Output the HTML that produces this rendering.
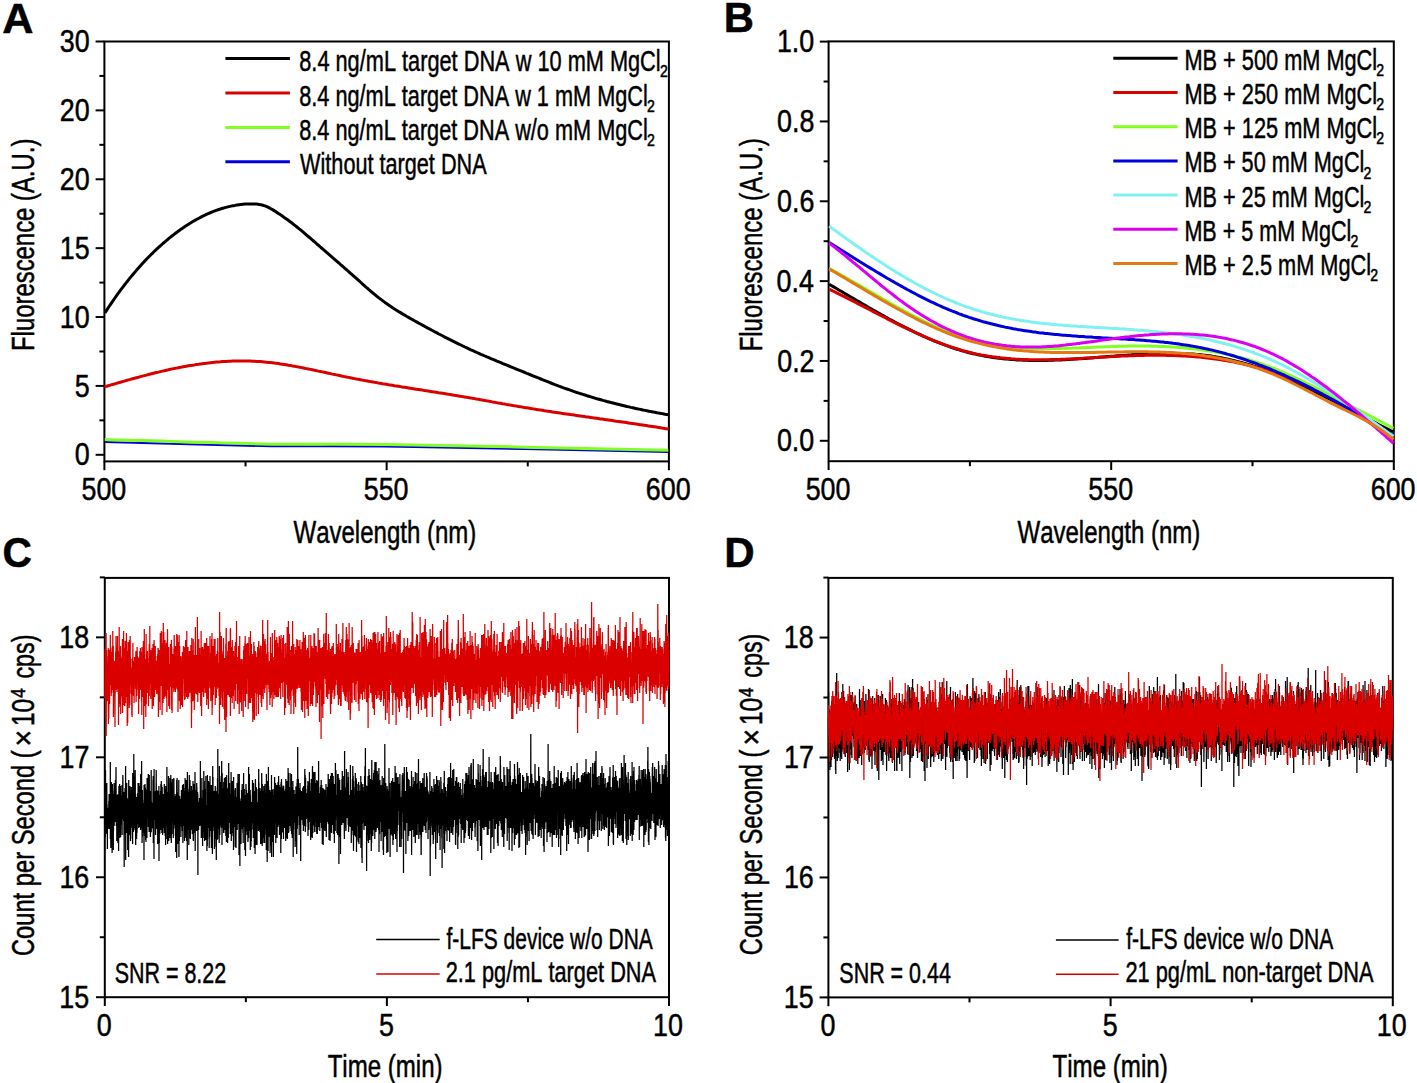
<!DOCTYPE html>
<html><head><meta charset="utf-8"><style>
html,body{margin:0;padding:0;background:#fff;}
svg{display:block;}
text{font-family:"Liberation Sans",sans-serif;font-kerning:none;fill:#000;stroke:#000;stroke-width:0.5px;}
</style></head><body>
<svg width="1417" height="1083" viewBox="0 0 1417 1083">
<rect width="1417" height="1083" fill="#fff"/>
<text transform="translate(2.22 32.90) scale(1.0052 1)" font-size="43" font-weight="bold">A</text>
<rect x="104.40" y="41.50" width="564.50" height="419.90" fill="none" stroke="#000" stroke-width="2"/>
<line x1="95.60" y1="41.50" x2="104.40" y2="41.50" stroke="#000" stroke-width="2" stroke-linecap="butt"/>
<text transform="translate(59.75 52.10) scale(0.8400 1)" font-size="32">30</text>
<line x1="95.60" y1="110.38" x2="104.40" y2="110.38" stroke="#000" stroke-width="2" stroke-linecap="butt"/>
<text transform="translate(59.75 120.98) scale(0.8400 1)" font-size="32">20</text>
<line x1="95.60" y1="179.27" x2="104.40" y2="179.27" stroke="#000" stroke-width="2" stroke-linecap="butt"/>
<text transform="translate(59.75 189.87) scale(0.8400 1)" font-size="32">20</text>
<line x1="95.60" y1="248.15" x2="104.40" y2="248.15" stroke="#000" stroke-width="2" stroke-linecap="butt"/>
<text transform="translate(59.83 258.75) scale(0.8400 1)" font-size="32">15</text>
<line x1="95.60" y1="317.03" x2="104.40" y2="317.03" stroke="#000" stroke-width="2" stroke-linecap="butt"/>
<text transform="translate(59.75 327.63) scale(0.8400 1)" font-size="32">10</text>
<line x1="95.60" y1="385.92" x2="104.40" y2="385.92" stroke="#000" stroke-width="2" stroke-linecap="butt"/>
<text transform="translate(74.78 396.52) scale(0.8400 1)" font-size="32">5</text>
<line x1="95.60" y1="454.80" x2="104.40" y2="454.80" stroke="#000" stroke-width="2" stroke-linecap="butt"/>
<text transform="translate(74.70 465.40) scale(0.8400 1)" font-size="32">0</text>
<line x1="99.40" y1="75.94" x2="104.40" y2="75.94" stroke="#000" stroke-width="2" stroke-linecap="butt"/>
<line x1="99.40" y1="144.83" x2="104.40" y2="144.83" stroke="#000" stroke-width="2" stroke-linecap="butt"/>
<line x1="99.40" y1="213.71" x2="104.40" y2="213.71" stroke="#000" stroke-width="2" stroke-linecap="butt"/>
<line x1="99.40" y1="282.59" x2="104.40" y2="282.59" stroke="#000" stroke-width="2" stroke-linecap="butt"/>
<line x1="99.40" y1="351.48" x2="104.40" y2="351.48" stroke="#000" stroke-width="2" stroke-linecap="butt"/>
<line x1="99.40" y1="420.36" x2="104.40" y2="420.36" stroke="#000" stroke-width="2" stroke-linecap="butt"/>
<line x1="104.40" y1="461.40" x2="104.40" y2="470.20" stroke="#000" stroke-width="2" stroke-linecap="butt"/>
<text transform="translate(81.46 499.90) scale(0.8400 1)" font-size="32">500</text>
<line x1="386.65" y1="461.40" x2="386.65" y2="470.20" stroke="#000" stroke-width="2" stroke-linecap="butt"/>
<text transform="translate(363.71 499.90) scale(0.8400 1)" font-size="32">550</text>
<line x1="668.90" y1="461.40" x2="668.90" y2="470.20" stroke="#000" stroke-width="2" stroke-linecap="butt"/>
<text transform="translate(645.82 499.90) scale(0.8400 1)" font-size="32">600</text>
<line x1="245.53" y1="461.40" x2="245.53" y2="466.40" stroke="#000" stroke-width="2" stroke-linecap="butt"/>
<line x1="527.77" y1="461.40" x2="527.77" y2="466.40" stroke="#000" stroke-width="2" stroke-linecap="butt"/>
<text transform="translate(293.49 543.40) scale(0.7749 1)" font-size="31">Wavelength (nm)</text>
<g transform="translate(34.3 349) rotate(-90)">
<text transform="translate(-1.96 0.00) scale(0.7707 1)" font-size="31">Fluorescence (A.U.)</text>
</g>
<path d="M104.8 442.0C130.8 442.6 211.5 445.1 260.7 445.9C309.9 446.7 332.1 445.7 400.0 446.7C467.9 447.7 623.6 451.1 668.3 452.0" fill="none" stroke="#0000dc" stroke-width="2.2" stroke-linejoin="round"/>
<path d="M104.8 439.4C130.8 440.1 211.5 443.0 260.7 443.9C309.9 444.8 332.1 443.6 400.0 444.7C467.9 445.8 623.6 449.3 668.3 450.2" fill="none" stroke="#80ff20" stroke-width="3" stroke-linejoin="round"/>
<path d="M104.4 386.9 106.4 386.3 108.4 385.7 110.4 385.1 112.4 384.5 114.4 384.0 116.4 383.4 118.4 382.8 120.4 382.2 122.4 381.6 124.4 381.1 126.4 380.5 128.4 379.9 130.4 379.4 132.4 378.8 134.4 378.3 136.4 377.7 138.4 377.2 140.4 376.6 142.4 376.1 144.4 375.6 146.4 375.1 148.4 374.5 150.4 374.0 152.4 373.5 154.4 373.0 156.4 372.5 158.4 372.1 160.4 371.6 162.4 371.1 164.4 370.7 166.4 370.2 168.4 369.8 170.4 369.3 172.4 368.9 174.4 368.5 176.4 368.1 178.4 367.7 180.4 367.3 182.4 366.9 184.4 366.6 186.4 366.2 188.4 365.8 190.4 365.5 192.4 365.2 194.4 364.9 196.4 364.5 198.4 364.3 200.4 364.0 202.4 363.7 204.4 363.4 206.4 363.2 208.4 362.9 210.4 362.7 212.4 362.5 214.4 362.3 216.4 362.1 218.4 361.9 220.4 361.8 222.4 361.6 224.4 361.5 226.4 361.4 228.4 361.3 230.4 361.2 232.4 361.1 234.4 361.0 236.4 361.0 238.4 361.0 240.4 360.9 242.4 360.9 244.4 361.0 246.4 361.0 248.4 361.0 250.4 361.1 252.4 361.2 254.4 361.3 256.4 361.4 258.4 361.5 260.4 361.6 262.4 361.8 264.4 362.0 266.4 362.2 268.4 362.4 270.4 362.6 272.4 362.8 274.4 363.1 276.4 363.3 278.4 363.6 280.4 363.9 282.4 364.2 284.4 364.5 286.4 364.8 288.4 365.2 290.4 365.5 292.4 365.9 294.4 366.2 296.4 366.6 298.4 367.0 300.4 367.4 302.4 367.8 304.4 368.2 306.4 368.6 308.4 369.0 310.4 369.4 312.4 369.8 314.4 370.2 316.4 370.6 318.4 371.1 320.4 371.5 322.4 371.9 324.4 372.3 326.4 372.8 328.4 373.2 330.4 373.6 332.4 374.1 334.4 374.5 336.4 374.9 338.4 375.3 340.4 375.7 342.4 376.2 344.4 376.6 346.4 377.0 348.4 377.4 350.4 377.8 352.4 378.2 354.4 378.6 356.4 379.0 358.4 379.3 360.4 379.7 362.4 380.1 364.4 380.5 366.4 380.8 368.4 381.2 370.4 381.6 372.4 381.9 374.4 382.3 376.4 382.6 378.4 383.0 380.4 383.3 382.4 383.7 384.4 384.0 386.4 384.3 388.4 384.7 390.4 385.0 392.4 385.3 394.4 385.7 396.4 386.0 398.4 386.3 400.4 386.6 402.4 387.0 404.4 387.3 406.4 387.6 408.4 387.9 410.4 388.2 412.4 388.6 414.4 388.9 416.4 389.2 418.4 389.5 420.4 389.8 422.4 390.1 424.4 390.5 426.4 390.8 428.4 391.1 430.4 391.4 432.4 391.7 434.4 392.0 436.4 392.3 438.4 392.7 440.4 393.0 442.4 393.3 444.4 393.6 446.4 393.9 448.4 394.3 450.4 394.6 452.4 394.9 454.4 395.2 456.4 395.6 458.4 395.9 460.4 396.2 462.4 396.6 464.4 396.9 466.4 397.2 468.4 397.6 470.4 397.9 472.4 398.3 474.4 398.6 476.4 399.0 478.4 399.3 480.4 399.7 482.4 400.1 484.4 400.4 486.4 400.8 488.4 401.1 490.4 401.5 492.4 401.9 494.4 402.2 496.4 402.6 498.4 403.0 500.4 403.3 502.4 403.7 504.4 404.0 506.4 404.4 508.4 404.7 510.4 405.1 512.4 405.4 514.4 405.8 516.4 406.1 518.4 406.5 520.4 406.8 522.4 407.1 524.4 407.5 526.4 407.8 528.4 408.1 530.4 408.4 532.4 408.8 534.4 409.1 536.4 409.4 538.4 409.7 540.4 410.0 542.4 410.3 544.4 410.7 546.4 411.0 548.4 411.3 550.4 411.6 552.4 411.9 554.4 412.2 556.4 412.5 558.4 412.8 560.4 413.1 562.4 413.4 564.4 413.7 566.4 414.0 568.4 414.3 570.4 414.6 572.4 414.8 574.4 415.1 576.4 415.4 578.4 415.7 580.4 416.0 582.4 416.3 584.4 416.6 586.4 416.9 588.4 417.1 590.4 417.4 592.4 417.7 594.4 418.0 596.4 418.3 598.4 418.6 600.4 418.9 602.4 419.1 604.4 419.4 606.4 419.7 608.4 420.0 610.4 420.3 612.4 420.6 614.4 420.9 616.4 421.2 618.4 421.4 620.4 421.7 622.4 422.0 624.4 422.3 626.4 422.6 628.4 422.9 630.4 423.2 632.4 423.5 634.4 423.8 636.4 424.1 638.4 424.4 640.4 424.7 642.4 425.0 644.4 425.3 646.4 425.6 648.4 425.9 650.4 426.2 652.4 426.5 654.4 426.8 656.4 427.1 658.4 427.4 660.4 427.7 662.4 428.1 664.4 428.4 666.4 428.7 668.4 429.0 668.7 429.1" fill="none" stroke="#da0000" stroke-width="3" stroke-linejoin="round"/>
<path d="M104.9 312.9 106.9 309.9 108.9 306.8 110.9 303.8 112.9 300.9 114.9 298.0 116.9 295.2 118.9 292.4 120.9 289.7 122.9 287.1 124.9 284.4 126.9 281.9 128.9 279.3 130.9 276.9 132.9 274.5 134.9 272.1 136.9 269.8 138.9 267.5 140.9 265.2 142.9 263.0 144.9 260.9 146.9 258.8 148.9 256.7 150.9 254.7 152.9 252.8 154.9 250.8 156.9 248.9 158.9 247.1 160.9 245.3 162.9 243.5 164.9 241.8 166.9 240.1 168.9 238.4 170.9 236.8 172.9 235.3 174.9 233.7 176.9 232.2 178.9 230.7 180.9 229.3 182.9 227.9 184.9 226.6 186.9 225.3 188.9 224.0 190.9 222.7 192.9 221.5 194.9 220.4 196.9 219.3 198.9 218.2 200.9 217.1 202.9 216.1 204.9 215.2 206.9 214.2 208.9 213.3 210.9 212.5 212.9 211.7 214.9 210.9 216.9 210.2 218.9 209.5 220.9 208.8 222.9 208.2 224.9 207.6 226.9 207.1 228.9 206.6 230.9 206.1 232.9 205.7 234.9 205.4 236.9 205.0 238.9 204.7 240.9 204.5 242.9 204.3 244.9 204.1 246.9 204.0 248.9 203.9 250.9 203.9 252.9 203.9 254.9 204.0 256.9 204.1 258.9 204.4 260.9 204.8 262.9 205.3 264.9 205.9 266.9 206.7 268.9 207.6 270.9 208.7 272.9 209.9 274.9 211.1 276.9 212.4 278.9 213.8 280.9 215.1 282.9 216.5 284.9 217.9 286.9 219.3 288.9 220.8 290.9 222.3 292.9 223.8 294.9 225.4 296.9 227.0 298.9 228.6 300.9 230.2 302.9 231.9 304.9 233.6 306.9 235.3 308.9 237.0 310.9 238.7 312.9 240.5 314.9 242.2 316.9 244.0 318.9 245.7 320.9 247.5 322.9 249.2 324.9 250.9 326.9 252.7 328.9 254.4 330.9 256.1 332.9 257.9 334.9 259.6 336.9 261.3 338.9 263.0 340.9 264.8 342.9 266.5 344.9 268.3 346.9 270.0 348.9 271.8 350.9 273.6 352.9 275.3 354.9 277.1 356.9 278.9 358.9 280.7 360.9 282.5 362.9 284.3 364.9 286.1 366.9 287.8 368.9 289.6 370.9 291.3 372.9 293.0 374.9 294.6 376.9 296.3 378.9 297.9 380.9 299.4 382.9 300.9 384.9 302.4 386.9 303.8 388.9 305.2 390.9 306.6 392.9 307.9 394.9 309.2 396.9 310.5 398.9 311.7 400.9 312.9 402.9 314.1 404.9 315.3 406.9 316.5 408.9 317.6 410.9 318.8 412.9 319.9 414.9 321.0 416.9 322.1 418.9 323.2 420.9 324.3 422.9 325.4 424.9 326.5 426.9 327.6 428.9 328.7 430.9 329.7 432.9 330.8 434.9 331.9 436.9 332.9 438.9 334.0 440.9 335.0 442.9 336.0 444.9 337.1 446.9 338.1 448.9 339.1 450.9 340.1 452.9 341.1 454.9 342.1 456.9 343.1 458.9 344.1 460.9 345.0 462.9 346.0 464.9 347.0 466.9 347.9 468.9 348.8 470.9 349.8 472.9 350.7 474.9 351.6 476.9 352.5 478.9 353.4 480.9 354.3 482.9 355.1 484.9 356.0 486.9 356.9 488.9 357.7 490.9 358.6 492.9 359.4 494.9 360.2 496.9 361.1 498.9 361.9 500.9 362.7 502.9 363.6 504.9 364.4 506.9 365.2 508.9 366.0 510.9 366.8 512.9 367.6 514.9 368.5 516.9 369.3 518.9 370.1 520.9 370.9 522.9 371.7 524.9 372.5 526.9 373.4 528.9 374.2 530.9 375.0 532.9 375.8 534.9 376.6 536.9 377.4 538.9 378.2 540.9 379.0 542.9 379.8 544.9 380.6 546.9 381.4 548.9 382.2 550.9 383.0 552.9 383.8 554.9 384.6 556.9 385.3 558.9 386.1 560.9 386.8 562.9 387.6 564.9 388.3 566.9 389.0 568.9 389.7 570.9 390.4 572.9 391.1 574.9 391.8 576.9 392.5 578.9 393.1 580.9 393.8 582.9 394.4 584.9 395.0 586.9 395.7 588.9 396.3 590.9 396.9 592.9 397.5 594.9 398.1 596.9 398.7 598.9 399.2 600.9 399.8 602.9 400.4 604.9 400.9 606.9 401.5 608.9 402.0 610.9 402.5 612.9 403.0 614.9 403.5 616.9 404.0 618.9 404.5 620.9 405.0 622.9 405.5 624.9 406.0 626.9 406.5 628.9 406.9 630.9 407.4 632.9 407.8 634.9 408.3 636.9 408.7 638.9 409.1 640.9 409.5 642.9 410.0 644.9 410.4 646.9 410.8 648.9 411.2 650.9 411.6 652.9 411.9 654.9 412.3 656.9 412.7 658.9 413.1 660.9 413.4 662.9 413.8 664.9 414.2 666.9 414.5 668.7 414.8" fill="none" stroke="#000" stroke-width="3" stroke-linejoin="round"/>
<line x1="225.40" y1="58.60" x2="289.90" y2="58.60" stroke="#000" stroke-width="3" stroke-linecap="butt"/>
<text transform="translate(299.25 71.20) scale(0.7256 1)" font-size="30">8.4 ng/mL target DNA w 10 mM MgCl</text>
<text transform="translate(659.99 77.40) scale(0.8800 1)" font-size="16">2</text>
<line x1="225.40" y1="93.00" x2="289.90" y2="93.00" stroke="#da0000" stroke-width="3" stroke-linecap="butt"/>
<text transform="translate(299.26 105.60) scale(0.7237 1)" font-size="30">8.4 ng/mL target DNA w 1 mM MgCl</text>
<text transform="translate(646.99 111.80) scale(0.8800 1)" font-size="16">2</text>
<line x1="225.40" y1="127.40" x2="289.90" y2="127.40" stroke="#80ff20" stroke-width="3" stroke-linecap="butt"/>
<text transform="translate(299.26 140.00) scale(0.7237 1)" font-size="30">8.4 ng/mL target DNA w/o mM MgCl</text>
<text transform="translate(646.99 146.20) scale(0.8800 1)" font-size="16">2</text>
<line x1="225.40" y1="161.80" x2="289.90" y2="161.80" stroke="#0000dc" stroke-width="3" stroke-linecap="butt"/>
<text transform="translate(300.10 174.40) scale(0.7218 1)" font-size="30">Without target DNA</text>
<text transform="translate(723.70 32.30) scale(0.9955 1)" font-size="42" font-weight="bold">B</text>
<rect x="828.60" y="41.40" width="565.20" height="419.80" fill="none" stroke="#000" stroke-width="2"/>
<line x1="819.80" y1="41.60" x2="828.60" y2="41.60" stroke="#000" stroke-width="2" stroke-linecap="butt"/>
<text transform="translate(776.88 52.20) scale(0.8400 1)" font-size="32">1.0</text>
<line x1="819.80" y1="121.44" x2="828.60" y2="121.44" stroke="#000" stroke-width="2" stroke-linecap="butt"/>
<text transform="translate(777.00 132.04) scale(0.8400 1)" font-size="32">0.8</text>
<line x1="819.80" y1="201.28" x2="828.60" y2="201.28" stroke="#000" stroke-width="2" stroke-linecap="butt"/>
<text transform="translate(777.01 211.88) scale(0.8400 1)" font-size="32">0.6</text>
<line x1="819.80" y1="281.12" x2="828.60" y2="281.12" stroke="#000" stroke-width="2" stroke-linecap="butt"/>
<text transform="translate(776.62 291.72) scale(0.8400 1)" font-size="32">0.4</text>
<line x1="819.80" y1="360.96" x2="828.60" y2="360.96" stroke="#000" stroke-width="2" stroke-linecap="butt"/>
<text transform="translate(777.19 371.56) scale(0.8400 1)" font-size="32">0.2</text>
<line x1="819.80" y1="440.80" x2="828.60" y2="440.80" stroke="#000" stroke-width="2" stroke-linecap="butt"/>
<text transform="translate(776.88 451.40) scale(0.8400 1)" font-size="32">0.0</text>
<line x1="823.60" y1="81.52" x2="828.60" y2="81.52" stroke="#000" stroke-width="2" stroke-linecap="butt"/>
<line x1="823.60" y1="161.36" x2="828.60" y2="161.36" stroke="#000" stroke-width="2" stroke-linecap="butt"/>
<line x1="823.60" y1="241.20" x2="828.60" y2="241.20" stroke="#000" stroke-width="2" stroke-linecap="butt"/>
<line x1="823.60" y1="321.04" x2="828.60" y2="321.04" stroke="#000" stroke-width="2" stroke-linecap="butt"/>
<line x1="823.60" y1="400.88" x2="828.60" y2="400.88" stroke="#000" stroke-width="2" stroke-linecap="butt"/>
<line x1="828.60" y1="461.20" x2="828.60" y2="470.00" stroke="#000" stroke-width="2" stroke-linecap="butt"/>
<text transform="translate(805.66 499.70) scale(0.8400 1)" font-size="32">500</text>
<line x1="1111.20" y1="461.20" x2="1111.20" y2="470.00" stroke="#000" stroke-width="2" stroke-linecap="butt"/>
<text transform="translate(1088.26 499.70) scale(0.8400 1)" font-size="32">550</text>
<line x1="1393.80" y1="461.20" x2="1393.80" y2="470.00" stroke="#000" stroke-width="2" stroke-linecap="butt"/>
<text transform="translate(1370.72 499.70) scale(0.8400 1)" font-size="32">600</text>
<line x1="969.90" y1="461.20" x2="969.90" y2="466.20" stroke="#000" stroke-width="2" stroke-linecap="butt"/>
<line x1="1252.50" y1="461.20" x2="1252.50" y2="466.20" stroke="#000" stroke-width="2" stroke-linecap="butt"/>
<text transform="translate(1017.49 543.40) scale(0.7749 1)" font-size="31">Wavelength (nm)</text>
<g transform="translate(761.5 349.4) rotate(-90)">
<text transform="translate(-1.97 0.00) scale(0.7737 1)" font-size="31">Fluorescence (A.U.)</text>
</g>
<path d="M829.2 284.3 831.2 285.5 833.2 286.6 835.2 287.8 837.2 289.0 839.2 290.2 841.2 291.3 843.2 292.5 845.2 293.7 847.2 294.9 849.2 296.0 851.2 297.2 853.2 298.4 855.2 299.6 857.2 300.7 859.2 301.9 861.2 303.1 863.2 304.2 865.2 305.4 867.2 306.6 869.2 307.7 871.2 308.9 873.2 310.0 875.2 311.1 877.2 312.3 879.2 313.4 881.2 314.5 883.2 315.6 885.2 316.8 887.2 317.9 889.2 319.0 891.2 320.0 893.2 321.1 895.2 322.2 897.2 323.3 899.2 324.3 901.2 325.3 903.2 326.4 905.2 327.4 907.2 328.4 909.2 329.4 911.2 330.4 913.2 331.4 915.2 332.4 917.2 333.3 919.2 334.2 921.2 335.2 923.2 336.1 925.2 337.0 927.2 337.9 929.2 338.8 931.2 339.6 933.2 340.5 935.2 341.3 937.2 342.1 939.2 342.9 941.2 343.7 943.2 344.4 945.2 345.2 947.2 345.9 949.2 346.6 951.2 347.3 953.2 348.0 955.2 348.7 957.2 349.3 959.2 349.9 961.2 350.5 963.2 351.1 965.2 351.6 967.2 352.2 969.2 352.7 971.2 353.2 973.2 353.7 975.2 354.1 977.2 354.6 979.2 355.0 981.2 355.4 983.2 355.8 985.2 356.2 987.2 356.5 989.2 356.8 991.2 357.2 993.2 357.5 995.2 357.7 997.2 358.0 999.2 358.3 1001.2 358.5 1003.2 358.7 1005.2 358.9 1007.2 359.1 1009.2 359.3 1011.2 359.5 1013.2 359.6 1015.2 359.7 1017.2 359.9 1019.2 360.0 1021.2 360.1 1023.2 360.2 1025.2 360.2 1027.2 360.3 1029.2 360.4 1031.2 360.4 1033.2 360.4 1035.2 360.4 1037.2 360.5 1039.2 360.5 1041.2 360.4 1043.2 360.4 1045.2 360.4 1047.2 360.4 1049.2 360.3 1051.2 360.3 1053.2 360.2 1055.2 360.1 1057.2 360.1 1059.2 360.0 1061.2 359.9 1063.2 359.8 1065.2 359.7 1067.2 359.6 1069.2 359.5 1071.2 359.3 1073.2 359.2 1075.2 359.1 1077.2 359.0 1079.2 358.8 1081.2 358.7 1083.2 358.5 1085.2 358.4 1087.2 358.2 1089.2 358.1 1091.2 357.9 1093.2 357.8 1095.2 357.6 1097.2 357.5 1099.2 357.3 1101.2 357.1 1103.2 357.0 1105.2 356.8 1107.2 356.6 1109.2 356.5 1111.2 356.3 1113.2 356.2 1115.2 356.0 1117.2 355.8 1119.2 355.7 1121.2 355.5 1123.2 355.4 1125.2 355.2 1127.2 355.1 1129.2 354.9 1131.2 354.8 1133.2 354.6 1135.2 354.5 1137.2 354.4 1139.2 354.3 1141.2 354.1 1143.2 354.0 1145.2 353.9 1147.2 353.8 1149.2 353.7 1151.2 353.7 1153.2 353.6 1155.2 353.5 1157.2 353.5 1159.2 353.4 1161.2 353.4 1163.2 353.3 1165.2 353.3 1167.2 353.3 1169.2 353.3 1171.2 353.3 1173.2 353.3 1175.2 353.3 1177.2 353.4 1179.2 353.4 1181.2 353.5 1183.2 353.5 1185.2 353.6 1187.2 353.7 1189.2 353.9 1191.2 354.0 1193.2 354.1 1195.2 354.3 1197.2 354.5 1199.2 354.6 1201.2 354.8 1203.2 355.1 1205.2 355.3 1207.2 355.5 1209.2 355.8 1211.2 356.1 1213.2 356.4 1215.2 356.7 1217.2 357.1 1219.2 357.4 1221.2 357.8 1223.2 358.2 1225.2 358.6 1227.2 359.0 1229.2 359.4 1231.2 359.9 1233.2 360.4 1235.2 360.9 1237.2 361.4 1239.2 361.9 1241.2 362.4 1243.2 363.0 1245.2 363.5 1247.2 364.1 1249.2 364.7 1251.2 365.3 1253.2 366.0 1255.2 366.6 1257.2 367.3 1259.2 367.9 1261.2 368.6 1263.2 369.3 1265.2 370.0 1267.2 370.7 1269.2 371.5 1271.2 372.2 1273.2 373.0 1275.2 373.8 1277.2 374.6 1279.2 375.4 1281.2 376.2 1283.2 377.1 1285.2 377.9 1287.2 378.8 1289.2 379.6 1291.2 380.5 1293.2 381.4 1295.2 382.3 1297.2 383.2 1299.2 384.1 1301.2 385.1 1303.2 386.0 1305.2 386.9 1307.2 387.9 1309.2 388.9 1311.2 389.8 1313.2 390.8 1315.2 391.8 1317.2 392.8 1319.2 393.8 1321.2 394.8 1323.2 395.8 1325.2 396.8 1327.2 397.8 1329.2 398.8 1331.2 399.9 1333.2 400.9 1335.2 401.9 1337.2 403.0 1339.2 404.0 1341.2 405.0 1343.2 406.1 1345.2 407.1 1347.2 408.2 1349.2 409.2 1351.2 410.2 1353.2 411.3 1355.2 412.3 1357.2 413.4 1359.2 414.4 1361.2 415.5 1363.2 416.5 1365.2 417.6 1367.2 418.6 1369.2 419.6 1371.2 420.7 1373.2 421.7 1375.2 422.7 1377.2 423.7 1379.2 424.8 1381.2 425.8 1383.2 426.8 1385.2 427.8 1387.2 428.8 1389.2 429.8 1391.2 430.8 1393.2 431.7 1393.5 431.9" fill="none" stroke="#000" stroke-width="3" stroke-linejoin="round"/>
<path d="M829.2 289.2 831.2 290.2 833.2 291.2 835.2 292.1 837.2 293.1 839.2 294.1 841.2 295.1 843.2 296.1 845.2 297.1 847.2 298.1 849.2 299.2 851.2 300.2 853.2 301.2 855.2 302.2 857.2 303.3 859.2 304.3 861.2 305.3 863.2 306.4 865.2 307.4 867.2 308.4 869.2 309.5 871.2 310.5 873.2 311.6 875.2 312.6 877.2 313.6 879.2 314.7 881.2 315.7 883.2 316.7 885.2 317.7 887.2 318.8 889.2 319.8 891.2 320.8 893.2 321.8 895.2 322.8 897.2 323.8 899.2 324.8 901.2 325.8 903.2 326.8 905.2 327.7 907.2 328.7 909.2 329.6 911.2 330.6 913.2 331.5 915.2 332.5 917.2 333.4 919.2 334.3 921.2 335.2 923.2 336.1 925.2 336.9 927.2 337.8 929.2 338.6 931.2 339.5 933.2 340.3 935.2 341.1 937.2 341.9 939.2 342.7 941.2 343.4 943.2 344.2 945.2 344.9 947.2 345.6 949.2 346.3 951.2 347.0 953.2 347.6 955.2 348.3 957.2 348.9 959.2 349.5 961.2 350.1 963.2 350.7 965.2 351.2 967.2 351.7 969.2 352.2 971.2 352.7 973.2 353.2 975.2 353.6 977.2 354.1 979.2 354.5 981.2 354.9 983.2 355.2 985.2 355.6 987.2 355.9 989.2 356.3 991.2 356.6 993.2 356.9 995.2 357.1 997.2 357.4 999.2 357.6 1001.2 357.9 1003.2 358.1 1005.2 358.3 1007.2 358.5 1009.2 358.6 1011.2 358.8 1013.2 358.9 1015.2 359.1 1017.2 359.2 1019.2 359.3 1021.2 359.4 1023.2 359.5 1025.2 359.6 1027.2 359.6 1029.2 359.7 1031.2 359.7 1033.2 359.7 1035.2 359.8 1037.2 359.8 1039.2 359.8 1041.2 359.8 1043.2 359.8 1045.2 359.8 1047.2 359.7 1049.2 359.7 1051.2 359.6 1053.2 359.6 1055.2 359.5 1057.2 359.5 1059.2 359.4 1061.2 359.3 1063.2 359.3 1065.2 359.2 1067.2 359.1 1069.2 359.0 1071.2 358.9 1073.2 358.8 1075.2 358.7 1077.2 358.6 1079.2 358.5 1081.2 358.4 1083.2 358.3 1085.2 358.1 1087.2 358.0 1089.2 357.9 1091.2 357.8 1093.2 357.7 1095.2 357.6 1097.2 357.4 1099.2 357.3 1101.2 357.2 1103.2 357.1 1105.2 357.0 1107.2 356.9 1109.2 356.7 1111.2 356.6 1113.2 356.5 1115.2 356.4 1117.2 356.3 1119.2 356.2 1121.2 356.1 1123.2 356.0 1125.2 356.0 1127.2 355.9 1129.2 355.8 1131.2 355.7 1133.2 355.7 1135.2 355.6 1137.2 355.5 1139.2 355.5 1141.2 355.4 1143.2 355.4 1145.2 355.3 1147.2 355.3 1149.2 355.3 1151.2 355.3 1153.2 355.3 1155.2 355.3 1157.2 355.3 1159.2 355.3 1161.2 355.3 1163.2 355.3 1165.2 355.3 1167.2 355.4 1169.2 355.4 1171.2 355.5 1173.2 355.5 1175.2 355.6 1177.2 355.7 1179.2 355.8 1181.2 355.9 1183.2 356.0 1185.2 356.1 1187.2 356.2 1189.2 356.3 1191.2 356.5 1193.2 356.6 1195.2 356.8 1197.2 356.9 1199.2 357.1 1201.2 357.3 1203.2 357.5 1205.2 357.7 1207.2 358.0 1209.2 358.2 1211.2 358.4 1213.2 358.7 1215.2 359.0 1217.2 359.2 1219.2 359.5 1221.2 359.8 1223.2 360.2 1225.2 360.5 1227.2 360.8 1229.2 361.2 1231.2 361.5 1233.2 361.9 1235.2 362.3 1237.2 362.7 1239.2 363.1 1241.2 363.6 1243.2 364.0 1245.2 364.5 1247.2 365.0 1249.2 365.5 1251.2 366.0 1253.2 366.5 1255.2 367.0 1257.2 367.6 1259.2 368.1 1261.2 368.7 1263.2 369.3 1265.2 369.9 1267.2 370.5 1269.2 371.2 1271.2 371.8 1273.2 372.5 1275.2 373.2 1277.2 373.9 1279.2 374.6 1281.2 375.4 1283.2 376.1 1285.2 376.9 1287.2 377.7 1289.2 378.5 1291.2 379.3 1293.2 380.2 1295.2 381.0 1297.2 381.9 1299.2 382.8 1301.2 383.7 1303.2 384.6 1305.2 385.5 1307.2 386.5 1309.2 387.4 1311.2 388.4 1313.2 389.4 1315.2 390.4 1317.2 391.4 1319.2 392.4 1321.2 393.5 1323.2 394.5 1325.2 395.6 1327.2 396.7 1329.2 397.8 1331.2 398.9 1333.2 400.0 1335.2 401.2 1337.2 402.3 1339.2 403.5 1341.2 404.7 1343.2 405.9 1345.2 407.1 1347.2 408.3 1349.2 409.5 1351.2 410.7 1353.2 412.0 1355.2 413.3 1357.2 414.6 1359.2 415.8 1361.2 417.1 1363.2 418.5 1365.2 419.8 1367.2 421.1 1369.2 422.5 1371.2 423.8 1373.2 425.2 1375.2 426.6 1377.2 428.0 1379.2 429.4 1381.2 430.8 1383.2 432.2 1385.2 433.7 1387.2 435.1 1389.2 436.6 1391.2 438.1 1393.2 439.5 1393.5 439.8" fill="none" stroke="#da0000" stroke-width="3" stroke-linejoin="round"/>
<path d="M829.2 268.4 831.2 269.5 833.2 270.6 835.2 271.7 837.2 272.8 839.2 273.9 841.2 275.0 843.2 276.1 845.2 277.3 847.2 278.4 849.2 279.5 851.2 280.7 853.2 281.8 855.2 283.0 857.2 284.1 859.2 285.3 861.2 286.4 863.2 287.6 865.2 288.8 867.2 289.9 869.2 291.1 871.2 292.3 873.2 293.4 875.2 294.6 877.2 295.7 879.2 296.9 881.2 298.1 883.2 299.2 885.2 300.4 887.2 301.5 889.2 302.6 891.2 303.8 893.2 304.9 895.2 306.0 897.2 307.2 899.2 308.3 901.2 309.4 903.2 310.5 905.2 311.6 907.2 312.6 909.2 313.7 911.2 314.8 913.2 315.8 915.2 316.9 917.2 317.9 919.2 318.9 921.2 319.9 923.2 320.9 925.2 321.9 927.2 322.8 929.2 323.8 931.2 324.7 933.2 325.7 935.2 326.6 937.2 327.5 939.2 328.3 941.2 329.2 943.2 330.0 945.2 330.9 947.2 331.7 949.2 332.5 951.2 333.2 953.2 334.0 955.2 334.7 957.2 335.4 959.2 336.1 961.2 336.8 963.2 337.4 965.2 338.1 967.2 338.7 969.2 339.2 971.2 339.8 973.2 340.3 975.2 340.9 977.2 341.4 979.2 341.8 981.2 342.3 983.2 342.7 985.2 343.1 987.2 343.5 989.2 343.9 991.2 344.3 993.2 344.6 995.2 345.0 997.2 345.3 999.2 345.6 1001.2 345.9 1003.2 346.1 1005.2 346.4 1007.2 346.6 1009.2 346.8 1011.2 347.0 1013.2 347.2 1015.2 347.4 1017.2 347.6 1019.2 347.7 1021.2 347.9 1023.2 348.0 1025.2 348.1 1027.2 348.2 1029.2 348.3 1031.2 348.4 1033.2 348.4 1035.2 348.5 1037.2 348.5 1039.2 348.6 1041.2 348.6 1043.2 348.6 1045.2 348.6 1047.2 348.7 1049.2 348.6 1051.2 348.6 1053.2 348.6 1055.2 348.6 1057.2 348.6 1059.2 348.5 1061.2 348.5 1063.2 348.4 1065.2 348.4 1067.2 348.3 1069.2 348.3 1071.2 348.2 1073.2 348.1 1075.2 348.1 1077.2 348.0 1079.2 347.9 1081.2 347.8 1083.2 347.7 1085.2 347.7 1087.2 347.6 1089.2 347.5 1091.2 347.4 1093.2 347.3 1095.2 347.2 1097.2 347.1 1099.2 347.1 1101.2 347.0 1103.2 346.9 1105.2 346.8 1107.2 346.7 1109.2 346.7 1111.2 346.6 1113.2 346.5 1115.2 346.5 1117.2 346.4 1119.2 346.3 1121.2 346.3 1123.2 346.2 1125.2 346.2 1127.2 346.2 1129.2 346.1 1131.2 346.1 1133.2 346.1 1135.2 346.1 1137.2 346.0 1139.2 346.0 1141.2 346.0 1143.2 346.1 1145.2 346.1 1147.2 346.1 1149.2 346.1 1151.2 346.2 1153.2 346.2 1155.2 346.2 1157.2 346.3 1159.2 346.4 1161.2 346.4 1163.2 346.5 1165.2 346.6 1167.2 346.7 1169.2 346.8 1171.2 346.9 1173.2 347.0 1175.2 347.2 1177.2 347.3 1179.2 347.5 1181.2 347.6 1183.2 347.8 1185.2 348.0 1187.2 348.2 1189.2 348.4 1191.2 348.6 1193.2 348.8 1195.2 349.0 1197.2 349.3 1199.2 349.5 1201.2 349.8 1203.2 350.1 1205.2 350.4 1207.2 350.7 1209.2 351.0 1211.2 351.3 1213.2 351.6 1215.2 352.0 1217.2 352.3 1219.2 352.7 1221.2 353.1 1223.2 353.5 1225.2 353.9 1227.2 354.3 1229.2 354.8 1231.2 355.2 1233.2 355.7 1235.2 356.2 1237.2 356.6 1239.2 357.2 1241.2 357.7 1243.2 358.2 1245.2 358.8 1247.2 359.3 1249.2 359.9 1251.2 360.5 1253.2 361.1 1255.2 361.8 1257.2 362.4 1259.2 363.1 1261.2 363.7 1263.2 364.4 1265.2 365.1 1267.2 365.9 1269.2 366.6 1271.2 367.4 1273.2 368.1 1275.2 368.9 1277.2 369.7 1279.2 370.6 1281.2 371.4 1283.2 372.3 1285.2 373.1 1287.2 374.0 1289.2 374.9 1291.2 375.8 1293.2 376.8 1295.2 377.7 1297.2 378.6 1299.2 379.6 1301.2 380.6 1303.2 381.5 1305.2 382.5 1307.2 383.5 1309.2 384.5 1311.2 385.5 1313.2 386.5 1315.2 387.5 1317.2 388.6 1319.2 389.6 1321.2 390.6 1323.2 391.6 1325.2 392.7 1327.2 393.7 1329.2 394.8 1331.2 395.8 1333.2 396.8 1335.2 397.9 1337.2 398.9 1339.2 399.9 1341.2 401.0 1343.2 402.0 1345.2 403.1 1347.2 404.1 1349.2 405.1 1351.2 406.2 1353.2 407.2 1355.2 408.2 1357.2 409.3 1359.2 410.3 1361.2 411.3 1363.2 412.4 1365.2 413.4 1367.2 414.5 1369.2 415.5 1371.2 416.5 1373.2 417.6 1375.2 418.6 1377.2 419.7 1379.2 420.7 1381.2 421.8 1383.2 422.8 1385.2 423.9 1387.2 425.0 1389.2 426.0 1391.2 427.1 1393.2 428.2 1393.5 428.3" fill="none" stroke="#80ff20" stroke-width="3" stroke-linejoin="round"/>
<path d="M829.2 242.6 831.2 243.8 833.2 245.1 835.2 246.3 837.2 247.6 839.2 248.8 841.2 250.1 843.2 251.3 845.2 252.6 847.2 253.8 849.2 255.1 851.2 256.3 853.2 257.6 855.2 258.8 857.2 260.0 859.2 261.3 861.2 262.5 863.2 263.7 865.2 265.0 867.2 266.2 869.2 267.4 871.2 268.6 873.2 269.8 875.2 271.0 877.2 272.2 879.2 273.4 881.2 274.6 883.2 275.8 885.2 277.0 887.2 278.2 889.2 279.3 891.2 280.5 893.2 281.6 895.2 282.8 897.2 283.9 899.2 285.0 901.2 286.1 903.2 287.3 905.2 288.4 907.2 289.5 909.2 290.5 911.2 291.6 913.2 292.7 915.2 293.7 917.2 294.8 919.2 295.8 921.2 296.8 923.2 297.8 925.2 298.8 927.2 299.8 929.2 300.8 931.2 301.8 933.2 302.7 935.2 303.6 937.2 304.6 939.2 305.5 941.2 306.4 943.2 307.3 945.2 308.1 947.2 309.0 949.2 309.8 951.2 310.6 953.2 311.5 955.2 312.2 957.2 313.0 959.2 313.8 961.2 314.5 963.2 315.3 965.2 316.0 967.2 316.7 969.2 317.4 971.2 318.0 973.2 318.7 975.2 319.3 977.2 319.9 979.2 320.5 981.2 321.1 983.2 321.7 985.2 322.2 987.2 322.8 989.2 323.3 991.2 323.8 993.2 324.3 995.2 324.8 997.2 325.3 999.2 325.8 1001.2 326.2 1003.2 326.6 1005.2 327.1 1007.2 327.5 1009.2 327.9 1011.2 328.3 1013.2 328.7 1015.2 329.0 1017.2 329.4 1019.2 329.7 1021.2 330.1 1023.2 330.4 1025.2 330.7 1027.2 331.0 1029.2 331.3 1031.2 331.6 1033.2 331.9 1035.2 332.1 1037.2 332.4 1039.2 332.7 1041.2 332.9 1043.2 333.1 1045.2 333.4 1047.2 333.6 1049.2 333.8 1051.2 334.0 1053.2 334.2 1055.2 334.4 1057.2 334.6 1059.2 334.8 1061.2 335.0 1063.2 335.2 1065.2 335.3 1067.2 335.5 1069.2 335.6 1071.2 335.8 1073.2 336.0 1075.2 336.1 1077.2 336.2 1079.2 336.4 1081.2 336.5 1083.2 336.6 1085.2 336.8 1087.2 336.9 1089.2 337.0 1091.2 337.1 1093.2 337.3 1095.2 337.4 1097.2 337.5 1099.2 337.6 1101.2 337.7 1103.2 337.9 1105.2 338.0 1107.2 338.1 1109.2 338.2 1111.2 338.3 1113.2 338.4 1115.2 338.5 1117.2 338.6 1119.2 338.8 1121.2 338.9 1123.2 339.0 1125.2 339.1 1127.2 339.2 1129.2 339.4 1131.2 339.5 1133.2 339.6 1135.2 339.8 1137.2 339.9 1139.2 340.0 1141.2 340.2 1143.2 340.3 1145.2 340.5 1147.2 340.7 1149.2 340.8 1151.2 341.0 1153.2 341.2 1155.2 341.3 1157.2 341.5 1159.2 341.7 1161.2 341.9 1163.2 342.1 1165.2 342.4 1167.2 342.6 1169.2 342.8 1171.2 343.0 1173.2 343.3 1175.2 343.5 1177.2 343.8 1179.2 344.1 1181.2 344.4 1183.2 344.7 1185.2 345.0 1187.2 345.3 1189.2 345.6 1191.2 345.9 1193.2 346.3 1195.2 346.6 1197.2 347.0 1199.2 347.4 1201.2 347.8 1203.2 348.2 1205.2 348.6 1207.2 349.0 1209.2 349.5 1211.2 349.9 1213.2 350.4 1215.2 350.9 1217.2 351.4 1219.2 351.9 1221.2 352.4 1223.2 352.9 1225.2 353.5 1227.2 354.1 1229.2 354.6 1231.2 355.2 1233.2 355.8 1235.2 356.4 1237.2 357.1 1239.2 357.7 1241.2 358.3 1243.2 359.0 1245.2 359.7 1247.2 360.4 1249.2 361.1 1251.2 361.8 1253.2 362.5 1255.2 363.2 1257.2 364.0 1259.2 364.8 1261.2 365.5 1263.2 366.3 1265.2 367.1 1267.2 367.9 1269.2 368.7 1271.2 369.5 1273.2 370.4 1275.2 371.2 1277.2 372.1 1279.2 373.0 1281.2 373.8 1283.2 374.7 1285.2 375.6 1287.2 376.5 1289.2 377.5 1291.2 378.4 1293.2 379.3 1295.2 380.3 1297.2 381.2 1299.2 382.2 1301.2 383.2 1303.2 384.2 1305.2 385.2 1307.2 386.2 1309.2 387.2 1311.2 388.2 1313.2 389.2 1315.2 390.3 1317.2 391.3 1319.2 392.4 1321.2 393.4 1323.2 394.5 1325.2 395.6 1327.2 396.6 1329.2 397.7 1331.2 398.8 1333.2 399.9 1335.2 401.0 1337.2 402.1 1339.2 403.3 1341.2 404.4 1343.2 405.5 1345.2 406.7 1347.2 407.8 1349.2 408.9 1351.2 410.1 1353.2 411.3 1355.2 412.4 1357.2 413.6 1359.2 414.8 1361.2 415.9 1363.2 417.1 1365.2 418.3 1367.2 419.5 1369.2 420.7 1371.2 421.9 1373.2 423.1 1375.2 424.3 1377.2 425.5 1379.2 426.7 1381.2 428.0 1383.2 429.2 1385.2 430.4 1387.2 431.6 1389.2 432.9 1391.2 434.1 1393.2 435.3 1393.5 435.5" fill="none" stroke="#0000dc" stroke-width="3" stroke-linejoin="round"/>
<path d="M829.2 226.1 831.2 227.6 833.2 229.1 835.2 230.6 837.2 232.0 839.2 233.5 841.2 234.9 843.2 236.4 845.2 237.8 847.2 239.2 849.2 240.7 851.2 242.1 853.2 243.5 855.2 244.9 857.2 246.3 859.2 247.7 861.2 249.1 863.2 250.5 865.2 251.9 867.2 253.2 869.2 254.6 871.2 255.9 873.2 257.3 875.2 258.6 877.2 259.9 879.2 261.3 881.2 262.6 883.2 263.9 885.2 265.1 887.2 266.4 889.2 267.7 891.2 269.0 893.2 270.2 895.2 271.4 897.2 272.7 899.2 273.9 901.2 275.1 903.2 276.3 905.2 277.5 907.2 278.6 909.2 279.8 911.2 280.9 913.2 282.0 915.2 283.2 917.2 284.3 919.2 285.4 921.2 286.4 923.2 287.5 925.2 288.6 927.2 289.6 929.2 290.6 931.2 291.6 933.2 292.6 935.2 293.6 937.2 294.6 939.2 295.5 941.2 296.4 943.2 297.4 945.2 298.3 947.2 299.1 949.2 300.0 951.2 300.9 953.2 301.7 955.2 302.5 957.2 303.3 959.2 304.1 961.2 304.9 963.2 305.6 965.2 306.3 967.2 307.0 969.2 307.7 971.2 308.4 973.2 309.1 975.2 309.7 977.2 310.3 979.2 310.9 981.2 311.5 983.2 312.1 985.2 312.7 987.2 313.2 989.2 313.8 991.2 314.3 993.2 314.8 995.2 315.3 997.2 315.7 999.2 316.2 1001.2 316.6 1003.2 317.1 1005.2 317.5 1007.2 317.9 1009.2 318.3 1011.2 318.7 1013.2 319.0 1015.2 319.4 1017.2 319.8 1019.2 320.1 1021.2 320.4 1023.2 320.7 1025.2 321.0 1027.2 321.3 1029.2 321.6 1031.2 321.9 1033.2 322.2 1035.2 322.4 1037.2 322.7 1039.2 322.9 1041.2 323.2 1043.2 323.4 1045.2 323.6 1047.2 323.8 1049.2 324.0 1051.2 324.2 1053.2 324.4 1055.2 324.6 1057.2 324.8 1059.2 324.9 1061.2 325.1 1063.2 325.3 1065.2 325.4 1067.2 325.6 1069.2 325.7 1071.2 325.9 1073.2 326.0 1075.2 326.1 1077.2 326.3 1079.2 326.4 1081.2 326.5 1083.2 326.7 1085.2 326.8 1087.2 326.9 1089.2 327.0 1091.2 327.1 1093.2 327.2 1095.2 327.4 1097.2 327.5 1099.2 327.6 1101.2 327.7 1103.2 327.8 1105.2 327.9 1107.2 328.0 1109.2 328.2 1111.2 328.3 1113.2 328.4 1115.2 328.5 1117.2 328.6 1119.2 328.8 1121.2 328.9 1123.2 329.0 1125.2 329.1 1127.2 329.3 1129.2 329.4 1131.2 329.6 1133.2 329.7 1135.2 329.9 1137.2 330.0 1139.2 330.2 1141.2 330.3 1143.2 330.5 1145.2 330.7 1147.2 330.8 1149.2 331.0 1151.2 331.2 1153.2 331.4 1155.2 331.6 1157.2 331.8 1159.2 332.0 1161.2 332.2 1163.2 332.4 1165.2 332.7 1167.2 332.9 1169.2 333.1 1171.2 333.4 1173.2 333.7 1175.2 333.9 1177.2 334.2 1179.2 334.5 1181.2 334.8 1183.2 335.1 1185.2 335.4 1187.2 335.7 1189.2 336.0 1191.2 336.4 1193.2 336.7 1195.2 337.1 1197.2 337.4 1199.2 337.8 1201.2 338.2 1203.2 338.6 1205.2 339.0 1207.2 339.4 1209.2 339.8 1211.2 340.3 1213.2 340.7 1215.2 341.2 1217.2 341.7 1219.2 342.2 1221.2 342.7 1223.2 343.2 1225.2 343.7 1227.2 344.2 1229.2 344.8 1231.2 345.4 1233.2 345.9 1235.2 346.5 1237.2 347.1 1239.2 347.8 1241.2 348.4 1243.2 349.0 1245.2 349.7 1247.2 350.4 1249.2 351.1 1251.2 351.8 1253.2 352.5 1255.2 353.3 1257.2 354.0 1259.2 354.8 1261.2 355.6 1263.2 356.4 1265.2 357.2 1267.2 358.1 1269.2 358.9 1271.2 359.8 1273.2 360.7 1275.2 361.6 1277.2 362.5 1279.2 363.5 1281.2 364.4 1283.2 365.4 1285.2 366.4 1287.2 367.4 1289.2 368.4 1291.2 369.5 1293.2 370.5 1295.2 371.6 1297.2 372.7 1299.2 373.8 1301.2 374.9 1303.2 376.0 1305.2 377.2 1307.2 378.3 1309.2 379.5 1311.2 380.7 1313.2 381.9 1315.2 383.1 1317.2 384.3 1319.2 385.5 1321.2 386.8 1323.2 388.0 1325.2 389.3 1327.2 390.6 1329.2 391.8 1331.2 393.1 1333.2 394.4 1335.2 395.7 1337.2 397.0 1339.2 398.4 1341.2 399.7 1343.2 401.0 1345.2 402.4 1347.2 403.8 1349.2 405.1 1351.2 406.5 1353.2 407.9 1355.2 409.2 1357.2 410.6 1359.2 412.0 1361.2 413.4 1363.2 414.8 1365.2 416.2 1367.2 417.6 1369.2 419.1 1371.2 420.5 1373.2 421.9 1375.2 423.3 1377.2 424.8 1379.2 426.2 1381.2 427.6 1383.2 429.1 1385.2 430.5 1387.2 432.0 1389.2 433.4 1391.2 434.8 1393.2 436.3 1393.5 436.5" fill="none" stroke="#80f0f0" stroke-width="3" stroke-linejoin="round"/>
<path d="M829.2 243.0 831.2 244.6 833.2 246.1 835.2 247.7 837.2 249.3 839.2 250.8 841.2 252.4 843.2 254.1 845.2 255.7 847.2 257.3 849.2 259.0 851.2 260.6 853.2 262.3 855.2 263.9 857.2 265.6 859.2 267.2 861.2 268.9 863.2 270.6 865.2 272.2 867.2 273.9 869.2 275.6 871.2 277.2 873.2 278.9 875.2 280.5 877.2 282.2 879.2 283.8 881.2 285.5 883.2 287.1 885.2 288.7 887.2 290.3 889.2 291.9 891.2 293.4 893.2 295.0 895.2 296.5 897.2 298.1 899.2 299.6 901.2 301.1 903.2 302.5 905.2 304.0 907.2 305.4 909.2 306.8 911.2 308.2 913.2 309.5 915.2 310.9 917.2 312.2 919.2 313.5 921.2 314.7 923.2 316.0 925.2 317.2 927.2 318.4 929.2 319.6 931.2 320.7 933.2 321.8 935.2 322.9 937.2 324.0 939.2 325.1 941.2 326.1 943.2 327.1 945.2 328.0 947.2 329.0 949.2 329.9 951.2 330.8 953.2 331.7 955.2 332.5 957.2 333.4 959.2 334.1 961.2 334.9 963.2 335.7 965.2 336.4 967.2 337.1 969.2 337.7 971.2 338.4 973.2 339.0 975.2 339.6 977.2 340.1 979.2 340.7 981.2 341.2 983.2 341.7 985.2 342.2 987.2 342.6 989.2 343.0 991.2 343.4 993.2 343.8 995.2 344.2 997.2 344.5 999.2 344.8 1001.2 345.1 1003.2 345.4 1005.2 345.6 1007.2 345.9 1009.2 346.1 1011.2 346.3 1013.2 346.4 1015.2 346.6 1017.2 346.7 1019.2 346.8 1021.2 346.9 1023.2 347.0 1025.2 347.1 1027.2 347.1 1029.2 347.1 1031.2 347.1 1033.2 347.1 1035.2 347.1 1037.2 347.1 1039.2 347.0 1041.2 346.9 1043.2 346.8 1045.2 346.7 1047.2 346.6 1049.2 346.5 1051.2 346.4 1053.2 346.2 1055.2 346.0 1057.2 345.9 1059.2 345.7 1061.2 345.5 1063.2 345.3 1065.2 345.1 1067.2 344.8 1069.2 344.6 1071.2 344.4 1073.2 344.1 1075.2 343.9 1077.2 343.6 1079.2 343.4 1081.2 343.1 1083.2 342.8 1085.2 342.6 1087.2 342.3 1089.2 342.0 1091.2 341.7 1093.2 341.4 1095.2 341.2 1097.2 340.9 1099.2 340.6 1101.2 340.3 1103.2 340.0 1105.2 339.7 1107.2 339.5 1109.2 339.2 1111.2 338.9 1113.2 338.6 1115.2 338.4 1117.2 338.1 1119.2 337.9 1121.2 337.6 1123.2 337.4 1125.2 337.1 1127.2 336.9 1129.2 336.7 1131.2 336.4 1133.2 336.2 1135.2 336.0 1137.2 335.8 1139.2 335.6 1141.2 335.4 1143.2 335.3 1145.2 335.1 1147.2 334.9 1149.2 334.8 1151.2 334.6 1153.2 334.5 1155.2 334.4 1157.2 334.3 1159.2 334.2 1161.2 334.1 1163.2 334.0 1165.2 333.9 1167.2 333.9 1169.2 333.8 1171.2 333.8 1173.2 333.8 1175.2 333.8 1177.2 333.8 1179.2 333.8 1181.2 333.8 1183.2 333.9 1185.2 333.9 1187.2 334.0 1189.2 334.1 1191.2 334.2 1193.2 334.3 1195.2 334.4 1197.2 334.6 1199.2 334.7 1201.2 334.9 1203.2 335.1 1205.2 335.3 1207.2 335.5 1209.2 335.8 1211.2 336.0 1213.2 336.3 1215.2 336.6 1217.2 336.9 1219.2 337.3 1221.2 337.6 1223.2 338.0 1225.2 338.4 1227.2 338.8 1229.2 339.2 1231.2 339.7 1233.2 340.1 1235.2 340.6 1237.2 341.1 1239.2 341.7 1241.2 342.2 1243.2 342.8 1245.2 343.4 1247.2 344.0 1249.2 344.7 1251.2 345.3 1253.2 346.0 1255.2 346.7 1257.2 347.5 1259.2 348.2 1261.2 349.0 1263.2 349.8 1265.2 350.6 1267.2 351.5 1269.2 352.4 1271.2 353.3 1273.2 354.2 1275.2 355.2 1277.2 356.1 1279.2 357.2 1281.2 358.2 1283.2 359.2 1285.2 360.3 1287.2 361.4 1289.2 362.6 1291.2 363.7 1293.2 364.9 1295.2 366.1 1297.2 367.3 1299.2 368.5 1301.2 369.8 1303.2 371.1 1305.2 372.4 1307.2 373.7 1309.2 375.0 1311.2 376.4 1313.2 377.7 1315.2 379.1 1317.2 380.5 1319.2 382.0 1321.2 383.4 1323.2 384.9 1325.2 386.3 1327.2 387.8 1329.2 389.3 1331.2 390.9 1333.2 392.4 1335.2 393.9 1337.2 395.5 1339.2 397.1 1341.2 398.7 1343.2 400.3 1345.2 401.9 1347.2 403.5 1349.2 405.1 1351.2 406.8 1353.2 408.4 1355.2 410.1 1357.2 411.8 1359.2 413.5 1361.2 415.2 1363.2 416.9 1365.2 418.6 1367.2 420.3 1369.2 422.0 1371.2 423.7 1373.2 425.5 1375.2 427.2 1377.2 429.0 1379.2 430.7 1381.2 432.5 1383.2 434.2 1385.2 436.0 1387.2 437.8 1389.2 439.5 1391.2 441.3 1393.2 443.1 1393.5 443.4" fill="none" stroke="#dc00f0" stroke-width="3" stroke-linejoin="round"/>
<path d="M829.2 269.0 831.2 270.1 833.2 271.3 835.2 272.4 837.2 273.6 839.2 274.8 841.2 276.0 843.2 277.1 845.2 278.3 847.2 279.5 849.2 280.7 851.2 281.9 853.2 283.1 855.2 284.3 857.2 285.4 859.2 286.6 861.2 287.8 863.2 289.0 865.2 290.2 867.2 291.4 869.2 292.6 871.2 293.7 873.2 294.9 875.2 296.1 877.2 297.2 879.2 298.4 881.2 299.6 883.2 300.7 885.2 301.9 887.2 303.0 889.2 304.2 891.2 305.3 893.2 306.4 895.2 307.5 897.2 308.6 899.2 309.7 901.2 310.8 903.2 311.9 905.2 313.0 907.2 314.1 909.2 315.1 911.2 316.2 913.2 317.2 915.2 318.3 917.2 319.3 919.2 320.3 921.2 321.3 923.2 322.3 925.2 323.2 927.2 324.2 929.2 325.1 931.2 326.1 933.2 327.0 935.2 327.9 937.2 328.8 939.2 329.6 941.2 330.5 943.2 331.3 945.2 332.2 947.2 333.0 949.2 333.8 951.2 334.5 953.2 335.3 955.2 336.0 957.2 336.8 959.2 337.5 961.2 338.1 963.2 338.8 965.2 339.4 967.2 340.1 969.2 340.7 971.2 341.3 973.2 341.8 975.2 342.4 977.2 342.9 979.2 343.4 981.2 343.9 983.2 344.4 985.2 344.9 987.2 345.3 989.2 345.7 991.2 346.1 993.2 346.5 995.2 346.9 997.2 347.3 999.2 347.6 1001.2 348.0 1003.2 348.3 1005.2 348.6 1007.2 348.9 1009.2 349.2 1011.2 349.4 1013.2 349.7 1015.2 349.9 1017.2 350.2 1019.2 350.4 1021.2 350.6 1023.2 350.8 1025.2 350.9 1027.2 351.1 1029.2 351.3 1031.2 351.4 1033.2 351.6 1035.2 351.7 1037.2 351.8 1039.2 351.9 1041.2 352.0 1043.2 352.1 1045.2 352.2 1047.2 352.3 1049.2 352.3 1051.2 352.4 1053.2 352.5 1055.2 352.5 1057.2 352.5 1059.2 352.6 1061.2 352.6 1063.2 352.6 1065.2 352.6 1067.2 352.6 1069.2 352.6 1071.2 352.6 1073.2 352.6 1075.2 352.6 1077.2 352.6 1079.2 352.6 1081.2 352.6 1083.2 352.5 1085.2 352.5 1087.2 352.5 1089.2 352.5 1091.2 352.4 1093.2 352.4 1095.2 352.4 1097.2 352.3 1099.2 352.3 1101.2 352.2 1103.2 352.2 1105.2 352.2 1107.2 352.1 1109.2 352.1 1111.2 352.1 1113.2 352.0 1115.2 352.0 1117.2 351.9 1119.2 351.9 1121.2 351.9 1123.2 351.9 1125.2 351.8 1127.2 351.8 1129.2 351.8 1131.2 351.8 1133.2 351.8 1135.2 351.8 1137.2 351.8 1139.2 351.8 1141.2 351.8 1143.2 351.8 1145.2 351.8 1147.2 351.8 1149.2 351.9 1151.2 351.9 1153.2 351.9 1155.2 352.0 1157.2 352.0 1159.2 352.1 1161.2 352.2 1163.2 352.2 1165.2 352.3 1167.2 352.4 1169.2 352.5 1171.2 352.6 1173.2 352.7 1175.2 352.9 1177.2 353.0 1179.2 353.1 1181.2 353.3 1183.2 353.4 1185.2 353.6 1187.2 353.8 1189.2 354.0 1191.2 354.2 1193.2 354.4 1195.2 354.6 1197.2 354.8 1199.2 355.1 1201.2 355.3 1203.2 355.6 1205.2 355.9 1207.2 356.2 1209.2 356.5 1211.2 356.8 1213.2 357.1 1215.2 357.5 1217.2 357.8 1219.2 358.2 1221.2 358.6 1223.2 359.0 1225.2 359.4 1227.2 359.8 1229.2 360.2 1231.2 360.7 1233.2 361.2 1235.2 361.7 1237.2 362.2 1239.2 362.7 1241.2 363.2 1243.2 363.8 1245.2 364.3 1247.2 364.9 1249.2 365.5 1251.2 366.2 1253.2 366.8 1255.2 367.5 1257.2 368.1 1259.2 368.8 1261.2 369.5 1263.2 370.3 1265.2 371.0 1267.2 371.8 1269.2 372.6 1271.2 373.4 1273.2 374.2 1275.2 375.1 1277.2 375.9 1279.2 376.8 1281.2 377.7 1283.2 378.6 1285.2 379.6 1287.2 380.5 1289.2 381.5 1291.2 382.5 1293.2 383.5 1295.2 384.5 1297.2 385.5 1299.2 386.5 1301.2 387.5 1303.2 388.5 1305.2 389.6 1307.2 390.6 1309.2 391.6 1311.2 392.7 1313.2 393.7 1315.2 394.8 1317.2 395.8 1319.2 396.9 1321.2 397.9 1323.2 399.0 1325.2 400.0 1327.2 401.0 1329.2 402.1 1331.2 403.1 1333.2 404.1 1335.2 405.1 1337.2 406.1 1339.2 407.1 1341.2 408.1 1343.2 409.1 1345.2 410.0 1347.2 411.0 1349.2 412.0 1351.2 413.0 1353.2 414.0 1355.2 415.0 1357.2 416.0 1359.2 417.0 1361.2 418.1 1363.2 419.2 1365.2 420.3 1367.2 421.4 1369.2 422.5 1371.2 423.7 1373.2 424.9 1375.2 426.1 1377.2 427.4 1379.2 428.7 1381.2 430.1 1383.2 431.5 1385.2 432.9 1387.2 434.4 1389.2 436.0 1391.2 437.5 1393.2 439.2 1393.5 439.4" fill="none" stroke="#e67814" stroke-width="3" stroke-linejoin="round"/>
<line x1="1113.30" y1="58.30" x2="1177.60" y2="58.30" stroke="#000" stroke-width="3" stroke-linecap="butt"/>
<text transform="translate(1184.42 69.70) scale(0.7252 1)" font-size="30">MB + 500 mM MgCl</text>
<text transform="translate(1376.29 75.90) scale(0.8800 1)" font-size="16">2</text>
<line x1="1113.30" y1="92.50" x2="1177.60" y2="92.50" stroke="#da0000" stroke-width="3" stroke-linecap="butt"/>
<text transform="translate(1184.42 103.90) scale(0.7252 1)" font-size="30">MB + 250 mM MgCl</text>
<text transform="translate(1376.29 110.10) scale(0.8800 1)" font-size="16">2</text>
<line x1="1113.30" y1="126.70" x2="1177.60" y2="126.70" stroke="#80ff20" stroke-width="3" stroke-linecap="butt"/>
<text transform="translate(1184.42 138.10) scale(0.7252 1)" font-size="30">MB + 125 mM MgCl</text>
<text transform="translate(1376.29 144.30) scale(0.8800 1)" font-size="16">2</text>
<line x1="1113.30" y1="160.90" x2="1177.60" y2="160.90" stroke="#0000dc" stroke-width="3" stroke-linecap="butt"/>
<text transform="translate(1184.42 172.30) scale(0.7224 1)" font-size="30">MB + 50 mM MgCl</text>
<text transform="translate(1363.49 178.50) scale(0.8800 1)" font-size="16">2</text>
<line x1="1113.30" y1="195.10" x2="1177.60" y2="195.10" stroke="#80f0f0" stroke-width="3" stroke-linecap="butt"/>
<text transform="translate(1184.42 206.50) scale(0.7224 1)" font-size="30">MB + 25 mM MgCl</text>
<text transform="translate(1363.49 212.70) scale(0.8800 1)" font-size="16">2</text>
<line x1="1113.30" y1="229.30" x2="1177.60" y2="229.30" stroke="#dc00f0" stroke-width="3" stroke-linecap="butt"/>
<text transform="translate(1184.43 240.70) scale(0.7182 1)" font-size="30">MB + 5 mM MgCl</text>
<text transform="translate(1350.49 246.90) scale(0.8800 1)" font-size="16">2</text>
<line x1="1113.30" y1="263.50" x2="1177.60" y2="263.50" stroke="#e67814" stroke-width="3" stroke-linecap="butt"/>
<text transform="translate(1184.42 274.90) scale(0.7251 1)" font-size="30">MB + 2.5 mM MgCl</text>
<text transform="translate(1370.19 281.10) scale(0.8800 1)" font-size="16">2</text>
<text transform="translate(2.53 567.00) scale(0.9687 1)" font-size="42" font-weight="bold">C</text>
<rect x="104.80" y="577.90" width="564.20" height="419.30" fill="none" stroke="#000" stroke-width="2"/>
<line x1="96.00" y1="997.20" x2="104.80" y2="997.20" stroke="#000" stroke-width="2" stroke-linecap="butt"/>
<text transform="translate(59.33 1007.80) scale(0.8400 1)" font-size="32">15</text>
<line x1="96.00" y1="877.25" x2="104.80" y2="877.25" stroke="#000" stroke-width="2" stroke-linecap="butt"/>
<text transform="translate(59.38 887.85) scale(0.8400 1)" font-size="32">16</text>
<line x1="96.00" y1="757.30" x2="104.80" y2="757.30" stroke="#000" stroke-width="2" stroke-linecap="butt"/>
<text transform="translate(59.55 767.90) scale(0.8400 1)" font-size="32">17</text>
<line x1="96.00" y1="637.35" x2="104.80" y2="637.35" stroke="#000" stroke-width="2" stroke-linecap="butt"/>
<text transform="translate(59.37 647.95) scale(0.8400 1)" font-size="32">18</text>
<line x1="99.80" y1="937.23" x2="104.80" y2="937.23" stroke="#000" stroke-width="2" stroke-linecap="butt"/>
<line x1="99.80" y1="817.28" x2="104.80" y2="817.28" stroke="#000" stroke-width="2" stroke-linecap="butt"/>
<line x1="99.80" y1="697.33" x2="104.80" y2="697.33" stroke="#000" stroke-width="2" stroke-linecap="butt"/>
<line x1="99.80" y1="577.38" x2="104.80" y2="577.38" stroke="#000" stroke-width="2" stroke-linecap="butt"/>
<line x1="104.80" y1="997.20" x2="104.80" y2="1006.00" stroke="#000" stroke-width="2" stroke-linecap="butt"/>
<text transform="translate(96.83 1035.70) scale(0.8400 1)" font-size="32">0</text>
<line x1="386.90" y1="997.20" x2="386.90" y2="1006.00" stroke="#000" stroke-width="2" stroke-linecap="butt"/>
<text transform="translate(378.95 1035.70) scale(0.8400 1)" font-size="32">5</text>
<line x1="669.00" y1="997.20" x2="669.00" y2="1006.00" stroke="#000" stroke-width="2" stroke-linecap="butt"/>
<text transform="translate(653.05 1035.70) scale(0.8400 1)" font-size="32">10</text>
<line x1="245.85" y1="997.20" x2="245.85" y2="1002.20" stroke="#000" stroke-width="2" stroke-linecap="butt"/>
<line x1="527.95" y1="997.20" x2="527.95" y2="1002.20" stroke="#000" stroke-width="2" stroke-linecap="butt"/>
<text transform="translate(327.66 1077.30) scale(0.7761 1)" font-size="31">Time (min)</text>
<path d="M104.8 828 104.9 783 105.0 817 105.1 827 105.2 804 105.3 837 105.4 775 105.5 770 105.6 791 105.6 829 105.7 804 105.8 807 105.9 822 106.0 817 106.1 804 106.2 821 106.3 813 106.4 811 106.5 834 106.6 818 106.7 819 106.8 783 106.9 809 107.0 804 107.1 807 107.2 811 107.2 810 107.3 813 107.4 849 107.5 811 107.6 822 107.7 817 107.8 829 107.9 828 108.0 812 108.1 820 108.2 811 108.3 808 108.4 812 108.5 810 108.6 822 108.7 816 108.8 801 108.8 815 108.9 801 109.0 811 109.1 794 109.2 829 109.3 807 109.4 797 109.5 825 109.6 809 109.7 806 109.8 814 109.9 796 110.0 806 110.1 816 110.2 797 110.3 805 110.3 762 110.4 839 110.5 809 110.6 812 110.7 812 110.8 848 110.9 810 111.0 822 111.1 800 111.2 832 111.3 782 111.4 813 111.5 821 111.6 807 111.7 838 111.8 831 111.9 802 111.9 818 112.0 811 112.1 853 112.2 837 112.3 843 112.4 784 112.5 816 112.6 791 112.7 818 112.8 795 112.9 823 113.0 822 113.1 817 113.2 813 113.3 850 113.4 814 113.5 831 113.5 827 113.6 819 113.7 821 113.8 815 113.9 795 114.0 795 114.1 783 114.2 826 114.3 816 114.4 819 114.5 822 114.6 803 114.7 801 114.8 816 114.9 811 115.0 791 115.1 816 115.1 794 115.2 813 115.3 805 115.4 780 115.5 822 115.6 806 115.7 790 115.8 810 115.9 789 116.0 767 116.1 787 116.2 813 116.3 826 116.4 808 116.5 822 116.6 826 116.7 799 116.7 800 116.8 841 116.9 821 117.0 830 117.1 800 117.2 805 117.3 795 117.4 812 117.5 802 117.6 799 117.7 812 117.8 796 117.9 843 118.0 794 118.1 835 118.2 818 118.2 807 118.3 809 118.4 836 118.5 811 118.6 851 118.7 817 118.8 821 118.9 786 119.0 818 119.1 826 119.2 825 119.3 827 119.4 813 119.5 809 119.6 784 119.7 835 119.8 802 119.8 838 119.9 818 120.0 793 120.1 791 120.2 798 120.3 823 120.4 796 120.5 786 120.6 837 120.7 822 120.8 811 120.9 808 121.0 806 121.1 816 121.2 824 121.3 803 121.4 825 121.4 815 121.5 804 121.6 804 121.7 796 121.8 795 121.9 799 122.0 785 122.1 835 122.2 808 122.3 808 122.4 815 122.5 812 122.6 805 122.7 817 122.8 775 122.9 776 123.0 819 123.0 793 123.1 796 123.2 807 123.3 815 123.4 802 123.5 809 123.6 821 123.7 796 123.8 808 123.9 792 124.0 835 124.1 825 124.2 867 124.3 819 124.4 832 124.5 802 124.6 794 124.6 811 124.7 796 124.8 825 124.9 835 125.0 788 125.1 795 125.2 800 125.3 819 125.4 794 125.5 802 125.6 766 125.7 860 125.8 834 125.9 797 126.0 799 126.1 807 126.1 816 126.2 824 126.3 783 126.4 792 126.5 807 126.6 806 126.7 783 126.8 831 126.9 833 127.0 815 127.1 831 127.2 798 127.3 800 127.4 800 127.5 817 127.6 824 127.7 806 127.7 850 127.8 840 127.9 831 128.0 838 128.1 813 128.2 834 128.3 801 128.4 815 128.5 843 128.6 857 128.7 780 128.8 808 128.9 806 129.0 822 129.1 831 129.2 790 129.3 835 129.3 821 129.4 814 129.5 829 129.6 823 129.7 823 129.8 822 129.9 786 130.0 813 130.1 795 130.2 829 130.3 823 130.4 824 130.5 841 130.6 813 130.7 839 130.8 834 130.9 813 130.9 808 131.0 827 131.1 810 131.2 792 131.3 787 131.4 797 131.5 818 131.6 790 131.7 818 131.8 818 131.9 796 132.0 806 132.1 804 132.2 828 132.3 818 132.4 807 132.5 803 132.5 803 132.6 844 132.7 773 132.8 798 132.9 828 133.0 791 133.1 815 133.2 819 133.3 783 133.4 832 133.5 830 133.6 828 133.7 823 133.8 754 133.9 820 134.0 830 134.0 809 134.1 799 134.2 790 134.3 828 134.4 777 134.5 809 134.6 828 134.7 826 134.8 803 134.9 812 135.0 819 135.1 809 135.2 770 135.3 786 135.4 821 135.5 825 135.6 794 135.6 831 135.7 845 135.8 830 135.9 836 136.0 839 136.1 817 136.2 827 136.3 819 136.4 806 136.5 822 136.6 839 136.7 829 136.8 797 136.9 832 137.0 833 137.1 805 137.2 829 137.2 829 137.3 808 137.4 815 137.5 822 137.6 820 137.7 793 137.8 806 137.9 824 138.0 819 138.1 783 138.2 816 138.3 805 138.4 806 138.5 820 138.6 808 138.7 828 138.8 816 138.8 790 138.9 814 139.0 783 139.1 807 139.2 802 139.3 809 139.4 827 139.5 792 139.6 786 139.7 806 139.8 811 139.9 816 140.0 802 140.1 792 140.2 795 140.3 806 140.4 810 140.4 808 140.5 814 140.6 830 140.7 774 140.8 826 140.9 828 141.0 786 141.1 802 141.2 802 141.3 821 141.4 811 141.5 797 141.6 761 141.7 802 141.8 809 141.9 799 141.9 810 142.0 825 142.1 843 142.2 802 142.3 837 142.4 790 142.5 821 142.6 820 142.7 833 142.8 831 142.9 824 143.0 806 143.1 821 143.2 815 143.3 822 143.4 803 143.5 805 143.5 804 143.6 831 143.7 827 143.8 836 143.9 800 144.0 860 144.1 785 144.2 818 144.3 824 144.4 809 144.5 817 144.6 819 144.7 806 144.8 802 144.9 822 145.0 784 145.1 836 145.1 797 145.2 807 145.3 830 145.4 796 145.5 788 145.6 840 145.7 801 145.8 813 145.9 807 146.0 842 146.1 801 146.2 790 146.3 806 146.4 824 146.5 817 146.6 806 146.7 815 146.7 836 146.8 833 146.9 838 147.0 811 147.1 778 147.2 787 147.3 815 147.4 815 147.5 794 147.6 799 147.7 788 147.8 803 147.9 818 148.0 800 148.1 779 148.2 806 148.3 774 148.3 827 148.4 816 148.5 807 148.6 813 148.7 794 148.8 805 148.9 799 149.0 784 149.1 832 149.2 815 149.3 775 149.4 817 149.5 830 149.6 826 149.7 832 149.8 814 149.8 806 149.9 805 150.0 798 150.1 814 150.2 797 150.3 791 150.4 837 150.5 829 150.6 803 150.7 833 150.8 792 150.9 823 151.0 823 151.1 809 151.2 770 151.3 832 151.4 813 151.4 825 151.5 802 151.6 814 151.7 813 151.8 804 151.9 817 152.0 812 152.1 803 152.2 813 152.3 817 152.4 828 152.5 805 152.6 810 152.7 815 152.8 823 152.9 821 153.0 829 153.0 780 153.1 801 153.2 776 153.3 843 153.4 841 153.5 807 153.6 816 153.7 821 153.8 823 153.9 817 154.0 859 154.1 769 154.2 818 154.3 816 154.4 795 154.5 815 154.6 806 154.6 799 154.7 798 154.8 802 154.9 792 155.0 791 155.1 808 155.2 801 155.3 820 155.4 796 155.5 833 155.6 835 155.7 824 155.8 801 155.9 820 156.0 815 156.1 787 156.2 780 156.2 770 156.3 790 156.4 797 156.5 800 156.6 829 156.7 806 156.8 811 156.9 790 157.0 800 157.1 826 157.2 815 157.3 800 157.4 807 157.5 821 157.6 795 157.7 844 157.7 800 157.8 826 157.9 837 158.0 817 158.1 791 158.2 839 158.3 815 158.4 812 158.5 820 158.6 819 158.7 814 158.8 808 158.9 786 159.0 861 159.1 807 159.2 796 159.3 843 159.3 801 159.4 795 159.5 819 159.6 807 159.7 823 159.8 834 159.9 822 160.0 824 160.1 795 160.2 824 160.3 800 160.4 796 160.5 791 160.6 811 160.7 803 160.8 826 160.9 830 160.9 784 161.0 793 161.1 830 161.2 827 161.3 781 161.4 806 161.5 791 161.6 785 161.7 815 161.8 795 161.9 833 162.0 812 162.1 797 162.2 787 162.3 811 162.4 802 162.5 826 162.5 795 162.6 835 162.7 818 162.8 814 162.9 828 163.0 822 163.1 817 163.2 794 163.3 800 163.4 805 163.5 805 163.6 804 163.7 828 163.8 817 163.9 815 164.0 798 164.1 806 164.1 802 164.2 833 164.3 784 164.4 823 164.5 830 164.6 812 164.7 807 164.8 816 164.9 786 165.0 822 165.1 821 165.2 836 165.3 789 165.4 819 165.5 819 165.6 845 165.6 828 165.7 822 165.8 806 165.9 796 166.0 793 166.1 826 166.2 809 166.3 786 166.4 801 166.5 798 166.6 789 166.7 803 166.8 811 166.9 767 167.0 839 167.1 808 167.2 800 167.2 810 167.3 812 167.4 819 167.5 792 167.6 844 167.7 832 167.8 837 167.9 825 168.0 822 168.1 807 168.2 796 168.3 828 168.4 812 168.5 776 168.6 799 168.7 841 168.8 800 168.8 811 168.9 812 169.0 806 169.1 797 169.2 807 169.3 794 169.4 806 169.5 796 169.6 802 169.7 827 169.8 838 169.9 778 170.0 827 170.1 831 170.2 793 170.3 791 170.4 815 170.4 789 170.5 821 170.6 818 170.7 836 170.8 775 170.9 809 171.0 798 171.1 840 171.2 802 171.3 843 171.4 823 171.5 799 171.6 785 171.7 782 171.8 812 171.9 834 172.0 804 172.0 819 172.1 798 172.2 802 172.3 779 172.4 799 172.5 813 172.6 802 172.7 816 172.8 819 172.9 821 173.0 815 173.1 822 173.2 810 173.3 838 173.4 819 173.5 800 173.5 825 173.6 829 173.7 778 173.8 820 173.9 779 174.0 812 174.1 801 174.2 794 174.3 821 174.4 825 174.5 809 174.6 811 174.7 797 174.8 819 174.9 823 175.0 807 175.1 824 175.1 828 175.2 806 175.3 819 175.4 836 175.5 796 175.6 816 175.7 852 175.8 826 175.9 794 176.0 812 176.1 824 176.2 808 176.3 824 176.4 819 176.5 806 176.6 830 176.7 780 176.7 858 176.8 840 176.9 796 177.0 806 177.1 778 177.2 800 177.3 792 177.4 800 177.5 815 177.6 844 177.7 817 177.8 804 177.9 808 178.0 829 178.1 795 178.2 819 178.3 830 178.3 811 178.4 813 178.5 833 178.6 829 178.7 809 178.8 780 178.9 857 179.0 855 179.1 825 179.2 820 179.3 798 179.4 841 179.5 807 179.6 806 179.7 796 179.8 823 179.9 826 179.9 816 180.0 821 180.1 821 180.2 821 180.3 799 180.4 816 180.5 815 180.6 800 180.7 816 180.8 807 180.9 837 181.0 809 181.1 810 181.2 822 181.3 820 181.4 825 181.4 790 181.5 813 181.6 822 181.7 822 181.8 827 181.9 807 182.0 808 182.1 825 182.2 824 182.3 806 182.4 831 182.5 785 182.6 808 182.7 820 182.8 806 182.9 843 183.0 800 183.0 821 183.1 793 183.2 794 183.3 824 183.4 784 183.5 815 183.6 814 183.7 791 183.8 792 183.9 820 184.0 806 184.1 820 184.2 826 184.3 821 184.4 803 184.5 841 184.6 805 184.6 824 184.7 814 184.8 788 184.9 802 185.0 816 185.1 778 185.2 838 185.3 809 185.4 793 185.5 833 185.6 801 185.7 814 185.8 780 185.9 794 186.0 799 186.1 836 186.2 814 186.2 780 186.3 795 186.4 822 186.5 813 186.6 841 186.7 807 186.8 827 186.9 835 187.0 827 187.1 796 187.2 837 187.3 860 187.4 772 187.5 818 187.6 818 187.7 830 187.8 789 187.8 798 187.9 797 188.0 802 188.1 794 188.2 803 188.3 813 188.4 792 188.5 806 188.6 820 188.7 805 188.8 845 188.9 808 189.0 823 189.1 838 189.2 800 189.3 775 189.4 788 189.4 800 189.5 825 189.6 836 189.7 817 189.8 823 189.9 807 190.0 780 190.1 796 190.2 805 190.3 804 190.4 839 190.5 798 190.6 808 190.7 824 190.8 812 190.9 815 190.9 800 191.0 820 191.1 791 191.2 810 191.3 820 191.4 786 191.5 814 191.6 811 191.7 830 191.8 790 191.9 812 192.0 802 192.1 816 192.2 806 192.3 834 192.4 819 192.5 834 192.5 817 192.6 798 192.7 820 192.8 813 192.9 808 193.0 781 193.1 797 193.2 840 193.3 787 193.4 841 193.5 838 193.6 808 193.7 784 193.8 826 193.9 833 194.0 817 194.1 808 194.1 787 194.2 810 194.3 818 194.4 819 194.5 809 194.6 803 194.7 829 194.8 815 194.9 798 195.0 772 195.1 803 195.2 851 195.3 822 195.4 804 195.5 817 195.6 790 195.7 816 195.7 802 195.8 803 195.9 820 196.0 820 196.1 818 196.2 831 196.3 810 196.4 823 196.5 811 196.6 831 196.7 783 196.8 802 196.9 787 197.0 823 197.1 818 197.2 803 197.3 805 197.3 806 197.4 797 197.5 803 197.6 792 197.7 822 197.8 794 197.9 875 198.0 806 198.1 816 198.2 821 198.3 812 198.4 814 198.5 805 198.6 830 198.7 822 198.8 805 198.8 821 198.9 819 199.0 802 199.1 808 199.2 821 199.3 825 199.4 802 199.5 798 199.6 800 199.7 802 199.8 817 199.9 826 200.0 813 200.1 815 200.2 823 200.3 808 200.4 761 200.4 821 200.5 818 200.6 799 200.7 825 200.8 820 200.9 821 201.0 814 201.1 798 201.2 803 201.3 838 201.4 818 201.5 830 201.6 807 201.7 821 201.8 794 201.9 778 202.0 818 202.0 810 202.1 799 202.2 824 202.3 838 202.4 804 202.5 807 202.6 846 202.7 814 202.8 821 202.9 824 203.0 812 203.1 838 203.2 837 203.3 790 203.4 801 203.5 813 203.6 810 203.6 807 203.7 812 203.8 771 203.9 822 204.0 801 204.1 832 204.2 801 204.3 781 204.4 813 204.5 826 204.6 841 204.7 792 204.8 824 204.9 808 205.0 800 205.1 829 205.2 811 205.2 789 205.3 827 205.4 817 205.5 812 205.6 840 205.7 819 205.8 796 205.9 776 206.0 828 206.1 810 206.2 805 206.3 816 206.4 822 206.5 815 206.6 818 206.7 825 206.7 815 206.8 813 206.9 851 207.0 808 207.1 814 207.2 809 207.3 846 207.4 775 207.5 810 207.6 839 207.7 791 207.8 799 207.9 820 208.0 789 208.1 801 208.2 828 208.3 822 208.3 803 208.4 781 208.5 818 208.6 785 208.7 807 208.8 823 208.9 786 209.0 826 209.1 814 209.2 848 209.3 816 209.4 796 209.5 832 209.6 837 209.7 782 209.8 799 209.9 823 209.9 811 210.0 776 210.1 831 210.2 792 210.3 800 210.4 803 210.5 812 210.6 796 210.7 826 210.8 808 210.9 785 211.0 813 211.1 807 211.2 794 211.3 839 211.4 848 211.5 785 211.5 805 211.6 801 211.7 818 211.8 809 211.9 796 212.0 811 212.1 820 212.2 826 212.3 837 212.4 854 212.5 818 212.6 818 212.7 766 212.8 822 212.9 831 213.0 777 213.1 823 213.1 817 213.2 793 213.3 793 213.4 792 213.5 799 213.6 827 213.7 822 213.8 819 213.9 799 214.0 815 214.1 791 214.2 805 214.3 804 214.4 849 214.5 807 214.6 828 214.6 794 214.7 813 214.8 797 214.9 798 215.0 820 215.1 822 215.2 791 215.3 786 215.4 824 215.5 839 215.6 794 215.7 836 215.8 811 215.9 847 216.0 791 216.1 803 216.2 817 216.2 832 216.3 860 216.4 812 216.5 798 216.6 806 216.7 833 216.8 796 216.9 803 217.0 838 217.1 840 217.2 827 217.3 787 217.4 821 217.5 778 217.6 787 217.7 839 217.8 813 217.8 749 217.9 809 218.0 796 218.1 802 218.2 814 218.3 822 218.4 804 218.5 801 218.6 798 218.7 794 218.8 829 218.9 826 219.0 795 219.1 806 219.2 843 219.3 827 219.4 766 219.4 816 219.5 814 219.6 803 219.7 801 219.8 835 219.9 822 220.0 782 220.1 827 220.2 808 220.3 783 220.4 811 220.5 810 220.6 825 220.7 822 220.8 788 220.9 798 221.0 804 221.0 817 221.1 779 221.2 776 221.3 806 221.4 823 221.5 828 221.6 767 221.7 761 221.8 820 221.9 804 222.0 845 222.1 823 222.2 773 222.3 794 222.4 793 222.5 814 222.5 827 222.6 814 222.7 788 222.8 802 222.9 797 223.0 797 223.1 822 223.2 806 223.3 825 223.4 828 223.5 800 223.6 833 223.7 782 223.8 805 223.9 833 224.0 819 224.1 828 224.1 791 224.2 798 224.3 807 224.4 778 224.5 807 224.6 813 224.7 825 224.8 830 224.9 801 225.0 793 225.1 810 225.2 803 225.3 807 225.4 777 225.5 804 225.6 786 225.7 811 225.7 823 225.8 836 225.9 828 226.0 801 226.1 827 226.2 789 226.3 816 226.4 842 226.5 806 226.6 818 226.7 775 226.8 796 226.9 827 227.0 807 227.1 835 227.2 837 227.3 810 227.3 800 227.4 818 227.5 789 227.6 843 227.7 800 227.8 805 227.9 837 228.0 802 228.1 815 228.2 788 228.3 838 228.4 797 228.5 815 228.6 781 228.7 763 228.8 816 228.9 814 228.9 811 229.0 811 229.1 791 229.2 820 229.3 823 229.4 811 229.5 810 229.6 783 229.7 820 229.8 821 229.9 799 230.0 800 230.1 828 230.2 816 230.3 834 230.4 796 230.4 825 230.5 822 230.6 817 230.7 827 230.8 809 230.9 794 231.0 805 231.1 772 231.2 808 231.3 841 231.4 811 231.5 821 231.6 793 231.7 815 231.8 804 231.9 836 232.0 824 232.0 808 232.1 817 232.2 810 232.3 781 232.4 833 232.5 832 232.6 787 232.7 807 232.8 823 232.9 804 233.0 794 233.1 824 233.2 794 233.3 813 233.4 785 233.5 850 233.6 777 233.6 812 233.7 789 233.8 821 233.9 801 234.0 790 234.1 809 234.2 818 234.3 823 234.4 823 234.5 796 234.6 827 234.7 797 234.8 809 234.9 814 235.0 823 235.1 819 235.2 847 235.2 799 235.3 819 235.4 788 235.5 824 235.6 825 235.7 812 235.8 818 235.9 832 236.0 848 236.1 826 236.2 822 236.3 798 236.4 797 236.5 829 236.6 797 236.7 829 236.8 823 236.8 819 236.9 827 237.0 798 237.1 783 237.2 830 237.3 804 237.4 811 237.5 802 237.6 822 237.7 789 237.8 799 237.9 801 238.0 774 238.1 824 238.2 812 238.3 798 238.3 792 238.4 810 238.5 799 238.6 784 238.7 814 238.8 815 238.9 809 239.0 855 239.1 800 239.2 800 239.3 774 239.4 835 239.5 805 239.6 803 239.7 798 239.8 832 239.9 866 239.9 810 240.0 806 240.1 806 240.2 823 240.3 826 240.4 812 240.5 827 240.6 828 240.7 806 240.8 801 240.9 831 241.0 844 241.1 829 241.2 799 241.3 817 241.4 799 241.5 800 241.5 790 241.6 817 241.7 809 241.8 796 241.9 819 242.0 829 242.1 792 242.2 784 242.3 827 242.4 802 242.5 803 242.6 808 242.7 818 242.8 827 242.9 833 243.0 794 243.1 811 243.1 801 243.2 843 243.3 793 243.4 793 243.5 805 243.6 773 243.7 807 243.8 807 243.9 827 244.0 822 244.1 801 244.2 804 244.3 789 244.4 820 244.5 801 244.6 826 244.7 813 244.7 821 244.8 850 244.9 795 245.0 826 245.1 826 245.2 807 245.3 831 245.4 827 245.5 856 245.6 810 245.7 798 245.8 818 245.9 790 246.0 784 246.1 798 246.2 816 246.2 797 246.3 797 246.4 808 246.5 790 246.6 802 246.7 831 246.8 814 246.9 808 247.0 832 247.1 835 247.2 808 247.3 801 247.4 828 247.5 800 247.6 827 247.7 832 247.8 793 247.8 807 247.9 842 248.0 839 248.1 808 248.2 825 248.3 825 248.4 834 248.5 814 248.6 767 248.7 838 248.8 779 248.9 825 249.0 831 249.1 794 249.2 814 249.3 814 249.4 789 249.4 774 249.5 803 249.6 829 249.7 830 249.8 812 249.9 792 250.0 803 250.1 805 250.2 790 250.3 850 250.4 795 250.5 810 250.6 811 250.7 804 250.8 816 250.9 831 251.0 847 251.0 805 251.1 833 251.2 812 251.3 841 251.4 811 251.5 802 251.6 817 251.7 803 251.8 823 251.9 819 252.0 807 252.1 810 252.2 802 252.3 808 252.4 792 252.5 780 252.6 798 252.6 793 252.7 803 252.8 829 252.9 794 253.0 794 253.1 830 253.2 813 253.3 838 253.4 804 253.5 783 253.6 807 253.7 823 253.8 791 253.9 801 254.0 807 254.1 796 254.1 815 254.2 791 254.3 848 254.4 801 254.5 826 254.6 804 254.7 825 254.8 840 254.9 802 255.0 835 255.1 854 255.2 815 255.3 787 255.4 779 255.5 782 255.6 844 255.7 811 255.7 828 255.8 807 255.9 845 256.0 799 256.1 807 256.2 787 256.3 788 256.4 809 256.5 840 256.6 800 256.7 823 256.8 810 256.9 789 257.0 845 257.1 816 257.2 828 257.3 806 257.3 802 257.4 804 257.5 803 257.6 825 257.7 821 257.8 812 257.9 807 258.0 813 258.1 827 258.2 816 258.3 808 258.4 831 258.5 827 258.6 802 258.7 769 258.8 807 258.9 830 258.9 782 259.0 801 259.1 829 259.2 805 259.3 803 259.4 791 259.5 826 259.6 791 259.7 817 259.8 805 259.9 832 260.0 788 260.1 806 260.2 826 260.3 802 260.4 797 260.5 792 260.5 794 260.6 844 260.7 829 260.8 811 260.9 807 261.0 832 261.1 791 261.2 802 261.3 843 261.4 833 261.5 789 261.6 844 261.7 773 261.8 781 261.9 833 262.0 803 262.0 792 262.1 836 262.2 846 262.3 784 262.4 816 262.5 842 262.6 791 262.7 792 262.8 804 262.9 813 263.0 830 263.1 843 263.2 798 263.3 803 263.4 838 263.5 829 263.6 827 263.6 821 263.7 814 263.8 786 263.9 811 264.0 792 264.1 810 264.2 794 264.3 815 264.4 795 264.5 825 264.6 843 264.7 792 264.8 835 264.9 833 265.0 784 265.1 818 265.2 810 265.2 807 265.3 802 265.4 793 265.5 816 265.6 829 265.7 794 265.8 814 265.9 821 266.0 800 266.1 799 266.2 808 266.3 850 266.4 774 266.5 813 266.6 838 266.7 802 266.8 788 266.8 791 266.9 805 267.0 803 267.1 845 267.2 862 267.3 789 267.4 807 267.5 808 267.6 840 267.7 781 267.8 823 267.9 796 268.0 837 268.1 851 268.2 808 268.3 802 268.4 833 268.4 767 268.5 822 268.6 786 268.7 791 268.8 837 268.9 802 269.0 827 269.1 807 269.2 813 269.3 792 269.4 824 269.5 800 269.6 796 269.7 790 269.8 825 269.9 797 270.0 796 270.0 790 270.1 853 270.2 845 270.3 846 270.4 820 270.5 833 270.6 818 270.7 815 270.8 792 270.9 794 271.0 820 271.1 814 271.2 843 271.3 822 271.4 814 271.5 820 271.5 775 271.6 857 271.7 822 271.8 811 271.9 795 272.0 804 272.1 842 272.2 828 272.3 802 272.4 808 272.5 790 272.6 799 272.7 814 272.8 816 272.9 797 273.0 823 273.1 815 273.1 789 273.2 818 273.3 801 273.4 857 273.5 824 273.6 810 273.7 800 273.8 812 273.9 808 274.0 825 274.1 811 274.2 795 274.3 827 274.4 835 274.5 792 274.6 777 274.7 784 274.7 822 274.8 815 274.9 817 275.0 800 275.1 795 275.2 823 275.3 799 275.4 803 275.5 783 275.6 813 275.7 804 275.8 843 275.9 818 276.0 799 276.1 834 276.2 826 276.3 811 276.3 816 276.4 827 276.5 820 276.6 800 276.7 785 276.8 793 276.9 804 277.0 785 277.1 838 277.2 789 277.3 808 277.4 811 277.5 821 277.6 810 277.7 801 277.8 821 277.9 827 277.9 802 278.0 782 278.1 789 278.2 790 278.3 822 278.4 819 278.5 817 278.6 776 278.7 818 278.8 788 278.9 794 279.0 825 279.1 801 279.2 785 279.3 797 279.4 804 279.4 789 279.5 835 279.6 818 279.7 809 279.8 796 279.9 787 280.0 821 280.1 808 280.2 787 280.3 788 280.4 820 280.5 826 280.6 816 280.7 803 280.8 853 280.9 784 281.0 813 281.0 790 281.1 782 281.2 816 281.3 835 281.4 839 281.5 779 281.6 821 281.7 809 281.8 833 281.9 818 282.0 804 282.1 800 282.2 809 282.3 828 282.4 813 282.5 814 282.6 788 282.6 820 282.7 832 282.8 802 282.9 826 283.0 786 283.1 786 283.2 816 283.3 817 283.4 798 283.5 839 283.6 791 283.7 786 283.8 805 283.9 807 284.0 821 284.1 825 284.2 802 284.2 803 284.3 820 284.4 791 284.5 816 284.6 792 284.7 828 284.8 804 284.9 798 285.0 792 285.1 815 285.2 808 285.3 807 285.4 789 285.5 825 285.6 813 285.7 841 285.8 779 285.8 805 285.9 815 286.0 811 286.1 795 286.2 814 286.3 804 286.4 835 286.5 831 286.6 788 286.7 808 286.8 838 286.9 807 287.0 795 287.1 781 287.2 823 287.3 806 287.3 824 287.4 839 287.5 827 287.6 810 287.7 818 287.8 813 287.9 818 288.0 805 288.1 768 288.2 798 288.3 790 288.4 773 288.5 833 288.6 831 288.7 823 288.8 832 288.9 789 288.9 830 289.0 821 289.1 791 289.2 824 289.3 803 289.4 793 289.5 820 289.6 787 289.7 797 289.8 801 289.9 811 290.0 826 290.1 773 290.2 818 290.3 813 290.4 810 290.5 811 290.5 798 290.6 822 290.7 809 290.8 791 290.9 828 291.0 809 291.1 831 291.2 811 291.3 804 291.4 824 291.5 774 291.6 834 291.7 787 291.8 811 291.9 803 292.0 826 292.1 797 292.1 801 292.2 838 292.3 811 292.4 812 292.5 793 292.6 830 292.7 795 292.8 802 292.9 781 293.0 832 293.1 791 293.2 857 293.3 832 293.4 814 293.5 829 293.6 795 293.7 817 293.7 807 293.8 809 293.9 796 294.0 821 294.1 790 294.2 812 294.3 801 294.4 798 294.5 799 294.6 823 294.7 818 294.8 819 294.9 804 295.0 805 295.1 847 295.2 845 295.2 794 295.3 829 295.4 800 295.5 822 295.6 801 295.7 803 295.8 827 295.9 787 296.0 787 296.1 798 296.2 841 296.3 822 296.4 799 296.5 791 296.6 823 296.7 854 296.8 827 296.8 796 296.9 823 297.0 783 297.1 814 297.2 779 297.3 829 297.4 810 297.5 795 297.6 825 297.7 747 297.8 787 297.9 816 298.0 800 298.1 815 298.2 813 298.3 785 298.4 805 298.4 779 298.5 810 298.6 793 298.7 798 298.8 788 298.9 815 299.0 801 299.1 802 299.2 835 299.3 794 299.4 803 299.5 823 299.6 796 299.7 792 299.8 816 299.9 799 300.0 783 300.0 802 300.1 807 300.2 812 300.3 825 300.4 790 300.5 811 300.6 825 300.7 861 300.8 809 300.9 821 301.0 813 301.1 809 301.2 813 301.3 801 301.4 791 301.5 817 301.6 803 301.6 818 301.7 794 301.8 813 301.9 813 302.0 803 302.1 809 302.2 820 302.3 804 302.4 796 302.5 810 302.6 819 302.7 788 302.8 807 302.9 824 303.0 825 303.1 813 303.1 789 303.2 787 303.3 797 303.4 831 303.5 816 303.6 786 303.7 794 303.8 805 303.9 794 304.0 814 304.1 802 304.2 800 304.3 823 304.4 791 304.5 816 304.6 797 304.7 826 304.7 783 304.8 769 304.9 818 305.0 796 305.1 825 305.2 775 305.3 832 305.4 815 305.5 818 305.6 778 305.7 827 305.8 802 305.9 789 306.0 804 306.1 817 306.2 804 306.3 819 306.3 798 306.4 799 306.5 805 306.6 793 306.7 817 306.8 815 306.9 805 307.0 800 307.1 818 307.2 800 307.3 799 307.4 809 307.5 812 307.6 818 307.7 786 307.8 823 307.9 781 307.9 815 308.0 836 308.1 798 308.2 807 308.3 818 308.4 812 308.5 814 308.6 797 308.7 830 308.8 827 308.9 787 309.0 799 309.1 812 309.2 782 309.3 818 309.4 772 309.5 822 309.5 804 309.6 805 309.7 783 309.8 798 309.9 800 310.0 798 310.1 792 310.2 791 310.3 820 310.4 819 310.5 805 310.6 837 310.7 840 310.8 804 310.9 802 311.0 816 311.0 824 311.1 826 311.2 806 311.3 779 311.4 816 311.5 802 311.6 811 311.7 814 311.8 795 311.9 837 312.0 820 312.1 804 312.2 808 312.3 838 312.4 779 312.5 766 312.6 820 312.6 792 312.7 801 312.8 808 312.9 833 313.0 797 313.1 803 313.2 826 313.3 792 313.4 821 313.5 790 313.6 807 313.7 817 313.8 772 313.9 784 314.0 797 314.1 825 314.2 816 314.2 799 314.3 819 314.4 821 314.5 801 314.6 804 314.7 832 314.8 795 314.9 809 315.0 772 315.1 810 315.2 812 315.3 822 315.4 797 315.5 815 315.6 806 315.7 789 315.8 783 315.8 803 315.9 813 316.0 810 316.1 827 316.2 784 316.3 797 316.4 832 316.5 830 316.6 820 316.7 780 316.8 834 316.9 810 317.0 806 317.1 828 317.2 814 317.3 781 317.4 788 317.4 834 317.5 801 317.6 808 317.7 788 317.8 830 317.9 806 318.0 795 318.1 827 318.2 809 318.3 809 318.4 800 318.5 818 318.6 761 318.7 796 318.8 827 318.9 822 318.9 827 319.0 806 319.1 807 319.2 795 319.3 802 319.4 820 319.5 816 319.6 797 319.7 794 319.8 831 319.9 817 320.0 793 320.1 819 320.2 806 320.3 823 320.4 787 320.5 813 320.5 816 320.6 799 320.7 810 320.8 802 320.9 785 321.0 807 321.1 806 321.2 780 321.3 810 321.4 810 321.5 791 321.6 828 321.7 785 321.8 809 321.9 818 322.0 815 322.1 820 322.1 794 322.2 817 322.3 844 322.4 819 322.5 795 322.6 812 322.7 819 322.8 827 322.9 788 323.0 819 323.1 798 323.2 845 323.3 814 323.4 825 323.5 814 323.6 806 323.7 817 323.7 802 323.8 789 323.9 808 324.0 830 324.1 792 324.2 822 324.3 810 324.4 790 324.5 807 324.6 812 324.7 813 324.8 831 324.9 817 325.0 831 325.1 801 325.2 817 325.3 809 325.3 790 325.4 794 325.5 803 325.6 794 325.7 796 325.8 809 325.9 798 326.0 784 326.1 814 326.2 805 326.3 837 326.4 824 326.5 807 326.6 817 326.7 805 326.8 814 326.8 812 326.9 810 327.0 820 327.1 797 327.2 822 327.3 808 327.4 787 327.5 807 327.6 820 327.7 819 327.8 799 327.9 797 328.0 822 328.1 820 328.2 774 328.3 824 328.4 782 328.4 806 328.5 821 328.6 813 328.7 815 328.8 816 328.9 803 329.0 840 329.1 791 329.2 801 329.3 824 329.4 837 329.5 779 329.6 838 329.7 804 329.8 799 329.9 831 330.0 788 330.0 837 330.1 841 330.2 832 330.3 825 330.4 785 330.5 832 330.6 776 330.7 806 330.8 791 330.9 800 331.0 823 331.1 815 331.2 801 331.3 802 331.4 773 331.5 825 331.6 833 331.6 831 331.7 833 331.8 812 331.9 803 332.0 774 332.1 807 332.2 820 332.3 807 332.4 773 332.5 819 332.6 825 332.7 801 332.8 797 332.9 796 333.0 798 333.1 791 333.2 776 333.2 776 333.3 791 333.4 802 333.5 824 333.6 821 333.7 834 333.8 820 333.9 806 334.0 794 334.1 831 334.2 784 334.3 812 334.4 843 334.5 803 334.6 826 334.7 825 334.7 810 334.8 829 334.9 808 335.0 806 335.1 789 335.2 826 335.3 831 335.4 763 335.5 820 335.6 785 335.7 811 335.8 815 335.9 770 336.0 793 336.1 816 336.2 813 336.3 795 336.3 811 336.4 799 336.5 814 336.6 811 336.7 804 336.8 812 336.9 833 337.0 807 337.1 826 337.2 815 337.3 817 337.4 827 337.5 774 337.6 835 337.7 787 337.8 830 337.9 817 337.9 792 338.0 808 338.1 804 338.2 774 338.3 796 338.4 785 338.5 804 338.6 806 338.7 807 338.8 778 338.9 864 339.0 800 339.1 798 339.2 837 339.3 802 339.4 811 339.5 824 339.5 803 339.6 827 339.7 780 339.8 830 339.9 828 340.0 815 340.1 807 340.2 795 340.3 801 340.4 805 340.5 854 340.6 815 340.7 808 340.8 790 340.9 825 341.0 800 341.1 814 341.1 821 341.2 807 341.3 811 341.4 804 341.5 807 341.6 790 341.7 792 341.8 825 341.9 779 342.0 781 342.1 790 342.2 803 342.3 771 342.4 812 342.5 801 342.6 823 342.6 802 342.7 784 342.8 813 342.9 791 343.0 823 343.1 796 343.2 776 343.3 810 343.4 807 343.5 785 343.6 787 343.7 806 343.8 801 343.9 804 344.0 788 344.1 793 344.2 800 344.2 818 344.3 832 344.4 839 344.5 798 344.6 751 344.7 794 344.8 789 344.9 807 345.0 798 345.1 825 345.2 804 345.3 827 345.4 795 345.5 828 345.6 788 345.7 806 345.8 794 345.8 798 345.9 831 346.0 829 346.1 787 346.2 799 346.3 792 346.4 769 346.5 794 346.6 777 346.7 809 346.8 818 346.9 802 347.0 804 347.1 800 347.2 792 347.3 791 347.4 783 347.4 813 347.5 818 347.6 798 347.7 792 347.8 801 347.9 801 348.0 772 348.1 797 348.2 825 348.3 815 348.4 777 348.5 791 348.6 832 348.7 823 348.8 800 348.9 813 349.0 798 349.0 826 349.1 808 349.2 801 349.3 795 349.4 805 349.5 808 349.6 808 349.7 797 349.8 795 349.9 819 350.0 821 350.1 805 350.2 827 350.3 812 350.4 765 350.5 798 350.6 816 350.6 817 350.7 820 350.8 826 350.9 812 351.0 794 351.1 790 351.2 793 351.3 843 351.4 803 351.5 822 351.6 805 351.7 809 351.8 814 351.9 830 352.0 809 352.1 808 352.1 799 352.2 807 352.3 824 352.4 781 352.5 779 352.6 813 352.7 831 352.8 766 352.9 778 353.0 794 353.1 835 353.2 776 353.3 788 353.4 819 353.5 851 353.6 781 353.7 818 353.7 805 353.8 795 353.9 787 354.0 811 354.1 795 354.2 802 354.3 810 354.4 797 354.5 811 354.6 811 354.7 810 354.8 835 354.9 819 355.0 828 355.1 795 355.2 836 355.3 773 355.3 805 355.4 809 355.5 831 355.6 817 355.7 779 355.8 807 355.9 837 356.0 793 356.1 778 356.2 816 356.3 809 356.4 780 356.5 852 356.6 786 356.7 820 356.8 801 356.9 786 356.9 793 357.0 798 357.1 784 357.2 819 357.3 804 357.4 821 357.5 801 357.6 816 357.7 825 357.8 825 357.9 791 358.0 840 358.1 832 358.2 842 358.3 831 358.4 842 358.5 833 358.5 831 358.6 782 358.7 809 358.8 825 358.9 844 359.0 824 359.1 785 359.2 817 359.3 794 359.4 804 359.5 809 359.6 815 359.7 813 359.8 816 359.9 822 360.0 809 360.0 791 360.1 799 360.2 838 360.3 799 360.4 803 360.5 820 360.6 794 360.7 799 360.8 776 360.9 848 361.0 796 361.1 829 361.2 807 361.3 800 361.4 782 361.5 805 361.6 824 361.6 795 361.7 800 361.8 788 361.9 858 362.0 808 362.1 863 362.2 805 362.3 810 362.4 824 362.5 802 362.6 806 362.7 790 362.8 784 362.9 807 363.0 813 363.1 823 363.2 787 363.2 811 363.3 813 363.4 797 363.5 820 363.6 813 363.7 809 363.8 791 363.9 828 364.0 830 364.1 820 364.2 822 364.3 823 364.4 795 364.5 818 364.6 776 364.7 792 364.8 809 364.8 811 364.9 797 365.0 766 365.1 801 365.2 826 365.3 809 365.4 748 365.5 826 365.6 814 365.7 808 365.8 819 365.9 785 366.0 821 366.1 811 366.2 799 366.3 798 366.4 813 366.4 806 366.5 810 366.6 871 366.7 796 366.8 805 366.9 812 367.0 793 367.1 841 367.2 786 367.3 820 367.4 826 367.5 827 367.6 802 367.7 820 367.8 796 367.9 835 367.9 787 368.0 813 368.1 776 368.2 801 368.3 816 368.4 813 368.5 843 368.6 813 368.7 831 368.8 820 368.9 769 369.0 827 369.1 798 369.2 799 369.3 814 369.4 810 369.5 820 369.5 775 369.6 798 369.7 789 369.8 840 369.9 811 370.0 828 370.1 788 370.2 813 370.3 822 370.4 806 370.5 805 370.6 810 370.7 779 370.8 790 370.9 804 371.0 797 371.1 814 371.1 834 371.2 809 371.3 851 371.4 791 371.5 816 371.6 843 371.7 806 371.8 760 371.9 821 372.0 811 372.1 800 372.2 830 372.3 780 372.4 815 372.5 802 372.6 792 372.7 810 372.7 795 372.8 836 372.9 833 373.0 804 373.1 820 373.2 819 373.3 808 373.4 796 373.5 783 373.6 773 373.7 782 373.8 790 373.9 823 374.0 823 374.1 830 374.2 815 374.3 802 374.3 770 374.4 820 374.5 795 374.6 817 374.7 808 374.8 839 374.9 762 375.0 802 375.1 807 375.2 805 375.3 832 375.4 791 375.5 799 375.6 789 375.7 776 375.8 791 375.8 814 375.9 811 376.0 832 376.1 762 376.2 830 376.3 782 376.4 821 376.5 800 376.6 805 376.7 822 376.8 787 376.9 790 377.0 801 377.1 788 377.2 771 377.3 825 377.4 813 377.4 828 377.5 818 377.6 809 377.7 809 377.8 803 377.9 774 378.0 788 378.1 811 378.2 795 378.3 815 378.4 786 378.5 812 378.6 807 378.7 830 378.8 814 378.9 768 379.0 852 379.0 807 379.1 817 379.2 815 379.3 782 379.4 819 379.5 834 379.6 810 379.7 808 379.8 794 379.9 780 380.0 793 380.1 791 380.2 818 380.3 822 380.4 801 380.5 796 380.6 791 380.6 797 380.7 817 380.8 819 380.9 785 381.0 790 381.1 841 381.2 798 381.3 799 381.4 822 381.5 830 381.6 792 381.7 799 381.8 832 381.9 808 382.0 785 382.1 815 382.2 776 382.2 832 382.3 783 382.4 811 382.5 825 382.6 813 382.7 791 382.8 831 382.9 786 383.0 794 383.1 850 383.2 801 383.3 785 383.4 820 383.5 855 383.6 792 383.7 787 383.7 778 383.8 824 383.9 826 384.0 817 384.1 783 384.2 824 384.3 805 384.4 837 384.5 779 384.6 807 384.7 804 384.8 744 384.9 787 385.0 796 385.1 806 385.2 810 385.3 834 385.3 790 385.4 811 385.5 810 385.6 836 385.7 783 385.8 804 385.9 803 386.0 815 386.1 796 386.2 790 386.3 795 386.4 826 386.5 839 386.6 809 386.7 797 386.8 853 386.9 824 386.9 817 387.0 806 387.1 786 387.2 815 387.3 790 387.4 813 387.5 789 387.6 819 387.7 807 387.8 791 387.9 807 388.0 852 388.1 813 388.2 799 388.3 807 388.4 828 388.5 817 388.5 794 388.6 791 388.7 799 388.8 821 388.9 826 389.0 768 389.1 829 389.2 786 389.3 805 389.4 797 389.5 801 389.6 813 389.7 796 389.8 826 389.9 815 390.0 805 390.1 857 390.1 783 390.2 812 390.3 814 390.4 828 390.5 813 390.6 835 390.7 829 390.8 822 390.9 809 391.0 811 391.1 822 391.2 819 391.3 798 391.4 823 391.5 781 391.6 797 391.6 821 391.7 834 391.8 807 391.9 789 392.0 806 392.1 807 392.2 836 392.3 794 392.4 829 392.5 780 392.6 808 392.7 778 392.8 796 392.9 845 393.0 810 393.1 798 393.2 782 393.2 811 393.3 799 393.4 840 393.5 805 393.6 812 393.7 797 393.8 810 393.9 813 394.0 811 394.1 797 394.2 782 394.3 792 394.4 788 394.5 827 394.6 834 394.7 828 394.8 828 394.8 798 394.9 811 395.0 813 395.1 766 395.2 813 395.3 791 395.4 806 395.5 828 395.6 839 395.7 819 395.8 800 395.9 798 396.0 784 396.1 797 396.2 773 396.3 820 396.4 820 396.4 792 396.5 810 396.6 787 396.7 777 396.8 799 396.9 813 397.0 852 397.1 811 397.2 801 397.3 831 397.4 799 397.5 802 397.6 803 397.7 789 397.8 778 397.9 825 398.0 809 398.0 800 398.1 777 398.2 804 398.3 794 398.4 803 398.5 801 398.6 801 398.7 784 398.8 795 398.9 788 399.0 803 399.1 811 399.2 807 399.3 787 399.4 803 399.5 834 399.5 797 399.6 827 399.7 847 399.8 808 399.9 774 400.0 790 400.1 794 400.2 821 400.3 826 400.4 825 400.5 813 400.6 820 400.7 805 400.8 802 400.9 823 401.0 797 401.1 847 401.1 818 401.2 817 401.3 821 401.4 811 401.5 812 401.6 803 401.7 800 401.8 839 401.9 791 402.0 799 402.1 784 402.2 780 402.3 775 402.4 783 402.5 807 402.6 779 402.7 806 402.7 813 402.8 805 402.9 773 403.0 787 403.1 803 403.2 806 403.3 822 403.4 790 403.5 873 403.6 805 403.7 813 403.8 818 403.9 791 404.0 812 404.1 779 404.2 830 404.3 767 404.3 817 404.4 793 404.5 817 404.6 817 404.7 806 404.8 792 404.9 815 405.0 819 405.1 816 405.2 831 405.3 830 405.4 803 405.5 791 405.6 792 405.7 808 405.8 804 405.9 854 405.9 823 406.0 816 406.1 800 406.2 799 406.3 809 406.4 806 406.5 767 406.6 823 406.7 806 406.8 815 406.9 819 407.0 813 407.1 804 407.2 820 407.3 772 407.4 810 407.4 810 407.5 778 407.6 779 407.7 783 407.8 786 407.9 841 408.0 817 408.1 812 408.2 821 408.3 779 408.4 789 408.5 823 408.6 832 408.7 836 408.8 830 408.9 805 409.0 796 409.0 818 409.1 780 409.2 811 409.3 800 409.4 828 409.5 813 409.6 831 409.7 807 409.8 793 409.9 811 410.0 811 410.1 786 410.2 816 410.3 788 410.4 802 410.5 820 410.6 824 410.6 804 410.7 791 410.8 812 410.9 831 411.0 817 411.1 790 411.2 802 411.3 812 411.4 809 411.5 771 411.6 855 411.7 830 411.8 787 411.9 795 412.0 799 412.1 822 412.2 790 412.2 821 412.3 818 412.4 824 412.5 797 412.6 830 412.7 797 412.8 817 412.9 795 413.0 815 413.1 777 413.2 813 413.3 809 413.4 817 413.5 818 413.6 808 413.7 804 413.8 837 413.8 821 413.9 806 414.0 822 414.1 808 414.2 792 414.3 791 414.4 784 414.5 796 414.6 781 414.7 836 414.8 818 414.9 824 415.0 818 415.1 794 415.2 809 415.3 843 415.3 772 415.4 790 415.5 805 415.6 815 415.7 824 415.8 827 415.9 828 416.0 794 416.1 835 416.2 795 416.3 784 416.4 808 416.5 784 416.6 794 416.7 807 416.8 807 416.9 775 416.9 773 417.0 829 417.1 804 417.2 835 417.3 813 417.4 783 417.5 802 417.6 819 417.7 792 417.8 793 417.9 794 418.0 787 418.1 800 418.2 800 418.3 795 418.4 792 418.5 759 418.5 824 418.6 822 418.7 822 418.8 839 418.9 824 419.0 827 419.1 792 419.2 789 419.3 832 419.4 808 419.5 831 419.6 820 419.7 803 419.8 812 419.9 811 420.0 781 420.1 799 420.1 821 420.2 823 420.3 835 420.4 810 420.5 783 420.6 788 420.7 812 420.8 828 420.9 818 421.0 835 421.1 854 421.2 855 421.3 806 421.4 823 421.5 837 421.6 794 421.7 795 421.7 783 421.8 807 421.9 821 422.0 795 422.1 829 422.2 815 422.3 787 422.4 829 422.5 807 422.6 816 422.7 832 422.8 778 422.9 832 423.0 822 423.1 811 423.2 790 423.2 802 423.3 823 423.4 825 423.5 796 423.6 811 423.7 813 423.8 809 423.9 804 424.0 815 424.1 787 424.2 773 424.3 826 424.4 816 424.5 795 424.6 802 424.7 818 424.8 825 424.8 821 424.9 796 425.0 793 425.1 826 425.2 804 425.3 830 425.4 787 425.5 815 425.6 819 425.7 827 425.8 798 425.9 791 426.0 833 426.1 788 426.2 823 426.3 816 426.4 822 426.4 790 426.5 773 426.6 821 426.7 789 426.8 812 426.9 776 427.0 803 427.1 817 427.2 778 427.3 804 427.4 800 427.5 790 427.6 814 427.7 800 427.8 799 427.9 800 428.0 839 428.0 808 428.1 792 428.2 792 428.3 815 428.4 805 428.5 817 428.6 818 428.7 830 428.8 805 428.9 794 429.0 804 429.1 794 429.2 804 429.3 801 429.4 805 429.5 803 429.6 827 429.6 811 429.7 826 429.8 828 429.9 772 430.0 822 430.1 827 430.2 876 430.3 810 430.4 808 430.5 846 430.6 812 430.7 798 430.8 828 430.9 791 431.0 810 431.1 799 431.2 822 431.2 806 431.3 798 431.4 793 431.5 818 431.6 817 431.7 786 431.8 818 431.9 817 432.0 808 432.1 826 432.2 788 432.3 835 432.4 821 432.5 798 432.6 808 432.7 827 432.7 796 432.8 800 432.9 805 433.0 824 433.1 802 433.2 844 433.3 792 433.4 796 433.5 840 433.6 835 433.7 825 433.8 810 433.9 779 434.0 813 434.1 785 434.2 799 434.3 809 434.3 826 434.4 790 434.5 798 434.6 832 434.7 819 434.8 785 434.9 821 435.0 790 435.1 801 435.2 800 435.3 813 435.4 806 435.5 784 435.6 795 435.7 859 435.8 823 435.9 787 435.9 831 436.0 816 436.1 822 436.2 785 436.3 826 436.4 796 436.5 797 436.6 776 436.7 797 436.8 804 436.9 801 437.0 808 437.1 809 437.2 791 437.3 843 437.4 828 437.5 800 437.5 780 437.6 806 437.7 814 437.8 813 437.9 833 438.0 802 438.1 788 438.2 794 438.3 798 438.4 786 438.5 810 438.6 797 438.7 805 438.8 825 438.9 812 439.0 808 439.1 780 439.1 803 439.2 805 439.3 782 439.4 835 439.5 836 439.6 808 439.7 799 439.8 802 439.9 798 440.0 801 440.1 850 440.2 810 440.3 826 440.4 793 440.5 794 440.6 827 440.6 816 440.7 827 440.8 777 440.9 800 441.0 781 441.1 789 441.2 809 441.3 803 441.4 829 441.5 808 441.6 812 441.7 823 441.8 838 441.9 799 442.0 825 442.1 868 442.2 815 442.2 789 442.3 790 442.4 802 442.5 819 442.6 809 442.7 801 442.8 825 442.9 825 443.0 822 443.1 812 443.2 812 443.3 823 443.4 802 443.5 806 443.6 793 443.7 833 443.8 783 443.8 849 443.9 807 444.0 799 444.1 791 444.2 797 444.3 771 444.4 813 444.5 836 444.6 853 444.7 815 444.8 813 444.9 834 445.0 793 445.1 789 445.2 805 445.3 805 445.4 831 445.4 799 445.5 787 445.6 814 445.7 813 445.8 826 445.9 797 446.0 823 446.1 801 446.2 827 446.3 814 446.4 800 446.5 812 446.6 806 446.7 815 446.8 832 446.9 791 447.0 841 447.0 814 447.1 795 447.2 813 447.3 801 447.4 827 447.5 798 447.6 784 447.7 803 447.8 830 447.9 820 448.0 778 448.1 794 448.2 813 448.3 816 448.4 803 448.5 806 448.5 792 448.6 800 448.7 797 448.8 777 448.9 813 449.0 831 449.1 816 449.2 786 449.3 806 449.4 812 449.5 811 449.6 842 449.7 807 449.8 827 449.9 777 450.0 824 450.1 824 450.1 817 450.2 794 450.3 827 450.4 805 450.5 824 450.6 763 450.7 790 450.8 808 450.9 812 451.0 800 451.1 833 451.2 803 451.3 778 451.4 833 451.5 830 451.6 830 451.7 802 451.7 817 451.8 804 451.9 783 452.0 800 452.1 813 452.2 786 452.3 831 452.4 817 452.5 792 452.6 807 452.7 770 452.8 835 452.9 826 453.0 806 453.1 805 453.2 789 453.3 799 453.3 794 453.4 795 453.5 827 453.6 812 453.7 815 453.8 769 453.9 804 454.0 787 454.1 810 454.2 802 454.3 796 454.4 820 454.5 818 454.6 799 454.7 798 454.8 786 454.9 816 454.9 791 455.0 788 455.1 813 455.2 820 455.3 819 455.4 800 455.5 844 455.6 781 455.7 845 455.8 822 455.9 815 456.0 808 456.1 820 456.2 833 456.3 815 456.4 777 456.4 810 456.5 789 456.6 825 456.7 798 456.8 777 456.9 803 457.0 825 457.1 786 457.2 783 457.3 787 457.4 812 457.5 809 457.6 813 457.7 816 457.8 849 457.9 795 458.0 808 458.0 836 458.1 795 458.2 837 458.3 799 458.4 794 458.5 782 458.6 835 458.7 810 458.8 799 458.9 823 459.0 793 459.1 817 459.2 787 459.3 805 459.4 789 459.5 797 459.6 819 459.6 803 459.7 798 459.8 800 459.9 789 460.0 798 460.1 789 460.2 819 460.3 783 460.4 798 460.5 814 460.6 805 460.7 824 460.8 819 460.9 791 461.0 789 461.1 811 461.2 843 461.2 825 461.3 795 461.4 800 461.5 800 461.6 828 461.7 814 461.8 802 461.9 799 462.0 815 462.1 811 462.2 801 462.3 820 462.4 825 462.5 795 462.6 805 462.7 830 462.8 786 462.8 779 462.9 797 463.0 811 463.1 804 463.2 798 463.3 815 463.4 799 463.5 821 463.6 808 463.7 830 463.8 816 463.9 813 464.0 843 464.1 805 464.2 800 464.3 793 464.3 796 464.4 805 464.5 827 464.6 784 464.7 810 464.8 838 464.9 823 465.0 809 465.1 800 465.2 804 465.3 781 465.4 833 465.5 810 465.6 831 465.7 826 465.8 788 465.9 806 465.9 773 466.0 784 466.1 790 466.2 793 466.3 820 466.4 816 466.5 811 466.6 817 466.7 808 466.8 773 466.9 799 467.0 811 467.1 814 467.2 802 467.3 781 467.4 802 467.5 811 467.5 779 467.6 811 467.7 821 467.8 816 467.9 814 468.0 820 468.1 802 468.2 775 468.3 808 468.4 836 468.5 798 468.6 794 468.7 819 468.8 821 468.9 792 469.0 767 469.1 814 469.1 770 469.2 777 469.3 798 469.4 812 469.5 839 469.6 801 469.7 823 469.8 784 469.9 812 470.0 787 470.1 817 470.2 794 470.3 813 470.4 790 470.5 828 470.6 817 470.7 820 470.7 807 470.8 765 470.9 800 471.0 812 471.1 821 471.2 763 471.3 767 471.4 805 471.5 826 471.6 840 471.7 787 471.8 780 471.9 822 472.0 806 472.1 799 472.2 794 472.2 825 472.3 816 472.4 818 472.5 831 472.6 799 472.7 817 472.8 779 472.9 798 473.0 814 473.1 809 473.2 814 473.3 759 473.4 810 473.5 823 473.6 813 473.7 816 473.8 822 473.8 795 473.9 801 474.0 802 474.1 789 474.2 787 474.3 813 474.4 785 474.5 799 474.6 808 474.7 799 474.8 805 474.9 828 475.0 810 475.1 837 475.2 797 475.3 827 475.4 804 475.4 804 475.5 824 475.6 788 475.7 817 475.8 803 475.9 821 476.0 791 476.1 779 476.2 798 476.3 796 476.4 819 476.5 801 476.6 813 476.7 780 476.8 818 476.9 796 477.0 802 477.0 780 477.1 794 477.2 841 477.3 782 477.4 823 477.5 791 477.6 836 477.7 805 477.8 795 477.9 851 478.0 833 478.1 764 478.2 811 478.3 773 478.4 802 478.5 816 478.6 813 478.6 811 478.7 808 478.8 795 478.9 805 479.0 782 479.1 805 479.2 820 479.3 796 479.4 811 479.5 786 479.6 801 479.7 815 479.8 797 479.9 818 480.0 806 480.1 826 480.1 765 480.2 810 480.3 824 480.4 846 480.5 779 480.6 776 480.7 799 480.8 819 480.9 801 481.0 815 481.1 820 481.2 795 481.3 792 481.4 819 481.5 786 481.6 813 481.7 860 481.7 828 481.8 792 481.9 801 482.0 788 482.1 795 482.2 780 482.3 823 482.4 789 482.5 769 482.6 812 482.7 828 482.8 806 482.9 796 483.0 792 483.1 795 483.2 749 483.3 820 483.3 818 483.4 792 483.5 815 483.6 813 483.7 803 483.8 775 483.9 816 484.0 830 484.1 798 484.2 796 484.3 777 484.4 805 484.5 807 484.6 810 484.7 806 484.8 821 484.9 805 484.9 827 485.0 794 485.1 806 485.2 799 485.3 817 485.4 805 485.5 815 485.6 772 485.7 795 485.8 809 485.9 795 486.0 793 486.1 802 486.2 827 486.3 772 486.4 806 486.5 812 486.5 813 486.6 791 486.7 811 486.8 795 486.9 801 487.0 796 487.1 787 487.2 815 487.3 835 487.4 813 487.5 801 487.6 796 487.7 797 487.8 823 487.9 812 488.0 810 488.0 833 488.1 835 488.2 781 488.3 827 488.4 807 488.5 817 488.6 806 488.7 808 488.8 818 488.9 829 489.0 809 489.1 757 489.2 793 489.3 816 489.4 791 489.5 782 489.6 821 489.6 806 489.7 795 489.8 809 489.9 813 490.0 793 490.1 807 490.2 810 490.3 811 490.4 798 490.5 789 490.6 814 490.7 782 490.8 853 490.9 804 491.0 793 491.1 772 491.2 779 491.2 838 491.3 808 491.4 804 491.5 830 491.6 830 491.7 821 491.8 817 491.9 799 492.0 803 492.1 835 492.2 821 492.3 837 492.4 782 492.5 815 492.6 812 492.7 805 492.8 815 492.8 783 492.9 798 493.0 792 493.1 811 493.2 796 493.3 819 493.4 794 493.5 803 493.6 789 493.7 817 493.8 803 493.9 849 494.0 832 494.1 805 494.2 823 494.3 808 494.4 772 494.4 821 494.5 789 494.6 820 494.7 807 494.8 798 494.9 812 495.0 816 495.1 789 495.2 782 495.3 829 495.4 816 495.5 798 495.6 779 495.7 767 495.8 809 495.9 785 495.9 782 496.0 816 496.1 805 496.2 814 496.3 792 496.4 809 496.5 795 496.6 818 496.7 824 496.8 801 496.9 807 497.0 775 497.1 793 497.2 779 497.3 789 497.4 788 497.5 843 497.5 818 497.6 819 497.7 806 497.8 800 497.9 790 498.0 801 498.1 846 498.2 774 498.3 805 498.4 799 498.5 810 498.6 787 498.7 792 498.8 826 498.9 810 499.0 792 499.1 791 499.1 781 499.2 808 499.3 798 499.4 805 499.5 800 499.6 811 499.7 785 499.8 821 499.9 800 500.0 821 500.1 792 500.2 800 500.3 756 500.4 812 500.5 765 500.6 809 500.7 789 500.7 791 500.8 823 500.9 800 501.0 784 501.1 824 501.2 779 501.3 830 501.4 795 501.5 818 501.6 818 501.7 790 501.8 787 501.9 792 502.0 810 502.1 795 502.2 807 502.3 787 502.3 837 502.4 800 502.5 782 502.6 811 502.7 813 502.8 822 502.9 803 503.0 810 503.1 790 503.2 825 503.3 799 503.4 816 503.5 831 503.6 824 503.7 837 503.8 847 503.8 818 503.9 767 504.0 819 504.1 800 504.2 813 504.3 827 504.4 799 504.5 834 504.6 786 504.7 823 504.8 775 504.9 789 505.0 801 505.1 807 505.2 810 505.3 809 505.4 800 505.4 795 505.5 802 505.6 812 505.7 800 505.8 818 505.9 786 506.0 818 506.1 791 506.2 816 506.3 796 506.4 804 506.5 800 506.6 787 506.7 811 506.8 819 506.9 807 507.0 785 507.0 767 507.1 814 507.2 841 507.3 821 507.4 787 507.5 794 507.6 778 507.7 789 507.8 772 507.9 785 508.0 794 508.1 769 508.2 797 508.3 801 508.4 785 508.5 828 508.6 815 508.6 815 508.7 798 508.8 801 508.9 833 509.0 782 509.1 794 509.2 850 509.3 796 509.4 823 509.5 828 509.6 823 509.7 769 509.8 818 509.9 791 510.0 800 510.1 761 510.2 799 510.2 815 510.3 787 510.4 776 510.5 802 510.6 786 510.7 821 510.8 828 510.9 785 511.0 805 511.1 794 511.2 814 511.3 821 511.4 812 511.5 813 511.6 810 511.7 812 511.8 818 511.8 796 511.9 822 512.0 851 512.1 804 512.2 782 512.3 788 512.4 792 512.5 814 512.6 824 512.7 833 512.8 806 512.9 808 513.0 788 513.1 779 513.2 828 513.3 812 513.3 819 513.4 799 513.5 797 513.6 808 513.7 793 513.8 818 513.9 779 514.0 788 514.1 783 514.2 784 514.3 805 514.4 845 514.5 764 514.6 828 514.7 814 514.8 776 514.9 801 514.9 802 515.0 783 515.1 839 515.2 791 515.3 835 515.4 812 515.5 779 515.6 797 515.7 799 515.8 827 515.9 801 516.0 818 516.1 817 516.2 784 516.3 807 516.4 797 516.5 813 516.5 788 516.6 835 516.7 827 516.8 809 516.9 834 517.0 801 517.1 797 517.2 808 517.3 799 517.4 804 517.5 762 517.6 794 517.7 833 517.8 791 517.9 832 518.0 781 518.1 775 518.1 832 518.2 806 518.3 816 518.4 813 518.5 818 518.6 794 518.7 800 518.8 818 518.9 848 519.0 807 519.1 818 519.2 768 519.3 807 519.4 796 519.5 818 519.6 847 519.7 808 519.7 837 519.8 784 519.9 797 520.0 773 520.1 813 520.2 808 520.3 773 520.4 796 520.5 802 520.6 801 520.7 814 520.8 822 520.9 806 521.0 816 521.1 826 521.2 817 521.2 816 521.3 831 521.4 807 521.5 792 521.6 823 521.7 801 521.8 814 521.9 820 522.0 804 522.1 834 522.2 799 522.3 815 522.4 815 522.5 805 522.6 775 522.7 809 522.8 796 522.8 816 522.9 825 523.0 810 523.1 792 523.2 798 523.3 809 523.4 780 523.5 805 523.6 777 523.7 819 523.8 806 523.9 811 524.0 805 524.1 798 524.2 799 524.3 819 524.4 830 524.4 816 524.5 814 524.6 807 524.7 801 524.8 810 524.9 789 525.0 812 525.1 833 525.2 781 525.3 788 525.4 810 525.5 788 525.6 855 525.7 812 525.8 837 525.9 803 526.0 809 526.0 806 526.1 806 526.2 814 526.3 809 526.4 822 526.5 803 526.6 804 526.7 826 526.8 773 526.9 828 527.0 815 527.1 828 527.2 845 527.3 810 527.4 783 527.5 784 527.6 811 527.6 782 527.7 798 527.8 809 527.9 831 528.0 782 528.1 776 528.2 794 528.3 814 528.4 794 528.5 800 528.6 811 528.7 808 528.8 814 528.9 790 529.0 820 529.1 841 529.1 796 529.2 802 529.3 789 529.4 812 529.5 800 529.6 783 529.7 813 529.8 823 529.9 816 530.0 783 530.1 819 530.2 804 530.3 805 530.4 793 530.5 803 530.6 792 530.7 820 530.7 773 530.8 734 530.9 800 531.0 808 531.1 831 531.2 785 531.3 822 531.4 787 531.5 776 531.6 784 531.7 774 531.8 826 531.9 834 532.0 778 532.1 801 532.2 797 532.3 819 532.3 820 532.4 822 532.5 835 532.6 791 532.7 786 532.8 796 532.9 789 533.0 811 533.1 839 533.2 820 533.3 783 533.4 786 533.5 813 533.6 803 533.7 786 533.8 803 533.9 819 533.9 815 534.0 798 534.1 815 534.2 793 534.3 809 534.4 797 534.5 814 534.6 801 534.7 796 534.8 793 534.9 790 535.0 764 535.1 795 535.2 807 535.3 799 535.4 835 535.5 811 535.5 817 535.6 786 535.7 801 535.8 780 535.9 798 536.0 816 536.1 801 536.2 818 536.3 797 536.4 794 536.5 808 536.6 814 536.7 822 536.8 794 536.9 823 537.0 783 537.0 783 537.1 802 537.2 793 537.3 781 537.4 794 537.5 805 537.6 812 537.7 803 537.8 800 537.9 803 538.0 794 538.1 837 538.2 824 538.3 824 538.4 801 538.5 816 538.6 813 538.6 779 538.7 767 538.8 802 538.9 817 539.0 820 539.1 802 539.2 836 539.3 798 539.4 823 539.5 776 539.6 816 539.7 808 539.8 823 539.9 788 540.0 830 540.1 804 540.2 811 540.2 805 540.3 806 540.4 806 540.5 797 540.6 803 540.7 803 540.8 816 540.9 823 541.0 821 541.1 819 541.2 838 541.3 809 541.4 813 541.5 810 541.6 798 541.7 791 541.8 816 541.8 815 541.9 816 542.0 784 542.1 810 542.2 827 542.3 817 542.4 785 542.5 797 542.6 804 542.7 801 542.8 829 542.9 818 543.0 777 543.1 820 543.2 807 543.3 792 543.4 822 543.4 798 543.5 846 543.6 814 543.7 824 543.8 826 543.9 822 544.0 816 544.1 852 544.2 793 544.3 823 544.4 778 544.5 801 544.6 802 544.7 784 544.8 812 544.9 790 544.9 829 545.0 792 545.1 823 545.2 798 545.3 790 545.4 797 545.5 817 545.6 791 545.7 822 545.8 799 545.9 806 546.0 790 546.1 786 546.2 806 546.3 821 546.4 821 546.5 814 546.5 813 546.6 811 546.7 809 546.8 819 546.9 823 547.0 842 547.1 815 547.2 781 547.3 829 547.4 809 547.5 819 547.6 833 547.7 805 547.8 809 547.9 797 548.0 775 548.1 828 548.1 744 548.2 793 548.3 797 548.4 790 548.5 800 548.6 782 548.7 821 548.8 832 548.9 825 549.0 805 549.1 802 549.2 813 549.3 780 549.4 790 549.5 793 549.6 792 549.7 798 549.7 771 549.8 824 549.9 779 550.0 785 550.1 837 550.2 810 550.3 803 550.4 781 550.5 803 550.6 803 550.7 812 550.8 807 550.9 781 551.0 810 551.1 820 551.2 809 551.3 808 551.3 833 551.4 817 551.5 803 551.6 798 551.7 806 551.8 788 551.9 821 552.0 800 552.1 802 552.2 847 552.3 789 552.4 799 552.5 801 552.6 793 552.7 828 552.8 834 552.8 832 552.9 820 553.0 784 553.1 792 553.2 805 553.3 815 553.4 792 553.5 835 553.6 785 553.7 815 553.8 797 553.9 807 554.0 826 554.1 794 554.2 766 554.3 802 554.4 807 554.4 819 554.5 807 554.6 787 554.7 835 554.8 798 554.9 827 555.0 794 555.1 783 555.2 810 555.3 830 555.4 812 555.5 789 555.6 814 555.7 813 555.8 814 555.9 787 556.0 802 556.0 802 556.1 829 556.2 777 556.3 786 556.4 827 556.5 838 556.6 805 556.7 811 556.8 793 556.9 807 557.0 778 557.1 783 557.2 805 557.3 807 557.4 781 557.5 802 557.6 804 557.6 796 557.7 795 557.8 779 557.9 835 558.0 817 558.1 820 558.2 770 558.3 794 558.4 804 558.5 786 558.6 847 558.7 810 558.8 812 558.9 839 559.0 808 559.1 823 559.2 819 559.2 791 559.3 786 559.4 802 559.5 797 559.6 819 559.7 791 559.8 796 559.9 818 560.0 829 560.1 791 560.2 814 560.3 808 560.4 789 560.5 807 560.6 773 560.7 808 560.7 855 560.8 788 560.9 810 561.0 835 561.1 805 561.2 810 561.3 812 561.4 771 561.5 833 561.6 815 561.7 825 561.8 829 561.9 802 562.0 793 562.1 791 562.2 803 562.3 836 562.3 803 562.4 802 562.5 829 562.6 805 562.7 778 562.8 785 562.9 808 563.0 810 563.1 806 563.2 812 563.3 790 563.4 830 563.5 808 563.6 802 563.7 822 563.8 785 563.9 798 563.9 785 564.0 796 564.1 819 564.2 818 564.3 784 564.4 814 564.5 782 564.6 793 564.7 809 564.8 802 564.9 789 565.0 803 565.1 813 565.2 783 565.3 798 565.4 789 565.5 808 565.5 799 565.6 815 565.7 819 565.8 815 565.9 826 566.0 797 566.1 802 566.2 781 566.3 791 566.4 825 566.5 801 566.6 795 566.7 851 566.8 811 566.9 807 567.0 810 567.1 777 567.1 811 567.2 786 567.3 821 567.4 801 567.5 807 567.6 782 567.7 814 567.8 829 567.9 772 568.0 835 568.1 800 568.2 816 568.3 806 568.4 796 568.5 844 568.6 791 568.6 808 568.7 788 568.8 809 568.9 779 569.0 799 569.1 818 569.2 797 569.3 797 569.4 808 569.5 824 569.6 824 569.7 820 569.8 818 569.9 817 570.0 824 570.1 816 570.2 821 570.2 781 570.3 823 570.4 808 570.5 828 570.6 783 570.7 809 570.8 788 570.9 827 571.0 811 571.1 828 571.2 780 571.3 766 571.4 809 571.5 794 571.6 807 571.7 778 571.8 812 571.8 800 571.9 822 572.0 811 572.1 808 572.2 789 572.3 799 572.4 815 572.5 796 572.6 799 572.7 820 572.8 813 572.9 794 573.0 813 573.1 817 573.2 782 573.3 806 573.4 807 573.4 775 573.5 816 573.6 801 573.7 828 573.8 792 573.9 826 574.0 832 574.1 803 574.2 803 574.3 772 574.4 800 574.5 812 574.6 811 574.7 814 574.8 795 574.9 815 575.0 816 575.0 811 575.1 789 575.2 812 575.3 800 575.4 839 575.5 801 575.6 792 575.7 824 575.8 833 575.9 780 576.0 793 576.1 832 576.2 809 576.3 802 576.4 785 576.5 785 576.5 789 576.6 779 576.7 809 576.8 803 576.9 813 577.0 791 577.1 763 577.2 799 577.3 813 577.4 833 577.5 783 577.6 785 577.7 778 577.8 833 577.9 795 578.0 833 578.1 844 578.1 813 578.2 814 578.3 815 578.4 808 578.5 804 578.6 778 578.7 820 578.8 826 578.9 827 579.0 808 579.1 838 579.2 792 579.3 824 579.4 819 579.5 824 579.6 805 579.7 823 579.7 810 579.8 794 579.9 785 580.0 782 580.1 815 580.2 799 580.3 827 580.4 798 580.5 805 580.6 811 580.7 788 580.8 783 580.9 831 581.0 799 581.1 812 581.2 797 581.3 813 581.3 802 581.4 776 581.5 790 581.6 829 581.7 775 581.8 838 581.9 823 582.0 816 582.1 804 582.2 795 582.3 800 582.4 803 582.5 805 582.6 811 582.7 796 582.8 818 582.9 773 582.9 827 583.0 814 583.1 773 583.2 798 583.3 821 583.4 790 583.5 789 583.6 802 583.7 803 583.8 776 583.9 821 584.0 797 584.1 802 584.2 837 584.3 804 584.4 820 584.4 795 584.5 790 584.6 772 584.7 817 584.8 779 584.9 836 585.0 825 585.1 774 585.2 811 585.3 797 585.4 814 585.5 835 585.6 786 585.7 814 585.8 785 585.9 805 586.0 788 586.0 759 586.1 798 586.2 796 586.3 828 586.4 791 586.5 829 586.6 819 586.7 815 586.8 803 586.9 827 587.0 792 587.1 829 587.2 774 587.3 800 587.4 806 587.5 803 587.6 808 587.6 801 587.7 827 587.8 799 587.9 783 588.0 852 588.1 838 588.2 772 588.3 795 588.4 823 588.5 821 588.6 819 588.7 823 588.8 791 588.9 814 589.0 825 589.1 832 589.2 807 589.2 799 589.3 773 589.4 840 589.5 802 589.6 833 589.7 782 589.8 839 589.9 801 590.0 791 590.1 812 590.2 819 590.3 799 590.4 783 590.5 791 590.6 796 590.7 767 590.8 800 590.8 799 590.9 819 591.0 807 591.1 791 591.2 818 591.3 809 591.4 797 591.5 812 591.6 839 591.7 801 591.8 788 591.9 808 592.0 796 592.1 831 592.2 787 592.3 812 592.4 803 592.4 819 592.5 774 592.6 798 592.7 763 592.8 812 592.9 795 593.0 795 593.1 834 593.2 812 593.3 811 593.4 774 593.5 797 593.6 818 593.7 796 593.8 836 593.9 799 593.9 801 594.0 778 594.1 804 594.2 834 594.3 792 594.4 763 594.5 815 594.6 801 594.7 817 594.8 801 594.9 831 595.0 781 595.1 761 595.2 821 595.3 797 595.4 813 595.5 801 595.5 783 595.6 789 595.7 774 595.8 795 595.9 797 596.0 751 596.1 781 596.2 795 596.3 811 596.4 793 596.5 781 596.6 790 596.7 803 596.8 802 596.9 801 597.0 818 597.1 820 597.1 830 597.2 812 597.3 777 597.4 800 597.5 823 597.6 818 597.7 837 597.8 800 597.9 785 598.0 821 598.1 819 598.2 807 598.3 796 598.4 797 598.5 804 598.6 792 598.7 808 598.7 799 598.8 776 598.9 811 599.0 809 599.1 785 599.2 809 599.3 802 599.4 830 599.5 813 599.6 802 599.7 796 599.8 789 599.9 787 600.0 794 600.1 799 600.2 791 600.3 791 600.3 776 600.4 803 600.5 799 600.6 773 600.7 785 600.8 821 600.9 805 601.0 802 601.1 799 601.2 821 601.3 831 601.4 786 601.5 802 601.6 798 601.7 813 601.8 783 601.8 814 601.9 766 602.0 804 602.1 768 602.2 796 602.3 797 602.4 778 602.5 803 602.6 796 602.7 786 602.8 829 602.9 798 603.0 807 603.1 787 603.2 811 603.3 788 603.4 812 603.4 818 603.5 809 603.6 773 603.7 824 603.8 817 603.9 792 604.0 826 604.1 788 604.2 812 604.3 812 604.4 830 604.5 810 604.6 784 604.7 809 604.8 798 604.9 794 605.0 788 605.0 815 605.1 791 605.2 778 605.3 801 605.4 818 605.5 803 605.6 826 605.7 794 605.8 827 605.9 810 606.0 789 606.1 824 606.2 808 606.3 788 606.4 826 606.5 811 606.6 806 606.6 828 606.7 796 606.8 787 606.9 789 607.0 817 607.1 783 607.2 790 607.3 806 607.4 793 607.5 809 607.6 800 607.7 784 607.8 797 607.9 782 608.0 810 608.1 805 608.2 818 608.2 800 608.3 796 608.4 846 608.5 827 608.6 799 608.7 807 608.8 833 608.9 810 609.0 776 609.1 797 609.2 828 609.3 806 609.4 836 609.5 807 609.6 810 609.7 789 609.7 812 609.8 819 609.9 803 610.0 767 610.1 816 610.2 792 610.3 818 610.4 819 610.5 798 610.6 810 610.7 790 610.8 792 610.9 791 611.0 803 611.1 787 611.2 803 611.3 793 611.3 832 611.4 803 611.5 800 611.6 794 611.7 803 611.8 790 611.9 812 612.0 819 612.1 800 612.2 807 612.3 802 612.4 833 612.5 827 612.6 778 612.7 791 612.8 797 612.9 777 612.9 803 613.0 783 613.1 811 613.2 765 613.3 844 613.4 804 613.5 845 613.6 799 613.7 789 613.8 796 613.9 800 614.0 803 614.1 810 614.2 813 614.3 800 614.4 800 614.5 777 614.5 797 614.6 793 614.7 798 614.8 814 614.9 819 615.0 783 615.1 824 615.2 797 615.3 789 615.4 816 615.5 771 615.6 794 615.7 804 615.8 809 615.9 776 616.0 828 616.1 795 616.1 809 616.2 776 616.3 800 616.4 811 616.5 783 616.6 810 616.7 780 616.8 790 616.9 797 617.0 786 617.1 810 617.2 792 617.3 812 617.4 798 617.5 826 617.6 781 617.6 838 617.7 824 617.8 796 617.9 801 618.0 788 618.1 831 618.2 813 618.3 798 618.4 808 618.5 803 618.6 795 618.7 803 618.8 821 618.9 834 619.0 814 619.1 823 619.2 835 619.2 794 619.3 786 619.4 806 619.5 779 619.6 779 619.7 794 619.8 836 619.9 807 620.0 778 620.1 812 620.2 788 620.3 792 620.4 814 620.5 813 620.6 798 620.7 827 620.8 800 620.8 802 620.9 815 621.0 813 621.1 827 621.2 835 621.3 823 621.4 763 621.5 804 621.6 803 621.7 811 621.8 797 621.9 778 622.0 813 622.1 810 622.2 793 622.3 798 622.4 792 622.4 841 622.5 816 622.6 767 622.7 815 622.8 792 622.9 780 623.0 789 623.1 790 623.2 814 623.3 843 623.4 806 623.5 791 623.6 800 623.7 796 623.8 812 623.9 814 624.0 807 624.0 793 624.1 755 624.2 800 624.3 808 624.4 799 624.5 790 624.6 795 624.7 802 624.8 814 624.9 807 625.0 786 625.1 785 625.2 821 625.3 787 625.4 821 625.5 763 625.5 793 625.6 785 625.7 802 625.8 799 625.9 775 626.0 839 626.1 808 626.2 778 626.3 810 626.4 800 626.5 818 626.6 777 626.7 835 626.8 845 626.9 799 627.0 795 627.1 813 627.1 836 627.2 798 627.3 803 627.4 803 627.5 816 627.6 815 627.7 783 627.8 786 627.9 802 628.0 800 628.1 790 628.2 772 628.3 840 628.4 783 628.5 806 628.6 820 628.7 808 628.7 797 628.8 809 628.9 803 629.0 804 629.1 819 629.2 801 629.3 804 629.4 802 629.5 793 629.6 794 629.7 804 629.8 797 629.9 790 630.0 797 630.1 779 630.2 814 630.3 818 630.3 836 630.4 790 630.5 808 630.6 809 630.7 776 630.8 786 630.9 808 631.0 807 631.1 799 631.2 782 631.3 804 631.4 800 631.5 834 631.6 794 631.7 806 631.8 822 631.9 830 631.9 791 632.0 829 632.1 762 632.2 841 632.3 812 632.4 830 632.5 811 632.6 776 632.7 819 632.8 833 632.9 795 633.0 790 633.1 799 633.2 835 633.3 794 633.4 822 633.4 804 633.5 771 633.6 823 633.7 781 633.8 794 633.9 830 634.0 767 634.1 821 634.2 804 634.3 810 634.4 786 634.5 814 634.6 822 634.7 780 634.8 809 634.9 796 635.0 794 635.0 784 635.1 806 635.2 808 635.3 803 635.4 805 635.5 791 635.6 805 635.7 820 635.8 816 635.9 800 636.0 799 636.1 811 636.2 807 636.3 799 636.4 797 636.5 811 636.6 813 636.6 780 636.7 820 636.8 802 636.9 795 637.0 812 637.1 788 637.2 820 637.3 781 637.4 788 637.5 803 637.6 793 637.7 808 637.8 788 637.9 783 638.0 813 638.1 794 638.2 804 638.2 779 638.3 815 638.4 785 638.5 799 638.6 798 638.7 811 638.8 788 638.9 775 639.0 814 639.1 783 639.2 766 639.3 840 639.4 779 639.5 798 639.6 811 639.7 825 639.8 809 639.8 803 639.9 787 640.0 827 640.1 786 640.2 816 640.3 779 640.4 803 640.5 820 640.6 803 640.7 813 640.8 783 640.9 807 641.0 813 641.1 799 641.2 770 641.3 808 641.3 810 641.4 826 641.5 786 641.6 822 641.7 814 641.8 811 641.9 798 642.0 788 642.1 825 642.2 817 642.3 794 642.4 793 642.5 795 642.6 779 642.7 770 642.8 808 642.9 826 642.9 823 643.0 812 643.1 794 643.2 825 643.3 808 643.4 800 643.5 794 643.6 774 643.7 769 643.8 847 643.9 817 644.0 784 644.1 777 644.2 802 644.3 797 644.4 797 644.5 809 644.5 785 644.6 824 644.7 820 644.8 779 644.9 799 645.0 822 645.1 835 645.2 769 645.3 792 645.4 823 645.5 817 645.6 807 645.7 786 645.8 791 645.9 832 646.0 774 646.1 786 646.1 807 646.2 830 646.3 806 646.4 789 646.5 819 646.6 787 646.7 792 646.8 810 646.9 793 647.0 779 647.1 796 647.2 816 647.3 806 647.4 813 647.5 804 647.6 776 647.7 818 647.7 761 647.8 823 647.9 747 648.0 777 648.1 801 648.2 814 648.3 793 648.4 842 648.5 820 648.6 769 648.7 804 648.8 799 648.9 845 649.0 810 649.1 831 649.2 815 649.2 815 649.3 819 649.4 772 649.5 816 649.6 798 649.7 784 649.8 776 649.9 792 650.0 828 650.1 779 650.2 798 650.3 782 650.4 790 650.5 792 650.6 800 650.7 803 650.8 829 650.8 824 650.9 798 651.0 798 651.1 796 651.2 793 651.3 803 651.4 814 651.5 820 651.6 799 651.7 812 651.8 818 651.9 808 652.0 798 652.1 821 652.2 790 652.3 767 652.4 805 652.4 782 652.5 790 652.6 814 652.7 763 652.8 802 652.9 801 653.0 801 653.1 797 653.2 793 653.3 792 653.4 801 653.5 807 653.6 776 653.7 799 653.8 823 653.9 803 654.0 792 654.0 794 654.1 809 654.2 805 654.3 822 654.4 797 654.5 790 654.6 767 654.7 815 654.8 797 654.9 800 655.0 840 655.1 778 655.2 782 655.3 793 655.4 795 655.5 806 655.6 796 655.6 798 655.7 797 655.8 819 655.9 837 656.0 833 656.1 785 656.2 769 656.3 782 656.4 803 656.5 825 656.6 800 656.7 816 656.8 797 656.9 801 657.0 825 657.1 789 657.1 792 657.2 786 657.3 801 657.4 811 657.5 782 657.6 802 657.7 789 657.8 804 657.9 822 658.0 810 658.1 826 658.2 819 658.3 810 658.4 813 658.5 761 658.6 819 658.7 809 658.7 794 658.8 765 658.9 801 659.0 792 659.1 806 659.2 819 659.3 813 659.4 786 659.5 804 659.6 801 659.7 802 659.8 780 659.9 774 660.0 801 660.1 811 660.2 809 660.3 828 660.3 808 660.4 792 660.5 792 660.6 813 660.7 803 660.8 810 660.9 801 661.0 784 661.1 797 661.2 815 661.3 809 661.4 814 661.5 800 661.6 808 661.7 825 661.8 812 661.9 789 661.9 821 662.0 819 662.1 796 662.2 765 662.3 796 662.4 816 662.5 807 662.6 793 662.7 775 662.8 774 662.9 820 663.0 810 663.1 805 663.2 801 663.3 790 663.4 795 663.5 803 663.5 775 663.6 800 663.7 827 663.8 801 663.9 810 664.0 805 664.1 769 664.2 793 664.3 825 664.4 799 664.5 794 664.6 810 664.7 787 664.8 811 664.9 789 665.0 812 665.0 816 665.1 787 665.2 828 665.3 765 665.4 804 665.5 838 665.6 823 665.7 818 665.8 841 665.9 774 666.0 754 666.1 813 666.2 792 666.3 765 666.4 809 666.5 789 666.6 784 666.6 830 666.7 796 666.8 781 666.9 799 667.0 798 667.1 779 667.2 777 667.3 803 667.4 836 667.5 807 667.6 803 667.7 801 667.8 798 667.9 814 668.0 801 668.1 828 668.2 761 668.2 808 668.3 810 668.4 777 668.5 804 668.6 798 668.7 762 668.8 818 668.9 801 669.0 795" fill="none" stroke="#000" stroke-width="1.25"/>
<path d="M104.8 698 104.9 667 105.0 653 105.1 649 105.2 653 105.3 686 105.4 680 105.5 669 105.6 674 105.6 683 105.7 717 105.8 685 105.9 667 106.0 676 106.1 633 106.2 736 106.3 705 106.4 700 106.5 659 106.6 650 106.7 694 106.8 674 106.9 664 107.0 669 107.1 671 107.2 689 107.2 693 107.3 701 107.4 698 107.5 663 107.6 680 107.7 682 107.8 695 107.9 673 108.0 656 108.1 696 108.2 648 108.3 666 108.4 724 108.5 672 108.6 670 108.7 650 108.8 678 108.8 719 108.9 707 109.0 703 109.1 666 109.2 695 109.3 699 109.4 669 109.5 660 109.6 704 109.7 675 109.8 655 109.9 663 110.0 649 110.1 650 110.2 660 110.3 685 110.3 635 110.4 660 110.5 673 110.6 680 110.7 663 110.8 683 110.9 675 111.0 652 111.1 665 111.2 696 111.3 670 111.4 681 111.5 690 111.6 693 111.7 691 111.8 671 111.9 652 111.9 678 112.0 648 112.1 690 112.2 678 112.3 646 112.4 671 112.5 668 112.6 668 112.7 684 112.8 631 112.9 674 113.0 658 113.1 665 113.2 656 113.3 646 113.4 717 113.5 701 113.5 714 113.6 690 113.7 678 113.8 669 113.9 684 114.0 664 114.1 661 114.2 673 114.3 696 114.4 686 114.5 678 114.6 661 114.7 677 114.8 668 114.9 705 115.0 727 115.1 672 115.1 673 115.2 693 115.3 683 115.4 665 115.5 664 115.6 652 115.7 661 115.8 680 115.9 665 116.0 636 116.1 643 116.2 690 116.3 668 116.4 647 116.5 672 116.6 663 116.7 651 116.7 669 116.8 666 116.9 681 117.0 692 117.1 683 117.2 662 117.3 678 117.4 672 117.5 636 117.6 689 117.7 657 117.8 684 117.9 664 118.0 659 118.1 651 118.2 689 118.2 681 118.3 672 118.4 676 118.5 725 118.6 667 118.7 697 118.8 675 118.9 699 119.0 670 119.1 676 119.2 627 119.3 662 119.4 682 119.5 660 119.6 704 119.7 657 119.8 654 119.8 683 119.9 679 120.0 707 120.1 668 120.2 659 120.3 698 120.4 662 120.5 694 120.6 646 120.7 714 120.8 679 120.9 656 121.0 696 121.1 687 121.2 673 121.3 676 121.4 688 121.4 688 121.5 682 121.6 681 121.7 684 121.8 658 121.9 671 122.0 666 122.1 664 122.2 698 122.3 695 122.4 639 122.5 713 122.6 688 122.7 663 122.8 678 122.9 680 123.0 644 123.0 694 123.1 654 123.2 702 123.3 705 123.4 681 123.5 670 123.6 631 123.7 667 123.8 670 123.9 660 124.0 674 124.1 686 124.2 683 124.3 663 124.4 682 124.5 702 124.6 687 124.6 706 124.7 648 124.8 706 124.9 663 125.0 679 125.1 651 125.2 641 125.3 681 125.4 662 125.5 670 125.6 703 125.7 646 125.8 660 125.9 663 126.0 660 126.1 669 126.1 688 126.2 668 126.3 696 126.4 633 126.5 697 126.6 655 126.7 686 126.8 672 126.9 665 127.0 693 127.1 673 127.2 726 127.3 672 127.4 651 127.5 680 127.6 690 127.7 690 127.7 723 127.8 702 127.9 669 128.0 642 128.1 662 128.2 676 128.3 676 128.4 667 128.5 643 128.6 679 128.7 675 128.8 668 128.9 665 129.0 671 129.1 701 129.2 708 129.3 677 129.3 661 129.4 640 129.5 669 129.6 698 129.7 684 129.8 705 129.9 680 130.0 656 130.1 674 130.2 636 130.3 680 130.4 674 130.5 670 130.6 668 130.7 673 130.8 670 130.9 659 130.9 685 131.0 675 131.1 668 131.2 682 131.3 694 131.4 668 131.5 668 131.6 689 131.7 693 131.8 715 131.9 699 132.0 671 132.1 717 132.2 681 132.3 674 132.4 685 132.5 689 132.5 658 132.6 667 132.7 695 132.8 657 132.9 643 133.0 691 133.1 694 133.2 686 133.3 668 133.4 676 133.5 681 133.6 696 133.7 661 133.8 676 133.9 673 134.0 676 134.0 669 134.1 703 134.2 685 134.3 674 134.4 669 134.5 666 134.6 657 134.7 675 134.8 659 134.9 661 135.0 667 135.1 677 135.2 680 135.3 674 135.4 660 135.5 688 135.6 688 135.6 665 135.7 669 135.8 655 135.9 651 136.0 665 136.1 702 136.2 655 136.3 665 136.4 659 136.5 664 136.6 673 136.7 665 136.8 696 136.9 694 137.0 674 137.1 647 137.2 669 137.2 651 137.3 674 137.4 671 137.5 656 137.6 657 137.7 672 137.8 678 137.9 657 138.0 668 138.1 681 138.2 677 138.3 690 138.4 670 138.5 658 138.6 714 138.7 680 138.8 696 138.8 681 138.9 682 139.0 694 139.1 671 139.2 697 139.3 690 139.4 699 139.5 687 139.6 665 139.7 681 139.8 651 139.9 678 140.0 685 140.1 653 140.2 667 140.3 659 140.4 665 140.4 648 140.5 658 140.6 652 140.7 690 140.8 663 140.9 658 141.0 674 141.1 652 141.2 672 141.3 678 141.4 665 141.5 696 141.6 701 141.7 678 141.8 715 141.9 656 141.9 685 142.0 647 142.1 672 142.2 687 142.3 684 142.4 663 142.5 657 142.6 677 142.7 697 142.8 670 142.9 664 143.0 661 143.1 696 143.2 684 143.3 662 143.4 641 143.5 673 143.5 694 143.6 663 143.7 729 143.8 671 143.9 683 144.0 643 144.1 682 144.2 696 144.3 629 144.4 668 144.5 674 144.6 686 144.7 691 144.8 706 144.9 664 145.0 690 145.1 661 145.1 667 145.2 659 145.3 681 145.4 673 145.5 686 145.6 680 145.7 691 145.8 717 145.9 671 146.0 698 146.1 634 146.2 675 146.3 704 146.4 679 146.5 664 146.6 667 146.7 688 146.7 670 146.8 671 146.9 682 147.0 678 147.1 670 147.2 674 147.3 665 147.4 657 147.5 651 147.6 693 147.7 681 147.8 668 147.9 668 148.0 685 148.1 676 148.2 675 148.3 671 148.3 663 148.4 683 148.5 706 148.6 681 148.7 679 148.8 678 148.9 658 149.0 693 149.1 665 149.2 644 149.3 696 149.4 678 149.5 675 149.6 663 149.7 664 149.8 684 149.8 626 149.9 678 150.0 670 150.1 665 150.2 669 150.3 673 150.4 684 150.5 680 150.6 678 150.7 650 150.8 699 150.9 682 151.0 681 151.1 688 151.2 659 151.3 679 151.4 685 151.4 684 151.5 658 151.6 665 151.7 684 151.8 668 151.9 672 152.0 648 152.1 694 152.2 709 152.3 683 152.4 687 152.5 690 152.6 676 152.7 669 152.8 670 152.9 671 153.0 688 153.0 644 153.1 682 153.2 693 153.3 675 153.4 667 153.5 706 153.6 662 153.7 669 153.8 673 153.9 676 154.0 644 154.1 640 154.2 696 154.3 682 154.4 686 154.5 677 154.6 692 154.6 697 154.7 682 154.8 682 154.9 659 155.0 660 155.1 664 155.2 666 155.3 646 155.4 689 155.5 680 155.6 663 155.7 690 155.8 662 155.9 688 156.0 680 156.1 686 156.2 661 156.2 687 156.3 672 156.4 661 156.5 664 156.6 674 156.7 694 156.8 664 156.9 690 157.0 660 157.1 679 157.2 656 157.3 676 157.4 674 157.5 693 157.6 672 157.7 654 157.7 672 157.8 668 157.9 690 158.0 648 158.1 695 158.2 648 158.3 682 158.4 717 158.5 671 158.6 677 158.7 691 158.8 699 158.9 669 159.0 675 159.1 678 159.2 650 159.3 674 159.3 682 159.4 702 159.5 681 159.6 665 159.7 665 159.8 665 159.9 679 160.0 666 160.1 710 160.2 681 160.3 633 160.4 662 160.5 671 160.6 662 160.7 642 160.8 674 160.9 665 160.9 657 161.0 673 161.1 659 161.2 686 161.3 631 161.4 678 161.5 669 161.6 642 161.7 632 161.8 656 161.9 665 162.0 655 162.1 715 162.2 673 162.3 649 162.4 676 162.5 643 162.5 648 162.6 674 162.7 664 162.8 659 162.9 648 163.0 676 163.1 703 163.2 670 163.3 623 163.4 688 163.5 667 163.6 678 163.7 665 163.8 632 163.9 647 164.0 699 164.1 674 164.1 671 164.2 673 164.3 678 164.4 691 164.5 697 164.6 677 164.7 665 164.8 678 164.9 676 165.0 640 165.1 677 165.2 661 165.3 660 165.4 684 165.5 645 165.6 696 165.6 684 165.7 670 165.8 651 165.9 647 166.0 688 166.1 676 166.2 698 166.3 694 166.4 643 166.5 664 166.6 662 166.7 690 166.8 670 166.9 712 167.0 669 167.1 666 167.2 641 167.2 671 167.3 667 167.4 658 167.5 629 167.6 649 167.7 653 167.8 681 167.9 670 168.0 676 168.1 690 168.2 659 168.3 680 168.4 664 168.5 688 168.6 667 168.7 706 168.8 674 168.8 647 168.9 680 169.0 686 169.1 668 169.2 682 169.3 677 169.4 664 169.5 679 169.6 683 169.7 709 169.8 700 169.9 688 170.0 666 170.1 664 170.2 667 170.3 680 170.4 670 170.4 671 170.5 644 170.6 674 170.7 687 170.8 679 170.9 663 171.0 660 171.1 686 171.2 660 171.3 683 171.4 640 171.5 674 171.6 680 171.7 710 171.8 647 171.9 688 172.0 670 172.0 680 172.1 713 172.2 673 172.3 681 172.4 678 172.5 685 172.6 681 172.7 654 172.8 669 172.9 658 173.0 682 173.1 679 173.2 688 173.3 668 173.4 679 173.5 681 173.5 679 173.6 687 173.7 657 173.8 692 173.9 649 174.0 670 174.1 650 174.2 635 174.3 664 174.4 662 174.5 669 174.6 660 174.7 652 174.8 671 174.9 668 175.0 678 175.1 690 175.1 650 175.2 656 175.3 646 175.4 692 175.5 665 175.6 661 175.7 647 175.8 665 175.9 678 176.0 668 176.1 647 176.2 676 176.3 668 176.4 670 176.5 665 176.6 661 176.7 687 176.7 634 176.8 688 176.9 688 177.0 671 177.1 652 177.2 649 177.3 635 177.4 667 177.5 682 177.6 690 177.7 679 177.8 665 177.9 673 178.0 712 178.1 674 178.2 665 178.3 688 178.3 687 178.4 692 178.5 654 178.6 642 178.7 655 178.8 684 178.9 682 179.0 640 179.1 635 179.2 651 179.3 674 179.4 701 179.5 661 179.6 646 179.7 673 179.8 688 179.9 669 179.9 669 180.0 680 180.1 678 180.2 709 180.3 676 180.4 706 180.5 687 180.6 688 180.7 676 180.8 656 180.9 689 181.0 670 181.1 697 181.2 675 181.3 678 181.4 682 181.4 686 181.5 689 181.6 705 181.7 699 181.8 705 181.9 665 182.0 690 182.1 657 182.2 661 182.3 677 182.4 652 182.5 679 182.6 707 182.7 684 182.8 673 182.9 675 183.0 696 183.0 660 183.1 684 183.2 653 183.3 669 183.4 646 183.5 655 183.6 679 183.7 648 183.8 676 183.9 667 184.0 650 184.1 668 184.2 653 184.3 655 184.4 661 184.5 680 184.6 700 184.6 686 184.7 686 184.8 647 184.9 670 185.0 666 185.1 676 185.2 699 185.3 682 185.4 663 185.5 650 185.6 640 185.7 653 185.8 647 185.9 679 186.0 654 186.1 658 186.2 693 186.2 670 186.3 672 186.4 645 186.5 670 186.6 697 186.7 671 186.8 631 186.9 696 187.0 674 187.1 665 187.2 672 187.3 664 187.4 690 187.5 680 187.6 678 187.7 667 187.8 687 187.8 699 187.9 655 188.0 647 188.1 658 188.2 667 188.3 655 188.4 675 188.5 663 188.6 691 188.7 697 188.8 679 188.9 670 189.0 665 189.1 661 189.2 693 189.3 662 189.4 651 189.4 677 189.5 683 189.6 686 189.7 665 189.8 693 189.9 651 190.0 665 190.1 680 190.2 663 190.3 655 190.4 677 190.5 692 190.6 680 190.7 687 190.8 662 190.9 663 190.9 645 191.0 671 191.1 662 191.2 703 191.3 698 191.4 697 191.5 728 191.6 669 191.7 713 191.8 638 191.9 702 192.0 676 192.1 676 192.2 650 192.3 685 192.4 668 192.5 679 192.5 667 192.6 676 192.7 700 192.8 684 192.9 684 193.0 662 193.1 701 193.2 639 193.3 691 193.4 669 193.5 668 193.6 669 193.7 696 193.8 664 193.9 701 194.0 678 194.1 680 194.1 693 194.2 655 194.3 710 194.4 655 194.5 682 194.6 699 194.7 668 194.8 668 194.9 693 195.0 675 195.1 642 195.2 675 195.3 677 195.4 627 195.5 671 195.6 670 195.7 670 195.7 682 195.8 693 195.9 662 196.0 661 196.1 678 196.2 694 196.3 680 196.4 666 196.5 655 196.6 693 196.7 680 196.8 668 196.9 665 197.0 671 197.1 678 197.2 656 197.3 663 197.3 695 197.4 617 197.5 653 197.6 690 197.7 679 197.8 702 197.9 690 198.0 692 198.1 681 198.2 655 198.3 671 198.4 678 198.5 672 198.6 682 198.7 669 198.8 659 198.8 639 198.9 673 199.0 692 199.1 660 199.2 692 199.3 692 199.4 672 199.5 651 199.6 693 199.7 648 199.8 679 199.9 658 200.0 679 200.1 683 200.2 664 200.3 688 200.4 681 200.4 654 200.5 671 200.6 667 200.7 706 200.8 680 200.9 682 201.0 680 201.1 631 201.2 689 201.3 691 201.4 680 201.5 682 201.6 716 201.7 687 201.8 659 201.9 664 202.0 665 202.0 674 202.1 676 202.2 691 202.3 670 202.4 647 202.5 681 202.6 661 202.7 647 202.8 692 202.9 668 203.0 679 203.1 679 203.2 687 203.3 671 203.4 689 203.5 696 203.6 649 203.6 674 203.7 697 203.8 672 203.9 651 204.0 655 204.1 664 204.2 684 204.3 643 204.4 662 204.5 670 204.6 665 204.7 676 204.8 657 204.9 688 205.0 671 205.1 675 205.2 693 205.2 663 205.3 683 205.4 677 205.5 643 205.6 667 205.7 658 205.8 683 205.9 657 206.0 692 206.1 685 206.2 678 206.3 654 206.4 683 206.5 672 206.6 663 206.7 705 206.7 638 206.8 656 206.9 689 207.0 684 207.1 652 207.2 655 207.3 666 207.4 691 207.5 652 207.6 648 207.7 699 207.8 673 207.9 646 208.0 693 208.1 675 208.2 656 208.3 694 208.3 670 208.4 709 208.5 657 208.6 646 208.7 670 208.8 672 208.9 671 209.0 666 209.1 682 209.2 668 209.3 660 209.4 669 209.5 663 209.6 673 209.7 660 209.8 688 209.9 678 209.9 672 210.0 636 210.1 642 210.2 685 210.3 672 210.4 678 210.5 689 210.6 684 210.7 658 210.8 701 210.9 653 211.0 684 211.1 670 211.2 673 211.3 682 211.4 664 211.5 682 211.5 672 211.6 639 211.7 682 211.8 650 211.9 695 212.0 633 212.1 715 212.2 676 212.3 708 212.4 676 212.5 677 212.6 700 212.7 672 212.8 655 212.9 668 213.0 682 213.1 654 213.1 646 213.2 689 213.3 666 213.4 695 213.5 686 213.6 663 213.7 662 213.8 657 213.9 681 214.0 656 214.1 639 214.2 664 214.3 657 214.4 673 214.5 658 214.6 640 214.6 669 214.7 687 214.8 676 214.9 665 215.0 681 215.1 639 215.2 705 215.3 671 215.4 669 215.5 657 215.6 656 215.7 677 215.8 668 215.9 687 216.0 688 216.1 671 216.2 675 216.2 666 216.3 682 216.4 698 216.5 658 216.6 654 216.7 672 216.8 657 216.9 687 217.0 654 217.1 689 217.2 662 217.3 670 217.4 651 217.5 660 217.6 657 217.7 670 217.8 645 217.8 638 217.9 683 218.0 668 218.1 663 218.2 666 218.3 687 218.4 678 218.5 684 218.6 688 218.7 679 218.8 666 218.9 683 219.0 696 219.1 681 219.2 681 219.3 671 219.4 651 219.4 653 219.5 724 219.6 612 219.7 643 219.8 693 219.9 667 220.0 690 220.1 632 220.2 691 220.3 654 220.4 673 220.5 660 220.6 670 220.7 697 220.8 705 220.9 673 221.0 675 221.0 682 221.1 650 221.2 673 221.3 683 221.4 636 221.5 669 221.6 678 221.7 684 221.8 684 221.9 690 222.0 690 222.1 690 222.2 696 222.3 698 222.4 668 222.5 707 222.5 673 222.6 654 222.7 684 222.8 674 222.9 651 223.0 662 223.1 692 223.2 675 223.3 678 223.4 652 223.5 638 223.6 685 223.7 660 223.8 658 223.9 661 224.0 709 224.1 694 224.1 690 224.2 690 224.3 698 224.4 661 224.5 668 224.6 677 224.7 720 224.8 658 224.9 706 225.0 662 225.1 681 225.2 660 225.3 682 225.4 669 225.5 687 225.6 660 225.7 661 225.7 672 225.8 644 225.9 685 226.0 732 226.1 629 226.2 628 226.3 661 226.4 687 226.5 677 226.6 717 226.7 698 226.8 686 226.9 675 227.0 684 227.1 660 227.2 665 227.3 670 227.3 690 227.4 674 227.5 656 227.6 675 227.7 651 227.8 679 227.9 661 228.0 694 228.1 695 228.2 680 228.3 642 228.4 693 228.5 676 228.6 665 228.7 657 228.8 663 228.9 672 228.9 674 229.0 657 229.1 641 229.2 647 229.3 687 229.4 697 229.5 677 229.6 653 229.7 648 229.8 676 229.9 692 230.0 690 230.1 664 230.2 678 230.3 629 230.4 684 230.4 716 230.5 628 230.6 649 230.7 696 230.8 694 230.9 698 231.0 657 231.1 677 231.2 663 231.3 698 231.4 681 231.5 647 231.6 696 231.7 691 231.8 649 231.9 677 232.0 676 232.0 693 232.1 681 232.2 703 232.3 640 232.4 671 232.5 667 232.6 686 232.7 691 232.8 679 232.9 696 233.0 681 233.1 691 233.2 665 233.3 687 233.4 660 233.5 651 233.6 683 233.6 681 233.7 672 233.8 696 233.9 665 234.0 656 234.1 709 234.2 662 234.3 677 234.4 685 234.5 681 234.6 686 234.7 663 234.8 684 234.9 646 235.0 671 235.1 654 235.2 690 235.2 679 235.3 650 235.4 679 235.5 687 235.6 642 235.7 701 235.8 658 235.9 680 236.0 644 236.1 667 236.2 680 236.3 639 236.4 684 236.5 621 236.6 662 236.7 672 236.8 673 236.8 666 236.9 677 237.0 663 237.1 672 237.2 683 237.3 657 237.4 674 237.5 703 237.6 673 237.7 704 237.8 683 237.9 690 238.0 677 238.1 667 238.2 658 238.3 681 238.3 671 238.4 681 238.5 667 238.6 655 238.7 646 238.8 690 238.9 658 239.0 678 239.1 673 239.2 714 239.3 654 239.4 692 239.5 685 239.6 677 239.7 636 239.8 696 239.9 692 239.9 702 240.0 680 240.1 683 240.2 661 240.3 669 240.4 684 240.5 667 240.6 672 240.7 665 240.8 668 240.9 663 241.0 667 241.1 659 241.2 703 241.3 668 241.4 668 241.5 678 241.5 662 241.6 685 241.7 711 241.8 692 241.9 667 242.0 659 242.1 671 242.2 690 242.3 669 242.4 664 242.5 670 242.6 676 242.7 671 242.8 686 242.9 668 243.0 678 243.1 664 243.1 678 243.2 717 243.3 678 243.4 660 243.5 673 243.6 650 243.7 689 243.8 650 243.9 667 244.0 646 244.1 654 244.2 701 244.3 688 244.4 661 244.5 654 244.6 655 244.7 689 244.7 664 244.8 681 244.9 643 245.0 652 245.1 683 245.2 636 245.3 675 245.4 672 245.5 666 245.6 707 245.7 651 245.8 660 245.9 675 246.0 644 246.1 691 246.2 645 246.2 677 246.3 646 246.4 693 246.5 692 246.6 652 246.7 694 246.8 671 246.9 679 247.0 664 247.1 646 247.2 677 247.3 643 247.4 656 247.5 662 247.6 648 247.7 675 247.8 648 247.8 675 247.9 672 248.0 643 248.1 675 248.2 709 248.3 662 248.4 686 248.5 676 248.6 647 248.7 703 248.8 655 248.9 654 249.0 637 249.1 690 249.2 702 249.3 666 249.4 656 249.4 684 249.5 660 249.6 703 249.7 664 249.8 700 249.9 693 250.0 674 250.1 671 250.2 659 250.3 659 250.4 672 250.5 631 250.6 677 250.7 703 250.8 646 250.9 655 251.0 667 251.0 667 251.1 685 251.2 654 251.3 653 251.4 644 251.5 695 251.6 676 251.7 698 251.8 667 251.9 665 252.0 659 252.1 663 252.2 661 252.3 666 252.4 681 252.5 681 252.6 654 252.6 711 252.7 688 252.8 722 252.9 665 253.0 663 253.1 654 253.2 672 253.3 675 253.4 654 253.5 659 253.6 675 253.7 684 253.8 642 253.9 678 254.0 669 254.1 719 254.1 668 254.2 646 254.3 667 254.4 720 254.5 689 254.6 662 254.7 676 254.8 679 254.9 677 255.0 693 255.1 689 255.2 651 255.3 687 255.4 673 255.5 652 255.6 661 255.7 652 255.7 680 255.8 654 255.9 653 256.0 687 256.1 662 256.2 716 256.3 680 256.4 667 256.5 662 256.6 694 256.7 669 256.8 663 256.9 657 257.0 666 257.1 660 257.2 662 257.3 666 257.3 659 257.4 669 257.5 690 257.6 669 257.7 647 257.8 679 257.9 691 258.0 697 258.1 661 258.2 685 258.3 670 258.4 714 258.5 692 258.6 643 258.7 645 258.8 641 258.9 687 258.9 680 259.0 669 259.1 650 259.2 682 259.3 672 259.4 669 259.5 680 259.6 678 259.7 669 259.8 695 259.9 655 260.0 672 260.1 688 260.2 648 260.3 679 260.4 646 260.5 646 260.5 661 260.6 674 260.7 657 260.8 675 260.9 658 261.0 673 261.1 703 261.2 680 261.3 659 261.4 676 261.5 663 261.6 690 261.7 707 261.8 653 261.9 646 262.0 658 262.0 690 262.1 688 262.2 672 262.3 696 262.4 681 262.5 663 262.6 651 262.7 620 262.8 673 262.9 691 263.0 676 263.1 650 263.2 699 263.3 665 263.4 678 263.5 634 263.6 649 263.6 662 263.7 678 263.8 665 263.9 672 264.0 641 264.1 659 264.2 650 264.3 689 264.4 657 264.5 667 264.6 642 264.7 693 264.8 672 264.9 670 265.0 688 265.1 639 265.2 688 265.2 677 265.3 681 265.4 684 265.5 658 265.6 672 265.7 644 265.8 662 265.9 652 266.0 672 266.1 661 266.2 685 266.3 683 266.4 670 266.5 668 266.6 654 266.7 666 266.8 675 266.8 659 266.9 699 267.0 710 267.1 674 267.2 656 267.3 680 267.4 661 267.5 657 267.6 666 267.7 620 267.8 671 267.9 664 268.0 677 268.1 652 268.2 673 268.3 683 268.4 675 268.4 685 268.5 667 268.6 666 268.7 667 268.8 674 268.9 689 269.0 663 269.1 673 269.2 692 269.3 675 269.4 668 269.5 661 269.6 676 269.7 668 269.8 689 269.9 705 270.0 681 270.0 676 270.1 691 270.2 685 270.3 671 270.4 661 270.5 637 270.6 698 270.7 672 270.8 685 270.9 674 271.0 695 271.1 662 271.2 670 271.3 657 271.4 659 271.5 673 271.5 666 271.6 653 271.7 678 271.8 695 271.9 690 272.0 681 272.1 680 272.2 707 272.3 633 272.4 662 272.5 659 272.6 665 272.7 667 272.8 674 272.9 692 273.0 680 273.1 691 273.1 666 273.2 657 273.3 687 273.4 679 273.5 670 273.6 683 273.7 664 273.8 694 273.9 699 274.0 682 274.1 662 274.2 672 274.3 660 274.4 677 274.5 672 274.6 656 274.7 630 274.7 663 274.8 659 274.9 657 275.0 661 275.1 672 275.2 695 275.3 665 275.4 647 275.5 687 275.6 640 275.7 661 275.8 681 275.9 697 276.0 664 276.1 683 276.2 674 276.3 654 276.3 647 276.4 664 276.5 693 276.6 679 276.7 673 276.8 637 276.9 662 277.0 676 277.1 697 277.2 687 277.3 653 277.4 683 277.5 662 277.6 672 277.7 643 277.8 676 277.9 685 277.9 673 278.0 654 278.1 671 278.2 684 278.3 676 278.4 697 278.5 671 278.6 672 278.7 683 278.8 692 278.9 647 279.0 681 279.1 676 279.2 636 279.3 674 279.4 680 279.4 667 279.5 637 279.6 671 279.7 668 279.8 675 279.9 676 280.0 679 280.1 688 280.2 681 280.3 673 280.4 680 280.5 639 280.6 647 280.7 699 280.8 662 280.9 664 281.0 682 281.0 667 281.1 635 281.2 674 281.3 649 281.4 668 281.5 668 281.6 683 281.7 655 281.8 665 281.9 682 282.0 672 282.1 668 282.2 665 282.3 664 282.4 681 282.5 669 282.6 652 282.6 680 282.7 638 282.8 693 282.9 697 283.0 656 283.1 678 283.2 681 283.3 682 283.4 643 283.5 635 283.6 654 283.7 646 283.8 671 283.9 674 284.0 662 284.1 662 284.2 644 284.2 672 284.3 679 284.4 663 284.5 658 284.6 715 284.7 661 284.8 707 284.9 664 285.0 679 285.1 670 285.2 708 285.3 670 285.4 669 285.5 708 285.6 679 285.7 643 285.8 652 285.8 676 285.9 685 286.0 671 286.1 674 286.2 681 286.3 670 286.4 657 286.5 679 286.6 684 286.7 667 286.8 658 286.9 658 287.0 654 287.1 665 287.2 627 287.3 679 287.3 664 287.4 687 287.5 665 287.6 698 287.7 698 287.8 669 287.9 664 288.0 658 288.1 703 288.2 660 288.3 680 288.4 621 288.5 686 288.6 689 288.7 673 288.8 648 288.9 676 288.9 687 289.0 686 289.1 677 289.2 705 289.3 634 289.4 663 289.5 678 289.6 677 289.7 673 289.8 680 289.9 669 290.0 684 290.1 679 290.2 696 290.3 650 290.4 678 290.5 680 290.5 664 290.6 700 290.7 668 290.8 663 290.9 674 291.0 714 291.1 655 291.2 658 291.3 689 291.4 646 291.5 691 291.6 686 291.7 647 291.8 655 291.9 675 292.0 661 292.1 682 292.1 689 292.2 681 292.3 647 292.4 650 292.5 665 292.6 621 292.7 655 292.8 677 292.9 655 293.0 657 293.1 696 293.2 690 293.3 644 293.4 691 293.5 670 293.6 649 293.7 644 293.7 675 293.8 714 293.9 669 294.0 657 294.1 676 294.2 703 294.3 680 294.4 654 294.5 656 294.6 681 294.7 664 294.8 677 294.9 662 295.0 685 295.1 668 295.2 684 295.2 647 295.3 678 295.4 667 295.5 685 295.6 707 295.7 674 295.8 693 295.9 654 296.0 650 296.1 677 296.2 688 296.3 656 296.4 677 296.5 656 296.6 654 296.7 675 296.8 639 296.8 664 296.9 657 297.0 669 297.1 689 297.2 667 297.3 675 297.4 651 297.5 684 297.6 667 297.7 659 297.8 640 297.9 680 298.0 668 298.1 685 298.2 688 298.3 680 298.4 650 298.4 652 298.5 671 298.6 685 298.7 651 298.8 666 298.9 663 299.0 661 299.1 646 299.2 661 299.3 672 299.4 677 299.5 674 299.6 674 299.7 688 299.8 687 299.9 640 300.0 651 300.0 681 300.1 671 300.2 676 300.3 662 300.4 677 300.5 671 300.6 666 300.7 649 300.8 675 300.9 672 301.0 692 301.1 689 301.2 674 301.3 689 301.4 710 301.5 691 301.6 676 301.6 681 301.7 675 301.8 686 301.9 664 302.0 655 302.1 642 302.2 659 302.3 673 302.4 654 302.5 695 302.6 712 302.7 642 302.8 671 302.9 694 303.0 646 303.1 644 303.1 661 303.2 679 303.3 632 303.4 680 303.5 676 303.6 678 303.7 670 303.8 701 303.9 682 304.0 663 304.1 638 304.2 677 304.3 676 304.4 667 304.5 656 304.6 649 304.7 680 304.7 702 304.8 718 304.9 645 305.0 666 305.1 657 305.2 657 305.3 661 305.4 635 305.5 664 305.6 645 305.7 682 305.8 662 305.9 681 306.0 681 306.1 701 306.2 670 306.3 672 306.3 650 306.4 680 306.5 686 306.6 683 306.7 688 306.8 655 306.9 658 307.0 709 307.1 656 307.2 686 307.3 663 307.4 693 307.5 648 307.6 701 307.7 687 307.8 666 307.9 691 307.9 663 308.0 692 308.1 662 308.2 651 308.3 716 308.4 659 308.5 663 308.6 692 308.7 672 308.8 674 308.9 635 309.0 677 309.1 661 309.2 680 309.3 670 309.4 665 309.5 679 309.5 658 309.6 681 309.7 679 309.8 681 309.9 680 310.0 664 310.1 661 310.2 706 310.3 694 310.4 674 310.5 671 310.6 704 310.7 658 310.8 635 310.9 676 311.0 682 311.0 692 311.1 680 311.2 687 311.3 674 311.4 670 311.5 704 311.6 661 311.7 666 311.8 693 311.9 654 312.0 646 312.1 688 312.2 664 312.3 684 312.4 682 312.5 677 312.6 706 312.6 674 312.7 686 312.8 682 312.9 680 313.0 689 313.1 652 313.2 674 313.3 648 313.4 695 313.5 682 313.6 690 313.7 687 313.8 668 313.9 660 314.0 633 314.1 681 314.2 662 314.2 671 314.3 680 314.4 677 314.5 680 314.6 634 314.7 666 314.8 658 314.9 682 315.0 662 315.1 673 315.2 680 315.3 673 315.4 686 315.5 646 315.6 679 315.7 683 315.8 689 315.8 688 315.9 685 316.0 707 316.1 686 316.2 664 316.3 646 316.4 660 316.5 662 316.6 653 316.7 692 316.8 652 316.9 660 317.0 669 317.1 677 317.2 663 317.3 659 317.4 703 317.4 668 317.5 663 317.6 662 317.7 692 317.8 684 317.9 687 318.0 661 318.1 628 318.2 662 318.3 657 318.4 695 318.5 683 318.6 661 318.7 675 318.8 681 318.9 680 318.9 675 319.0 660 319.1 663 319.2 653 319.3 671 319.4 640 319.5 722 319.6 676 319.7 640 319.8 677 319.9 690 320.0 686 320.1 669 320.2 658 320.3 687 320.4 663 320.5 690 320.5 669 320.6 676 320.7 657 320.8 663 320.9 648 321.0 684 321.1 739 321.2 657 321.3 663 321.4 673 321.5 683 321.6 693 321.7 673 321.8 662 321.9 655 322.0 681 322.1 695 322.1 658 322.2 648 322.3 665 322.4 706 322.5 647 322.6 701 322.7 658 322.8 718 322.9 693 323.0 667 323.1 680 323.2 668 323.3 662 323.4 651 323.5 655 323.6 701 323.7 681 323.7 634 323.8 677 323.9 704 324.0 654 324.1 673 324.2 673 324.3 646 324.4 650 324.5 669 324.6 643 324.7 670 324.8 668 324.9 653 325.0 676 325.1 668 325.2 660 325.3 667 325.3 679 325.4 633 325.5 669 325.6 651 325.7 679 325.8 663 325.9 684 326.0 641 326.1 670 326.2 669 326.3 613 326.4 697 326.5 669 326.6 671 326.7 668 326.8 664 326.8 690 326.9 685 327.0 658 327.1 680 327.2 665 327.3 669 327.4 650 327.5 651 327.6 650 327.7 699 327.8 661 327.9 669 328.0 650 328.1 665 328.2 645 328.3 694 328.4 634 328.4 668 328.5 665 328.6 675 328.7 683 328.8 654 328.9 674 329.0 646 329.1 643 329.2 647 329.3 658 329.4 672 329.5 681 329.6 690 329.7 674 329.8 652 329.9 694 330.0 668 330.0 676 330.1 689 330.2 677 330.3 678 330.4 703 330.5 710 330.6 714 330.7 649 330.8 659 330.9 687 331.0 656 331.1 668 331.2 680 331.3 653 331.4 695 331.5 704 331.6 689 331.6 685 331.7 648 331.8 648 331.9 697 332.0 674 332.1 647 332.2 646 332.3 693 332.4 648 332.5 663 332.6 668 332.7 655 332.8 690 332.9 666 333.0 680 333.1 666 333.2 678 333.2 662 333.3 643 333.4 671 333.5 677 333.6 680 333.7 676 333.8 677 333.9 656 334.0 679 334.1 699 334.2 669 334.3 666 334.4 662 334.5 665 334.6 683 334.7 672 334.7 656 334.8 654 334.9 696 335.0 654 335.1 687 335.2 674 335.3 655 335.4 658 335.5 665 335.6 666 335.7 660 335.8 685 335.9 671 336.0 668 336.1 665 336.2 680 336.3 624 336.3 660 336.4 646 336.5 669 336.6 659 336.7 667 336.8 669 336.9 664 337.0 677 337.1 657 337.2 644 337.3 684 337.4 684 337.5 695 337.6 657 337.7 647 337.8 658 337.9 686 337.9 670 338.0 660 338.1 654 338.2 657 338.3 696 338.4 705 338.5 680 338.6 702 338.7 634 338.8 687 338.9 642 339.0 657 339.1 676 339.2 676 339.3 658 339.4 650 339.5 688 339.5 680 339.6 699 339.7 663 339.8 689 339.9 675 340.0 685 340.1 692 340.2 672 340.3 676 340.4 643 340.5 670 340.6 706 340.7 652 340.8 676 340.9 665 341.0 653 341.1 706 341.1 698 341.2 702 341.3 664 341.4 682 341.5 658 341.6 658 341.7 685 341.8 676 341.9 653 342.0 639 342.1 640 342.2 669 342.3 657 342.4 653 342.5 653 342.6 675 342.6 654 342.7 676 342.8 688 342.9 623 343.0 692 343.1 684 343.2 672 343.3 679 343.4 659 343.5 676 343.6 691 343.7 665 343.8 686 343.9 674 344.0 684 344.1 694 344.2 652 344.2 660 344.3 677 344.4 671 344.5 696 344.6 692 344.7 672 344.8 654 344.9 684 345.0 679 345.1 700 345.2 668 345.3 690 345.4 690 345.5 701 345.6 674 345.7 640 345.8 654 345.8 697 345.9 640 346.0 681 346.1 663 346.2 665 346.3 627 346.4 694 346.5 662 346.6 673 346.7 682 346.8 664 346.9 695 347.0 634 347.1 656 347.2 702 347.3 669 347.4 692 347.4 665 347.5 675 347.6 639 347.7 641 347.8 691 347.9 671 348.0 692 348.1 655 348.2 665 348.3 648 348.4 640 348.5 675 348.6 661 348.7 710 348.8 661 348.9 670 349.0 663 349.0 677 349.1 623 349.2 687 349.3 678 349.4 678 349.5 648 349.6 658 349.7 660 349.8 691 349.9 649 350.0 663 350.1 685 350.2 720 350.3 655 350.4 671 350.5 714 350.6 648 350.6 647 350.7 703 350.8 656 350.9 657 351.0 685 351.1 679 351.2 676 351.3 645 351.4 679 351.5 669 351.6 675 351.7 685 351.8 663 351.9 698 352.0 702 352.1 702 352.1 657 352.2 627 352.3 660 352.4 669 352.5 667 352.6 658 352.7 671 352.8 683 352.9 644 353.0 667 353.1 672 353.2 657 353.3 643 353.4 667 353.5 657 353.6 677 353.7 676 353.7 657 353.8 654 353.9 662 354.0 652 354.1 680 354.2 695 354.3 695 354.4 663 354.5 700 354.6 657 354.7 664 354.8 653 354.9 681 355.0 685 355.1 658 355.2 683 355.3 673 355.3 667 355.4 672 355.5 666 355.6 663 355.7 674 355.8 669 355.9 661 356.0 702 356.1 649 356.2 664 356.3 684 356.4 674 356.5 653 356.6 673 356.7 665 356.8 654 356.9 649 356.9 670 357.0 669 357.1 678 357.2 671 357.3 656 357.4 663 357.5 681 357.6 654 357.7 679 357.8 681 357.9 679 358.0 693 358.1 643 358.2 704 358.3 670 358.4 663 358.5 690 358.5 653 358.6 651 358.7 655 358.8 674 358.9 649 359.0 711 359.1 640 359.2 665 359.3 665 359.4 675 359.5 656 359.6 684 359.7 671 359.8 666 359.9 655 360.0 699 360.0 667 360.1 667 360.2 652 360.3 680 360.4 688 360.5 670 360.6 669 360.7 680 360.8 676 360.9 653 361.0 665 361.1 656 361.2 693 361.3 674 361.4 694 361.5 654 361.6 649 361.6 620 361.7 661 361.8 675 361.9 636 362.0 641 362.1 690 362.2 677 362.3 696 362.4 691 362.5 700 362.6 688 362.7 652 362.8 655 362.9 647 363.0 690 363.1 664 363.2 666 363.2 684 363.3 649 363.4 647 363.5 668 363.6 653 363.7 670 363.8 646 363.9 647 364.0 692 364.1 681 364.2 651 364.3 664 364.4 635 364.5 673 364.6 683 364.7 656 364.8 675 364.8 699 364.9 684 365.0 657 365.1 669 365.2 670 365.3 665 365.4 662 365.5 658 365.6 676 365.7 651 365.8 666 365.9 682 366.0 655 366.1 644 366.2 689 366.3 659 366.4 638 366.4 661 366.5 702 366.6 668 366.7 649 366.8 650 366.9 670 367.0 669 367.1 677 367.2 686 367.3 684 367.4 661 367.5 674 367.6 692 367.7 703 367.8 682 367.9 646 367.9 702 368.0 666 368.1 728 368.2 645 368.3 639 368.4 655 368.5 653 368.6 658 368.7 668 368.8 654 368.9 698 369.0 673 369.1 685 369.2 654 369.3 647 369.4 642 369.5 650 369.5 665 369.6 647 369.7 646 369.8 661 369.9 661 370.0 670 370.1 685 370.2 649 370.3 661 370.4 654 370.5 660 370.6 639 370.7 693 370.8 665 370.9 647 371.0 644 371.1 668 371.1 650 371.2 665 371.3 677 371.4 673 371.5 665 371.6 640 371.7 682 371.8 680 371.9 679 372.0 695 372.1 670 372.2 702 372.3 643 372.4 657 372.5 697 372.6 667 372.7 683 372.7 664 372.8 660 372.9 669 373.0 708 373.1 633 373.2 652 373.3 669 373.4 698 373.5 675 373.6 709 373.7 655 373.8 666 373.9 673 374.0 661 374.1 632 374.2 676 374.3 665 374.3 676 374.4 715 374.5 641 374.6 657 374.7 654 374.8 669 374.9 632 375.0 661 375.1 673 375.2 650 375.3 668 375.4 687 375.5 666 375.6 634 375.7 695 375.8 674 375.8 672 375.9 674 376.0 659 376.1 656 376.2 693 376.3 654 376.4 643 376.5 687 376.6 699 376.7 673 376.8 678 376.9 676 377.0 679 377.1 691 377.2 652 377.3 649 377.4 689 377.4 664 377.5 658 377.6 660 377.7 687 377.8 690 377.9 632 378.0 698 378.1 682 378.2 672 378.3 662 378.4 691 378.5 679 378.6 643 378.7 643 378.8 669 378.9 683 379.0 684 379.0 658 379.1 690 379.2 654 379.3 683 379.4 695 379.5 693 379.6 641 379.7 685 379.8 673 379.9 673 380.0 700 380.1 669 380.2 665 380.3 653 380.4 683 380.5 684 380.6 670 380.6 662 380.7 653 380.8 702 380.9 686 381.0 659 381.1 667 381.2 634 381.3 651 381.4 700 381.5 638 381.6 672 381.7 670 381.8 667 381.9 689 382.0 637 382.1 685 382.2 688 382.2 662 382.3 660 382.4 644 382.5 691 382.6 664 382.7 668 382.8 689 382.9 685 383.0 636 383.1 690 383.2 665 383.3 696 383.4 670 383.5 652 383.6 706 383.7 672 383.7 633 383.8 667 383.9 660 384.0 694 384.1 671 384.2 684 384.3 652 384.4 677 384.5 680 384.6 670 384.7 699 384.8 674 384.9 682 385.0 671 385.1 668 385.2 668 385.3 659 385.3 663 385.4 692 385.5 720 385.6 652 385.7 656 385.8 655 385.9 672 386.0 646 386.1 687 386.2 691 386.3 616 386.4 680 386.5 660 386.6 661 386.7 654 386.8 669 386.9 656 386.9 647 387.0 686 387.1 713 387.2 657 387.3 708 387.4 659 387.5 666 387.6 645 387.7 662 387.8 642 387.9 671 388.0 700 388.1 650 388.2 654 388.3 665 388.4 654 388.5 666 388.5 692 388.6 685 388.7 663 388.8 628 388.9 656 389.0 724 389.1 676 389.2 702 389.3 686 389.4 702 389.5 665 389.6 667 389.7 670 389.8 663 389.9 673 390.0 664 390.1 637 390.1 668 390.2 683 390.3 647 390.4 685 390.5 632 390.6 662 390.7 649 390.8 674 390.9 637 391.0 672 391.1 682 391.2 671 391.3 671 391.4 666 391.5 656 391.6 651 391.6 659 391.7 662 391.8 672 391.9 693 392.0 672 392.1 649 392.2 662 392.3 651 392.4 659 392.5 644 392.6 692 392.7 692 392.8 715 392.9 694 393.0 671 393.1 695 393.2 631 393.2 672 393.3 681 393.4 653 393.5 656 393.6 644 393.7 671 393.8 671 393.9 657 394.0 643 394.1 654 394.2 662 394.3 684 394.4 693 394.5 651 394.6 676 394.7 664 394.8 692 394.8 642 394.9 646 395.0 664 395.1 650 395.2 688 395.3 689 395.4 700 395.5 644 395.6 665 395.7 663 395.8 658 395.9 669 396.0 686 396.1 725 396.2 671 396.3 659 396.4 672 396.4 695 396.5 681 396.6 652 396.7 666 396.8 694 396.9 668 397.0 634 397.1 685 397.2 697 397.3 669 397.4 675 397.5 646 397.6 684 397.7 695 397.8 666 397.9 690 398.0 660 398.0 699 398.1 682 398.2 685 398.3 667 398.4 635 398.5 643 398.6 697 398.7 635 398.8 708 398.9 644 399.0 686 399.1 672 399.2 665 399.3 668 399.4 712 399.5 633 399.5 653 399.6 659 399.7 701 399.8 673 399.9 691 400.0 658 400.1 676 400.2 630 400.3 676 400.4 664 400.5 660 400.6 682 400.7 665 400.8 685 400.9 677 401.0 699 401.1 674 401.1 682 401.2 653 401.3 681 401.4 686 401.5 666 401.6 702 401.7 671 401.8 706 401.9 680 402.0 663 402.1 681 402.2 679 402.3 655 402.4 679 402.5 652 402.6 653 402.7 660 402.7 691 402.8 652 402.9 690 403.0 690 403.1 678 403.2 691 403.3 650 403.4 692 403.5 669 403.6 656 403.7 651 403.8 649 403.9 667 404.0 646 404.1 638 404.2 657 404.3 646 404.3 659 404.4 668 404.5 660 404.6 685 404.7 661 404.8 698 404.9 652 405.0 666 405.1 647 405.2 685 405.3 677 405.4 681 405.5 690 405.6 678 405.7 669 405.8 699 405.9 668 405.9 692 406.0 678 406.1 677 406.2 659 406.3 679 406.4 646 406.5 708 406.6 659 406.7 657 406.8 659 406.9 649 407.0 718 407.1 659 407.2 663 407.3 669 407.4 673 407.4 711 407.5 661 407.6 638 407.7 668 407.8 681 407.9 699 408.0 646 408.1 677 408.2 681 408.3 690 408.4 688 408.5 670 408.6 682 408.7 662 408.8 687 408.9 707 409.0 672 409.0 648 409.1 660 409.2 678 409.3 678 409.4 669 409.5 704 409.6 705 409.7 656 409.8 694 409.9 666 410.0 666 410.1 645 410.2 654 410.3 680 410.4 720 410.5 682 410.6 673 410.6 678 410.7 649 410.8 694 410.9 670 411.0 642 411.1 683 411.2 670 411.3 673 411.4 662 411.5 643 411.6 688 411.7 660 411.8 655 411.9 670 412.0 666 412.1 648 412.2 612 412.2 656 412.3 666 412.4 672 412.5 621 412.6 648 412.7 688 412.8 623 412.9 679 413.0 651 413.1 687 413.2 667 413.3 693 413.4 648 413.5 665 413.6 673 413.7 646 413.8 677 413.8 658 413.9 655 414.0 674 414.1 648 414.2 676 414.3 675 414.4 684 414.5 672 414.6 655 414.7 669 414.8 663 414.9 663 415.0 657 415.1 675 415.2 652 415.3 648 415.3 688 415.4 646 415.5 674 415.6 696 415.7 668 415.8 662 415.9 657 416.0 657 416.1 665 416.2 640 416.3 690 416.4 664 416.5 706 416.6 642 416.7 634 416.8 692 416.9 695 416.9 655 417.0 691 417.1 668 417.2 635 417.3 658 417.4 635 417.5 675 417.6 670 417.7 645 417.8 703 417.9 653 418.0 672 418.1 650 418.2 687 418.3 665 418.4 714 418.5 651 418.5 651 418.6 678 418.7 658 418.8 675 418.9 668 419.0 652 419.1 688 419.2 679 419.3 642 419.4 674 419.5 681 419.6 671 419.7 698 419.8 679 419.9 700 420.0 675 420.1 652 420.1 617 420.2 644 420.3 696 420.4 664 420.5 677 420.6 657 420.7 666 420.8 678 420.9 664 421.0 675 421.1 661 421.2 665 421.3 666 421.4 710 421.5 657 421.6 682 421.7 691 421.7 633 421.8 645 421.9 680 422.0 667 422.1 666 422.2 692 422.3 681 422.4 674 422.5 647 422.6 683 422.7 676 422.8 646 422.9 697 423.0 632 423.1 635 423.2 695 423.2 647 423.3 692 423.4 673 423.5 653 423.6 686 423.7 670 423.8 671 423.9 694 424.0 686 424.1 677 424.2 681 424.3 651 424.4 625 424.5 668 424.6 674 424.7 700 424.8 667 424.8 677 424.9 698 425.0 709 425.1 652 425.2 681 425.3 619 425.4 655 425.5 657 425.6 708 425.7 698 425.8 663 425.9 672 426.0 632 426.1 703 426.2 674 426.3 669 426.4 673 426.4 649 426.5 639 426.6 645 426.7 686 426.8 717 426.9 655 427.0 689 427.1 655 427.2 675 427.3 668 427.4 647 427.5 647 427.6 684 427.7 698 427.8 647 427.9 687 428.0 665 428.0 696 428.1 672 428.2 680 428.3 659 428.4 644 428.5 663 428.6 671 428.7 667 428.8 692 428.9 682 429.0 642 429.1 680 429.2 692 429.3 675 429.4 679 429.5 677 429.6 660 429.6 680 429.7 671 429.8 685 429.9 650 430.0 664 430.1 629 430.2 662 430.3 691 430.4 697 430.5 680 430.6 666 430.7 670 430.8 676 430.9 663 431.0 661 431.1 653 431.2 636 431.2 694 431.3 683 431.4 661 431.5 678 431.6 696 431.7 648 431.8 685 431.9 697 432.0 661 432.1 639 432.2 671 432.3 717 432.4 663 432.5 644 432.6 624 432.7 628 432.7 641 432.8 676 432.9 668 433.0 662 433.1 671 433.2 665 433.3 659 433.4 672 433.5 679 433.6 667 433.7 666 433.8 684 433.9 685 434.0 668 434.1 690 434.2 645 434.3 660 434.3 637 434.4 682 434.5 672 434.6 697 434.7 682 434.8 661 434.9 658 435.0 697 435.1 688 435.2 671 435.3 676 435.4 660 435.5 683 435.6 672 435.7 697 435.8 643 435.9 663 435.9 660 436.0 657 436.1 664 436.2 654 436.3 646 436.4 658 436.5 647 436.6 638 436.7 674 436.8 640 436.9 695 437.0 665 437.1 661 437.2 649 437.3 666 437.4 667 437.5 674 437.5 660 437.6 652 437.7 675 437.8 637 437.9 671 438.0 651 438.1 665 438.2 681 438.3 690 438.4 675 438.5 692 438.6 671 438.7 666 438.8 663 438.9 677 439.0 693 439.1 670 439.1 662 439.2 657 439.3 663 439.4 692 439.5 680 439.6 664 439.7 668 439.8 678 439.9 677 440.0 676 440.1 651 440.2 689 440.3 631 440.4 666 440.5 647 440.6 661 440.6 635 440.7 665 440.8 726 440.9 681 441.0 637 441.1 686 441.2 689 441.3 710 441.4 658 441.5 629 441.6 680 441.7 693 441.8 650 441.9 665 442.0 685 442.1 689 442.2 657 442.2 674 442.3 687 442.4 690 442.5 680 442.6 710 442.7 649 442.8 670 442.9 657 443.0 665 443.1 675 443.2 651 443.3 695 443.4 702 443.5 677 443.6 683 443.7 620 443.8 675 443.8 669 443.9 670 444.0 648 444.1 670 444.2 653 444.3 666 444.4 656 444.5 665 444.6 674 444.7 663 444.8 648 444.9 660 445.0 682 445.1 654 445.2 683 445.3 678 445.4 666 445.4 661 445.5 656 445.6 657 445.7 685 445.8 654 445.9 671 446.0 690 446.1 654 446.2 663 446.3 659 446.4 676 446.5 646 446.6 653 446.7 622 446.8 631 446.9 669 447.0 668 447.0 653 447.1 675 447.2 679 447.3 673 447.4 682 447.5 668 447.6 615 447.7 636 447.8 671 447.9 643 448.0 658 448.1 658 448.2 673 448.3 654 448.4 658 448.5 677 448.5 649 448.6 679 448.7 695 448.8 686 448.9 654 449.0 685 449.1 681 449.2 674 449.3 718 449.4 660 449.5 668 449.6 659 449.7 660 449.8 686 449.9 670 450.0 672 450.1 668 450.1 700 450.2 653 450.3 679 450.4 654 450.5 721 450.6 693 450.7 675 450.8 664 450.9 658 451.0 650 451.1 684 451.2 664 451.3 675 451.4 691 451.5 700 451.6 689 451.7 669 451.7 672 451.8 643 451.9 675 452.0 665 452.1 693 452.2 679 452.3 639 452.4 661 452.5 664 452.6 662 452.7 706 452.8 650 452.9 655 453.0 670 453.1 663 453.2 664 453.3 673 453.3 651 453.4 683 453.5 672 453.6 665 453.7 663 453.8 668 453.9 686 454.0 677 454.1 658 454.2 672 454.3 660 454.4 683 454.5 670 454.6 666 454.7 670 454.8 650 454.9 676 454.9 665 455.0 672 455.1 668 455.2 683 455.3 662 455.4 692 455.5 673 455.6 659 455.7 671 455.8 660 455.9 672 456.0 678 456.1 664 456.2 669 456.3 681 456.4 692 456.4 687 456.5 675 456.6 658 456.7 700 456.8 669 456.9 644 457.0 691 457.1 681 457.2 678 457.3 679 457.4 669 457.5 683 457.6 660 457.7 703 457.8 652 457.9 663 458.0 639 458.0 687 458.1 672 458.2 644 458.3 620 458.4 632 458.5 678 458.6 665 458.7 681 458.8 698 458.9 686 459.0 663 459.1 692 459.2 675 459.3 670 459.4 678 459.5 657 459.6 716 459.6 669 459.7 660 459.8 655 459.9 672 460.0 674 460.1 670 460.2 683 460.3 670 460.4 664 460.5 680 460.6 642 460.7 669 460.8 652 460.9 703 461.0 673 461.1 638 461.2 673 461.2 670 461.3 643 461.4 673 461.5 676 461.6 665 461.7 683 461.8 675 461.9 678 462.0 687 462.1 649 462.2 673 462.3 661 462.4 660 462.5 649 462.6 649 462.7 673 462.8 675 462.8 661 462.9 685 463.0 653 463.1 655 463.2 694 463.3 614 463.4 665 463.5 645 463.6 696 463.7 660 463.8 656 463.9 637 464.0 677 464.1 639 464.2 681 464.3 671 464.3 641 464.4 676 464.5 696 464.6 678 464.7 671 464.8 654 464.9 646 465.0 663 465.1 632 465.2 694 465.3 679 465.4 659 465.5 671 465.6 692 465.7 662 465.8 659 465.9 673 465.9 673 466.0 674 466.1 695 466.2 658 466.3 678 466.4 658 466.5 650 466.6 678 466.7 668 466.8 643 466.9 663 467.0 675 467.1 694 467.2 700 467.3 655 467.4 691 467.5 668 467.5 647 467.6 651 467.7 684 467.8 641 467.9 714 468.0 670 468.1 665 468.2 665 468.3 661 468.4 664 468.5 671 468.6 674 468.7 681 468.8 680 468.9 646 469.0 649 469.1 686 469.1 673 469.2 710 469.3 680 469.4 675 469.5 680 469.6 657 469.7 664 469.8 677 469.9 687 470.0 674 470.1 631 470.2 699 470.3 676 470.4 651 470.5 674 470.6 683 470.7 682 470.7 657 470.8 645 470.9 719 471.0 662 471.1 675 471.2 645 471.3 655 471.4 651 471.5 660 471.6 670 471.7 687 471.8 674 471.9 664 472.0 636 472.1 665 472.2 689 472.2 663 472.3 652 472.4 642 472.5 647 472.6 674 472.7 673 472.8 710 472.9 678 473.0 703 473.1 672 473.2 646 473.3 662 473.4 698 473.5 655 473.6 660 473.7 697 473.8 684 473.8 655 473.9 666 474.0 661 474.1 700 474.2 668 474.3 654 474.4 682 474.5 672 474.6 676 474.7 671 474.8 665 474.9 693 475.0 665 475.1 675 475.2 633 475.3 671 475.4 667 475.4 681 475.5 672 475.6 688 475.7 676 475.8 681 475.9 703 476.0 693 476.1 677 476.2 660 476.3 685 476.4 682 476.5 683 476.6 694 476.7 674 476.8 646 476.9 677 477.0 685 477.0 665 477.1 649 477.2 649 477.3 666 477.4 649 477.5 693 477.6 685 477.7 677 477.8 653 477.9 708 478.0 669 478.1 678 478.2 644 478.3 683 478.4 656 478.5 665 478.6 659 478.6 650 478.7 658 478.8 666 478.9 671 479.0 684 479.1 685 479.2 659 479.3 693 479.4 676 479.5 709 479.6 666 479.7 658 479.8 672 479.9 685 480.0 672 480.1 662 480.1 698 480.2 658 480.3 686 480.4 648 480.5 666 480.6 669 480.7 672 480.8 687 480.9 665 481.0 686 481.1 660 481.2 675 481.3 684 481.4 683 481.5 659 481.6 635 481.7 699 481.7 650 481.8 660 481.9 706 482.0 674 482.1 693 482.2 685 482.3 674 482.4 651 482.5 689 482.6 635 482.7 666 482.8 657 482.9 661 483.0 693 483.1 682 483.2 668 483.3 655 483.3 700 483.4 677 483.5 648 483.6 674 483.7 634 483.8 711 483.9 698 484.0 698 484.1 635 484.2 675 484.3 642 484.4 653 484.5 683 484.6 693 484.7 666 484.8 624 484.9 676 484.9 638 485.0 695 485.1 645 485.2 685 485.3 682 485.4 667 485.5 657 485.6 679 485.7 654 485.8 664 485.9 694 486.0 669 486.1 664 486.2 665 486.3 686 486.4 638 486.5 661 486.5 655 486.6 660 486.7 673 486.8 691 486.9 646 487.0 677 487.1 657 487.2 653 487.3 667 487.4 673 487.5 671 487.6 687 487.7 648 487.8 671 487.9 655 488.0 630 488.0 679 488.1 644 488.2 668 488.3 653 488.4 693 488.5 649 488.6 702 488.7 681 488.8 667 488.9 636 489.0 650 489.1 696 489.2 640 489.3 638 489.4 695 489.5 711 489.6 671 489.6 674 489.7 668 489.8 672 489.9 675 490.0 689 490.1 676 490.2 670 490.3 700 490.4 650 490.5 635 490.6 645 490.7 678 490.8 666 490.9 676 491.0 676 491.1 650 491.2 702 491.2 668 491.3 621 491.4 665 491.5 638 491.6 644 491.7 671 491.8 673 491.9 639 492.0 645 492.1 651 492.2 685 492.3 668 492.4 668 492.5 671 492.6 663 492.7 673 492.8 652 492.8 707 492.9 695 493.0 657 493.1 670 493.2 685 493.3 676 493.4 692 493.5 650 493.6 663 493.7 657 493.8 634 493.9 679 494.0 653 494.1 671 494.2 660 494.3 654 494.4 669 494.4 631 494.5 663 494.6 696 494.7 669 494.8 690 494.9 684 495.0 700 495.1 658 495.2 709 495.3 679 495.4 652 495.5 675 495.6 692 495.7 666 495.8 682 495.9 688 495.9 657 496.0 656 496.1 645 496.2 652 496.3 669 496.4 653 496.5 672 496.6 669 496.7 646 496.8 678 496.9 695 497.0 674 497.1 634 497.2 664 497.3 666 497.4 656 497.5 695 497.5 685 497.6 659 497.7 678 497.8 693 497.9 693 498.0 662 498.1 685 498.2 671 498.3 690 498.4 677 498.5 699 498.6 676 498.7 651 498.8 672 498.9 667 499.0 688 499.1 660 499.1 682 499.2 674 499.3 679 499.4 652 499.5 642 499.6 678 499.7 649 499.8 665 499.9 642 500.0 679 500.1 684 500.2 657 500.3 702 500.4 649 500.5 649 500.6 666 500.7 676 500.7 692 500.8 674 500.9 654 501.0 654 501.1 649 501.2 677 501.3 642 501.4 673 501.5 652 501.6 669 501.7 663 501.8 660 501.9 662 502.0 665 502.1 669 502.2 667 502.3 673 502.3 674 502.4 632 502.5 693 502.6 660 502.7 682 502.8 671 502.9 650 503.0 680 503.1 664 503.2 667 503.3 639 503.4 652 503.5 649 503.6 675 503.7 650 503.8 623 503.8 681 503.9 668 504.0 659 504.1 653 504.2 656 504.3 666 504.4 687 504.5 676 504.6 668 504.7 685 504.8 649 504.9 677 505.0 646 505.1 695 505.2 665 505.3 689 505.4 690 505.4 663 505.5 646 505.6 680 505.7 653 505.8 672 505.9 669 506.0 671 506.1 662 506.2 655 506.3 672 506.4 665 506.5 664 506.6 653 506.7 659 506.8 677 506.9 654 507.0 663 507.0 665 507.1 687 507.2 676 507.3 670 507.4 671 507.5 688 507.6 644 507.7 684 507.8 654 507.9 671 508.0 697 508.1 640 508.2 651 508.3 676 508.4 646 508.5 661 508.6 679 508.6 663 508.7 650 508.8 669 508.9 654 509.0 671 509.1 678 509.2 692 509.3 662 509.4 639 509.5 674 509.6 690 509.7 674 509.8 665 509.9 645 510.0 670 510.1 661 510.2 668 510.2 683 510.3 674 510.4 676 510.5 683 510.6 674 510.7 669 510.8 696 510.9 632 511.0 642 511.1 665 511.2 683 511.3 685 511.4 679 511.5 684 511.6 659 511.7 719 511.8 685 511.8 695 511.9 671 512.0 686 512.1 660 512.2 698 512.3 649 512.4 665 512.5 630 512.6 661 512.7 655 512.8 661 512.9 719 513.0 659 513.1 688 513.2 694 513.3 636 513.3 652 513.4 670 513.5 646 513.6 687 513.7 649 513.8 664 513.9 677 514.0 644 514.1 663 514.2 693 514.3 702 514.4 703 514.5 690 514.6 643 514.7 679 514.8 664 514.9 678 514.9 668 515.0 664 515.1 642 515.2 629 515.3 685 515.4 684 515.5 668 515.6 640 515.7 684 515.8 655 515.9 670 516.0 670 516.1 679 516.2 643 516.3 682 516.4 685 516.5 710 516.5 661 516.6 706 516.7 714 516.8 670 516.9 658 517.0 627 517.1 683 517.2 694 517.3 656 517.4 684 517.5 690 517.6 688 517.7 708 517.8 640 517.9 661 518.0 688 518.1 655 518.1 665 518.2 664 518.3 662 518.4 675 518.5 681 518.6 652 518.7 621 518.8 658 518.9 667 519.0 644 519.1 654 519.2 665 519.3 626 519.4 671 519.5 677 519.6 688 519.7 652 519.7 674 519.8 660 519.9 643 520.0 711 520.1 697 520.2 673 520.3 692 520.4 691 520.5 672 520.6 683 520.7 642 520.8 640 520.9 665 521.0 672 521.1 682 521.2 666 521.2 687 521.3 672 521.4 655 521.5 678 521.6 666 521.7 677 521.8 673 521.9 654 522.0 658 522.1 662 522.2 682 522.3 656 522.4 711 522.5 663 522.6 671 522.7 666 522.8 653 522.8 661 522.9 671 523.0 682 523.1 670 523.2 663 523.3 643 523.4 673 523.5 699 523.6 694 523.7 650 523.8 687 523.9 675 524.0 658 524.1 688 524.2 646 524.3 651 524.4 643 524.4 658 524.5 645 524.6 662 524.7 681 524.8 666 524.9 641 525.0 656 525.1 691 525.2 663 525.3 658 525.4 691 525.5 705 525.6 661 525.7 646 525.8 667 525.9 699 526.0 680 526.0 687 526.1 658 526.2 682 526.3 651 526.4 677 526.5 649 526.6 654 526.7 678 526.8 619 526.9 669 527.0 690 527.1 656 527.2 708 527.3 652 527.4 660 527.5 650 527.6 659 527.6 690 527.7 691 527.8 655 527.9 666 528.0 662 528.1 663 528.2 692 528.3 689 528.4 636 528.5 656 528.6 693 528.7 660 528.8 680 528.9 710 529.0 678 529.1 653 529.1 657 529.2 696 529.3 678 529.4 667 529.5 669 529.6 682 529.7 686 529.8 685 529.9 666 530.0 653 530.1 670 530.2 677 530.3 674 530.4 639 530.5 669 530.6 664 530.7 686 530.7 665 530.8 700 530.9 707 531.0 668 531.1 664 531.2 669 531.3 644 531.4 649 531.5 671 531.6 686 531.7 685 531.8 663 531.9 681 532.0 704 532.1 651 532.2 631 532.3 670 532.3 644 532.4 622 532.5 668 532.6 665 532.7 635 532.8 668 532.9 650 533.0 695 533.1 668 533.2 679 533.3 666 533.4 676 533.5 696 533.6 671 533.7 712 533.8 644 533.9 646 533.9 667 534.0 697 534.1 686 534.2 630 534.3 652 534.4 671 534.5 668 534.6 653 534.7 666 534.8 647 534.9 682 535.0 659 535.1 665 535.2 694 535.3 664 535.4 677 535.5 676 535.5 686 535.6 652 535.7 659 535.8 661 535.9 668 536.0 640 536.1 668 536.2 676 536.3 660 536.4 650 536.5 654 536.6 657 536.7 661 536.8 653 536.9 668 537.0 690 537.0 702 537.1 686 537.2 662 537.3 657 537.4 659 537.5 672 537.6 666 537.7 643 537.8 668 537.9 666 538.0 694 538.1 679 538.2 677 538.3 709 538.4 655 538.5 650 538.6 643 538.6 665 538.7 650 538.8 701 538.9 670 539.0 676 539.1 704 539.2 670 539.3 651 539.4 684 539.5 665 539.6 686 539.7 657 539.8 655 539.9 696 540.0 688 540.1 659 540.2 662 540.2 669 540.3 692 540.4 653 540.5 677 540.6 691 540.7 647 540.8 661 540.9 677 541.0 677 541.1 666 541.2 669 541.3 668 541.4 679 541.5 680 541.6 653 541.7 670 541.8 663 541.8 668 541.9 644 542.0 668 542.1 644 542.2 639 542.3 688 542.4 680 542.5 682 542.6 665 542.7 665 542.8 671 542.9 638 543.0 674 543.1 694 543.2 675 543.3 645 543.4 672 543.4 657 543.5 673 543.6 695 543.7 668 543.8 674 543.9 612 544.0 673 544.1 695 544.2 651 544.3 657 544.4 680 544.5 664 544.6 657 544.7 668 544.8 670 544.9 698 544.9 662 545.0 689 545.1 652 545.2 674 545.3 630 545.4 657 545.5 651 545.6 686 545.7 672 545.8 691 545.9 695 546.0 690 546.1 682 546.2 690 546.3 658 546.4 658 546.5 650 546.5 658 546.6 664 546.7 675 546.8 669 546.9 672 547.0 665 547.1 658 547.2 669 547.3 654 547.4 662 547.5 659 547.6 668 547.7 641 547.8 676 547.9 642 548.0 660 548.1 650 548.1 673 548.2 688 548.3 662 548.4 680 548.5 692 548.6 664 548.7 663 548.8 664 548.9 683 549.0 648 549.1 661 549.2 692 549.3 662 549.4 689 549.5 661 549.6 648 549.7 623 549.7 671 549.8 676 549.9 639 550.0 660 550.1 665 550.2 684 550.3 682 550.4 672 550.5 647 550.6 642 550.7 650 550.8 664 550.9 628 551.0 658 551.1 675 551.2 668 551.3 662 551.3 650 551.4 689 551.5 658 551.6 690 551.7 680 551.8 689 551.9 667 552.0 660 552.1 660 552.2 652 552.3 648 552.4 635 552.5 683 552.6 662 552.7 692 552.8 629 552.8 683 552.9 659 553.0 688 553.1 678 553.2 644 553.3 674 553.4 655 553.5 671 553.6 675 553.7 662 553.8 647 553.9 635 554.0 690 554.1 645 554.2 638 554.3 667 554.4 655 554.4 677 554.5 681 554.6 650 554.7 667 554.8 652 554.9 652 555.0 659 555.1 677 555.2 613 555.3 686 555.4 649 555.5 654 555.6 676 555.7 650 555.8 667 555.9 671 556.0 707 556.0 676 556.1 671 556.2 640 556.3 680 556.4 655 556.5 701 556.6 661 556.7 693 556.8 649 556.9 655 557.0 636 557.1 663 557.2 671 557.3 659 557.4 679 557.5 633 557.6 659 557.6 678 557.7 692 557.8 634 557.9 636 558.0 662 558.1 656 558.2 693 558.3 642 558.4 660 558.5 648 558.6 640 558.7 643 558.8 670 558.9 655 559.0 648 559.1 709 559.2 664 559.2 639 559.3 641 559.4 677 559.5 672 559.6 641 559.7 676 559.8 668 559.9 664 560.0 643 560.1 658 560.2 664 560.3 659 560.4 678 560.5 683 560.6 636 560.7 664 560.7 682 560.8 673 560.9 665 561.0 628 561.1 668 561.2 651 561.3 635 561.4 657 561.5 659 561.6 667 561.7 695 561.8 676 561.9 679 562.0 661 562.1 675 562.2 670 562.3 649 562.3 637 562.4 680 562.5 654 562.6 662 562.7 677 562.8 662 562.9 684 563.0 664 563.1 666 563.2 698 563.3 656 563.4 669 563.5 653 563.6 663 563.7 656 563.8 673 563.9 668 563.9 658 564.0 664 564.1 658 564.2 668 564.3 647 564.4 659 564.5 672 564.6 656 564.7 676 564.8 691 564.9 659 565.0 669 565.1 674 565.2 642 565.3 652 565.4 662 565.5 660 565.5 672 565.6 665 565.7 672 565.8 669 565.9 671 566.0 623 566.1 662 566.2 666 566.3 655 566.4 678 566.5 667 566.6 691 566.7 679 566.8 652 566.9 670 567.0 673 567.1 654 567.1 647 567.2 645 567.3 672 567.4 663 567.5 644 567.6 637 567.7 668 567.8 656 567.9 668 568.0 646 568.1 696 568.2 672 568.3 644 568.4 691 568.5 686 568.6 679 568.6 664 568.7 675 568.8 676 568.9 646 569.0 685 569.1 652 569.2 662 569.3 679 569.4 664 569.5 681 569.6 654 569.7 680 569.8 641 569.9 638 570.0 684 570.1 658 570.2 655 570.2 668 570.3 651 570.4 681 570.5 699 570.6 687 570.7 628 570.8 676 570.9 686 571.0 653 571.1 680 571.2 690 571.3 632 571.4 689 571.5 631 571.6 647 571.7 659 571.8 669 571.8 694 571.9 668 572.0 673 572.1 685 572.2 640 572.3 676 572.4 656 572.5 671 572.6 655 572.7 675 572.8 665 572.9 675 573.0 661 573.1 657 573.2 685 573.3 649 573.4 652 573.4 689 573.5 645 573.6 682 573.7 689 573.8 673 573.9 669 574.0 659 574.1 676 574.2 652 574.3 658 574.4 671 574.5 656 574.6 679 574.7 650 574.8 622 574.9 657 575.0 672 575.0 629 575.1 639 575.2 684 575.3 668 575.4 669 575.5 668 575.6 658 575.7 672 575.8 661 575.9 686 576.0 679 576.1 682 576.2 657 576.3 683 576.4 674 576.5 662 576.5 647 576.6 658 576.7 653 576.8 648 576.9 692 577.0 670 577.1 637 577.2 662 577.3 624 577.4 648 577.5 690 577.6 733 577.7 673 577.8 619 577.9 660 578.0 654 578.1 679 578.1 678 578.2 640 578.3 630 578.4 663 578.5 642 578.6 665 578.7 703 578.8 707 578.9 670 579.0 643 579.1 678 579.2 694 579.3 663 579.4 671 579.5 673 579.6 667 579.7 670 579.7 659 579.8 665 579.9 662 580.0 660 580.1 649 580.2 660 580.3 665 580.4 647 580.5 682 580.6 667 580.7 665 580.8 670 580.9 657 581.0 666 581.1 643 581.2 659 581.3 685 581.3 680 581.4 627 581.5 652 581.6 683 581.7 648 581.8 681 581.9 692 582.0 687 582.1 660 582.2 647 582.3 646 582.4 670 582.5 677 582.6 668 582.7 668 582.8 680 582.9 661 582.9 683 583.0 638 583.1 648 583.2 680 583.3 688 583.4 668 583.5 680 583.6 655 583.7 653 583.8 695 583.9 672 584.0 646 584.1 689 584.2 677 584.3 675 584.4 689 584.4 695 584.5 645 584.6 657 584.7 673 584.8 639 584.9 668 585.0 646 585.1 669 585.2 668 585.3 679 585.4 685 585.5 653 585.6 624 585.7 680 585.8 687 585.9 669 586.0 645 586.0 663 586.1 713 586.2 675 586.3 683 586.4 671 586.5 667 586.6 679 586.7 662 586.8 660 586.9 650 587.0 688 587.1 665 587.2 665 587.3 657 587.4 682 587.5 644 587.6 683 587.6 650 587.7 651 587.8 638 587.9 692 588.0 686 588.1 683 588.2 654 588.3 645 588.4 671 588.5 652 588.6 668 588.7 677 588.8 678 588.9 680 589.0 683 589.1 664 589.2 668 589.2 666 589.3 678 589.4 690 589.5 673 589.6 675 589.7 663 589.8 667 589.9 628 590.0 677 590.1 628 590.2 672 590.3 665 590.4 639 590.5 670 590.6 691 590.7 676 590.8 656 590.8 659 590.9 647 591.0 638 591.1 681 591.2 657 591.3 673 591.4 677 591.5 660 591.6 602 591.7 654 591.8 675 591.9 644 592.0 680 592.1 660 592.2 693 592.3 669 592.4 662 592.4 689 592.5 676 592.6 667 592.7 675 592.8 648 592.9 661 593.0 671 593.1 667 593.2 659 593.3 660 593.4 681 593.5 648 593.6 638 593.7 618 593.8 675 593.9 617 593.9 671 594.0 679 594.1 673 594.2 666 594.3 667 594.4 662 594.5 669 594.6 653 594.7 664 594.8 680 594.9 669 595.0 687 595.1 645 595.2 658 595.3 690 595.4 688 595.5 667 595.5 674 595.6 701 595.7 671 595.8 682 595.9 690 596.0 694 596.1 647 596.2 657 596.3 644 596.4 647 596.5 654 596.6 656 596.7 638 596.8 631 596.9 676 597.0 667 597.1 655 597.1 649 597.2 639 597.3 647 597.4 660 597.5 669 597.6 656 597.7 636 597.8 695 597.9 688 598.0 651 598.1 719 598.2 662 598.3 688 598.4 654 598.5 649 598.6 667 598.7 662 598.7 683 598.8 641 598.9 624 599.0 639 599.1 679 599.2 704 599.3 638 599.4 685 599.5 647 599.6 708 599.7 694 599.8 663 599.9 678 600.0 654 600.1 677 600.2 672 600.3 628 600.3 677 600.4 666 600.5 662 600.6 658 600.7 678 600.8 644 600.9 657 601.0 660 601.1 647 601.2 676 601.3 650 601.4 675 601.5 699 601.6 651 601.7 659 601.8 692 601.8 675 601.9 672 602.0 657 602.1 661 602.2 647 602.3 644 602.4 632 602.5 667 602.6 654 602.7 663 602.8 674 602.9 665 603.0 662 603.1 650 603.2 672 603.3 656 603.4 675 603.4 668 603.5 679 603.6 700 603.7 669 603.8 655 603.9 651 604.0 692 604.1 649 604.2 693 604.3 661 604.4 688 604.5 701 604.6 687 604.7 656 604.8 703 604.9 697 605.0 670 605.0 715 605.1 667 605.2 658 605.3 663 605.4 662 605.5 678 605.6 652 605.7 691 605.8 683 605.9 659 606.0 668 606.1 644 606.2 678 606.3 660 606.4 668 606.5 667 606.6 701 606.6 663 606.7 708 606.8 689 606.9 665 607.0 678 607.1 668 607.2 664 607.3 687 607.4 668 607.5 655 607.6 679 607.7 693 607.8 652 607.9 670 608.0 673 608.1 666 608.2 637 608.2 628 608.3 676 608.4 625 608.5 692 608.6 660 608.7 670 608.8 668 608.9 684 609.0 653 609.1 683 609.2 668 609.3 657 609.4 661 609.5 650 609.6 650 609.7 663 609.7 657 609.8 657 609.9 646 610.0 673 610.1 673 610.2 666 610.3 681 610.4 663 610.5 682 610.6 688 610.7 658 610.8 664 610.9 688 611.0 680 611.1 683 611.2 638 611.3 667 611.3 667 611.4 675 611.5 668 611.6 648 611.7 659 611.8 664 611.9 661 612.0 647 612.1 650 612.2 640 612.3 690 612.4 658 612.5 669 612.6 651 612.7 674 612.8 654 612.9 646 612.9 681 613.0 663 613.1 680 613.2 660 613.3 696 613.4 685 613.5 640 613.6 653 613.7 664 613.8 679 613.9 681 614.0 680 614.1 676 614.2 675 614.3 667 614.4 667 614.5 663 614.5 679 614.6 641 614.7 677 614.8 675 614.9 665 615.0 642 615.1 671 615.2 668 615.3 680 615.4 625 615.5 665 615.6 689 615.7 654 615.8 661 615.9 661 616.0 666 616.1 668 616.1 672 616.2 676 616.3 696 616.4 659 616.5 675 616.6 649 616.7 651 616.8 670 616.9 682 617.0 715 617.1 661 617.2 666 617.3 667 617.4 681 617.5 686 617.6 643 617.6 687 617.7 651 617.8 664 617.9 685 618.0 630 618.1 685 618.2 672 618.3 676 618.4 665 618.5 683 618.6 656 618.7 670 618.8 687 618.9 655 619.0 679 619.1 632 619.2 686 619.2 658 619.3 656 619.4 644 619.5 637 619.6 689 619.7 688 619.8 684 619.9 670 620.0 617 620.1 677 620.2 648 620.3 668 620.4 680 620.5 658 620.6 696 620.7 685 620.8 668 620.8 667 620.9 646 621.0 672 621.1 666 621.2 653 621.3 648 621.4 660 621.5 679 621.6 649 621.7 650 621.8 681 621.9 668 622.0 651 622.1 657 622.2 661 622.3 692 622.4 651 622.4 662 622.5 673 622.6 680 622.7 681 622.8 660 622.9 671 623.0 654 623.1 701 623.2 648 623.3 667 623.4 672 623.5 648 623.6 641 623.7 684 623.8 690 623.9 680 624.0 672 624.0 664 624.1 669 624.2 667 624.3 678 624.4 665 624.5 662 624.6 668 624.7 672 624.8 681 624.9 627 625.0 640 625.1 679 625.2 641 625.3 688 625.4 655 625.5 678 625.5 670 625.6 645 625.7 671 625.8 658 625.9 695 626.0 656 626.1 652 626.2 622 626.3 656 626.4 682 626.5 669 626.6 678 626.7 690 626.8 653 626.9 695 627.0 686 627.1 657 627.1 680 627.2 669 627.3 671 627.4 664 627.5 658 627.6 662 627.7 698 627.8 672 627.9 678 628.0 680 628.1 666 628.2 668 628.3 663 628.4 673 628.5 680 628.6 646 628.7 662 628.7 659 628.8 699 628.9 696 629.0 668 629.1 677 629.2 650 629.3 646 629.4 660 629.5 667 629.6 677 629.7 661 629.8 673 629.9 671 630.0 651 630.1 648 630.2 651 630.3 663 630.3 660 630.4 674 630.5 642 630.6 697 630.7 674 630.8 668 630.9 664 631.0 703 631.1 662 631.2 697 631.3 678 631.4 674 631.5 668 631.6 680 631.7 687 631.8 670 631.9 652 631.9 661 632.0 666 632.1 657 632.2 661 632.3 685 632.4 655 632.5 645 632.6 630 632.7 703 632.8 612 632.9 646 633.0 671 633.1 664 633.2 664 633.3 680 633.4 635 633.4 665 633.5 686 633.6 671 633.7 644 633.8 667 633.9 632 634.0 670 634.1 668 634.2 692 634.3 694 634.4 684 634.5 675 634.6 676 634.7 675 634.8 647 634.9 694 635.0 672 635.0 665 635.1 662 635.2 667 635.3 652 635.4 683 635.5 638 635.6 652 635.7 664 635.8 665 635.9 665 636.0 674 636.1 642 636.2 648 636.3 647 636.4 679 636.5 660 636.6 628 636.6 690 636.7 651 636.8 660 636.9 652 637.0 654 637.1 657 637.2 628 637.3 665 637.4 663 637.5 649 637.6 701 637.7 665 637.8 653 637.9 670 638.0 673 638.1 636 638.2 674 638.2 662 638.3 659 638.4 655 638.5 636 638.6 642 638.7 670 638.8 671 638.9 647 639.0 674 639.1 671 639.2 669 639.3 668 639.4 688 639.5 676 639.6 668 639.7 693 639.8 670 639.8 669 639.9 656 640.0 648 640.1 642 640.2 618 640.3 669 640.4 675 640.5 656 640.6 668 640.7 673 640.8 663 640.9 668 641.0 680 641.1 686 641.2 683 641.3 676 641.3 649 641.4 652 641.5 651 641.6 677 641.7 681 641.8 624 641.9 653 642.0 668 642.1 677 642.2 648 642.3 666 642.4 665 642.5 677 642.6 667 642.7 668 642.8 650 642.9 631 642.9 638 643.0 724 643.1 651 643.2 646 643.3 680 643.4 664 643.5 673 643.6 688 643.7 683 643.8 683 643.9 686 644.0 631 644.1 674 644.2 670 644.3 663 644.4 658 644.5 651 644.5 676 644.6 681 644.7 654 644.8 631 644.9 645 645.0 629 645.1 662 645.2 664 645.3 641 645.4 670 645.5 661 645.6 682 645.7 656 645.8 641 645.9 692 646.0 678 646.1 630 646.1 657 646.2 674 646.3 649 646.4 694 646.5 674 646.6 666 646.7 672 646.8 653 646.9 671 647.0 681 647.1 652 647.2 654 647.3 653 647.4 655 647.5 645 647.6 656 647.7 648 647.7 676 647.8 670 647.9 650 648.0 672 648.1 673 648.2 656 648.3 663 648.4 677 648.5 633 648.6 675 648.7 646 648.8 652 648.9 674 649.0 673 649.1 642 649.2 646 649.2 662 649.3 691 649.4 667 649.5 675 649.6 692 649.7 701 649.8 641 649.9 682 650.0 669 650.1 678 650.2 632 650.3 637 650.4 636 650.5 676 650.6 640 650.7 684 650.8 666 650.8 654 650.9 691 651.0 665 651.1 651 651.2 669 651.3 666 651.4 660 651.5 657 651.6 678 651.7 667 651.8 685 651.9 685 652.0 659 652.1 637 652.2 651 652.3 673 652.4 693 652.4 666 652.5 643 652.6 684 652.7 673 652.8 660 652.9 680 653.0 670 653.1 648 653.2 663 653.3 659 653.4 666 653.5 655 653.6 654 653.7 675 653.8 687 653.9 657 654.0 649 654.0 664 654.1 683 654.2 682 654.3 675 654.4 681 654.5 637 654.6 652 654.7 680 654.8 660 654.9 639 655.0 694 655.1 681 655.2 671 655.3 672 655.4 659 655.5 685 655.6 648 655.6 659 655.7 669 655.8 669 655.9 674 656.0 668 656.1 655 656.2 681 656.3 654 656.4 664 656.5 667 656.6 671 656.7 668 656.8 687 656.9 666 657.0 698 657.1 699 657.1 650 657.2 662 657.3 680 657.4 666 657.5 682 657.6 687 657.7 644 657.8 604 657.9 646 658.0 674 658.1 630 658.2 688 658.3 642 658.4 650 658.5 655 658.6 687 658.7 647 658.7 659 658.8 650 658.9 686 659.0 655 659.1 647 659.2 663 659.3 670 659.4 661 659.5 654 659.6 652 659.7 669 659.8 638 659.9 665 660.0 654 660.1 673 660.2 654 660.3 670 660.3 700 660.4 662 660.5 646 660.6 689 660.7 694 660.8 661 660.9 685 661.0 678 661.1 680 661.2 681 661.3 687 661.4 673 661.5 677 661.6 670 661.7 684 661.8 647 661.9 670 661.9 683 662.0 672 662.1 660 662.2 647 662.3 678 662.4 664 662.5 664 662.6 649 662.7 681 662.8 687 662.9 671 663.0 662 663.1 675 663.2 679 663.3 654 663.4 704 663.5 698 663.5 696 663.6 662 663.7 670 663.8 662 663.9 702 664.0 701 664.1 641 664.2 651 664.3 696 664.4 662 664.5 649 664.6 643 664.7 674 664.8 687 664.9 707 665.0 680 665.0 673 665.1 652 665.2 693 665.3 668 665.4 658 665.5 660 665.6 667 665.7 624 665.8 670 665.9 684 666.0 631 666.1 625 666.2 679 666.3 688 666.4 639 666.5 667 666.6 683 666.6 690 666.7 615 666.8 662 666.9 691 667.0 651 667.1 659 667.2 643 667.3 659 667.4 647 667.5 686 667.6 636 667.7 669 667.8 664 667.9 672 668.0 658 668.1 654 668.2 638 668.2 675 668.3 648 668.4 633 668.5 675 668.6 652 668.7 676 668.8 689 668.9 649 669.0 673" fill="none" stroke="#da0000" stroke-width="1.25"/>
<text transform="translate(114.63 982.50) scale(0.7155 1)" font-size="30">SNR = 8.22</text>
<line x1="376.20" y1="939.50" x2="439.70" y2="939.50" stroke="#000" stroke-width="1.5" stroke-linecap="butt"/>
<line x1="376.20" y1="974.00" x2="439.70" y2="974.00" stroke="#da0000" stroke-width="1.5" stroke-linecap="butt"/>
<text transform="translate(446.50 948.60) scale(0.6996 1)" font-size="30">f-LFS device w/o DNA</text>
<text transform="translate(445.71 981.90) scale(0.7256 1)" font-size="30">2.1 pg/mL target DNA</text>
<text transform="translate(724.19 567.00) scale(1.0016 1)" font-size="42" font-weight="bold">D</text>
<rect x="828.40" y="577.90" width="564.40" height="419.50" fill="none" stroke="#000" stroke-width="2"/>
<line x1="819.60" y1="997.40" x2="828.40" y2="997.40" stroke="#000" stroke-width="2" stroke-linecap="butt"/>
<text transform="translate(783.83 1008.00) scale(0.8400 1)" font-size="32">15</text>
<line x1="819.60" y1="877.45" x2="828.40" y2="877.45" stroke="#000" stroke-width="2" stroke-linecap="butt"/>
<text transform="translate(783.88 888.05) scale(0.8400 1)" font-size="32">16</text>
<line x1="819.60" y1="757.50" x2="828.40" y2="757.50" stroke="#000" stroke-width="2" stroke-linecap="butt"/>
<text transform="translate(784.05 768.10) scale(0.8400 1)" font-size="32">17</text>
<line x1="819.60" y1="637.55" x2="828.40" y2="637.55" stroke="#000" stroke-width="2" stroke-linecap="butt"/>
<text transform="translate(783.87 648.15) scale(0.8400 1)" font-size="32">18</text>
<line x1="823.40" y1="937.42" x2="828.40" y2="937.42" stroke="#000" stroke-width="2" stroke-linecap="butt"/>
<line x1="823.40" y1="817.47" x2="828.40" y2="817.47" stroke="#000" stroke-width="2" stroke-linecap="butt"/>
<line x1="823.40" y1="697.52" x2="828.40" y2="697.52" stroke="#000" stroke-width="2" stroke-linecap="butt"/>
<line x1="823.40" y1="577.58" x2="828.40" y2="577.58" stroke="#000" stroke-width="2" stroke-linecap="butt"/>
<line x1="828.40" y1="997.40" x2="828.40" y2="1006.20" stroke="#000" stroke-width="2" stroke-linecap="butt"/>
<text transform="translate(820.43 1035.90) scale(0.8400 1)" font-size="32">0</text>
<line x1="1110.60" y1="997.40" x2="1110.60" y2="1006.20" stroke="#000" stroke-width="2" stroke-linecap="butt"/>
<text transform="translate(1102.65 1035.90) scale(0.8400 1)" font-size="32">5</text>
<line x1="1392.80" y1="997.40" x2="1392.80" y2="1006.20" stroke="#000" stroke-width="2" stroke-linecap="butt"/>
<text transform="translate(1376.85 1035.90) scale(0.8400 1)" font-size="32">10</text>
<line x1="969.50" y1="997.40" x2="969.50" y2="1002.40" stroke="#000" stroke-width="2" stroke-linecap="butt"/>
<line x1="1251.70" y1="997.40" x2="1251.70" y2="1002.40" stroke="#000" stroke-width="2" stroke-linecap="butt"/>
<text transform="translate(1052.46 1077.30) scale(0.7788 1)" font-size="31">Time (min)</text>
<path d="M828.4 717 828.5 763 828.6 692 828.7 744 828.8 757 828.9 721 829.0 713 829.1 709 829.2 722 829.2 743 829.3 734 829.4 729 829.5 716 829.6 715 829.7 719 829.8 717 829.9 770 830.0 741 830.1 711 830.2 739 830.3 732 830.4 743 830.5 733 830.6 743 830.7 766 830.8 725 830.8 724 830.9 746 831.0 767 831.1 737 831.2 753 831.3 715 831.4 737 831.5 760 831.6 744 831.7 701 831.8 736 831.9 747 832.0 737 832.1 753 832.2 719 832.3 757 832.4 723 832.4 715 832.5 717 832.6 735 832.7 740 832.8 732 832.9 728 833.0 723 833.1 733 833.2 728 833.3 740 833.4 746 833.5 713 833.6 725 833.7 720 833.8 704 833.9 744 834.0 742 834.0 739 834.1 717 834.2 757 834.3 744 834.4 719 834.5 759 834.6 721 834.7 705 834.8 725 834.9 746 835.0 739 835.1 749 835.2 733 835.3 716 835.4 714 835.5 770 835.6 745 835.6 726 835.7 738 835.8 774 835.9 728 836.0 722 836.1 731 836.2 733 836.3 716 836.4 756 836.5 737 836.6 725 836.7 673 836.8 744 836.9 718 837.0 702 837.1 718 837.1 716 837.2 710 837.3 761 837.4 722 837.5 738 837.6 704 837.7 723 837.8 726 837.9 727 838.0 752 838.1 715 838.2 758 838.3 734 838.4 736 838.5 713 838.6 730 838.7 745 838.7 718 838.8 700 838.9 748 839.0 706 839.1 742 839.2 734 839.3 734 839.4 748 839.5 702 839.6 717 839.7 720 839.8 753 839.9 719 840.0 745 840.1 706 840.2 761 840.3 717 840.3 757 840.4 756 840.5 727 840.6 716 840.7 711 840.8 737 840.9 740 841.0 714 841.1 750 841.2 750 841.3 721 841.4 722 841.5 729 841.6 709 841.7 759 841.8 722 841.9 692 841.9 737 842.0 752 842.1 708 842.2 720 842.3 709 842.4 718 842.5 737 842.6 733 842.7 749 842.8 684 842.9 745 843.0 735 843.1 741 843.2 721 843.3 704 843.4 738 843.5 721 843.5 717 843.6 691 843.7 733 843.8 725 843.9 701 844.0 754 844.1 730 844.2 728 844.3 749 844.4 733 844.5 725 844.6 710 844.7 713 844.8 739 844.9 746 845.0 713 845.1 756 845.1 739 845.2 749 845.3 757 845.4 725 845.5 754 845.6 740 845.7 708 845.8 703 845.9 753 846.0 746 846.1 745 846.2 753 846.3 707 846.4 715 846.5 721 846.6 747 846.7 717 846.7 727 846.8 731 846.9 720 847.0 707 847.1 731 847.2 737 847.3 748 847.4 707 847.5 722 847.6 772 847.7 729 847.8 717 847.9 758 848.0 757 848.1 713 848.2 736 848.3 757 848.3 731 848.4 726 848.5 748 848.6 745 848.7 731 848.8 733 848.9 701 849.0 709 849.1 723 849.2 743 849.3 742 849.4 770 849.5 733 849.6 738 849.7 743 849.8 719 849.9 710 849.9 763 850.0 725 850.1 724 850.2 742 850.3 744 850.4 702 850.5 719 850.6 695 850.7 744 850.8 749 850.9 736 851.0 716 851.1 709 851.2 698 851.3 742 851.4 755 851.5 714 851.5 715 851.6 721 851.7 706 851.8 744 851.9 758 852.0 695 852.1 725 852.2 735 852.3 716 852.4 692 852.5 727 852.6 700 852.7 728 852.8 697 852.9 726 853.0 709 853.0 730 853.1 719 853.2 726 853.3 736 853.4 727 853.5 717 853.6 731 853.7 739 853.8 722 853.9 704 854.0 731 854.1 747 854.2 745 854.3 729 854.4 702 854.5 748 854.6 710 854.6 733 854.7 742 854.8 739 854.9 710 855.0 738 855.1 707 855.2 696 855.3 745 855.4 753 855.5 760 855.6 721 855.7 746 855.8 741 855.9 744 856.0 707 856.1 719 856.2 721 856.2 761 856.3 746 856.4 732 856.5 734 856.6 726 856.7 704 856.8 720 856.9 718 857.0 734 857.1 739 857.2 740 857.3 733 857.4 760 857.5 742 857.6 732 857.7 740 857.8 733 857.8 764 857.9 742 858.0 732 858.1 712 858.2 730 858.3 736 858.4 742 858.5 732 858.6 741 858.7 720 858.8 741 858.9 721 859.0 743 859.1 758 859.2 757 859.3 717 859.4 742 859.4 740 859.5 689 859.6 752 859.7 733 859.8 755 859.9 743 860.0 723 860.1 737 860.2 700 860.3 748 860.4 744 860.5 756 860.6 732 860.7 746 860.8 735 860.9 746 861.0 724 861.0 743 861.1 731 861.2 734 861.3 745 861.4 732 861.5 732 861.6 723 861.7 765 861.8 706 861.9 729 862.0 724 862.1 722 862.2 754 862.3 719 862.4 726 862.5 739 862.6 717 862.6 735 862.7 748 862.8 716 862.9 718 863.0 725 863.1 733 863.2 704 863.3 741 863.4 727 863.5 733 863.6 734 863.7 722 863.8 747 863.9 722 864.0 726 864.1 736 864.2 742 864.2 753 864.3 728 864.4 701 864.5 740 864.6 746 864.7 741 864.8 725 864.9 721 865.0 724 865.1 731 865.2 750 865.3 713 865.4 735 865.5 723 865.6 728 865.7 729 865.8 716 865.8 727 865.9 694 866.0 704 866.1 713 866.2 733 866.3 715 866.4 723 866.5 717 866.6 728 866.7 746 866.8 745 866.9 730 867.0 714 867.1 730 867.2 739 867.3 732 867.4 718 867.4 737 867.5 738 867.6 728 867.7 719 867.8 750 867.9 736 868.0 730 868.1 737 868.2 721 868.3 716 868.4 742 868.5 689 868.6 723 868.7 703 868.8 717 868.9 760 868.9 750 869.0 725 869.1 721 869.2 719 869.3 762 869.4 740 869.5 722 869.6 708 869.7 721 869.8 753 869.9 739 870.0 736 870.1 737 870.2 713 870.3 711 870.4 709 870.5 749 870.5 752 870.6 756 870.7 735 870.8 729 870.9 754 871.0 726 871.1 727 871.2 734 871.3 723 871.4 748 871.5 749 871.6 707 871.7 738 871.8 715 871.9 742 872.0 769 872.1 722 872.1 751 872.2 745 872.3 716 872.4 756 872.5 735 872.6 711 872.7 696 872.8 747 872.9 727 873.0 741 873.1 709 873.2 738 873.3 707 873.4 750 873.5 716 873.6 704 873.7 718 873.7 729 873.8 738 873.9 751 874.0 713 874.1 714 874.2 724 874.3 751 874.4 745 874.5 732 874.6 701 874.7 698 874.8 714 874.9 754 875.0 765 875.1 730 875.2 723 875.3 703 875.3 746 875.4 712 875.5 737 875.6 721 875.7 740 875.8 739 875.9 741 876.0 735 876.1 748 876.2 745 876.3 726 876.4 752 876.5 737 876.6 741 876.7 735 876.8 710 876.9 743 876.9 703 877.0 762 877.1 746 877.2 718 877.3 771 877.4 734 877.5 723 877.6 754 877.7 705 877.8 699 877.9 729 878.0 730 878.1 716 878.2 713 878.3 738 878.4 737 878.5 695 878.5 726 878.6 733 878.7 745 878.8 780 878.9 733 879.0 730 879.1 732 879.2 734 879.3 717 879.4 726 879.5 727 879.6 734 879.7 737 879.8 729 879.9 743 880.0 711 880.1 726 880.1 730 880.2 696 880.3 717 880.4 750 880.5 745 880.6 732 880.7 739 880.8 708 880.9 717 881.0 715 881.1 712 881.2 715 881.3 761 881.4 754 881.5 747 881.6 721 881.7 726 881.7 699 881.8 708 881.9 707 882.0 741 882.1 731 882.2 713 882.3 749 882.4 742 882.5 699 882.6 694 882.7 760 882.8 731 882.9 751 883.0 765 883.1 745 883.2 721 883.3 720 883.3 726 883.4 708 883.5 745 883.6 735 883.7 705 883.8 717 883.9 744 884.0 752 884.1 730 884.2 727 884.3 725 884.4 733 884.5 729 884.6 741 884.7 732 884.8 742 884.8 752 884.9 729 885.0 744 885.1 744 885.2 721 885.3 725 885.4 698 885.5 701 885.6 737 885.7 735 885.8 742 885.9 754 886.0 704 886.1 719 886.2 740 886.3 700 886.4 719 886.4 717 886.5 738 886.6 771 886.7 719 886.8 743 886.9 756 887.0 721 887.1 721 887.2 747 887.3 732 887.4 723 887.5 730 887.6 741 887.7 705 887.8 736 887.9 711 888.0 732 888.0 736 888.1 709 888.2 742 888.3 725 888.4 722 888.5 711 888.6 732 888.7 757 888.8 760 888.9 761 889.0 750 889.1 733 889.2 736 889.3 739 889.4 733 889.5 744 889.6 732 889.6 729 889.7 694 889.8 735 889.9 735 890.0 736 890.1 745 890.2 717 890.3 753 890.4 696 890.5 758 890.6 732 890.7 713 890.8 721 890.9 718 891.0 757 891.1 715 891.2 721 891.2 704 891.3 731 891.4 729 891.5 758 891.6 721 891.7 749 891.8 723 891.9 699 892.0 746 892.1 726 892.2 739 892.3 740 892.4 763 892.5 738 892.6 725 892.7 708 892.8 703 892.8 733 892.9 714 893.0 732 893.1 746 893.2 738 893.3 716 893.4 719 893.5 760 893.6 721 893.7 736 893.8 719 893.9 727 894.0 752 894.1 754 894.2 732 894.3 730 894.4 729 894.4 751 894.5 707 894.6 771 894.7 708 894.8 734 894.9 740 895.0 702 895.1 733 895.2 730 895.3 740 895.4 722 895.5 722 895.6 706 895.7 711 895.8 731 895.9 742 896.0 738 896.0 744 896.1 739 896.2 741 896.3 726 896.4 730 896.5 744 896.6 727 896.7 770 896.8 734 896.9 771 897.0 739 897.1 721 897.2 729 897.3 751 897.4 736 897.5 735 897.6 743 897.6 730 897.7 744 897.8 747 897.9 749 898.0 725 898.1 749 898.2 758 898.3 719 898.4 745 898.5 757 898.6 722 898.7 743 898.8 743 898.9 748 899.0 722 899.1 722 899.1 716 899.2 745 899.3 693 899.4 744 899.5 752 899.6 739 899.7 764 899.8 746 899.9 740 900.0 730 900.1 710 900.2 725 900.3 737 900.4 731 900.5 752 900.6 707 900.7 729 900.7 725 900.8 742 900.9 747 901.0 749 901.1 747 901.2 742 901.3 718 901.4 744 901.5 722 901.6 718 901.7 726 901.8 717 901.9 771 902.0 727 902.1 739 902.2 709 902.3 725 902.3 737 902.4 731 902.5 728 902.6 702 902.7 738 902.8 726 902.9 740 903.0 726 903.1 725 903.2 727 903.3 733 903.4 705 903.5 712 903.6 722 903.7 740 903.8 723 903.9 728 903.9 715 904.0 721 904.1 741 904.2 720 904.3 699 904.4 720 904.5 748 904.6 737 904.7 714 904.8 709 904.9 755 905.0 712 905.1 701 905.2 704 905.3 751 905.4 728 905.5 706 905.5 716 905.6 735 905.7 745 905.8 730 905.9 720 906.0 746 906.1 732 906.2 707 906.3 706 906.4 725 906.5 705 906.6 731 906.7 739 906.8 740 906.9 747 907.0 737 907.1 735 907.1 693 907.2 712 907.3 691 907.4 746 907.5 717 907.6 737 907.7 754 907.8 719 907.9 741 908.0 717 908.1 685 908.2 728 908.3 731 908.4 741 908.5 755 908.6 734 908.7 744 908.7 727 908.8 736 908.9 725 909.0 722 909.1 710 909.2 750 909.3 744 909.4 706 909.5 715 909.6 742 909.7 687 909.8 778 909.9 737 910.0 736 910.1 722 910.2 753 910.3 730 910.3 726 910.4 710 910.5 762 910.6 741 910.7 741 910.8 714 910.9 698 911.0 702 911.1 743 911.2 727 911.3 734 911.4 731 911.5 743 911.6 728 911.7 732 911.8 721 911.9 733 911.9 687 912.0 758 912.1 740 912.2 740 912.3 727 912.4 715 912.5 731 912.6 679 912.7 724 912.8 706 912.9 731 913.0 742 913.1 688 913.2 744 913.3 756 913.4 742 913.5 727 913.5 706 913.6 735 913.7 735 913.8 725 913.9 716 914.0 744 914.1 725 914.2 739 914.3 722 914.4 721 914.5 712 914.6 699 914.7 738 914.8 744 914.9 726 915.0 728 915.0 728 915.1 714 915.2 725 915.3 713 915.4 727 915.5 730 915.6 742 915.7 717 915.8 727 915.9 708 916.0 718 916.1 737 916.2 725 916.3 730 916.4 731 916.5 751 916.6 725 916.6 727 916.7 748 916.8 723 916.9 722 917.0 747 917.1 747 917.2 724 917.3 716 917.4 723 917.5 758 917.6 747 917.7 720 917.8 746 917.9 711 918.0 710 918.1 743 918.2 724 918.2 717 918.3 720 918.4 736 918.5 732 918.6 730 918.7 702 918.8 718 918.9 709 919.0 724 919.1 719 919.2 714 919.3 731 919.4 740 919.5 722 919.6 735 919.7 738 919.8 742 919.8 752 919.9 727 920.0 745 920.1 742 920.2 734 920.3 749 920.4 721 920.5 715 920.6 748 920.7 736 920.8 733 920.9 734 921.0 728 921.1 724 921.2 740 921.3 717 921.4 761 921.4 747 921.5 714 921.6 737 921.7 724 921.8 710 921.9 701 922.0 748 922.1 742 922.2 742 922.3 742 922.4 725 922.5 762 922.6 723 922.7 731 922.8 706 922.9 756 923.0 720 923.0 737 923.1 742 923.2 716 923.3 716 923.4 753 923.5 717 923.6 735 923.7 737 923.8 738 923.9 732 924.0 740 924.1 729 924.2 771 924.3 716 924.4 726 924.5 740 924.6 724 924.6 734 924.7 721 924.8 714 924.9 723 925.0 781 925.1 710 925.2 730 925.3 720 925.4 744 925.5 733 925.6 734 925.7 721 925.8 719 925.9 725 926.0 726 926.1 716 926.2 712 926.2 720 926.3 736 926.4 717 926.5 740 926.6 726 926.7 707 926.8 755 926.9 750 927.0 768 927.1 700 927.2 729 927.3 724 927.4 727 927.5 734 927.6 746 927.7 728 927.8 747 927.8 721 927.9 706 928.0 694 928.1 746 928.2 738 928.3 746 928.4 759 928.5 751 928.6 734 928.7 716 928.8 712 928.9 746 929.0 721 929.1 735 929.2 728 929.3 715 929.4 716 929.4 716 929.5 727 929.6 727 929.7 727 929.8 722 929.9 733 930.0 724 930.1 729 930.2 709 930.3 747 930.4 737 930.5 729 930.6 732 930.7 767 930.8 713 930.9 706 930.9 758 931.0 753 931.1 709 931.2 755 931.3 729 931.4 732 931.5 737 931.6 725 931.7 748 931.8 757 931.9 740 932.0 734 932.1 728 932.2 718 932.3 707 932.4 723 932.5 732 932.5 723 932.6 751 932.7 743 932.8 743 932.9 756 933.0 718 933.1 748 933.2 754 933.3 747 933.4 707 933.5 711 933.6 727 933.7 721 933.8 762 933.9 746 934.0 727 934.1 749 934.1 755 934.2 744 934.3 719 934.4 708 934.5 749 934.6 710 934.7 753 934.8 730 934.9 733 935.0 738 935.1 704 935.2 719 935.3 731 935.4 714 935.5 742 935.6 725 935.7 708 935.7 724 935.8 699 935.9 748 936.0 751 936.1 736 936.2 735 936.3 740 936.4 708 936.5 725 936.6 747 936.7 742 936.8 724 936.9 751 937.0 725 937.1 748 937.2 732 937.3 727 937.3 755 937.4 739 937.5 738 937.6 730 937.7 719 937.8 733 937.9 754 938.0 738 938.1 746 938.2 735 938.3 716 938.4 717 938.5 712 938.6 745 938.7 759 938.8 746 938.9 731 938.9 741 939.0 751 939.1 732 939.2 711 939.3 736 939.4 724 939.5 697 939.6 740 939.7 717 939.8 754 939.9 744 940.0 733 940.1 712 940.2 728 940.3 738 940.4 719 940.5 705 940.5 705 940.6 744 940.7 719 940.8 739 940.9 718 941.0 712 941.1 748 941.2 694 941.3 761 941.4 727 941.5 759 941.6 738 941.7 704 941.8 708 941.9 698 942.0 735 942.1 746 942.1 746 942.2 682 942.3 713 942.4 746 942.5 730 942.6 731 942.7 714 942.8 740 942.9 759 943.0 742 943.1 720 943.2 728 943.3 739 943.4 751 943.5 709 943.6 719 943.7 744 943.7 738 943.8 699 943.9 734 944.0 707 944.1 732 944.2 732 944.3 737 944.4 720 944.5 722 944.6 744 944.7 701 944.8 737 944.9 739 945.0 711 945.1 743 945.2 734 945.3 726 945.3 715 945.4 757 945.5 746 945.6 770 945.7 721 945.8 726 945.9 721 946.0 726 946.1 741 946.2 721 946.3 748 946.4 746 946.5 736 946.6 714 946.7 752 946.8 681 946.8 743 946.9 757 947.0 728 947.1 745 947.2 720 947.3 716 947.4 748 947.5 722 947.6 740 947.7 726 947.8 739 947.9 733 948.0 725 948.1 707 948.2 738 948.3 718 948.4 705 948.4 744 948.5 712 948.6 736 948.7 725 948.8 723 948.9 735 949.0 706 949.1 709 949.2 728 949.3 731 949.4 729 949.5 721 949.6 721 949.7 753 949.8 719 949.9 722 950.0 736 950.0 743 950.1 758 950.2 724 950.3 741 950.4 737 950.5 687 950.6 754 950.7 762 950.8 717 950.9 759 951.0 739 951.1 730 951.2 746 951.3 711 951.4 730 951.5 728 951.6 742 951.6 748 951.7 735 951.8 700 951.9 732 952.0 722 952.1 724 952.2 746 952.3 719 952.4 740 952.5 760 952.6 762 952.7 720 952.8 699 952.9 720 953.0 712 953.1 750 953.2 779 953.2 701 953.3 715 953.4 758 953.5 727 953.6 731 953.7 733 953.8 749 953.9 725 954.0 719 954.1 754 954.2 725 954.3 756 954.4 720 954.5 735 954.6 716 954.7 723 954.8 758 954.8 749 954.9 730 955.0 722 955.1 711 955.2 751 955.3 734 955.4 692 955.5 730 955.6 747 955.7 761 955.8 724 955.9 716 956.0 745 956.1 718 956.2 713 956.3 707 956.4 720 956.4 735 956.5 743 956.6 715 956.7 753 956.8 705 956.9 720 957.0 735 957.1 761 957.2 745 957.3 756 957.4 749 957.5 723 957.6 694 957.7 749 957.8 745 957.9 697 958.0 730 958.0 726 958.1 744 958.2 705 958.3 730 958.4 719 958.5 718 958.6 706 958.7 725 958.8 741 958.9 722 959.0 732 959.1 761 959.2 741 959.3 757 959.4 734 959.5 739 959.6 737 959.6 759 959.7 722 959.8 728 959.9 714 960.0 751 960.1 740 960.2 743 960.3 724 960.4 743 960.5 722 960.6 750 960.7 724 960.8 729 960.9 732 961.0 734 961.1 733 961.2 716 961.2 715 961.3 717 961.4 729 961.5 741 961.6 742 961.7 736 961.8 733 961.9 742 962.0 752 962.1 750 962.2 720 962.3 744 962.4 733 962.5 740 962.6 728 962.7 737 962.7 714 962.8 729 962.9 751 963.0 732 963.1 751 963.2 739 963.3 717 963.4 755 963.5 723 963.6 734 963.7 715 963.8 732 963.9 716 964.0 730 964.1 712 964.2 728 964.3 745 964.3 729 964.4 732 964.5 703 964.6 745 964.7 758 964.8 712 964.9 743 965.0 760 965.1 748 965.2 745 965.3 739 965.4 696 965.5 736 965.6 722 965.7 724 965.8 742 965.9 761 965.9 701 966.0 740 966.1 746 966.2 723 966.3 747 966.4 741 966.5 716 966.6 740 966.7 729 966.8 738 966.9 707 967.0 758 967.1 778 967.2 730 967.3 737 967.4 684 967.5 730 967.5 730 967.6 719 967.7 727 967.8 721 967.9 747 968.0 737 968.1 707 968.2 751 968.3 738 968.4 725 968.5 719 968.6 730 968.7 720 968.8 718 968.9 729 969.0 743 969.1 723 969.1 740 969.2 740 969.3 710 969.4 723 969.5 749 969.6 760 969.7 744 969.8 726 969.9 720 970.0 730 970.1 696 970.2 732 970.3 747 970.4 732 970.5 714 970.6 722 970.7 724 970.7 708 970.8 712 970.9 704 971.0 737 971.1 723 971.2 725 971.3 727 971.4 698 971.5 721 971.6 720 971.7 748 971.8 733 971.9 720 972.0 726 972.1 744 972.2 718 972.3 729 972.3 710 972.4 717 972.5 711 972.6 742 972.7 738 972.8 712 972.9 678 973.0 715 973.1 716 973.2 732 973.3 691 973.4 720 973.5 725 973.6 718 973.7 733 973.8 714 973.9 722 973.9 728 974.0 748 974.1 744 974.2 731 974.3 763 974.4 740 974.5 727 974.6 727 974.7 691 974.8 761 974.9 731 975.0 734 975.1 723 975.2 733 975.3 741 975.4 725 975.5 733 975.5 693 975.6 734 975.7 721 975.8 713 975.9 721 976.0 731 976.1 730 976.2 732 976.3 743 976.4 727 976.5 701 976.6 704 976.7 743 976.8 714 976.9 729 977.0 731 977.1 733 977.1 714 977.2 744 977.3 744 977.4 709 977.5 758 977.6 738 977.7 722 977.8 730 977.9 734 978.0 698 978.1 707 978.2 723 978.3 712 978.4 730 978.5 734 978.6 708 978.6 706 978.7 748 978.8 703 978.9 694 979.0 712 979.1 747 979.2 716 979.3 738 979.4 707 979.5 727 979.6 728 979.7 742 979.8 728 979.9 724 980.0 750 980.1 737 980.2 744 980.2 710 980.3 725 980.4 736 980.5 710 980.6 725 980.7 731 980.8 734 980.9 708 981.0 725 981.1 756 981.2 737 981.3 732 981.4 766 981.5 712 981.6 707 981.7 743 981.8 710 981.8 719 981.9 724 982.0 742 982.1 697 982.2 722 982.3 739 982.4 714 982.5 725 982.6 741 982.7 715 982.8 720 982.9 759 983.0 727 983.1 720 983.2 712 983.3 708 983.4 724 983.4 722 983.5 745 983.6 729 983.7 738 983.8 713 983.9 707 984.0 736 984.1 763 984.2 722 984.3 710 984.4 732 984.5 751 984.6 716 984.7 741 984.8 726 984.9 731 985.0 716 985.0 750 985.1 707 985.2 723 985.3 692 985.4 745 985.5 764 985.6 730 985.7 751 985.8 727 985.9 761 986.0 714 986.1 726 986.2 716 986.3 730 986.4 751 986.5 710 986.6 707 986.6 702 986.7 737 986.8 726 986.9 719 987.0 737 987.1 728 987.2 726 987.3 713 987.4 759 987.5 703 987.6 727 987.7 726 987.8 737 987.9 710 988.0 717 988.1 726 988.2 712 988.2 738 988.3 715 988.4 742 988.5 734 988.6 698 988.7 739 988.8 740 988.9 731 989.0 724 989.1 719 989.2 726 989.3 727 989.4 726 989.5 684 989.6 754 989.7 722 989.8 712 989.8 742 989.9 716 990.0 717 990.1 771 990.2 694 990.3 709 990.4 718 990.5 740 990.6 729 990.7 738 990.8 739 990.9 709 991.0 763 991.1 765 991.2 738 991.3 715 991.4 745 991.4 715 991.5 739 991.6 730 991.7 729 991.8 722 991.9 718 992.0 731 992.1 744 992.2 751 992.3 707 992.4 721 992.5 709 992.6 739 992.7 717 992.8 712 992.9 706 993.0 728 993.0 705 993.1 748 993.2 731 993.3 744 993.4 749 993.5 725 993.6 711 993.7 740 993.8 735 993.9 737 994.0 736 994.1 713 994.2 710 994.3 752 994.4 719 994.5 720 994.5 736 994.6 756 994.7 731 994.8 749 994.9 721 995.0 722 995.1 704 995.2 737 995.3 725 995.4 734 995.5 721 995.6 738 995.7 737 995.8 747 995.9 728 996.0 727 996.1 700 996.1 722 996.2 733 996.3 711 996.4 712 996.5 736 996.6 725 996.7 734 996.8 732 996.9 727 997.0 732 997.1 739 997.2 722 997.3 737 997.4 760 997.5 740 997.6 711 997.7 724 997.7 720 997.8 726 997.9 743 998.0 755 998.1 752 998.2 730 998.3 735 998.4 727 998.5 740 998.6 692 998.7 743 998.8 707 998.9 736 999.0 707 999.1 697 999.2 699 999.3 703 999.3 719 999.4 754 999.5 757 999.6 725 999.7 713 999.8 752 999.9 709 1000.0 728 1000.1 747 1000.2 725 1000.3 689 1000.4 739 1000.5 723 1000.6 723 1000.7 735 1000.8 709 1000.9 703 1000.9 717 1001.0 702 1001.1 725 1001.2 715 1001.3 746 1001.4 709 1001.5 730 1001.6 758 1001.7 730 1001.8 754 1001.9 748 1002.0 716 1002.1 717 1002.2 747 1002.3 769 1002.4 720 1002.5 752 1002.5 718 1002.6 719 1002.7 724 1002.8 696 1002.9 719 1003.0 734 1003.1 739 1003.2 731 1003.3 726 1003.4 754 1003.5 737 1003.6 731 1003.7 758 1003.8 754 1003.9 726 1004.0 756 1004.1 710 1004.1 722 1004.2 726 1004.3 743 1004.4 749 1004.5 728 1004.6 725 1004.7 714 1004.8 778 1004.9 723 1005.0 718 1005.1 742 1005.2 725 1005.3 741 1005.4 740 1005.5 756 1005.6 718 1005.7 729 1005.7 737 1005.8 738 1005.9 726 1006.0 706 1006.1 706 1006.2 729 1006.3 745 1006.4 721 1006.5 760 1006.6 705 1006.7 718 1006.8 740 1006.9 735 1007.0 744 1007.1 725 1007.2 747 1007.3 730 1007.3 743 1007.4 762 1007.5 732 1007.6 739 1007.7 747 1007.8 754 1007.9 741 1008.0 740 1008.1 746 1008.2 743 1008.3 737 1008.4 748 1008.5 718 1008.6 727 1008.7 721 1008.8 747 1008.8 740 1008.9 729 1009.0 732 1009.1 743 1009.2 742 1009.3 721 1009.4 716 1009.5 704 1009.6 736 1009.7 719 1009.8 717 1009.9 726 1010.0 728 1010.1 730 1010.2 716 1010.3 716 1010.4 744 1010.4 736 1010.5 745 1010.6 727 1010.7 738 1010.8 724 1010.9 707 1011.0 739 1011.1 712 1011.2 726 1011.3 733 1011.4 732 1011.5 732 1011.6 718 1011.7 698 1011.8 728 1011.9 735 1012.0 710 1012.0 718 1012.1 742 1012.2 715 1012.3 735 1012.4 725 1012.5 717 1012.6 739 1012.7 732 1012.8 722 1012.9 754 1013.0 735 1013.1 760 1013.2 726 1013.3 732 1013.4 747 1013.5 742 1013.6 759 1013.6 732 1013.7 745 1013.8 729 1013.9 715 1014.0 738 1014.1 748 1014.2 709 1014.3 740 1014.4 711 1014.5 722 1014.6 710 1014.7 738 1014.8 758 1014.9 739 1015.0 728 1015.1 700 1015.2 744 1015.2 722 1015.3 752 1015.4 736 1015.5 712 1015.6 714 1015.7 722 1015.8 728 1015.9 722 1016.0 714 1016.1 732 1016.2 732 1016.3 727 1016.4 725 1016.5 759 1016.6 734 1016.7 736 1016.8 731 1016.8 741 1016.9 713 1017.0 717 1017.1 728 1017.2 680 1017.3 716 1017.4 708 1017.5 723 1017.6 719 1017.7 711 1017.8 740 1017.9 753 1018.0 695 1018.1 756 1018.2 751 1018.3 732 1018.4 739 1018.4 726 1018.5 702 1018.6 715 1018.7 763 1018.8 738 1018.9 724 1019.0 731 1019.1 762 1019.2 739 1019.3 710 1019.4 728 1019.5 737 1019.6 750 1019.7 712 1019.8 687 1019.9 741 1020.0 711 1020.0 727 1020.1 746 1020.2 752 1020.3 722 1020.4 730 1020.5 740 1020.6 724 1020.7 720 1020.8 685 1020.9 730 1021.0 740 1021.1 745 1021.2 719 1021.3 714 1021.4 730 1021.5 711 1021.6 726 1021.6 731 1021.7 736 1021.8 727 1021.9 724 1022.0 734 1022.1 745 1022.2 746 1022.3 708 1022.4 737 1022.5 697 1022.6 750 1022.7 729 1022.8 733 1022.9 750 1023.0 758 1023.1 743 1023.2 709 1023.2 744 1023.3 724 1023.4 723 1023.5 719 1023.6 769 1023.7 741 1023.8 765 1023.9 723 1024.0 718 1024.1 712 1024.2 718 1024.3 710 1024.4 713 1024.5 724 1024.6 715 1024.7 745 1024.7 727 1024.8 748 1024.9 741 1025.0 728 1025.1 707 1025.2 733 1025.3 719 1025.4 729 1025.5 707 1025.6 718 1025.7 738 1025.8 713 1025.9 724 1026.0 731 1026.1 701 1026.2 729 1026.3 740 1026.3 766 1026.4 755 1026.5 714 1026.6 785 1026.7 713 1026.8 749 1026.9 749 1027.0 713 1027.1 759 1027.2 739 1027.3 745 1027.4 733 1027.5 710 1027.6 697 1027.7 757 1027.8 746 1027.9 686 1027.9 716 1028.0 694 1028.1 696 1028.2 727 1028.3 742 1028.4 713 1028.5 720 1028.6 701 1028.7 720 1028.8 686 1028.9 755 1029.0 756 1029.1 736 1029.2 747 1029.3 725 1029.4 739 1029.5 705 1029.5 724 1029.6 720 1029.7 736 1029.8 727 1029.9 733 1030.0 743 1030.1 722 1030.2 760 1030.3 735 1030.4 738 1030.5 707 1030.6 732 1030.7 757 1030.8 730 1030.9 722 1031.0 720 1031.1 713 1031.1 715 1031.2 719 1031.3 705 1031.4 734 1031.5 719 1031.6 725 1031.7 721 1031.8 719 1031.9 733 1032.0 732 1032.1 727 1032.2 766 1032.3 722 1032.4 712 1032.5 731 1032.6 735 1032.7 732 1032.7 709 1032.8 737 1032.9 711 1033.0 753 1033.1 739 1033.2 703 1033.3 738 1033.4 753 1033.5 724 1033.6 736 1033.7 730 1033.8 719 1033.9 737 1034.0 721 1034.1 733 1034.2 728 1034.3 734 1034.3 752 1034.4 744 1034.5 741 1034.6 716 1034.7 743 1034.8 746 1034.9 727 1035.0 717 1035.1 728 1035.2 735 1035.3 755 1035.4 722 1035.5 711 1035.6 733 1035.7 725 1035.8 743 1035.9 741 1035.9 727 1036.0 732 1036.1 721 1036.2 726 1036.3 737 1036.4 739 1036.5 720 1036.6 749 1036.7 720 1036.8 735 1036.9 752 1037.0 744 1037.1 735 1037.2 687 1037.3 731 1037.4 750 1037.5 712 1037.5 746 1037.6 751 1037.7 722 1037.8 712 1037.9 695 1038.0 722 1038.1 742 1038.2 728 1038.3 706 1038.4 701 1038.5 743 1038.6 700 1038.7 732 1038.8 749 1038.9 717 1039.0 726 1039.1 753 1039.1 745 1039.2 729 1039.3 721 1039.4 748 1039.5 710 1039.6 743 1039.7 745 1039.8 717 1039.9 708 1040.0 734 1040.1 732 1040.2 722 1040.3 710 1040.4 736 1040.5 732 1040.6 739 1040.6 757 1040.7 718 1040.8 736 1040.9 712 1041.0 737 1041.1 707 1041.2 725 1041.3 712 1041.4 751 1041.5 741 1041.6 739 1041.7 698 1041.8 722 1041.9 738 1042.0 767 1042.1 746 1042.2 707 1042.2 738 1042.3 720 1042.4 758 1042.5 724 1042.6 713 1042.7 723 1042.8 747 1042.9 749 1043.0 721 1043.1 748 1043.2 755 1043.3 728 1043.4 750 1043.5 751 1043.6 734 1043.7 733 1043.8 754 1043.8 731 1043.9 710 1044.0 719 1044.1 713 1044.2 714 1044.3 729 1044.4 726 1044.5 747 1044.6 746 1044.7 743 1044.8 750 1044.9 697 1045.0 708 1045.1 757 1045.2 720 1045.3 729 1045.4 723 1045.4 724 1045.5 715 1045.6 751 1045.7 747 1045.8 738 1045.9 715 1046.0 730 1046.1 732 1046.2 735 1046.3 718 1046.4 724 1046.5 707 1046.6 698 1046.7 719 1046.8 744 1046.9 751 1047.0 732 1047.0 727 1047.1 729 1047.2 725 1047.3 729 1047.4 707 1047.5 730 1047.6 709 1047.7 726 1047.8 735 1047.9 728 1048.0 738 1048.1 727 1048.2 766 1048.3 728 1048.4 713 1048.5 710 1048.6 741 1048.6 747 1048.7 709 1048.8 752 1048.9 731 1049.0 735 1049.1 725 1049.2 714 1049.3 707 1049.4 762 1049.5 736 1049.6 764 1049.7 742 1049.8 756 1049.9 735 1050.0 739 1050.1 725 1050.2 721 1050.2 728 1050.3 718 1050.4 712 1050.5 733 1050.6 731 1050.7 743 1050.8 746 1050.9 718 1051.0 704 1051.1 727 1051.2 755 1051.3 743 1051.4 726 1051.5 728 1051.6 745 1051.7 727 1051.8 728 1051.8 754 1051.9 746 1052.0 720 1052.1 745 1052.2 734 1052.3 710 1052.4 716 1052.5 719 1052.6 751 1052.7 742 1052.8 730 1052.9 731 1053.0 717 1053.1 718 1053.2 712 1053.3 705 1053.4 732 1053.4 746 1053.5 715 1053.6 727 1053.7 727 1053.8 738 1053.9 732 1054.0 690 1054.1 761 1054.2 718 1054.3 725 1054.4 719 1054.5 738 1054.6 729 1054.7 737 1054.8 734 1054.9 737 1055.0 703 1055.0 712 1055.1 720 1055.2 723 1055.3 739 1055.4 754 1055.5 724 1055.6 745 1055.7 740 1055.8 746 1055.9 738 1056.0 739 1056.1 708 1056.2 705 1056.3 730 1056.4 720 1056.5 731 1056.5 725 1056.6 737 1056.7 723 1056.8 756 1056.9 772 1057.0 699 1057.1 728 1057.2 730 1057.3 721 1057.4 727 1057.5 717 1057.6 749 1057.7 741 1057.8 709 1057.9 725 1058.0 742 1058.1 753 1058.1 700 1058.2 713 1058.3 721 1058.4 755 1058.5 741 1058.6 750 1058.7 762 1058.8 740 1058.9 737 1059.0 695 1059.1 753 1059.2 713 1059.3 724 1059.4 718 1059.5 728 1059.6 714 1059.7 732 1059.7 710 1059.8 718 1059.9 746 1060.0 733 1060.1 699 1060.2 700 1060.3 744 1060.4 723 1060.5 701 1060.6 720 1060.7 739 1060.8 717 1060.9 726 1061.0 757 1061.1 720 1061.2 725 1061.3 718 1061.3 698 1061.4 698 1061.5 702 1061.6 701 1061.7 745 1061.8 747 1061.9 723 1062.0 729 1062.1 721 1062.2 737 1062.3 719 1062.4 702 1062.5 731 1062.6 731 1062.7 738 1062.8 764 1062.9 733 1062.9 733 1063.0 725 1063.1 741 1063.2 706 1063.3 712 1063.4 697 1063.5 775 1063.6 739 1063.7 718 1063.8 721 1063.9 722 1064.0 729 1064.1 711 1064.2 734 1064.3 731 1064.4 686 1064.5 733 1064.5 712 1064.6 725 1064.7 715 1064.8 727 1064.9 711 1065.0 708 1065.1 730 1065.2 736 1065.3 738 1065.4 742 1065.5 702 1065.6 697 1065.7 758 1065.8 741 1065.9 725 1066.0 712 1066.1 747 1066.1 737 1066.2 725 1066.3 713 1066.4 743 1066.5 710 1066.6 742 1066.7 712 1066.8 738 1066.9 734 1067.0 714 1067.1 721 1067.2 715 1067.3 730 1067.4 732 1067.5 707 1067.6 696 1067.7 720 1067.7 720 1067.8 740 1067.9 696 1068.0 734 1068.1 721 1068.2 705 1068.3 775 1068.4 734 1068.5 751 1068.6 736 1068.7 728 1068.8 753 1068.9 709 1069.0 688 1069.1 733 1069.2 728 1069.3 699 1069.3 721 1069.4 747 1069.5 718 1069.6 739 1069.7 706 1069.8 740 1069.9 704 1070.0 750 1070.1 732 1070.2 764 1070.3 685 1070.4 728 1070.5 734 1070.6 721 1070.7 726 1070.8 720 1070.9 689 1070.9 701 1071.0 736 1071.1 722 1071.2 729 1071.3 720 1071.4 746 1071.5 735 1071.6 755 1071.7 719 1071.8 740 1071.9 708 1072.0 726 1072.1 753 1072.2 699 1072.3 764 1072.4 679 1072.4 699 1072.5 700 1072.6 698 1072.7 707 1072.8 730 1072.9 740 1073.0 726 1073.1 770 1073.2 721 1073.3 729 1073.4 724 1073.5 736 1073.6 754 1073.7 727 1073.8 736 1073.9 735 1074.0 727 1074.0 714 1074.1 706 1074.2 749 1074.3 725 1074.4 762 1074.5 749 1074.6 748 1074.7 733 1074.8 730 1074.9 724 1075.0 729 1075.1 731 1075.2 753 1075.3 721 1075.4 746 1075.5 718 1075.6 735 1075.6 695 1075.7 746 1075.8 720 1075.9 710 1076.0 736 1076.1 734 1076.2 699 1076.3 712 1076.4 722 1076.5 738 1076.6 737 1076.7 756 1076.8 700 1076.9 727 1077.0 717 1077.1 704 1077.2 714 1077.2 730 1077.3 704 1077.4 759 1077.5 705 1077.6 719 1077.7 728 1077.8 716 1077.9 708 1078.0 739 1078.1 722 1078.2 733 1078.3 729 1078.4 713 1078.5 734 1078.6 744 1078.7 732 1078.8 700 1078.8 704 1078.9 713 1079.0 699 1079.1 729 1079.2 737 1079.3 740 1079.4 720 1079.5 719 1079.6 748 1079.7 685 1079.8 713 1079.9 754 1080.0 759 1080.1 725 1080.2 726 1080.3 749 1080.4 730 1080.4 730 1080.5 732 1080.6 709 1080.7 752 1080.8 733 1080.9 752 1081.0 729 1081.1 727 1081.2 693 1081.3 747 1081.4 727 1081.5 734 1081.6 730 1081.7 743 1081.8 752 1081.9 742 1082.0 745 1082.0 714 1082.1 734 1082.2 706 1082.3 746 1082.4 761 1082.5 740 1082.6 737 1082.7 695 1082.8 750 1082.9 716 1083.0 736 1083.1 741 1083.2 714 1083.3 740 1083.4 698 1083.5 718 1083.6 715 1083.6 733 1083.7 722 1083.8 712 1083.9 742 1084.0 730 1084.1 744 1084.2 734 1084.3 726 1084.4 761 1084.5 729 1084.6 740 1084.7 715 1084.8 750 1084.9 736 1085.0 734 1085.1 711 1085.2 730 1085.2 703 1085.3 715 1085.4 745 1085.5 752 1085.6 733 1085.7 719 1085.8 732 1085.9 747 1086.0 722 1086.1 735 1086.2 745 1086.3 726 1086.4 734 1086.5 758 1086.6 733 1086.7 723 1086.8 744 1086.8 756 1086.9 719 1087.0 712 1087.1 734 1087.2 727 1087.3 744 1087.4 730 1087.5 755 1087.6 737 1087.7 727 1087.8 742 1087.9 733 1088.0 730 1088.1 709 1088.2 740 1088.3 755 1088.3 744 1088.4 744 1088.5 724 1088.6 710 1088.7 753 1088.8 730 1088.9 723 1089.0 737 1089.1 735 1089.2 746 1089.3 712 1089.4 721 1089.5 750 1089.6 728 1089.7 753 1089.8 725 1089.9 717 1089.9 764 1090.0 738 1090.1 736 1090.2 696 1090.3 722 1090.4 720 1090.5 733 1090.6 728 1090.7 720 1090.8 728 1090.9 721 1091.0 733 1091.1 752 1091.2 726 1091.3 730 1091.4 756 1091.5 749 1091.5 741 1091.6 707 1091.7 721 1091.8 704 1091.9 769 1092.0 725 1092.1 705 1092.2 739 1092.3 723 1092.4 746 1092.5 724 1092.6 732 1092.7 755 1092.8 712 1092.9 730 1093.0 723 1093.1 759 1093.1 717 1093.2 740 1093.3 718 1093.4 749 1093.5 711 1093.6 736 1093.7 729 1093.8 739 1093.9 758 1094.0 734 1094.1 710 1094.2 710 1094.3 736 1094.4 708 1094.5 732 1094.6 749 1094.7 731 1094.7 728 1094.8 711 1094.9 765 1095.0 709 1095.1 714 1095.2 719 1095.3 752 1095.4 755 1095.5 712 1095.6 734 1095.7 712 1095.8 749 1095.9 718 1096.0 720 1096.1 751 1096.2 734 1096.3 699 1096.3 742 1096.4 710 1096.5 729 1096.6 745 1096.7 738 1096.8 746 1096.9 699 1097.0 754 1097.1 749 1097.2 728 1097.3 712 1097.4 750 1097.5 743 1097.6 733 1097.7 735 1097.8 728 1097.9 740 1097.9 729 1098.0 717 1098.1 748 1098.2 756 1098.3 742 1098.4 727 1098.5 684 1098.6 714 1098.7 720 1098.8 778 1098.9 760 1099.0 718 1099.1 739 1099.2 741 1099.3 715 1099.4 708 1099.5 719 1099.5 726 1099.6 759 1099.7 732 1099.8 714 1099.9 732 1100.0 753 1100.1 769 1100.2 735 1100.3 719 1100.4 741 1100.5 732 1100.6 722 1100.7 738 1100.8 731 1100.9 740 1101.0 742 1101.1 721 1101.1 719 1101.2 732 1101.3 753 1101.4 722 1101.5 715 1101.6 716 1101.7 717 1101.8 728 1101.9 732 1102.0 719 1102.1 718 1102.2 718 1102.3 742 1102.4 759 1102.5 722 1102.6 723 1102.7 724 1102.7 720 1102.8 754 1102.9 739 1103.0 718 1103.1 736 1103.2 731 1103.3 704 1103.4 715 1103.5 737 1103.6 724 1103.7 740 1103.8 721 1103.9 751 1104.0 756 1104.1 703 1104.2 711 1104.2 743 1104.3 720 1104.4 768 1104.5 727 1104.6 709 1104.7 715 1104.8 725 1104.9 729 1105.0 724 1105.1 693 1105.2 735 1105.3 724 1105.4 715 1105.5 742 1105.6 702 1105.7 760 1105.8 732 1105.8 735 1105.9 729 1106.0 749 1106.1 734 1106.2 723 1106.3 741 1106.4 713 1106.5 760 1106.6 730 1106.7 700 1106.8 743 1106.9 726 1107.0 733 1107.1 737 1107.2 716 1107.3 749 1107.4 719 1107.4 751 1107.5 732 1107.6 715 1107.7 737 1107.8 727 1107.9 690 1108.0 725 1108.1 723 1108.2 717 1108.3 718 1108.4 727 1108.5 732 1108.6 723 1108.7 722 1108.8 705 1108.9 727 1109.0 715 1109.0 695 1109.1 755 1109.2 731 1109.3 732 1109.4 730 1109.5 704 1109.6 732 1109.7 725 1109.8 700 1109.9 763 1110.0 749 1110.1 747 1110.2 728 1110.3 720 1110.4 743 1110.5 705 1110.6 701 1110.6 742 1110.7 738 1110.8 745 1110.9 718 1111.0 736 1111.1 713 1111.2 710 1111.3 728 1111.4 742 1111.5 770 1111.6 723 1111.7 720 1111.8 728 1111.9 743 1112.0 711 1112.1 730 1112.2 718 1112.2 716 1112.3 713 1112.4 718 1112.5 756 1112.6 723 1112.7 731 1112.8 738 1112.9 744 1113.0 745 1113.1 737 1113.2 734 1113.3 728 1113.4 761 1113.5 745 1113.6 718 1113.7 711 1113.8 734 1113.8 738 1113.9 699 1114.0 747 1114.1 712 1114.2 715 1114.3 723 1114.4 712 1114.5 718 1114.6 731 1114.7 717 1114.8 687 1114.9 726 1115.0 712 1115.1 697 1115.2 744 1115.3 729 1115.4 744 1115.4 726 1115.5 737 1115.6 709 1115.7 733 1115.8 717 1115.9 725 1116.0 721 1116.1 743 1116.2 712 1116.3 729 1116.4 731 1116.5 741 1116.6 720 1116.7 736 1116.8 740 1116.9 728 1117.0 765 1117.0 708 1117.1 735 1117.2 711 1117.3 748 1117.4 761 1117.5 743 1117.6 721 1117.7 707 1117.8 705 1117.9 709 1118.0 740 1118.1 737 1118.2 721 1118.3 715 1118.4 744 1118.5 744 1118.5 750 1118.6 708 1118.7 743 1118.8 723 1118.9 726 1119.0 719 1119.1 753 1119.2 727 1119.3 713 1119.4 717 1119.5 734 1119.6 715 1119.7 723 1119.8 733 1119.9 726 1120.0 689 1120.1 735 1120.1 753 1120.2 716 1120.3 714 1120.4 719 1120.5 729 1120.6 710 1120.7 694 1120.8 703 1120.9 762 1121.0 741 1121.1 723 1121.2 763 1121.3 698 1121.4 714 1121.5 740 1121.6 744 1121.7 707 1121.7 733 1121.8 722 1121.9 745 1122.0 746 1122.1 735 1122.2 727 1122.3 714 1122.4 736 1122.5 714 1122.6 735 1122.7 742 1122.8 735 1122.9 735 1123.0 748 1123.1 759 1123.2 719 1123.3 724 1123.3 715 1123.4 754 1123.5 734 1123.6 750 1123.7 706 1123.8 700 1123.9 718 1124.0 704 1124.1 752 1124.2 730 1124.3 724 1124.4 718 1124.5 726 1124.6 715 1124.7 722 1124.8 732 1124.9 706 1124.9 734 1125.0 714 1125.1 717 1125.2 745 1125.3 734 1125.4 691 1125.5 725 1125.6 714 1125.7 733 1125.8 707 1125.9 724 1126.0 708 1126.1 710 1126.2 739 1126.3 725 1126.4 714 1126.5 742 1126.5 724 1126.6 729 1126.7 714 1126.8 742 1126.9 718 1127.0 710 1127.1 733 1127.2 732 1127.3 713 1127.4 733 1127.5 717 1127.6 705 1127.7 747 1127.8 718 1127.9 705 1128.0 749 1128.1 722 1128.1 717 1128.2 732 1128.3 722 1128.4 743 1128.5 725 1128.6 738 1128.7 714 1128.8 726 1128.9 725 1129.0 710 1129.1 719 1129.2 736 1129.3 730 1129.4 737 1129.5 717 1129.6 704 1129.7 694 1129.7 712 1129.8 738 1129.9 714 1130.0 743 1130.1 749 1130.2 743 1130.3 721 1130.4 754 1130.5 718 1130.6 729 1130.7 699 1130.8 727 1130.9 733 1131.0 745 1131.1 740 1131.2 723 1131.3 750 1131.3 771 1131.4 736 1131.5 730 1131.6 732 1131.7 734 1131.8 742 1131.9 753 1132.0 704 1132.1 716 1132.2 722 1132.3 736 1132.4 741 1132.5 732 1132.6 718 1132.7 726 1132.8 728 1132.9 718 1132.9 739 1133.0 742 1133.1 734 1133.2 731 1133.3 698 1133.4 690 1133.5 745 1133.6 740 1133.7 727 1133.8 760 1133.9 737 1134.0 705 1134.1 740 1134.2 735 1134.3 710 1134.4 698 1134.4 731 1134.5 728 1134.6 723 1134.7 713 1134.8 757 1134.9 723 1135.0 734 1135.1 723 1135.2 717 1135.3 766 1135.4 710 1135.5 726 1135.6 733 1135.7 718 1135.8 718 1135.9 692 1136.0 714 1136.0 712 1136.1 722 1136.2 715 1136.3 741 1136.4 714 1136.5 723 1136.6 713 1136.7 712 1136.8 750 1136.9 720 1137.0 715 1137.1 710 1137.2 759 1137.3 720 1137.4 750 1137.5 739 1137.6 722 1137.6 718 1137.7 726 1137.8 733 1137.9 735 1138.0 715 1138.1 714 1138.2 726 1138.3 757 1138.4 766 1138.5 755 1138.6 737 1138.7 716 1138.8 735 1138.9 738 1139.0 731 1139.1 734 1139.2 737 1139.2 743 1139.3 741 1139.4 733 1139.5 729 1139.6 739 1139.7 716 1139.8 748 1139.9 722 1140.0 741 1140.1 720 1140.2 747 1140.3 730 1140.4 714 1140.5 716 1140.6 743 1140.7 740 1140.8 749 1140.8 736 1140.9 756 1141.0 737 1141.1 744 1141.2 732 1141.3 734 1141.4 732 1141.5 730 1141.6 715 1141.7 734 1141.8 739 1141.9 712 1142.0 781 1142.1 746 1142.2 747 1142.3 704 1142.4 719 1142.4 720 1142.5 729 1142.6 723 1142.7 706 1142.8 757 1142.9 744 1143.0 722 1143.1 743 1143.2 716 1143.3 715 1143.4 710 1143.5 755 1143.6 725 1143.7 711 1143.8 735 1143.9 711 1144.0 732 1144.0 747 1144.1 699 1144.2 751 1144.3 726 1144.4 730 1144.5 738 1144.6 737 1144.7 757 1144.8 723 1144.9 746 1145.0 697 1145.1 735 1145.2 755 1145.3 722 1145.4 714 1145.5 709 1145.6 734 1145.6 729 1145.7 730 1145.8 718 1145.9 705 1146.0 712 1146.1 734 1146.2 731 1146.3 729 1146.4 738 1146.5 746 1146.6 736 1146.7 720 1146.8 720 1146.9 746 1147.0 724 1147.1 733 1147.2 724 1147.2 717 1147.3 721 1147.4 713 1147.5 717 1147.6 715 1147.7 731 1147.8 757 1147.9 766 1148.0 732 1148.1 733 1148.2 756 1148.3 753 1148.4 767 1148.5 710 1148.6 769 1148.7 766 1148.8 721 1148.8 716 1148.9 740 1149.0 722 1149.1 721 1149.2 739 1149.3 686 1149.4 720 1149.5 722 1149.6 728 1149.7 721 1149.8 745 1149.9 730 1150.0 726 1150.1 723 1150.2 735 1150.3 725 1150.3 737 1150.4 705 1150.5 748 1150.6 752 1150.7 729 1150.8 717 1150.9 737 1151.0 727 1151.1 729 1151.2 724 1151.3 704 1151.4 746 1151.5 741 1151.6 729 1151.7 734 1151.8 723 1151.9 701 1151.9 718 1152.0 735 1152.1 715 1152.2 718 1152.3 694 1152.4 744 1152.5 722 1152.6 710 1152.7 713 1152.8 724 1152.9 738 1153.0 742 1153.1 744 1153.2 724 1153.3 719 1153.4 732 1153.5 738 1153.5 724 1153.6 753 1153.7 687 1153.8 739 1153.9 723 1154.0 727 1154.1 727 1154.2 721 1154.3 744 1154.4 695 1154.5 722 1154.6 752 1154.7 702 1154.8 715 1154.9 727 1155.0 722 1155.1 740 1155.1 691 1155.2 723 1155.3 734 1155.4 752 1155.5 742 1155.6 757 1155.7 729 1155.8 735 1155.9 741 1156.0 731 1156.1 722 1156.2 727 1156.3 737 1156.4 717 1156.5 730 1156.6 724 1156.7 730 1156.7 734 1156.8 696 1156.9 741 1157.0 758 1157.1 753 1157.2 746 1157.3 696 1157.4 677 1157.5 760 1157.6 712 1157.7 728 1157.8 694 1157.9 720 1158.0 736 1158.1 711 1158.2 723 1158.3 724 1158.3 756 1158.4 721 1158.5 723 1158.6 725 1158.7 730 1158.8 719 1158.9 729 1159.0 748 1159.1 720 1159.2 751 1159.3 722 1159.4 724 1159.5 697 1159.6 711 1159.7 707 1159.8 709 1159.9 733 1159.9 713 1160.0 711 1160.1 745 1160.2 735 1160.3 701 1160.4 698 1160.5 695 1160.6 704 1160.7 760 1160.8 740 1160.9 756 1161.0 752 1161.1 716 1161.2 736 1161.3 740 1161.4 742 1161.5 740 1161.5 747 1161.6 750 1161.7 712 1161.8 729 1161.9 757 1162.0 738 1162.1 729 1162.2 742 1162.3 720 1162.4 737 1162.5 722 1162.6 718 1162.7 726 1162.8 734 1162.9 718 1163.0 712 1163.1 704 1163.1 720 1163.2 752 1163.3 703 1163.4 753 1163.5 745 1163.6 690 1163.7 722 1163.8 692 1163.9 726 1164.0 729 1164.1 765 1164.2 728 1164.3 716 1164.4 722 1164.5 685 1164.6 713 1164.7 718 1164.7 708 1164.8 718 1164.9 716 1165.0 738 1165.1 758 1165.2 731 1165.3 734 1165.4 723 1165.5 714 1165.6 727 1165.7 749 1165.8 723 1165.9 712 1166.0 745 1166.1 712 1166.2 739 1166.2 736 1166.3 703 1166.4 729 1166.5 712 1166.6 714 1166.7 722 1166.8 695 1166.9 715 1167.0 708 1167.1 718 1167.2 755 1167.3 759 1167.4 732 1167.5 723 1167.6 697 1167.7 709 1167.8 733 1167.8 725 1167.9 722 1168.0 718 1168.1 719 1168.2 739 1168.3 716 1168.4 718 1168.5 731 1168.6 698 1168.7 711 1168.8 704 1168.9 727 1169.0 764 1169.1 713 1169.2 743 1169.3 746 1169.4 748 1169.4 753 1169.5 730 1169.6 749 1169.7 757 1169.8 753 1169.9 741 1170.0 755 1170.1 745 1170.2 721 1170.3 743 1170.4 736 1170.5 728 1170.6 770 1170.7 714 1170.8 707 1170.9 765 1171.0 735 1171.0 723 1171.1 735 1171.2 722 1171.3 735 1171.4 734 1171.5 720 1171.6 729 1171.7 720 1171.8 741 1171.9 737 1172.0 737 1172.1 727 1172.2 715 1172.3 737 1172.4 740 1172.5 746 1172.6 717 1172.6 735 1172.7 744 1172.8 726 1172.9 731 1173.0 716 1173.1 726 1173.2 724 1173.3 740 1173.4 743 1173.5 705 1173.6 732 1173.7 749 1173.8 715 1173.9 720 1174.0 724 1174.1 736 1174.2 723 1174.2 722 1174.3 757 1174.4 721 1174.5 748 1174.6 695 1174.7 711 1174.8 739 1174.9 734 1175.0 731 1175.1 738 1175.2 735 1175.3 747 1175.4 700 1175.5 720 1175.6 730 1175.7 708 1175.8 735 1175.8 674 1175.9 741 1176.0 698 1176.1 748 1176.2 739 1176.3 734 1176.4 702 1176.5 735 1176.6 719 1176.7 768 1176.8 756 1176.9 726 1177.0 736 1177.1 710 1177.2 728 1177.3 713 1177.4 729 1177.4 747 1177.5 706 1177.6 751 1177.7 755 1177.8 723 1177.9 740 1178.0 738 1178.1 740 1178.2 713 1178.3 752 1178.4 757 1178.5 736 1178.6 757 1178.7 729 1178.8 722 1178.9 706 1179.0 740 1179.0 753 1179.1 741 1179.2 708 1179.3 723 1179.4 694 1179.5 736 1179.6 728 1179.7 699 1179.8 737 1179.9 738 1180.0 723 1180.1 721 1180.2 721 1180.3 729 1180.4 721 1180.5 724 1180.6 740 1180.6 716 1180.7 709 1180.8 704 1180.9 740 1181.0 743 1181.1 747 1181.2 741 1181.3 756 1181.4 731 1181.5 691 1181.6 732 1181.7 725 1181.8 741 1181.9 729 1182.0 731 1182.1 722 1182.1 725 1182.2 746 1182.3 709 1182.4 701 1182.5 737 1182.6 731 1182.7 733 1182.8 719 1182.9 701 1183.0 737 1183.1 741 1183.2 682 1183.3 713 1183.4 710 1183.5 740 1183.6 713 1183.7 707 1183.7 729 1183.8 747 1183.9 683 1184.0 719 1184.1 741 1184.2 735 1184.3 723 1184.4 741 1184.5 741 1184.6 737 1184.7 717 1184.8 714 1184.9 721 1185.0 735 1185.1 711 1185.2 721 1185.3 747 1185.3 721 1185.4 724 1185.5 740 1185.6 734 1185.7 751 1185.8 740 1185.9 735 1186.0 726 1186.1 718 1186.2 718 1186.3 728 1186.4 736 1186.5 743 1186.6 727 1186.7 712 1186.8 715 1186.9 758 1186.9 722 1187.0 731 1187.1 719 1187.2 721 1187.3 704 1187.4 702 1187.5 713 1187.6 722 1187.7 746 1187.8 704 1187.9 724 1188.0 711 1188.1 732 1188.2 714 1188.3 700 1188.4 718 1188.5 731 1188.5 711 1188.6 726 1188.7 750 1188.8 712 1188.9 745 1189.0 735 1189.1 701 1189.2 704 1189.3 729 1189.4 738 1189.5 730 1189.6 714 1189.7 741 1189.8 721 1189.9 763 1190.0 716 1190.1 752 1190.1 748 1190.2 720 1190.3 721 1190.4 735 1190.5 743 1190.6 704 1190.7 759 1190.8 730 1190.9 733 1191.0 727 1191.1 739 1191.2 731 1191.3 732 1191.4 744 1191.5 730 1191.6 727 1191.7 728 1191.7 714 1191.8 741 1191.9 716 1192.0 728 1192.1 733 1192.2 700 1192.3 715 1192.4 747 1192.5 723 1192.6 718 1192.7 699 1192.8 730 1192.9 732 1193.0 730 1193.1 709 1193.2 746 1193.3 747 1193.3 749 1193.4 734 1193.5 720 1193.6 739 1193.7 699 1193.8 716 1193.9 737 1194.0 739 1194.1 737 1194.2 728 1194.3 761 1194.4 717 1194.5 711 1194.6 758 1194.7 758 1194.8 739 1194.9 735 1194.9 737 1195.0 755 1195.1 738 1195.2 751 1195.3 746 1195.4 725 1195.5 759 1195.6 724 1195.7 753 1195.8 754 1195.9 750 1196.0 737 1196.1 714 1196.2 726 1196.3 711 1196.4 691 1196.5 742 1196.5 740 1196.6 729 1196.7 761 1196.8 712 1196.9 734 1197.0 723 1197.1 735 1197.2 724 1197.3 759 1197.4 702 1197.5 738 1197.6 739 1197.7 703 1197.8 724 1197.9 715 1198.0 729 1198.0 692 1198.1 729 1198.2 745 1198.3 724 1198.4 742 1198.5 724 1198.6 727 1198.7 715 1198.8 717 1198.9 718 1199.0 706 1199.1 715 1199.2 742 1199.3 729 1199.4 733 1199.5 677 1199.6 704 1199.6 716 1199.7 741 1199.8 720 1199.9 692 1200.0 722 1200.1 735 1200.2 709 1200.3 735 1200.4 718 1200.5 724 1200.6 733 1200.7 695 1200.8 755 1200.9 710 1201.0 720 1201.1 720 1201.2 728 1201.2 700 1201.3 720 1201.4 787 1201.5 720 1201.6 731 1201.7 719 1201.8 718 1201.9 740 1202.0 735 1202.1 734 1202.2 727 1202.3 718 1202.4 705 1202.5 728 1202.6 737 1202.7 741 1202.8 730 1202.8 712 1202.9 737 1203.0 721 1203.1 736 1203.2 736 1203.3 725 1203.4 722 1203.5 716 1203.6 724 1203.7 741 1203.8 740 1203.9 762 1204.0 750 1204.1 743 1204.2 710 1204.3 737 1204.4 710 1204.4 741 1204.5 720 1204.6 726 1204.7 727 1204.8 741 1204.9 728 1205.0 708 1205.1 728 1205.2 745 1205.3 747 1205.4 730 1205.5 739 1205.6 736 1205.7 736 1205.8 708 1205.9 724 1206.0 739 1206.0 742 1206.1 733 1206.2 694 1206.3 733 1206.4 769 1206.5 734 1206.6 721 1206.7 741 1206.8 726 1206.9 694 1207.0 710 1207.1 712 1207.2 750 1207.3 734 1207.4 731 1207.5 729 1207.6 697 1207.6 704 1207.7 732 1207.8 720 1207.9 745 1208.0 713 1208.1 759 1208.2 711 1208.3 746 1208.4 699 1208.5 708 1208.6 733 1208.7 733 1208.8 747 1208.9 744 1209.0 744 1209.1 742 1209.2 718 1209.2 737 1209.3 715 1209.4 734 1209.5 725 1209.6 722 1209.7 726 1209.8 746 1209.9 712 1210.0 747 1210.1 720 1210.2 721 1210.3 733 1210.4 728 1210.5 723 1210.6 694 1210.7 723 1210.8 738 1210.8 710 1210.9 706 1211.0 725 1211.1 710 1211.2 702 1211.3 761 1211.4 714 1211.5 735 1211.6 740 1211.7 735 1211.8 729 1211.9 744 1212.0 736 1212.1 748 1212.2 725 1212.3 723 1212.4 737 1212.4 730 1212.5 703 1212.6 745 1212.7 707 1212.8 709 1212.9 719 1213.0 710 1213.1 755 1213.2 700 1213.3 742 1213.4 703 1213.5 703 1213.6 733 1213.7 713 1213.8 715 1213.9 720 1213.9 724 1214.0 717 1214.1 749 1214.2 753 1214.3 705 1214.4 747 1214.5 744 1214.6 718 1214.7 732 1214.8 731 1214.9 727 1215.0 700 1215.1 717 1215.2 725 1215.3 690 1215.4 719 1215.5 724 1215.5 711 1215.6 732 1215.7 747 1215.8 740 1215.9 733 1216.0 700 1216.1 707 1216.2 763 1216.3 750 1216.4 728 1216.5 725 1216.6 727 1216.7 735 1216.8 709 1216.9 723 1217.0 744 1217.1 727 1217.1 715 1217.2 712 1217.3 731 1217.4 742 1217.5 694 1217.6 732 1217.7 722 1217.8 737 1217.9 686 1218.0 700 1218.1 735 1218.2 714 1218.3 731 1218.4 715 1218.5 720 1218.6 718 1218.7 698 1218.7 745 1218.8 722 1218.9 744 1219.0 715 1219.1 744 1219.2 697 1219.3 719 1219.4 760 1219.5 726 1219.6 754 1219.7 725 1219.8 731 1219.9 755 1220.0 733 1220.1 727 1220.2 713 1220.3 747 1220.3 710 1220.4 726 1220.5 741 1220.6 724 1220.7 738 1220.8 730 1220.9 712 1221.0 709 1221.1 714 1221.2 748 1221.3 736 1221.4 723 1221.5 728 1221.6 728 1221.7 738 1221.8 752 1221.9 744 1221.9 771 1222.0 730 1222.1 716 1222.2 745 1222.3 711 1222.4 724 1222.5 744 1222.6 725 1222.7 720 1222.8 725 1222.9 735 1223.0 725 1223.1 732 1223.2 717 1223.3 740 1223.4 728 1223.5 737 1223.5 718 1223.6 705 1223.7 745 1223.8 736 1223.9 744 1224.0 728 1224.1 715 1224.2 701 1224.3 734 1224.4 716 1224.5 726 1224.6 723 1224.7 741 1224.8 746 1224.9 725 1225.0 718 1225.1 735 1225.1 716 1225.2 739 1225.3 714 1225.4 719 1225.5 729 1225.6 731 1225.7 715 1225.8 714 1225.9 725 1226.0 738 1226.1 705 1226.2 712 1226.3 752 1226.4 736 1226.5 719 1226.6 718 1226.7 748 1226.7 731 1226.8 731 1226.9 693 1227.0 733 1227.1 725 1227.2 737 1227.3 715 1227.4 732 1227.5 721 1227.6 762 1227.7 720 1227.8 717 1227.9 715 1228.0 756 1228.1 732 1228.2 712 1228.2 726 1228.3 729 1228.4 731 1228.5 732 1228.6 729 1228.7 727 1228.8 721 1228.9 739 1229.0 739 1229.1 725 1229.2 710 1229.3 722 1229.4 699 1229.5 762 1229.6 730 1229.7 726 1229.8 744 1229.8 733 1229.9 719 1230.0 704 1230.1 742 1230.2 703 1230.3 717 1230.4 707 1230.5 717 1230.6 730 1230.7 687 1230.8 740 1230.9 717 1231.0 740 1231.1 717 1231.2 734 1231.3 711 1231.4 688 1231.4 713 1231.5 711 1231.6 742 1231.7 744 1231.8 754 1231.9 740 1232.0 742 1232.1 716 1232.2 708 1232.3 738 1232.4 731 1232.5 749 1232.6 732 1232.7 717 1232.8 713 1232.9 739 1233.0 710 1233.0 719 1233.1 722 1233.2 712 1233.3 736 1233.4 743 1233.5 717 1233.6 702 1233.7 702 1233.8 787 1233.9 724 1234.0 736 1234.1 754 1234.2 729 1234.3 729 1234.4 715 1234.5 763 1234.6 749 1234.6 736 1234.7 700 1234.8 698 1234.9 711 1235.0 709 1235.1 734 1235.2 726 1235.3 722 1235.4 730 1235.5 742 1235.6 713 1235.7 706 1235.8 756 1235.9 730 1236.0 692 1236.1 741 1236.2 739 1236.2 741 1236.3 757 1236.4 700 1236.5 708 1236.6 726 1236.7 686 1236.8 754 1236.9 727 1237.0 722 1237.1 737 1237.2 725 1237.3 723 1237.4 736 1237.5 711 1237.6 701 1237.7 739 1237.8 733 1237.8 742 1237.9 766 1238.0 740 1238.1 731 1238.2 704 1238.3 740 1238.4 740 1238.5 706 1238.6 737 1238.7 719 1238.8 739 1238.9 776 1239.0 745 1239.1 748 1239.2 722 1239.3 728 1239.4 677 1239.4 746 1239.5 735 1239.6 727 1239.7 681 1239.8 746 1239.9 692 1240.0 746 1240.1 736 1240.2 699 1240.3 743 1240.4 745 1240.5 729 1240.6 713 1240.7 745 1240.8 720 1240.9 741 1241.0 753 1241.0 724 1241.1 695 1241.2 709 1241.3 742 1241.4 745 1241.5 719 1241.6 715 1241.7 746 1241.8 703 1241.9 729 1242.0 716 1242.1 709 1242.2 705 1242.3 719 1242.4 729 1242.5 741 1242.6 726 1242.6 698 1242.7 741 1242.8 745 1242.9 759 1243.0 719 1243.1 732 1243.2 747 1243.3 715 1243.4 722 1243.5 727 1243.6 745 1243.7 723 1243.8 753 1243.9 735 1244.0 714 1244.1 721 1244.1 740 1244.2 737 1244.3 736 1244.4 743 1244.5 735 1244.6 739 1244.7 743 1244.8 724 1244.9 755 1245.0 748 1245.1 744 1245.2 739 1245.3 759 1245.4 711 1245.5 697 1245.6 683 1245.7 751 1245.7 730 1245.8 737 1245.9 731 1246.0 712 1246.1 729 1246.2 751 1246.3 725 1246.4 690 1246.5 721 1246.6 695 1246.7 723 1246.8 715 1246.9 692 1247.0 744 1247.1 695 1247.2 698 1247.3 730 1247.3 707 1247.4 728 1247.5 715 1247.6 722 1247.7 739 1247.8 694 1247.9 695 1248.0 721 1248.1 707 1248.2 709 1248.3 728 1248.4 694 1248.5 711 1248.6 748 1248.7 766 1248.8 735 1248.9 720 1248.9 726 1249.0 730 1249.1 741 1249.2 734 1249.3 709 1249.4 713 1249.5 733 1249.6 738 1249.7 713 1249.8 740 1249.9 720 1250.0 721 1250.1 742 1250.2 730 1250.3 725 1250.4 740 1250.5 752 1250.5 730 1250.6 732 1250.7 715 1250.8 726 1250.9 720 1251.0 767 1251.1 748 1251.2 722 1251.3 716 1251.4 753 1251.5 732 1251.6 705 1251.7 748 1251.8 756 1251.9 731 1252.0 702 1252.1 723 1252.1 718 1252.2 710 1252.3 735 1252.4 727 1252.5 742 1252.6 723 1252.7 725 1252.8 723 1252.9 733 1253.0 715 1253.1 738 1253.2 718 1253.3 702 1253.4 734 1253.5 721 1253.6 744 1253.7 734 1253.7 714 1253.8 743 1253.9 738 1254.0 758 1254.1 742 1254.2 713 1254.3 710 1254.4 716 1254.5 746 1254.6 731 1254.7 713 1254.8 716 1254.9 722 1255.0 709 1255.1 743 1255.2 720 1255.3 718 1255.3 743 1255.4 736 1255.5 703 1255.6 718 1255.7 747 1255.8 729 1255.9 729 1256.0 730 1256.1 711 1256.2 711 1256.3 703 1256.4 745 1256.5 711 1256.6 742 1256.7 710 1256.8 714 1256.9 699 1256.9 712 1257.0 728 1257.1 719 1257.2 711 1257.3 754 1257.4 743 1257.5 723 1257.6 716 1257.7 715 1257.8 745 1257.9 705 1258.0 727 1258.1 717 1258.2 719 1258.3 737 1258.4 744 1258.5 695 1258.5 725 1258.6 697 1258.7 745 1258.8 738 1258.9 741 1259.0 710 1259.1 729 1259.2 742 1259.3 713 1259.4 744 1259.5 755 1259.6 741 1259.7 744 1259.8 744 1259.9 738 1260.0 753 1260.0 729 1260.1 742 1260.2 722 1260.3 722 1260.4 727 1260.5 738 1260.6 732 1260.7 739 1260.8 732 1260.9 714 1261.0 710 1261.1 705 1261.2 725 1261.3 710 1261.4 755 1261.5 703 1261.6 711 1261.6 742 1261.7 725 1261.8 722 1261.9 734 1262.0 737 1262.1 737 1262.2 728 1262.3 734 1262.4 744 1262.5 721 1262.6 718 1262.7 723 1262.8 719 1262.9 695 1263.0 716 1263.1 729 1263.2 738 1263.2 722 1263.3 710 1263.4 740 1263.5 718 1263.6 740 1263.7 754 1263.8 736 1263.9 702 1264.0 726 1264.1 747 1264.2 721 1264.3 718 1264.4 720 1264.5 747 1264.6 712 1264.7 739 1264.8 695 1264.8 755 1264.9 742 1265.0 733 1265.1 748 1265.2 730 1265.3 745 1265.4 746 1265.5 719 1265.6 757 1265.7 714 1265.8 728 1265.9 756 1266.0 714 1266.1 703 1266.2 733 1266.3 699 1266.4 721 1266.4 722 1266.5 710 1266.6 742 1266.7 716 1266.8 736 1266.9 725 1267.0 724 1267.1 748 1267.2 727 1267.3 740 1267.4 725 1267.5 727 1267.6 748 1267.7 743 1267.8 701 1267.9 699 1268.0 730 1268.0 721 1268.1 720 1268.2 746 1268.3 710 1268.4 726 1268.5 731 1268.6 706 1268.7 723 1268.8 752 1268.9 736 1269.0 738 1269.1 743 1269.2 740 1269.3 739 1269.4 738 1269.5 699 1269.6 724 1269.6 713 1269.7 710 1269.8 700 1269.9 724 1270.0 726 1270.1 721 1270.2 747 1270.3 737 1270.4 706 1270.5 715 1270.6 730 1270.7 737 1270.8 720 1270.9 756 1271.0 744 1271.1 699 1271.2 721 1271.2 725 1271.3 739 1271.4 731 1271.5 743 1271.6 721 1271.7 722 1271.8 729 1271.9 702 1272.0 717 1272.1 752 1272.2 715 1272.3 695 1272.4 727 1272.5 706 1272.6 720 1272.7 739 1272.8 737 1272.8 734 1272.9 750 1273.0 728 1273.1 740 1273.2 699 1273.3 725 1273.4 746 1273.5 748 1273.6 705 1273.7 727 1273.8 747 1273.9 736 1274.0 722 1274.1 725 1274.2 692 1274.3 719 1274.4 735 1274.4 760 1274.5 717 1274.6 718 1274.7 728 1274.8 710 1274.9 725 1275.0 721 1275.1 689 1275.2 745 1275.3 710 1275.4 709 1275.5 736 1275.6 679 1275.7 752 1275.8 717 1275.9 743 1275.9 745 1276.0 725 1276.1 731 1276.2 717 1276.3 726 1276.4 734 1276.5 732 1276.6 740 1276.7 722 1276.8 707 1276.9 729 1277.0 730 1277.1 724 1277.2 755 1277.3 758 1277.4 732 1277.5 710 1277.5 703 1277.6 708 1277.7 724 1277.8 733 1277.9 726 1278.0 736 1278.1 726 1278.2 719 1278.3 731 1278.4 755 1278.5 701 1278.6 686 1278.7 740 1278.8 744 1278.9 706 1279.0 751 1279.1 743 1279.1 718 1279.2 686 1279.3 708 1279.4 748 1279.5 692 1279.6 741 1279.7 716 1279.8 752 1279.9 717 1280.0 719 1280.1 749 1280.2 748 1280.3 711 1280.4 714 1280.5 741 1280.6 727 1280.7 718 1280.7 743 1280.8 755 1280.9 726 1281.0 726 1281.1 718 1281.2 739 1281.3 740 1281.4 739 1281.5 727 1281.6 704 1281.7 724 1281.8 738 1281.9 703 1282.0 730 1282.1 711 1282.2 699 1282.3 696 1282.3 737 1282.4 742 1282.5 742 1282.6 724 1282.7 709 1282.8 747 1282.9 734 1283.0 732 1283.1 737 1283.2 718 1283.3 697 1283.4 734 1283.5 736 1283.6 739 1283.7 731 1283.8 714 1283.9 735 1283.9 705 1284.0 728 1284.1 744 1284.2 731 1284.3 718 1284.4 729 1284.5 745 1284.6 719 1284.7 741 1284.8 734 1284.9 714 1285.0 714 1285.1 719 1285.2 739 1285.3 701 1285.4 733 1285.5 681 1285.5 739 1285.6 742 1285.7 730 1285.8 711 1285.9 746 1286.0 722 1286.1 744 1286.2 728 1286.3 711 1286.4 711 1286.5 740 1286.6 724 1286.7 719 1286.8 737 1286.9 735 1287.0 727 1287.1 722 1287.1 724 1287.2 677 1287.3 735 1287.4 730 1287.5 707 1287.6 718 1287.7 765 1287.8 729 1287.9 709 1288.0 726 1288.1 737 1288.2 723 1288.3 703 1288.4 719 1288.5 738 1288.6 741 1288.7 748 1288.7 720 1288.8 706 1288.9 717 1289.0 702 1289.1 732 1289.2 695 1289.3 747 1289.4 707 1289.5 728 1289.6 729 1289.7 740 1289.8 733 1289.9 712 1290.0 738 1290.1 720 1290.2 737 1290.3 756 1290.3 715 1290.4 736 1290.5 727 1290.6 700 1290.7 700 1290.8 740 1290.9 725 1291.0 708 1291.1 730 1291.2 749 1291.3 706 1291.4 690 1291.5 714 1291.6 733 1291.7 743 1291.8 737 1291.8 733 1291.9 732 1292.0 742 1292.1 738 1292.2 713 1292.3 730 1292.4 725 1292.5 724 1292.6 705 1292.7 704 1292.8 724 1292.9 751 1293.0 704 1293.1 715 1293.2 731 1293.3 706 1293.4 722 1293.4 732 1293.5 691 1293.6 695 1293.7 773 1293.8 703 1293.9 729 1294.0 695 1294.1 747 1294.2 718 1294.3 735 1294.4 727 1294.5 727 1294.6 717 1294.7 744 1294.8 736 1294.9 723 1295.0 742 1295.0 724 1295.1 747 1295.2 726 1295.3 749 1295.4 756 1295.5 732 1295.6 704 1295.7 714 1295.8 705 1295.9 719 1296.0 727 1296.1 716 1296.2 746 1296.3 728 1296.4 741 1296.5 706 1296.6 720 1296.6 736 1296.7 726 1296.8 711 1296.9 728 1297.0 723 1297.1 718 1297.2 727 1297.3 687 1297.4 720 1297.5 737 1297.6 736 1297.7 685 1297.8 722 1297.9 744 1298.0 755 1298.1 715 1298.2 682 1298.2 715 1298.3 730 1298.4 705 1298.5 730 1298.6 730 1298.7 729 1298.8 734 1298.9 749 1299.0 722 1299.1 689 1299.2 749 1299.3 744 1299.4 716 1299.5 730 1299.6 727 1299.7 720 1299.8 714 1299.8 722 1299.9 713 1300.0 712 1300.1 733 1300.2 709 1300.3 723 1300.4 743 1300.5 698 1300.6 735 1300.7 713 1300.8 734 1300.9 706 1301.0 750 1301.1 731 1301.2 731 1301.3 735 1301.4 688 1301.4 750 1301.5 738 1301.6 731 1301.7 702 1301.8 724 1301.9 740 1302.0 721 1302.1 736 1302.2 733 1302.3 690 1302.4 737 1302.5 727 1302.6 722 1302.7 758 1302.8 727 1302.9 749 1303.0 765 1303.0 719 1303.1 727 1303.2 716 1303.3 759 1303.4 696 1303.5 702 1303.6 742 1303.7 720 1303.8 733 1303.9 714 1304.0 721 1304.1 724 1304.2 723 1304.3 737 1304.4 741 1304.5 733 1304.6 715 1304.6 731 1304.7 723 1304.8 743 1304.9 724 1305.0 715 1305.1 725 1305.2 742 1305.3 699 1305.4 715 1305.5 740 1305.6 710 1305.7 730 1305.8 716 1305.9 729 1306.0 753 1306.1 732 1306.2 687 1306.2 703 1306.3 723 1306.4 735 1306.5 745 1306.6 734 1306.7 714 1306.8 706 1306.9 695 1307.0 750 1307.1 739 1307.2 718 1307.3 738 1307.4 713 1307.5 739 1307.6 715 1307.7 737 1307.7 701 1307.8 729 1307.9 736 1308.0 716 1308.1 735 1308.2 668 1308.3 718 1308.4 727 1308.5 756 1308.6 710 1308.7 708 1308.8 743 1308.9 740 1309.0 713 1309.1 701 1309.2 752 1309.3 745 1309.3 717 1309.4 697 1309.5 748 1309.6 724 1309.7 697 1309.8 730 1309.9 709 1310.0 711 1310.1 723 1310.2 746 1310.3 715 1310.4 720 1310.5 707 1310.6 747 1310.7 713 1310.8 685 1310.9 727 1310.9 750 1311.0 721 1311.1 752 1311.2 725 1311.3 715 1311.4 718 1311.5 702 1311.6 733 1311.7 720 1311.8 714 1311.9 729 1312.0 731 1312.1 717 1312.2 722 1312.3 728 1312.4 730 1312.5 725 1312.5 722 1312.6 715 1312.7 756 1312.8 736 1312.9 733 1313.0 707 1313.1 710 1313.2 735 1313.3 738 1313.4 730 1313.5 722 1313.6 741 1313.7 742 1313.8 732 1313.9 718 1314.0 704 1314.1 710 1314.1 742 1314.2 749 1314.3 702 1314.4 752 1314.5 731 1314.6 736 1314.7 711 1314.8 722 1314.9 723 1315.0 719 1315.1 743 1315.2 726 1315.3 731 1315.4 705 1315.5 740 1315.6 736 1315.7 670 1315.7 724 1315.8 709 1315.9 726 1316.0 729 1316.1 729 1316.2 751 1316.3 750 1316.4 741 1316.5 731 1316.6 724 1316.7 740 1316.8 731 1316.9 740 1317.0 719 1317.1 739 1317.2 727 1317.3 726 1317.3 751 1317.4 728 1317.5 750 1317.6 693 1317.7 737 1317.8 728 1317.9 753 1318.0 724 1318.1 706 1318.2 725 1318.3 732 1318.4 718 1318.5 720 1318.6 707 1318.7 742 1318.8 704 1318.9 723 1318.9 704 1319.0 719 1319.1 727 1319.2 702 1319.3 738 1319.4 729 1319.5 742 1319.6 709 1319.7 710 1319.8 698 1319.9 745 1320.0 722 1320.1 742 1320.2 714 1320.3 734 1320.4 751 1320.5 690 1320.5 708 1320.6 695 1320.7 700 1320.8 712 1320.9 723 1321.0 713 1321.1 723 1321.2 725 1321.3 761 1321.4 716 1321.5 718 1321.6 737 1321.7 716 1321.8 723 1321.9 745 1322.0 712 1322.1 740 1322.1 703 1322.2 708 1322.3 719 1322.4 739 1322.5 723 1322.6 719 1322.7 741 1322.8 728 1322.9 735 1323.0 740 1323.1 700 1323.2 724 1323.3 730 1323.4 738 1323.5 703 1323.6 743 1323.6 696 1323.7 703 1323.8 759 1323.9 735 1324.0 694 1324.1 723 1324.2 736 1324.3 713 1324.4 730 1324.5 718 1324.6 736 1324.7 710 1324.8 709 1324.9 712 1325.0 740 1325.1 735 1325.2 736 1325.2 680 1325.3 743 1325.4 725 1325.5 752 1325.6 703 1325.7 748 1325.8 732 1325.9 721 1326.0 735 1326.1 695 1326.2 722 1326.3 707 1326.4 722 1326.5 721 1326.6 705 1326.7 718 1326.8 735 1326.8 741 1326.9 697 1327.0 720 1327.1 719 1327.2 715 1327.3 700 1327.4 720 1327.5 742 1327.6 747 1327.7 725 1327.8 751 1327.9 708 1328.0 700 1328.1 760 1328.2 733 1328.3 741 1328.4 682 1328.4 737 1328.5 701 1328.6 692 1328.7 725 1328.8 720 1328.9 703 1329.0 767 1329.1 733 1329.2 731 1329.3 756 1329.4 748 1329.5 724 1329.6 729 1329.7 766 1329.8 719 1329.9 714 1330.0 717 1330.0 735 1330.1 754 1330.2 737 1330.3 733 1330.4 733 1330.5 744 1330.6 732 1330.7 745 1330.8 750 1330.9 712 1331.0 736 1331.1 747 1331.2 719 1331.3 728 1331.4 742 1331.5 732 1331.6 711 1331.6 746 1331.7 722 1331.8 706 1331.9 720 1332.0 709 1332.1 752 1332.2 731 1332.3 693 1332.4 721 1332.5 703 1332.6 730 1332.7 719 1332.8 714 1332.9 704 1333.0 727 1333.1 707 1333.2 742 1333.2 749 1333.3 745 1333.4 726 1333.5 732 1333.6 746 1333.7 731 1333.8 724 1333.9 712 1334.0 722 1334.1 750 1334.2 735 1334.3 709 1334.4 707 1334.5 743 1334.6 727 1334.7 739 1334.8 739 1334.8 734 1334.9 722 1335.0 725 1335.1 736 1335.2 745 1335.3 739 1335.4 683 1335.5 720 1335.6 689 1335.7 699 1335.8 712 1335.9 723 1336.0 751 1336.1 721 1336.2 693 1336.3 746 1336.4 733 1336.4 704 1336.5 725 1336.6 707 1336.7 726 1336.8 719 1336.9 729 1337.0 731 1337.1 728 1337.2 716 1337.3 727 1337.4 760 1337.5 725 1337.6 700 1337.7 730 1337.8 749 1337.9 731 1337.9 750 1338.0 706 1338.1 722 1338.2 721 1338.3 731 1338.4 717 1338.5 727 1338.6 704 1338.7 715 1338.8 750 1338.9 744 1339.0 730 1339.1 718 1339.2 732 1339.3 746 1339.4 742 1339.5 732 1339.5 703 1339.6 744 1339.7 738 1339.8 722 1339.9 725 1340.0 720 1340.1 720 1340.2 716 1340.3 708 1340.4 732 1340.5 702 1340.6 727 1340.7 733 1340.8 734 1340.9 713 1341.0 708 1341.1 739 1341.1 713 1341.2 719 1341.3 740 1341.4 726 1341.5 714 1341.6 698 1341.7 721 1341.8 732 1341.9 734 1342.0 735 1342.1 708 1342.2 738 1342.3 730 1342.4 737 1342.5 721 1342.6 714 1342.7 705 1342.7 699 1342.8 728 1342.9 737 1343.0 708 1343.1 717 1343.2 722 1343.3 727 1343.4 718 1343.5 740 1343.6 733 1343.7 726 1343.8 718 1343.9 715 1344.0 731 1344.1 723 1344.2 721 1344.3 710 1344.3 714 1344.4 736 1344.5 712 1344.6 687 1344.7 749 1344.8 713 1344.9 730 1345.0 747 1345.1 717 1345.2 704 1345.3 743 1345.4 721 1345.5 704 1345.6 731 1345.7 717 1345.8 721 1345.9 748 1345.9 709 1346.0 731 1346.1 708 1346.2 746 1346.3 747 1346.4 734 1346.5 693 1346.6 717 1346.7 714 1346.8 733 1346.9 750 1347.0 755 1347.1 741 1347.2 719 1347.3 694 1347.4 751 1347.5 759 1347.5 710 1347.6 705 1347.7 721 1347.8 742 1347.9 704 1348.0 740 1348.1 681 1348.2 728 1348.3 737 1348.4 735 1348.5 681 1348.6 713 1348.7 716 1348.8 743 1348.9 719 1349.0 726 1349.1 700 1349.1 737 1349.2 699 1349.3 740 1349.4 739 1349.5 721 1349.6 722 1349.7 753 1349.8 750 1349.9 741 1350.0 714 1350.1 707 1350.2 711 1350.3 718 1350.4 714 1350.5 735 1350.6 722 1350.7 730 1350.7 733 1350.8 693 1350.9 725 1351.0 706 1351.1 743 1351.2 730 1351.3 736 1351.4 732 1351.5 728 1351.6 719 1351.7 724 1351.8 734 1351.9 698 1352.0 738 1352.1 707 1352.2 734 1352.3 743 1352.3 704 1352.4 748 1352.5 741 1352.6 716 1352.7 731 1352.8 746 1352.9 723 1353.0 702 1353.1 715 1353.2 721 1353.3 715 1353.4 734 1353.5 710 1353.6 726 1353.7 750 1353.8 739 1353.8 725 1353.9 724 1354.0 728 1354.1 743 1354.2 721 1354.3 741 1354.4 757 1354.5 735 1354.6 704 1354.7 707 1354.8 726 1354.9 709 1355.0 716 1355.1 736 1355.2 712 1355.3 727 1355.4 728 1355.4 713 1355.5 739 1355.6 717 1355.7 701 1355.8 704 1355.9 725 1356.0 705 1356.1 747 1356.2 714 1356.3 733 1356.4 703 1356.5 724 1356.6 720 1356.7 718 1356.8 741 1356.9 773 1357.0 737 1357.0 725 1357.1 699 1357.2 725 1357.3 713 1357.4 725 1357.5 722 1357.6 712 1357.7 728 1357.8 707 1357.9 692 1358.0 702 1358.1 738 1358.2 709 1358.3 711 1358.4 705 1358.5 727 1358.6 703 1358.6 718 1358.7 730 1358.8 707 1358.9 727 1359.0 748 1359.1 722 1359.2 746 1359.3 735 1359.4 722 1359.5 760 1359.6 736 1359.7 731 1359.8 741 1359.9 741 1360.0 753 1360.1 739 1360.2 740 1360.2 717 1360.3 728 1360.4 707 1360.5 713 1360.6 719 1360.7 714 1360.8 735 1360.9 696 1361.0 709 1361.1 728 1361.2 727 1361.3 727 1361.4 743 1361.5 711 1361.6 743 1361.7 717 1361.8 721 1361.8 729 1361.9 717 1362.0 714 1362.1 747 1362.2 760 1362.3 735 1362.4 716 1362.5 721 1362.6 720 1362.7 721 1362.8 702 1362.9 742 1363.0 729 1363.1 685 1363.2 750 1363.3 751 1363.4 737 1363.4 726 1363.5 720 1363.6 728 1363.7 713 1363.8 700 1363.9 725 1364.0 746 1364.1 732 1364.2 729 1364.3 719 1364.4 743 1364.5 705 1364.6 723 1364.7 703 1364.8 736 1364.9 736 1365.0 681 1365.0 761 1365.1 733 1365.2 731 1365.3 737 1365.4 745 1365.5 710 1365.6 734 1365.7 738 1365.8 722 1365.9 731 1366.0 747 1366.1 751 1366.2 726 1366.3 713 1366.4 726 1366.5 717 1366.6 716 1366.6 743 1366.7 713 1366.8 723 1366.9 690 1367.0 716 1367.1 738 1367.2 726 1367.3 762 1367.4 737 1367.5 720 1367.6 719 1367.7 713 1367.8 733 1367.9 741 1368.0 737 1368.1 744 1368.2 699 1368.2 744 1368.3 747 1368.4 694 1368.5 733 1368.6 715 1368.7 720 1368.8 736 1368.9 725 1369.0 704 1369.1 733 1369.2 759 1369.3 765 1369.4 747 1369.5 731 1369.6 713 1369.7 709 1369.7 705 1369.8 707 1369.9 696 1370.0 728 1370.1 722 1370.2 766 1370.3 726 1370.4 699 1370.5 729 1370.6 713 1370.7 727 1370.8 720 1370.9 736 1371.0 719 1371.1 741 1371.2 721 1371.3 739 1371.3 736 1371.4 709 1371.5 741 1371.6 716 1371.7 711 1371.8 740 1371.9 742 1372.0 740 1372.1 712 1372.2 728 1372.3 720 1372.4 697 1372.5 732 1372.6 706 1372.7 726 1372.8 729 1372.9 747 1372.9 739 1373.0 685 1373.1 721 1373.2 739 1373.3 703 1373.4 713 1373.5 711 1373.6 710 1373.7 755 1373.8 753 1373.9 730 1374.0 720 1374.1 725 1374.2 711 1374.3 746 1374.4 707 1374.5 762 1374.5 724 1374.6 716 1374.7 716 1374.8 715 1374.9 724 1375.0 725 1375.1 748 1375.2 724 1375.3 729 1375.4 721 1375.5 737 1375.6 749 1375.7 704 1375.8 757 1375.9 731 1376.0 702 1376.1 701 1376.1 755 1376.2 713 1376.3 736 1376.4 719 1376.5 714 1376.6 711 1376.7 758 1376.8 741 1376.9 715 1377.0 715 1377.1 697 1377.2 712 1377.3 705 1377.4 706 1377.5 712 1377.6 749 1377.7 693 1377.7 719 1377.8 734 1377.9 730 1378.0 737 1378.1 726 1378.2 755 1378.3 710 1378.4 743 1378.5 708 1378.6 735 1378.7 715 1378.8 703 1378.9 718 1379.0 726 1379.1 723 1379.2 730 1379.3 730 1379.3 692 1379.4 746 1379.5 739 1379.6 734 1379.7 726 1379.8 715 1379.9 728 1380.0 708 1380.1 744 1380.2 719 1380.3 722 1380.4 743 1380.5 727 1380.6 731 1380.7 737 1380.8 739 1380.9 710 1380.9 739 1381.0 710 1381.1 708 1381.2 715 1381.3 714 1381.4 751 1381.5 723 1381.6 713 1381.7 711 1381.8 703 1381.9 713 1382.0 727 1382.1 734 1382.2 737 1382.3 724 1382.4 729 1382.5 702 1382.5 734 1382.6 741 1382.7 736 1382.8 686 1382.9 723 1383.0 746 1383.1 700 1383.2 730 1383.3 722 1383.4 737 1383.5 714 1383.6 713 1383.7 739 1383.8 725 1383.9 749 1384.0 702 1384.1 742 1384.1 740 1384.2 742 1384.3 743 1384.4 723 1384.5 736 1384.6 715 1384.7 717 1384.8 706 1384.9 702 1385.0 738 1385.1 725 1385.2 742 1385.3 730 1385.4 715 1385.5 719 1385.6 737 1385.6 718 1385.7 725 1385.8 717 1385.9 767 1386.0 742 1386.1 710 1386.2 754 1386.3 734 1386.4 731 1386.5 739 1386.6 733 1386.7 724 1386.8 730 1386.9 737 1387.0 718 1387.1 713 1387.2 713 1387.2 759 1387.3 704 1387.4 720 1387.5 730 1387.6 709 1387.7 712 1387.8 711 1387.9 739 1388.0 755 1388.1 701 1388.2 716 1388.3 733 1388.4 733 1388.5 729 1388.6 712 1388.7 746 1388.8 740 1388.8 685 1388.9 747 1389.0 717 1389.1 722 1389.2 723 1389.3 704 1389.4 732 1389.5 705 1389.6 725 1389.7 737 1389.8 738 1389.9 735 1390.0 710 1390.1 708 1390.2 725 1390.3 739 1390.4 741 1390.4 729 1390.5 703 1390.6 713 1390.7 731 1390.8 701 1390.9 753 1391.0 761 1391.1 752 1391.2 711 1391.3 745 1391.4 734 1391.5 726 1391.6 735 1391.7 712 1391.8 720 1391.9 730 1392.0 713 1392.0 760 1392.1 706 1392.2 734 1392.3 741 1392.4 726 1392.5 716 1392.6 725 1392.7 719 1392.8 729" fill="none" stroke="#000" stroke-width="1.25"/>
<path d="M828.4 729 828.5 705 828.6 716 828.7 715 828.8 736 828.9 713 829.0 727 829.1 731 829.2 749 829.2 719 829.3 742 829.4 719 829.5 730 829.6 722 829.7 762 829.8 716 829.9 740 830.0 712 830.1 743 830.2 728 830.3 743 830.4 738 830.5 731 830.6 739 830.7 712 830.8 725 830.8 706 830.9 706 831.0 708 831.1 719 831.2 737 831.3 724 831.4 730 831.5 740 831.6 757 831.7 708 831.8 717 831.9 696 832.0 744 832.1 738 832.2 723 832.3 723 832.4 733 832.4 708 832.5 718 832.6 736 832.7 691 832.8 704 832.9 698 833.0 731 833.1 696 833.2 754 833.3 722 833.4 732 833.5 714 833.6 715 833.7 748 833.8 744 833.9 703 834.0 726 834.0 748 834.1 710 834.2 696 834.3 720 834.4 717 834.5 713 834.6 741 834.7 724 834.8 705 834.9 726 835.0 713 835.1 734 835.2 735 835.3 733 835.4 719 835.5 704 835.6 734 835.6 682 835.7 745 835.8 736 835.9 722 836.0 726 836.1 717 836.2 699 836.3 695 836.4 741 836.5 737 836.6 728 836.7 727 836.8 703 836.9 751 837.0 740 837.1 714 837.1 736 837.2 723 837.3 698 837.4 709 837.5 723 837.6 724 837.7 702 837.8 727 837.9 717 838.0 730 838.1 681 838.2 745 838.3 702 838.4 711 838.5 692 838.6 709 838.7 728 838.7 720 838.8 719 838.9 737 839.0 728 839.1 723 839.2 725 839.3 725 839.4 744 839.5 699 839.6 744 839.7 706 839.8 707 839.9 731 840.0 733 840.1 719 840.2 741 840.3 737 840.3 716 840.4 723 840.5 715 840.6 698 840.7 728 840.8 721 840.9 733 841.0 736 841.1 732 841.2 707 841.3 718 841.4 729 841.5 725 841.6 721 841.7 721 841.8 700 841.9 699 841.9 720 842.0 730 842.1 720 842.2 699 842.3 699 842.4 715 842.5 703 842.6 709 842.7 691 842.8 695 842.9 731 843.0 736 843.1 751 843.2 718 843.3 722 843.4 703 843.5 735 843.5 741 843.6 728 843.7 718 843.8 711 843.9 740 844.0 721 844.1 748 844.2 735 844.3 739 844.4 701 844.5 710 844.6 697 844.7 745 844.8 706 844.9 723 845.0 723 845.1 725 845.1 725 845.2 755 845.3 728 845.4 739 845.5 719 845.6 717 845.7 728 845.8 728 845.9 720 846.0 741 846.1 701 846.2 715 846.3 729 846.4 733 846.5 710 846.6 722 846.7 701 846.7 712 846.8 717 846.9 715 847.0 703 847.1 715 847.2 708 847.3 720 847.4 731 847.5 717 847.6 729 847.7 745 847.8 716 847.9 694 848.0 706 848.1 723 848.2 709 848.3 737 848.3 727 848.4 745 848.5 731 848.6 707 848.7 741 848.8 733 848.9 763 849.0 742 849.1 729 849.2 696 849.3 730 849.4 686 849.5 731 849.6 733 849.7 709 849.8 700 849.9 723 849.9 741 850.0 692 850.1 728 850.2 722 850.3 730 850.4 713 850.5 740 850.6 711 850.7 720 850.8 722 850.9 730 851.0 731 851.1 731 851.2 715 851.3 701 851.4 730 851.5 743 851.5 726 851.6 714 851.7 719 851.8 719 851.9 726 852.0 705 852.1 715 852.2 711 852.3 705 852.4 719 852.5 694 852.6 725 852.7 721 852.8 724 852.9 710 853.0 713 853.0 732 853.1 711 853.2 734 853.3 733 853.4 723 853.5 729 853.6 727 853.7 717 853.8 710 853.9 726 854.0 718 854.1 719 854.2 747 854.3 715 854.4 760 854.5 736 854.6 730 854.6 725 854.7 729 854.8 738 854.9 699 855.0 740 855.1 695 855.2 760 855.3 712 855.4 707 855.5 739 855.6 738 855.7 735 855.8 741 855.9 716 856.0 722 856.1 750 856.2 716 856.2 712 856.3 727 856.4 716 856.5 761 856.6 723 856.7 707 856.8 748 856.9 719 857.0 745 857.1 739 857.2 741 857.3 731 857.4 717 857.5 726 857.6 708 857.7 719 857.8 720 857.8 721 857.9 736 858.0 713 858.1 721 858.2 732 858.3 739 858.4 717 858.5 726 858.6 711 858.7 718 858.8 732 858.9 715 859.0 725 859.1 708 859.2 726 859.3 720 859.4 724 859.4 730 859.5 728 859.6 745 859.7 726 859.8 726 859.9 735 860.0 716 860.1 750 860.2 743 860.3 716 860.4 748 860.5 744 860.6 724 860.7 724 860.8 739 860.9 740 861.0 755 861.0 733 861.1 730 861.2 738 861.3 708 861.4 731 861.5 746 861.6 736 861.7 698 861.8 718 861.9 734 862.0 755 862.1 730 862.2 749 862.3 728 862.4 704 862.5 728 862.6 731 862.6 705 862.7 735 862.8 692 862.9 725 863.0 701 863.1 715 863.2 732 863.3 707 863.4 686 863.5 702 863.6 705 863.7 717 863.8 718 863.9 780 864.0 736 864.1 726 864.2 712 864.2 717 864.3 741 864.4 734 864.5 742 864.6 733 864.7 730 864.8 722 864.9 744 865.0 716 865.1 737 865.2 739 865.3 715 865.4 747 865.5 744 865.6 725 865.7 725 865.8 736 865.8 734 865.9 708 866.0 712 866.1 740 866.2 725 866.3 714 866.4 741 866.5 729 866.6 738 866.7 711 866.8 732 866.9 737 867.0 700 867.1 755 867.2 736 867.3 731 867.4 724 867.4 718 867.5 750 867.6 734 867.7 719 867.8 739 867.9 738 868.0 700 868.1 740 868.2 709 868.3 730 868.4 727 868.5 738 868.6 720 868.7 732 868.8 733 868.9 713 868.9 735 869.0 716 869.1 711 869.2 720 869.3 707 869.4 690 869.5 731 869.6 745 869.7 710 869.8 748 869.9 696 870.0 720 870.1 757 870.2 720 870.3 722 870.4 729 870.5 729 870.5 733 870.6 735 870.7 706 870.8 698 870.9 732 871.0 718 871.1 719 871.2 718 871.3 749 871.4 736 871.5 717 871.6 699 871.7 730 871.8 745 871.9 739 872.0 716 872.1 732 872.1 698 872.2 736 872.3 736 872.4 756 872.5 712 872.6 731 872.7 725 872.8 713 872.9 719 873.0 711 873.1 732 873.2 725 873.3 726 873.4 740 873.5 716 873.6 740 873.7 716 873.7 704 873.8 741 873.9 736 874.0 744 874.1 704 874.2 731 874.3 700 874.4 747 874.5 721 874.6 740 874.7 712 874.8 721 874.9 715 875.0 726 875.1 718 875.2 728 875.3 703 875.3 725 875.4 730 875.5 743 875.6 731 875.7 717 875.8 727 875.9 728 876.0 737 876.1 714 876.2 716 876.3 726 876.4 694 876.5 728 876.6 692 876.7 738 876.8 768 876.9 759 876.9 689 877.0 719 877.1 732 877.2 744 877.3 733 877.4 724 877.5 695 877.6 703 877.7 739 877.8 732 877.9 696 878.0 733 878.1 740 878.2 714 878.3 726 878.4 723 878.5 742 878.5 739 878.6 714 878.7 731 878.8 733 878.9 739 879.0 706 879.1 733 879.2 708 879.3 736 879.4 725 879.5 712 879.6 720 879.7 740 879.8 716 879.9 735 880.0 708 880.1 700 880.1 704 880.2 728 880.3 736 880.4 711 880.5 730 880.6 738 880.7 728 880.8 728 880.9 726 881.0 710 881.1 732 881.2 719 881.3 713 881.4 737 881.5 691 881.6 727 881.7 698 881.7 740 881.8 745 881.9 718 882.0 747 882.1 745 882.2 720 882.3 704 882.4 722 882.5 699 882.6 738 882.7 738 882.8 724 882.9 732 883.0 735 883.1 710 883.2 705 883.3 739 883.3 715 883.4 731 883.5 743 883.6 704 883.7 738 883.8 731 883.9 725 884.0 704 884.1 728 884.2 738 884.3 723 884.4 710 884.5 720 884.6 729 884.7 738 884.8 737 884.8 716 884.9 739 885.0 713 885.1 727 885.2 716 885.3 737 885.4 731 885.5 719 885.6 713 885.7 755 885.8 714 885.9 735 886.0 705 886.1 708 886.2 720 886.3 705 886.4 742 886.4 736 886.5 716 886.6 714 886.7 722 886.8 723 886.9 723 887.0 702 887.1 741 887.2 741 887.3 728 887.4 733 887.5 720 887.6 721 887.7 735 887.8 754 887.9 746 888.0 718 888.0 718 888.1 730 888.2 721 888.3 707 888.4 718 888.5 742 888.6 730 888.7 736 888.8 733 888.9 723 889.0 730 889.1 727 889.2 713 889.3 710 889.4 692 889.5 730 889.6 720 889.6 741 889.7 734 889.8 747 889.9 680 890.0 737 890.1 713 890.2 711 890.3 682 890.4 709 890.5 733 890.6 720 890.7 733 890.8 734 890.9 739 891.0 717 891.1 734 891.2 717 891.2 715 891.3 741 891.4 735 891.5 725 891.6 734 891.7 715 891.8 751 891.9 714 892.0 707 892.1 732 892.2 762 892.3 717 892.4 705 892.5 701 892.6 677 892.7 700 892.8 732 892.8 750 892.9 730 893.0 736 893.1 744 893.2 728 893.3 731 893.4 698 893.5 742 893.6 760 893.7 747 893.8 733 893.9 748 894.0 708 894.1 712 894.2 718 894.3 748 894.4 739 894.4 715 894.5 695 894.6 721 894.7 705 894.8 715 894.9 728 895.0 708 895.1 706 895.2 734 895.3 748 895.4 734 895.5 698 895.6 716 895.7 717 895.8 717 895.9 715 896.0 725 896.0 741 896.1 747 896.2 734 896.3 725 896.4 710 896.5 746 896.6 693 896.7 728 896.8 730 896.9 711 897.0 727 897.1 724 897.2 713 897.3 740 897.4 753 897.5 710 897.6 735 897.6 720 897.7 705 897.8 750 897.9 728 898.0 711 898.1 731 898.2 726 898.3 732 898.4 737 898.5 701 898.6 703 898.7 724 898.8 725 898.9 715 899.0 726 899.1 714 899.1 739 899.2 721 899.3 715 899.4 733 899.5 729 899.6 730 899.7 738 899.8 737 899.9 732 900.0 713 900.1 739 900.2 717 900.3 728 900.4 715 900.5 701 900.6 706 900.7 714 900.7 706 900.8 732 900.9 721 901.0 712 901.1 724 901.2 728 901.3 703 901.4 739 901.5 720 901.6 741 901.7 740 901.8 733 901.9 709 902.0 732 902.1 732 902.2 709 902.3 749 902.3 694 902.4 720 902.5 739 902.6 715 902.7 728 902.8 714 902.9 719 903.0 736 903.1 730 903.2 724 903.3 728 903.4 725 903.5 709 903.6 714 903.7 727 903.8 756 903.9 731 903.9 731 904.0 749 904.1 722 904.2 710 904.3 709 904.4 710 904.5 747 904.6 733 904.7 715 904.8 727 904.9 740 905.0 707 905.1 700 905.2 683 905.3 728 905.4 753 905.5 707 905.5 727 905.6 726 905.7 720 905.8 728 905.9 734 906.0 729 906.1 715 906.2 720 906.3 702 906.4 734 906.5 726 906.6 717 906.7 718 906.8 704 906.9 721 907.0 711 907.1 730 907.1 735 907.2 710 907.3 718 907.4 720 907.5 721 907.6 712 907.7 729 907.8 689 907.9 742 908.0 734 908.1 730 908.2 707 908.3 755 908.4 722 908.5 701 908.6 707 908.7 720 908.7 713 908.8 717 908.9 720 909.0 731 909.1 735 909.2 738 909.3 708 909.4 741 909.5 732 909.6 742 909.7 709 909.8 719 909.9 729 910.0 741 910.1 717 910.2 716 910.3 722 910.3 716 910.4 722 910.5 719 910.6 735 910.7 732 910.8 732 910.9 721 911.0 690 911.1 740 911.2 711 911.3 723 911.4 718 911.5 717 911.6 724 911.7 738 911.8 717 911.9 722 911.9 711 912.0 754 912.1 728 912.2 719 912.3 718 912.4 716 912.5 718 912.6 710 912.7 714 912.8 690 912.9 744 913.0 739 913.1 737 913.2 730 913.3 735 913.4 738 913.5 736 913.5 718 913.6 727 913.7 734 913.8 747 913.9 723 914.0 748 914.1 706 914.2 720 914.3 693 914.4 743 914.5 701 914.6 746 914.7 692 914.8 737 914.9 727 915.0 726 915.0 697 915.1 743 915.2 699 915.3 709 915.4 726 915.5 707 915.6 717 915.7 711 915.8 719 915.9 718 916.0 736 916.1 736 916.2 735 916.3 738 916.4 709 916.5 697 916.6 727 916.6 704 916.7 749 916.8 726 916.9 720 917.0 725 917.1 710 917.2 710 917.3 708 917.4 727 917.5 684 917.6 723 917.7 715 917.8 723 917.9 708 918.0 722 918.1 733 918.2 711 918.2 707 918.3 717 918.4 733 918.5 711 918.6 725 918.7 729 918.8 729 918.9 738 919.0 753 919.1 718 919.2 723 919.3 748 919.4 710 919.5 717 919.6 725 919.7 714 919.8 736 919.8 733 919.9 735 920.0 736 920.1 724 920.2 735 920.3 713 920.4 711 920.5 707 920.6 732 920.7 724 920.8 714 920.9 734 921.0 708 921.1 714 921.2 686 921.3 729 921.4 705 921.4 711 921.5 736 921.6 743 921.7 719 921.8 712 921.9 724 922.0 745 922.1 708 922.2 713 922.3 713 922.4 700 922.5 687 922.6 715 922.7 709 922.8 713 922.9 718 923.0 705 923.0 717 923.1 713 923.2 693 923.3 692 923.4 754 923.5 698 923.6 721 923.7 734 923.8 725 923.9 762 924.0 735 924.1 691 924.2 713 924.3 726 924.4 699 924.5 743 924.6 716 924.6 742 924.7 713 924.8 723 924.9 706 925.0 737 925.1 720 925.2 704 925.3 707 925.4 741 925.5 720 925.6 722 925.7 732 925.8 723 925.9 737 926.0 735 926.1 724 926.2 720 926.2 731 926.3 716 926.4 728 926.5 697 926.6 744 926.7 704 926.8 716 926.9 754 927.0 714 927.1 720 927.2 724 927.3 733 927.4 731 927.5 712 927.6 703 927.7 713 927.8 739 927.8 726 927.9 756 928.0 722 928.1 715 928.2 745 928.3 718 928.4 732 928.5 730 928.6 737 928.7 709 928.8 711 928.9 720 929.0 707 929.1 742 929.2 718 929.3 745 929.4 716 929.4 681 929.5 722 929.6 728 929.7 709 929.8 732 929.9 727 930.0 725 930.1 733 930.2 722 930.3 718 930.4 743 930.5 714 930.6 739 930.7 690 930.8 747 930.9 701 930.9 729 931.0 708 931.1 734 931.2 710 931.3 702 931.4 730 931.5 748 931.6 713 931.7 742 931.8 735 931.9 726 932.0 731 932.1 754 932.2 741 932.3 729 932.4 712 932.5 732 932.5 728 932.6 701 932.7 690 932.8 720 932.9 746 933.0 710 933.1 719 933.2 718 933.3 708 933.4 728 933.5 692 933.6 737 933.7 744 933.8 720 933.9 743 934.0 734 934.1 752 934.1 707 934.2 714 934.3 723 934.4 732 934.5 750 934.6 749 934.7 720 934.8 702 934.9 708 935.0 757 935.1 743 935.2 680 935.3 720 935.4 716 935.5 719 935.6 699 935.7 726 935.7 721 935.8 714 935.9 716 936.0 705 936.1 716 936.2 713 936.3 736 936.4 728 936.5 727 936.6 714 936.7 714 936.8 726 936.9 730 937.0 753 937.1 747 937.2 728 937.3 711 937.3 723 937.4 742 937.5 736 937.6 738 937.7 724 937.8 725 937.9 707 938.0 712 938.1 723 938.2 715 938.3 738 938.4 753 938.5 715 938.6 707 938.7 717 938.8 735 938.9 738 938.9 702 939.0 723 939.1 706 939.2 750 939.3 728 939.4 733 939.5 728 939.6 713 939.7 682 939.8 740 939.9 722 940.0 713 940.1 726 940.2 724 940.3 745 940.4 729 940.5 687 940.5 739 940.6 729 940.7 715 940.8 720 940.9 710 941.0 719 941.1 718 941.2 733 941.3 743 941.4 729 941.5 699 941.6 724 941.7 735 941.8 716 941.9 743 942.0 732 942.1 687 942.1 724 942.2 730 942.3 717 942.4 689 942.5 712 942.6 723 942.7 723 942.8 708 942.9 706 943.0 737 943.1 733 943.2 717 943.3 756 943.4 740 943.5 699 943.6 712 943.7 710 943.7 709 943.8 678 943.9 704 944.0 726 944.1 702 944.2 689 944.3 727 944.4 688 944.5 696 944.6 727 944.7 730 944.8 729 944.9 728 945.0 727 945.1 716 945.2 735 945.3 714 945.3 727 945.4 740 945.5 710 945.6 705 945.7 701 945.8 729 945.9 710 946.0 721 946.1 717 946.2 699 946.3 732 946.4 717 946.5 721 946.6 696 946.7 709 946.8 718 946.8 725 946.9 707 947.0 723 947.1 704 947.2 733 947.3 725 947.4 727 947.5 726 947.6 721 947.7 706 947.8 695 947.9 727 948.0 725 948.1 725 948.2 728 948.3 701 948.4 716 948.4 746 948.5 727 948.6 746 948.7 697 948.8 730 948.9 743 949.0 728 949.1 728 949.2 716 949.3 735 949.4 745 949.5 694 949.6 730 949.7 730 949.8 737 949.9 716 950.0 708 950.0 710 950.1 726 950.2 701 950.3 753 950.4 729 950.5 743 950.6 716 950.7 726 950.8 715 950.9 730 951.0 757 951.1 714 951.2 748 951.3 701 951.4 718 951.5 744 951.6 700 951.6 714 951.7 736 951.8 705 951.9 748 952.0 758 952.1 760 952.2 716 952.3 718 952.4 736 952.5 715 952.6 735 952.7 738 952.8 717 952.9 727 953.0 729 953.1 691 953.2 703 953.2 717 953.3 699 953.4 693 953.5 725 953.6 707 953.7 725 953.8 724 953.9 720 954.0 727 954.1 743 954.2 725 954.3 728 954.4 748 954.5 719 954.6 738 954.7 724 954.8 734 954.8 737 954.9 735 955.0 712 955.1 710 955.2 707 955.3 718 955.4 732 955.5 742 955.6 714 955.7 710 955.8 724 955.9 723 956.0 738 956.1 740 956.2 703 956.3 724 956.4 719 956.4 696 956.5 741 956.6 724 956.7 702 956.8 710 956.9 714 957.0 719 957.1 707 957.2 710 957.3 730 957.4 707 957.5 718 957.6 733 957.7 725 957.8 731 957.9 734 958.0 717 958.0 747 958.1 700 958.2 719 958.3 724 958.4 698 958.5 732 958.6 732 958.7 699 958.8 730 958.9 713 959.0 713 959.1 709 959.2 698 959.3 721 959.4 728 959.5 746 959.6 724 959.6 734 959.7 710 959.8 712 959.9 723 960.0 705 960.1 690 960.2 730 960.3 714 960.4 722 960.5 718 960.6 732 960.7 741 960.8 700 960.9 723 961.0 746 961.1 728 961.2 749 961.2 734 961.3 723 961.4 700 961.5 732 961.6 715 961.7 749 961.8 712 961.9 729 962.0 717 962.1 733 962.2 728 962.3 695 962.4 713 962.5 711 962.6 733 962.7 741 962.7 711 962.8 742 962.9 725 963.0 704 963.1 713 963.2 714 963.3 718 963.4 745 963.5 712 963.6 700 963.7 733 963.8 732 963.9 705 964.0 729 964.1 714 964.2 710 964.3 725 964.3 725 964.4 741 964.5 732 964.6 726 964.7 743 964.8 722 964.9 696 965.0 701 965.1 709 965.2 732 965.3 744 965.4 712 965.5 702 965.6 696 965.7 733 965.8 708 965.9 696 965.9 717 966.0 726 966.1 729 966.2 725 966.3 702 966.4 744 966.5 711 966.6 729 966.7 685 966.8 701 966.9 711 967.0 697 967.1 718 967.2 720 967.3 723 967.4 709 967.5 716 967.5 734 967.6 708 967.7 721 967.8 738 967.9 714 968.0 739 968.1 726 968.2 733 968.3 725 968.4 699 968.5 710 968.6 707 968.7 729 968.8 750 968.9 713 969.0 734 969.1 731 969.1 721 969.2 718 969.3 707 969.4 741 969.5 736 969.6 728 969.7 713 969.8 727 969.9 711 970.0 713 970.1 731 970.2 716 970.3 733 970.4 729 970.5 710 970.6 720 970.7 742 970.7 723 970.8 730 970.9 730 971.0 725 971.1 701 971.2 720 971.3 711 971.4 727 971.5 727 971.6 743 971.7 726 971.8 735 971.9 723 972.0 712 972.1 720 972.2 750 972.3 723 972.3 745 972.4 693 972.5 750 972.6 702 972.7 731 972.8 723 972.9 726 973.0 697 973.1 734 973.2 710 973.3 688 973.4 740 973.5 720 973.6 724 973.7 739 973.8 737 973.9 747 973.9 720 974.0 720 974.1 717 974.2 702 974.3 738 974.4 743 974.5 710 974.6 711 974.7 703 974.8 710 974.9 736 975.0 709 975.1 726 975.2 711 975.3 707 975.4 729 975.5 730 975.5 727 975.6 723 975.7 734 975.8 743 975.9 729 976.0 722 976.1 726 976.2 721 976.3 686 976.4 759 976.5 716 976.6 687 976.7 710 976.8 699 976.9 730 977.0 698 977.1 740 977.1 713 977.2 714 977.3 728 977.4 750 977.5 731 977.6 724 977.7 738 977.8 743 977.9 742 978.0 702 978.1 737 978.2 712 978.3 702 978.4 703 978.5 713 978.6 721 978.6 708 978.7 732 978.8 714 978.9 708 979.0 721 979.1 724 979.2 709 979.3 724 979.4 724 979.5 725 979.6 749 979.7 714 979.8 697 979.9 718 980.0 732 980.1 737 980.2 701 980.2 740 980.3 710 980.4 721 980.5 702 980.6 702 980.7 713 980.8 728 980.9 726 981.0 710 981.1 723 981.2 730 981.3 719 981.4 747 981.5 689 981.6 706 981.7 748 981.8 710 981.8 717 981.9 740 982.0 712 982.1 725 982.2 716 982.3 705 982.4 730 982.5 740 982.6 695 982.7 725 982.8 745 982.9 706 983.0 713 983.1 711 983.2 718 983.3 725 983.4 714 983.4 705 983.5 738 983.6 725 983.7 713 983.8 720 983.9 717 984.0 721 984.1 716 984.2 745 984.3 692 984.4 722 984.5 735 984.6 733 984.7 721 984.8 762 984.9 708 985.0 696 985.0 702 985.1 701 985.2 704 985.3 720 985.4 723 985.5 721 985.6 728 985.7 735 985.8 707 985.9 744 986.0 712 986.1 723 986.2 716 986.3 749 986.4 755 986.5 722 986.6 720 986.6 720 986.7 698 986.8 733 986.9 738 987.0 726 987.1 723 987.2 737 987.3 706 987.4 739 987.5 722 987.6 720 987.7 713 987.8 737 987.9 724 988.0 724 988.1 734 988.2 681 988.2 721 988.3 729 988.4 743 988.5 693 988.6 714 988.7 727 988.8 739 988.9 742 989.0 717 989.1 695 989.2 723 989.3 718 989.4 724 989.5 724 989.6 736 989.7 728 989.8 721 989.8 683 989.9 708 990.0 711 990.1 743 990.2 719 990.3 739 990.4 720 990.5 704 990.6 731 990.7 713 990.8 718 990.9 740 991.0 738 991.1 700 991.2 734 991.3 704 991.4 704 991.4 723 991.5 709 991.6 721 991.7 685 991.8 726 991.9 703 992.0 731 992.1 722 992.2 712 992.3 698 992.4 721 992.5 728 992.6 734 992.7 713 992.8 708 992.9 733 993.0 713 993.0 724 993.1 708 993.2 722 993.3 717 993.4 695 993.5 720 993.6 729 993.7 729 993.8 732 993.9 709 994.0 731 994.1 748 994.2 742 994.3 710 994.4 740 994.5 718 994.5 735 994.6 704 994.7 722 994.8 722 994.9 737 995.0 709 995.1 713 995.2 745 995.3 721 995.4 745 995.5 749 995.6 722 995.7 716 995.8 721 995.9 717 996.0 720 996.1 702 996.1 717 996.2 696 996.3 737 996.4 731 996.5 760 996.6 718 996.7 713 996.8 709 996.9 708 997.0 729 997.1 724 997.2 734 997.3 716 997.4 720 997.5 700 997.6 719 997.7 721 997.7 736 997.8 721 997.9 712 998.0 726 998.1 718 998.2 702 998.3 708 998.4 727 998.5 719 998.6 734 998.7 731 998.8 710 998.9 736 999.0 735 999.1 742 999.2 731 999.3 715 999.3 706 999.4 699 999.5 725 999.6 720 999.7 705 999.8 721 999.9 737 1000.0 729 1000.1 699 1000.2 728 1000.3 717 1000.4 721 1000.5 701 1000.6 695 1000.7 700 1000.8 725 1000.9 724 1000.9 730 1001.0 740 1001.1 725 1001.2 727 1001.3 711 1001.4 732 1001.5 746 1001.6 713 1001.7 758 1001.8 722 1001.9 728 1002.0 721 1002.1 715 1002.2 746 1002.3 724 1002.4 722 1002.5 722 1002.5 693 1002.6 728 1002.7 749 1002.8 723 1002.9 720 1003.0 736 1003.1 728 1003.2 734 1003.3 738 1003.4 727 1003.5 710 1003.6 707 1003.7 707 1003.8 733 1003.9 732 1004.0 710 1004.1 716 1004.1 742 1004.2 734 1004.3 741 1004.4 678 1004.5 725 1004.6 710 1004.7 706 1004.8 703 1004.9 727 1005.0 693 1005.1 708 1005.2 731 1005.3 745 1005.4 732 1005.5 709 1005.6 703 1005.7 713 1005.7 703 1005.8 711 1005.9 715 1006.0 702 1006.1 722 1006.2 698 1006.3 694 1006.4 711 1006.5 675 1006.6 670 1006.7 720 1006.8 738 1006.9 734 1007.0 733 1007.1 752 1007.2 700 1007.3 716 1007.3 724 1007.4 709 1007.5 754 1007.6 734 1007.7 692 1007.8 711 1007.9 708 1008.0 714 1008.1 732 1008.2 748 1008.3 712 1008.4 749 1008.5 719 1008.6 709 1008.7 739 1008.8 746 1008.8 719 1008.9 724 1009.0 719 1009.1 724 1009.2 730 1009.3 720 1009.4 719 1009.5 678 1009.6 697 1009.7 718 1009.8 738 1009.9 724 1010.0 724 1010.1 706 1010.2 735 1010.3 718 1010.4 780 1010.4 734 1010.5 716 1010.6 724 1010.7 699 1010.8 735 1010.9 713 1011.0 709 1011.1 687 1011.2 703 1011.3 713 1011.4 726 1011.5 733 1011.6 713 1011.7 710 1011.8 727 1011.9 715 1012.0 724 1012.0 737 1012.1 719 1012.2 723 1012.3 738 1012.4 727 1012.5 669 1012.6 712 1012.7 701 1012.8 722 1012.9 697 1013.0 714 1013.1 700 1013.2 723 1013.3 739 1013.4 727 1013.5 715 1013.6 727 1013.6 727 1013.7 731 1013.8 714 1013.9 712 1014.0 725 1014.1 687 1014.2 716 1014.3 733 1014.4 692 1014.5 717 1014.6 747 1014.7 722 1014.8 725 1014.9 700 1015.0 721 1015.1 728 1015.2 737 1015.2 735 1015.3 719 1015.4 724 1015.5 734 1015.6 699 1015.7 690 1015.8 713 1015.9 714 1016.0 721 1016.1 717 1016.2 706 1016.3 708 1016.4 739 1016.5 723 1016.6 738 1016.7 753 1016.8 737 1016.8 697 1016.9 732 1017.0 720 1017.1 714 1017.2 685 1017.3 716 1017.4 703 1017.5 712 1017.6 722 1017.7 713 1017.8 715 1017.9 695 1018.0 756 1018.1 690 1018.2 731 1018.3 720 1018.4 724 1018.4 721 1018.5 704 1018.6 732 1018.7 727 1018.8 742 1018.9 744 1019.0 713 1019.1 736 1019.2 746 1019.3 728 1019.4 719 1019.5 728 1019.6 727 1019.7 708 1019.8 704 1019.9 724 1020.0 705 1020.0 726 1020.1 746 1020.2 729 1020.3 721 1020.4 730 1020.5 757 1020.6 750 1020.7 706 1020.8 704 1020.9 705 1021.0 687 1021.1 702 1021.2 716 1021.3 725 1021.4 747 1021.5 738 1021.6 702 1021.6 738 1021.7 735 1021.8 726 1021.9 722 1022.0 712 1022.1 691 1022.2 727 1022.3 746 1022.4 738 1022.5 720 1022.6 720 1022.7 711 1022.8 714 1022.9 712 1023.0 714 1023.1 723 1023.2 731 1023.2 716 1023.3 738 1023.4 716 1023.5 741 1023.6 697 1023.7 702 1023.8 723 1023.9 708 1024.0 714 1024.1 718 1024.2 720 1024.3 729 1024.4 716 1024.5 737 1024.6 728 1024.7 724 1024.7 723 1024.8 732 1024.9 735 1025.0 757 1025.1 716 1025.2 723 1025.3 714 1025.4 709 1025.5 716 1025.6 708 1025.7 714 1025.8 705 1025.9 737 1026.0 706 1026.1 687 1026.2 725 1026.3 737 1026.3 729 1026.4 694 1026.5 702 1026.6 698 1026.7 720 1026.8 721 1026.9 707 1027.0 734 1027.1 731 1027.2 729 1027.3 724 1027.4 739 1027.5 696 1027.6 720 1027.7 717 1027.8 704 1027.9 724 1027.9 718 1028.0 732 1028.1 726 1028.2 708 1028.3 742 1028.4 720 1028.5 719 1028.6 730 1028.7 748 1028.8 728 1028.9 726 1029.0 723 1029.1 709 1029.2 721 1029.3 733 1029.4 745 1029.5 740 1029.5 722 1029.6 735 1029.7 733 1029.8 735 1029.9 724 1030.0 727 1030.1 696 1030.2 745 1030.3 739 1030.4 738 1030.5 722 1030.6 705 1030.7 691 1030.8 708 1030.9 716 1031.0 719 1031.1 724 1031.1 740 1031.2 740 1031.3 719 1031.4 739 1031.5 728 1031.6 740 1031.7 754 1031.8 744 1031.9 714 1032.0 710 1032.1 741 1032.2 719 1032.3 718 1032.4 734 1032.5 717 1032.6 701 1032.7 738 1032.7 732 1032.8 697 1032.9 733 1033.0 727 1033.1 715 1033.2 713 1033.3 727 1033.4 730 1033.5 725 1033.6 714 1033.7 745 1033.8 721 1033.9 705 1034.0 706 1034.1 735 1034.2 704 1034.3 692 1034.3 723 1034.4 700 1034.5 741 1034.6 735 1034.7 738 1034.8 731 1034.9 725 1035.0 729 1035.1 711 1035.2 711 1035.3 716 1035.4 731 1035.5 727 1035.6 713 1035.7 719 1035.8 683 1035.9 722 1035.9 732 1036.0 738 1036.1 716 1036.2 713 1036.3 718 1036.4 735 1036.5 736 1036.6 719 1036.7 681 1036.8 720 1036.9 711 1037.0 711 1037.1 731 1037.2 720 1037.3 738 1037.4 743 1037.5 724 1037.5 718 1037.6 720 1037.7 722 1037.8 732 1037.9 713 1038.0 697 1038.1 731 1038.2 759 1038.3 719 1038.4 720 1038.5 703 1038.6 765 1038.7 707 1038.8 684 1038.9 739 1039.0 722 1039.1 751 1039.1 704 1039.2 734 1039.3 712 1039.4 688 1039.5 744 1039.6 712 1039.7 715 1039.8 703 1039.9 715 1040.0 752 1040.1 723 1040.2 734 1040.3 717 1040.4 718 1040.5 754 1040.6 728 1040.6 754 1040.7 721 1040.8 688 1040.9 727 1041.0 726 1041.1 706 1041.2 725 1041.3 715 1041.4 725 1041.5 727 1041.6 729 1041.7 706 1041.8 711 1041.9 709 1042.0 719 1042.1 718 1042.2 741 1042.2 720 1042.3 696 1042.4 739 1042.5 746 1042.6 712 1042.7 721 1042.8 723 1042.9 745 1043.0 735 1043.1 716 1043.2 750 1043.3 708 1043.4 727 1043.5 741 1043.6 722 1043.7 719 1043.8 701 1043.8 722 1043.9 701 1044.0 715 1044.1 711 1044.2 727 1044.3 752 1044.4 721 1044.5 695 1044.6 731 1044.7 720 1044.8 730 1044.9 712 1045.0 712 1045.1 742 1045.2 718 1045.3 723 1045.4 709 1045.4 698 1045.5 709 1045.6 701 1045.7 720 1045.8 711 1045.9 737 1046.0 739 1046.1 704 1046.2 735 1046.3 741 1046.4 756 1046.5 726 1046.6 718 1046.7 737 1046.8 741 1046.9 723 1047.0 712 1047.0 720 1047.1 713 1047.2 732 1047.3 733 1047.4 712 1047.5 681 1047.6 730 1047.7 729 1047.8 724 1047.9 719 1048.0 693 1048.1 729 1048.2 723 1048.3 708 1048.4 737 1048.5 701 1048.6 716 1048.6 720 1048.7 736 1048.8 717 1048.9 729 1049.0 732 1049.1 739 1049.2 711 1049.3 712 1049.4 721 1049.5 725 1049.6 716 1049.7 722 1049.8 729 1049.9 699 1050.0 714 1050.1 713 1050.2 711 1050.2 707 1050.3 702 1050.4 706 1050.5 759 1050.6 730 1050.7 723 1050.8 710 1050.9 737 1051.0 698 1051.1 704 1051.2 744 1051.3 708 1051.4 713 1051.5 738 1051.6 712 1051.7 733 1051.8 698 1051.8 756 1051.9 708 1052.0 712 1052.1 746 1052.2 683 1052.3 727 1052.4 750 1052.5 694 1052.6 729 1052.7 704 1052.8 709 1052.9 697 1053.0 734 1053.1 704 1053.2 704 1053.3 720 1053.4 710 1053.4 717 1053.5 748 1053.6 719 1053.7 708 1053.8 735 1053.9 726 1054.0 744 1054.1 700 1054.2 716 1054.3 729 1054.4 726 1054.5 716 1054.6 718 1054.7 697 1054.8 721 1054.9 725 1055.0 719 1055.0 726 1055.1 711 1055.2 708 1055.3 758 1055.4 699 1055.5 695 1055.6 712 1055.7 722 1055.8 715 1055.9 711 1056.0 731 1056.1 757 1056.2 728 1056.3 709 1056.4 731 1056.5 711 1056.5 716 1056.6 723 1056.7 711 1056.8 717 1056.9 712 1057.0 747 1057.1 697 1057.2 728 1057.3 760 1057.4 707 1057.5 730 1057.6 736 1057.7 709 1057.8 736 1057.9 729 1058.0 758 1058.1 718 1058.1 714 1058.2 739 1058.3 706 1058.4 729 1058.5 747 1058.6 742 1058.7 720 1058.8 725 1058.9 733 1059.0 699 1059.1 723 1059.2 715 1059.3 721 1059.4 741 1059.5 716 1059.6 713 1059.7 713 1059.7 706 1059.8 694 1059.9 686 1060.0 694 1060.1 720 1060.2 746 1060.3 724 1060.4 687 1060.5 727 1060.6 730 1060.7 737 1060.8 703 1060.9 728 1061.0 715 1061.1 696 1061.2 710 1061.3 711 1061.3 723 1061.4 703 1061.5 730 1061.6 736 1061.7 723 1061.8 705 1061.9 704 1062.0 722 1062.1 717 1062.2 718 1062.3 723 1062.4 720 1062.5 750 1062.6 690 1062.7 733 1062.8 737 1062.9 732 1062.9 710 1063.0 725 1063.1 725 1063.2 709 1063.3 717 1063.4 725 1063.5 715 1063.6 712 1063.7 721 1063.8 719 1063.9 731 1064.0 728 1064.1 726 1064.2 740 1064.3 700 1064.4 704 1064.5 717 1064.5 730 1064.6 712 1064.7 740 1064.8 724 1064.9 717 1065.0 722 1065.1 724 1065.2 696 1065.3 715 1065.4 713 1065.5 729 1065.6 713 1065.7 713 1065.8 746 1065.9 717 1066.0 715 1066.1 718 1066.1 702 1066.2 739 1066.3 737 1066.4 715 1066.5 707 1066.6 727 1066.7 700 1066.8 713 1066.9 711 1067.0 713 1067.1 736 1067.2 736 1067.3 710 1067.4 717 1067.5 713 1067.6 690 1067.7 714 1067.7 723 1067.8 704 1067.9 718 1068.0 712 1068.1 737 1068.2 707 1068.3 715 1068.4 721 1068.5 742 1068.6 715 1068.7 691 1068.8 708 1068.9 730 1069.0 704 1069.1 728 1069.2 732 1069.3 739 1069.3 723 1069.4 724 1069.5 713 1069.6 734 1069.7 741 1069.8 742 1069.9 726 1070.0 727 1070.1 737 1070.2 703 1070.3 709 1070.4 720 1070.5 717 1070.6 739 1070.7 724 1070.8 699 1070.9 714 1070.9 733 1071.0 712 1071.1 709 1071.2 704 1071.3 744 1071.4 728 1071.5 744 1071.6 706 1071.7 696 1071.8 705 1071.9 717 1072.0 718 1072.1 718 1072.2 717 1072.3 723 1072.4 703 1072.4 695 1072.5 710 1072.6 728 1072.7 724 1072.8 762 1072.9 704 1073.0 707 1073.1 735 1073.2 731 1073.3 725 1073.4 714 1073.5 715 1073.6 701 1073.7 697 1073.8 744 1073.9 707 1074.0 715 1074.0 700 1074.1 740 1074.2 741 1074.3 720 1074.4 709 1074.5 726 1074.6 719 1074.7 757 1074.8 714 1074.9 692 1075.0 715 1075.1 740 1075.2 705 1075.3 729 1075.4 738 1075.5 693 1075.6 727 1075.6 698 1075.7 712 1075.8 708 1075.9 726 1076.0 684 1076.1 692 1076.2 736 1076.3 733 1076.4 724 1076.5 726 1076.6 743 1076.7 722 1076.8 726 1076.9 702 1077.0 730 1077.1 708 1077.2 725 1077.2 715 1077.3 699 1077.4 734 1077.5 755 1077.6 736 1077.7 712 1077.8 682 1077.9 690 1078.0 726 1078.1 731 1078.2 710 1078.3 715 1078.4 732 1078.5 721 1078.6 730 1078.7 719 1078.8 682 1078.8 746 1078.9 727 1079.0 744 1079.1 724 1079.2 720 1079.3 721 1079.4 736 1079.5 721 1079.6 698 1079.7 727 1079.8 692 1079.9 732 1080.0 736 1080.1 720 1080.2 749 1080.3 723 1080.4 730 1080.4 735 1080.5 725 1080.6 733 1080.7 751 1080.8 727 1080.9 734 1081.0 709 1081.1 713 1081.2 730 1081.3 716 1081.4 721 1081.5 713 1081.6 687 1081.7 752 1081.8 729 1081.9 733 1082.0 726 1082.0 714 1082.1 689 1082.2 715 1082.3 749 1082.4 739 1082.5 688 1082.6 740 1082.7 732 1082.8 737 1082.9 719 1083.0 712 1083.1 735 1083.2 700 1083.3 733 1083.4 725 1083.5 704 1083.6 689 1083.6 717 1083.7 729 1083.8 719 1083.9 696 1084.0 710 1084.1 693 1084.2 735 1084.3 735 1084.4 732 1084.5 707 1084.6 713 1084.7 737 1084.8 734 1084.9 744 1085.0 718 1085.1 710 1085.2 705 1085.2 714 1085.3 708 1085.4 731 1085.5 732 1085.6 730 1085.7 719 1085.8 719 1085.9 717 1086.0 710 1086.1 728 1086.2 707 1086.3 691 1086.4 735 1086.5 719 1086.6 724 1086.7 721 1086.8 739 1086.8 718 1086.9 740 1087.0 695 1087.1 717 1087.2 723 1087.3 725 1087.4 745 1087.5 726 1087.6 720 1087.7 720 1087.8 714 1087.9 714 1088.0 677 1088.1 709 1088.2 719 1088.3 743 1088.3 707 1088.4 704 1088.5 728 1088.6 724 1088.7 723 1088.8 724 1088.9 717 1089.0 737 1089.1 727 1089.2 726 1089.3 722 1089.4 714 1089.5 729 1089.6 728 1089.7 708 1089.8 721 1089.9 733 1089.9 743 1090.0 709 1090.1 699 1090.2 741 1090.3 724 1090.4 741 1090.5 748 1090.6 700 1090.7 694 1090.8 712 1090.9 736 1091.0 744 1091.1 742 1091.2 701 1091.3 699 1091.4 729 1091.5 731 1091.5 700 1091.6 721 1091.7 720 1091.8 732 1091.9 692 1092.0 728 1092.1 734 1092.2 726 1092.3 720 1092.4 715 1092.5 719 1092.6 726 1092.7 737 1092.8 721 1092.9 696 1093.0 690 1093.1 692 1093.1 729 1093.2 750 1093.3 731 1093.4 710 1093.5 759 1093.6 711 1093.7 732 1093.8 713 1093.9 742 1094.0 728 1094.1 728 1094.2 694 1094.3 717 1094.4 733 1094.5 725 1094.6 718 1094.7 696 1094.7 729 1094.8 727 1094.9 705 1095.0 722 1095.1 743 1095.2 692 1095.3 699 1095.4 709 1095.5 732 1095.6 770 1095.7 728 1095.8 732 1095.9 751 1096.0 740 1096.1 714 1096.2 709 1096.3 692 1096.3 702 1096.4 723 1096.5 704 1096.6 741 1096.7 734 1096.8 741 1096.9 706 1097.0 729 1097.1 724 1097.2 712 1097.3 730 1097.4 713 1097.5 743 1097.6 729 1097.7 704 1097.8 729 1097.9 692 1097.9 708 1098.0 730 1098.1 725 1098.2 707 1098.3 727 1098.4 725 1098.5 767 1098.6 722 1098.7 747 1098.8 726 1098.9 729 1099.0 730 1099.1 716 1099.2 738 1099.3 728 1099.4 696 1099.5 727 1099.5 708 1099.6 712 1099.7 717 1099.8 719 1099.9 781 1100.0 720 1100.1 716 1100.2 729 1100.3 724 1100.4 728 1100.5 745 1100.6 704 1100.7 737 1100.8 733 1100.9 736 1101.0 715 1101.1 732 1101.1 722 1101.2 697 1101.3 710 1101.4 714 1101.5 724 1101.6 721 1101.7 740 1101.8 746 1101.9 731 1102.0 724 1102.1 729 1102.2 720 1102.3 730 1102.4 722 1102.5 733 1102.6 725 1102.7 745 1102.7 698 1102.8 713 1102.9 734 1103.0 739 1103.1 710 1103.2 718 1103.3 707 1103.4 746 1103.5 721 1103.6 742 1103.7 722 1103.8 704 1103.9 681 1104.0 734 1104.1 716 1104.2 720 1104.2 722 1104.3 706 1104.4 733 1104.5 710 1104.6 713 1104.7 729 1104.8 734 1104.9 709 1105.0 722 1105.1 714 1105.2 734 1105.3 721 1105.4 704 1105.5 710 1105.6 724 1105.7 734 1105.8 695 1105.8 702 1105.9 731 1106.0 735 1106.1 735 1106.2 708 1106.3 725 1106.4 712 1106.5 722 1106.6 689 1106.7 713 1106.8 711 1106.9 718 1107.0 761 1107.1 726 1107.2 714 1107.3 711 1107.4 738 1107.4 705 1107.5 729 1107.6 752 1107.7 714 1107.8 721 1107.9 707 1108.0 749 1108.1 683 1108.2 749 1108.3 721 1108.4 697 1108.5 711 1108.6 731 1108.7 737 1108.8 703 1108.9 719 1109.0 690 1109.0 736 1109.1 723 1109.2 685 1109.3 713 1109.4 742 1109.5 715 1109.6 699 1109.7 746 1109.8 727 1109.9 690 1110.0 739 1110.1 743 1110.2 710 1110.3 712 1110.4 711 1110.5 707 1110.6 721 1110.6 710 1110.7 724 1110.8 721 1110.9 736 1111.0 707 1111.1 712 1111.2 729 1111.3 705 1111.4 717 1111.5 721 1111.6 729 1111.7 685 1111.8 712 1111.9 719 1112.0 711 1112.1 720 1112.2 756 1112.2 713 1112.3 719 1112.4 705 1112.5 715 1112.6 701 1112.7 718 1112.8 725 1112.9 696 1113.0 725 1113.1 717 1113.2 728 1113.3 722 1113.4 735 1113.5 724 1113.6 732 1113.7 705 1113.8 738 1113.8 692 1113.9 706 1114.0 723 1114.1 696 1114.2 713 1114.3 717 1114.4 720 1114.5 717 1114.6 694 1114.7 710 1114.8 718 1114.9 739 1115.0 712 1115.1 705 1115.2 723 1115.3 697 1115.4 730 1115.4 739 1115.5 718 1115.6 708 1115.7 707 1115.8 769 1115.9 719 1116.0 746 1116.1 705 1116.2 738 1116.3 707 1116.4 712 1116.5 719 1116.6 731 1116.7 702 1116.8 719 1116.9 723 1117.0 732 1117.0 746 1117.1 722 1117.2 729 1117.3 745 1117.4 748 1117.5 752 1117.6 738 1117.7 734 1117.8 735 1117.9 717 1118.0 689 1118.1 712 1118.2 712 1118.3 707 1118.4 717 1118.5 714 1118.5 735 1118.6 757 1118.7 712 1118.8 758 1118.9 748 1119.0 735 1119.1 729 1119.2 695 1119.3 719 1119.4 722 1119.5 722 1119.6 752 1119.7 746 1119.8 713 1119.9 731 1120.0 737 1120.1 710 1120.1 727 1120.2 720 1120.3 719 1120.4 727 1120.5 728 1120.6 715 1120.7 705 1120.8 758 1120.9 713 1121.0 725 1121.1 683 1121.2 703 1121.3 705 1121.4 721 1121.5 754 1121.6 721 1121.7 721 1121.7 711 1121.8 728 1121.9 725 1122.0 688 1122.1 743 1122.2 693 1122.3 716 1122.4 728 1122.5 701 1122.6 710 1122.7 703 1122.8 707 1122.9 721 1123.0 719 1123.1 702 1123.2 703 1123.3 732 1123.3 748 1123.4 747 1123.5 734 1123.6 718 1123.7 731 1123.8 730 1123.9 733 1124.0 757 1124.1 734 1124.2 730 1124.3 715 1124.4 715 1124.5 739 1124.6 736 1124.7 719 1124.8 725 1124.9 708 1124.9 721 1125.0 721 1125.1 725 1125.2 739 1125.3 708 1125.4 735 1125.5 712 1125.6 731 1125.7 758 1125.8 726 1125.9 737 1126.0 740 1126.1 729 1126.2 743 1126.3 717 1126.4 704 1126.5 717 1126.5 719 1126.6 712 1126.7 725 1126.8 714 1126.9 718 1127.0 714 1127.1 740 1127.2 738 1127.3 703 1127.4 730 1127.5 721 1127.6 720 1127.7 709 1127.8 732 1127.9 727 1128.0 710 1128.1 709 1128.1 719 1128.2 731 1128.3 733 1128.4 702 1128.5 714 1128.6 709 1128.7 672 1128.8 702 1128.9 729 1129.0 718 1129.1 701 1129.2 720 1129.3 733 1129.4 719 1129.5 717 1129.6 720 1129.7 744 1129.7 714 1129.8 710 1129.9 729 1130.0 738 1130.1 734 1130.2 729 1130.3 717 1130.4 691 1130.5 730 1130.6 729 1130.7 750 1130.8 725 1130.9 713 1131.0 719 1131.1 736 1131.2 718 1131.3 731 1131.3 732 1131.4 735 1131.5 721 1131.6 717 1131.7 715 1131.8 717 1131.9 695 1132.0 740 1132.1 700 1132.2 735 1132.3 712 1132.4 711 1132.5 704 1132.6 730 1132.7 708 1132.8 703 1132.9 712 1132.9 725 1133.0 737 1133.1 712 1133.2 715 1133.3 721 1133.4 714 1133.5 741 1133.6 712 1133.7 735 1133.8 688 1133.9 738 1134.0 744 1134.1 737 1134.2 719 1134.3 713 1134.4 702 1134.4 713 1134.5 724 1134.6 704 1134.7 743 1134.8 733 1134.9 702 1135.0 698 1135.1 710 1135.2 719 1135.3 713 1135.4 727 1135.5 732 1135.6 720 1135.7 727 1135.8 720 1135.9 727 1136.0 751 1136.0 724 1136.1 720 1136.2 737 1136.3 693 1136.4 733 1136.5 705 1136.6 711 1136.7 732 1136.8 712 1136.9 719 1137.0 731 1137.1 725 1137.2 704 1137.3 703 1137.4 714 1137.5 734 1137.6 721 1137.6 723 1137.7 735 1137.8 735 1137.9 733 1138.0 733 1138.1 727 1138.2 678 1138.3 697 1138.4 738 1138.5 680 1138.6 707 1138.7 729 1138.8 723 1138.9 727 1139.0 729 1139.1 708 1139.2 722 1139.2 742 1139.3 718 1139.4 711 1139.5 689 1139.6 722 1139.7 710 1139.8 720 1139.9 718 1140.0 728 1140.1 744 1140.2 719 1140.3 719 1140.4 725 1140.5 701 1140.6 697 1140.7 728 1140.8 722 1140.8 744 1140.9 737 1141.0 721 1141.1 723 1141.2 712 1141.3 701 1141.4 722 1141.5 723 1141.6 717 1141.7 721 1141.8 712 1141.9 747 1142.0 710 1142.1 728 1142.2 704 1142.3 724 1142.4 726 1142.4 735 1142.5 722 1142.6 703 1142.7 745 1142.8 698 1142.9 732 1143.0 730 1143.1 737 1143.2 734 1143.3 735 1143.4 727 1143.5 724 1143.6 730 1143.7 773 1143.8 715 1143.9 706 1144.0 728 1144.0 723 1144.1 682 1144.2 717 1144.3 726 1144.4 712 1144.5 720 1144.6 713 1144.7 725 1144.8 715 1144.9 703 1145.0 741 1145.1 710 1145.2 733 1145.3 700 1145.4 702 1145.5 722 1145.6 724 1145.6 698 1145.7 709 1145.8 697 1145.9 717 1146.0 727 1146.1 742 1146.2 747 1146.3 710 1146.4 709 1146.5 697 1146.6 711 1146.7 711 1146.8 714 1146.9 705 1147.0 717 1147.1 740 1147.2 724 1147.2 712 1147.3 708 1147.4 721 1147.5 691 1147.6 714 1147.7 717 1147.8 725 1147.9 726 1148.0 723 1148.1 734 1148.2 734 1148.3 726 1148.4 731 1148.5 725 1148.6 722 1148.7 731 1148.8 710 1148.8 710 1148.9 718 1149.0 724 1149.1 729 1149.2 745 1149.3 698 1149.4 732 1149.5 718 1149.6 732 1149.7 729 1149.8 727 1149.9 745 1150.0 718 1150.1 703 1150.2 698 1150.3 719 1150.3 723 1150.4 708 1150.5 699 1150.6 747 1150.7 711 1150.8 710 1150.9 732 1151.0 770 1151.1 690 1151.2 730 1151.3 733 1151.4 707 1151.5 754 1151.6 737 1151.7 716 1151.8 704 1151.9 739 1151.9 746 1152.0 719 1152.1 727 1152.2 758 1152.3 713 1152.4 735 1152.5 713 1152.6 706 1152.7 729 1152.8 722 1152.9 735 1153.0 699 1153.1 727 1153.2 722 1153.3 713 1153.4 703 1153.5 710 1153.5 692 1153.6 712 1153.7 726 1153.8 736 1153.9 725 1154.0 710 1154.1 722 1154.2 721 1154.3 733 1154.4 732 1154.5 737 1154.6 724 1154.7 728 1154.8 693 1154.9 749 1155.0 722 1155.1 719 1155.1 721 1155.2 710 1155.3 716 1155.4 725 1155.5 724 1155.6 707 1155.7 745 1155.8 734 1155.9 740 1156.0 694 1156.1 746 1156.2 734 1156.3 734 1156.4 726 1156.5 714 1156.6 715 1156.7 715 1156.7 720 1156.8 714 1156.9 734 1157.0 725 1157.1 703 1157.2 691 1157.3 714 1157.4 752 1157.5 752 1157.6 718 1157.7 716 1157.8 715 1157.9 727 1158.0 732 1158.1 691 1158.2 725 1158.3 723 1158.3 735 1158.4 747 1158.5 739 1158.6 723 1158.7 702 1158.8 743 1158.9 738 1159.0 722 1159.1 715 1159.2 721 1159.3 715 1159.4 729 1159.5 701 1159.6 715 1159.7 733 1159.8 686 1159.9 736 1159.9 729 1160.0 723 1160.1 711 1160.2 716 1160.3 701 1160.4 712 1160.5 721 1160.6 714 1160.7 746 1160.8 744 1160.9 724 1161.0 724 1161.1 714 1161.2 729 1161.3 729 1161.4 710 1161.5 716 1161.5 722 1161.6 721 1161.7 718 1161.8 710 1161.9 713 1162.0 742 1162.1 713 1162.2 746 1162.3 718 1162.4 715 1162.5 736 1162.6 695 1162.7 724 1162.8 719 1162.9 732 1163.0 713 1163.1 713 1163.1 715 1163.2 694 1163.3 700 1163.4 748 1163.5 729 1163.6 730 1163.7 724 1163.8 736 1163.9 725 1164.0 684 1164.1 727 1164.2 712 1164.3 711 1164.4 710 1164.5 710 1164.6 731 1164.7 728 1164.7 731 1164.8 697 1164.9 707 1165.0 732 1165.1 720 1165.2 716 1165.3 720 1165.4 720 1165.5 737 1165.6 713 1165.7 729 1165.8 734 1165.9 708 1166.0 719 1166.1 706 1166.2 742 1166.2 715 1166.3 711 1166.4 722 1166.5 719 1166.6 734 1166.7 727 1166.8 707 1166.9 697 1167.0 714 1167.1 748 1167.2 729 1167.3 745 1167.4 708 1167.5 712 1167.6 718 1167.7 723 1167.8 739 1167.8 739 1167.9 729 1168.0 728 1168.1 752 1168.2 734 1168.3 718 1168.4 750 1168.5 734 1168.6 751 1168.7 754 1168.8 710 1168.9 708 1169.0 757 1169.1 735 1169.2 693 1169.3 737 1169.4 730 1169.4 730 1169.5 728 1169.6 737 1169.7 694 1169.8 700 1169.9 714 1170.0 744 1170.1 744 1170.2 707 1170.3 733 1170.4 713 1170.5 728 1170.6 736 1170.7 728 1170.8 732 1170.9 695 1171.0 747 1171.0 727 1171.1 703 1171.2 727 1171.3 725 1171.4 709 1171.5 714 1171.6 721 1171.7 739 1171.8 722 1171.9 727 1172.0 711 1172.1 702 1172.2 734 1172.3 691 1172.4 691 1172.5 712 1172.6 739 1172.6 720 1172.7 738 1172.8 741 1172.9 715 1173.0 714 1173.1 741 1173.2 718 1173.3 711 1173.4 734 1173.5 721 1173.6 739 1173.7 729 1173.8 689 1173.9 720 1174.0 725 1174.1 718 1174.2 728 1174.2 718 1174.3 723 1174.4 735 1174.5 715 1174.6 739 1174.7 730 1174.8 709 1174.9 705 1175.0 710 1175.1 728 1175.2 728 1175.3 728 1175.4 699 1175.5 746 1175.6 694 1175.7 710 1175.8 739 1175.8 764 1175.9 754 1176.0 715 1176.1 714 1176.2 740 1176.3 729 1176.4 738 1176.5 711 1176.6 735 1176.7 723 1176.8 723 1176.9 720 1177.0 725 1177.1 716 1177.2 696 1177.3 714 1177.4 726 1177.4 746 1177.5 732 1177.6 725 1177.7 714 1177.8 730 1177.9 711 1178.0 721 1178.1 704 1178.2 713 1178.3 768 1178.4 748 1178.5 701 1178.6 709 1178.7 719 1178.8 731 1178.9 749 1179.0 700 1179.0 732 1179.1 723 1179.2 714 1179.3 729 1179.4 701 1179.5 727 1179.6 727 1179.7 689 1179.8 708 1179.9 707 1180.0 714 1180.1 720 1180.2 699 1180.3 710 1180.4 748 1180.5 698 1180.6 713 1180.6 716 1180.7 706 1180.8 726 1180.9 696 1181.0 719 1181.1 702 1181.2 733 1181.3 712 1181.4 727 1181.5 731 1181.6 708 1181.7 723 1181.8 717 1181.9 712 1182.0 718 1182.1 718 1182.1 718 1182.2 718 1182.3 714 1182.4 721 1182.5 737 1182.6 722 1182.7 729 1182.8 729 1182.9 701 1183.0 708 1183.1 720 1183.2 756 1183.3 747 1183.4 722 1183.5 692 1183.6 708 1183.7 730 1183.7 718 1183.8 706 1183.9 694 1184.0 737 1184.1 689 1184.2 714 1184.3 715 1184.4 712 1184.5 706 1184.6 708 1184.7 710 1184.8 716 1184.9 727 1185.0 692 1185.1 748 1185.2 733 1185.3 727 1185.3 723 1185.4 716 1185.5 736 1185.6 734 1185.7 739 1185.8 703 1185.9 725 1186.0 694 1186.1 716 1186.2 723 1186.3 739 1186.4 715 1186.5 734 1186.6 688 1186.7 730 1186.8 719 1186.9 747 1186.9 737 1187.0 728 1187.1 712 1187.2 705 1187.3 695 1187.4 729 1187.5 731 1187.6 710 1187.7 739 1187.8 710 1187.9 735 1188.0 736 1188.1 735 1188.2 714 1188.3 708 1188.4 737 1188.5 688 1188.5 709 1188.6 697 1188.7 716 1188.8 761 1188.9 727 1189.0 703 1189.1 706 1189.2 690 1189.3 723 1189.4 727 1189.5 733 1189.6 723 1189.7 713 1189.8 727 1189.9 716 1190.0 709 1190.1 736 1190.1 718 1190.2 697 1190.3 696 1190.4 720 1190.5 711 1190.6 739 1190.7 721 1190.8 739 1190.9 706 1191.0 758 1191.1 716 1191.2 719 1191.3 725 1191.4 718 1191.5 699 1191.6 742 1191.7 687 1191.7 723 1191.8 741 1191.9 729 1192.0 723 1192.1 722 1192.2 723 1192.3 721 1192.4 718 1192.5 741 1192.6 703 1192.7 720 1192.8 727 1192.9 713 1193.0 707 1193.1 754 1193.2 728 1193.3 719 1193.3 730 1193.4 712 1193.5 710 1193.6 719 1193.7 725 1193.8 708 1193.9 742 1194.0 721 1194.1 720 1194.2 735 1194.3 728 1194.4 716 1194.5 749 1194.6 707 1194.7 709 1194.8 718 1194.9 694 1194.9 722 1195.0 718 1195.1 738 1195.2 714 1195.3 707 1195.4 717 1195.5 718 1195.6 720 1195.7 766 1195.8 687 1195.9 732 1196.0 723 1196.1 713 1196.2 719 1196.3 727 1196.4 746 1196.5 729 1196.5 711 1196.6 713 1196.7 721 1196.8 753 1196.9 700 1197.0 722 1197.1 715 1197.2 721 1197.3 709 1197.4 741 1197.5 718 1197.6 703 1197.7 717 1197.8 736 1197.9 712 1198.0 740 1198.0 716 1198.1 714 1198.2 708 1198.3 752 1198.4 700 1198.5 715 1198.6 720 1198.7 738 1198.8 705 1198.9 749 1199.0 676 1199.1 707 1199.2 703 1199.3 724 1199.4 723 1199.5 714 1199.6 718 1199.6 706 1199.7 710 1199.8 702 1199.9 695 1200.0 741 1200.1 736 1200.2 717 1200.3 742 1200.4 709 1200.5 727 1200.6 708 1200.7 731 1200.8 716 1200.9 723 1201.0 704 1201.1 726 1201.2 718 1201.2 730 1201.3 721 1201.4 720 1201.5 745 1201.6 723 1201.7 712 1201.8 697 1201.9 718 1202.0 735 1202.1 717 1202.2 721 1202.3 726 1202.4 710 1202.5 749 1202.6 742 1202.7 726 1202.8 725 1202.8 715 1202.9 718 1203.0 729 1203.1 686 1203.2 704 1203.3 690 1203.4 729 1203.5 722 1203.6 720 1203.7 730 1203.8 688 1203.9 723 1204.0 708 1204.1 708 1204.2 721 1204.3 728 1204.4 724 1204.4 729 1204.5 732 1204.6 700 1204.7 723 1204.8 728 1204.9 735 1205.0 714 1205.1 734 1205.2 742 1205.3 732 1205.4 722 1205.5 701 1205.6 721 1205.7 688 1205.8 725 1205.9 722 1206.0 719 1206.0 716 1206.1 733 1206.2 697 1206.3 734 1206.4 692 1206.5 715 1206.6 733 1206.7 727 1206.8 720 1206.9 727 1207.0 712 1207.1 738 1207.2 727 1207.3 710 1207.4 727 1207.5 720 1207.6 725 1207.6 700 1207.7 742 1207.8 750 1207.9 718 1208.0 705 1208.1 741 1208.2 752 1208.3 699 1208.4 710 1208.5 726 1208.6 721 1208.7 733 1208.8 728 1208.9 735 1209.0 744 1209.1 694 1209.2 722 1209.2 710 1209.3 724 1209.4 736 1209.5 746 1209.6 747 1209.7 747 1209.8 718 1209.9 693 1210.0 725 1210.1 697 1210.2 710 1210.3 715 1210.4 696 1210.5 718 1210.6 722 1210.7 726 1210.8 724 1210.8 744 1210.9 745 1211.0 743 1211.1 695 1211.2 714 1211.3 694 1211.4 735 1211.5 699 1211.6 719 1211.7 722 1211.8 721 1211.9 718 1212.0 757 1212.1 731 1212.2 727 1212.3 739 1212.4 727 1212.4 727 1212.5 721 1212.6 704 1212.7 727 1212.8 723 1212.9 706 1213.0 717 1213.1 733 1213.2 691 1213.3 701 1213.4 713 1213.5 738 1213.6 717 1213.7 758 1213.8 712 1213.9 712 1213.9 743 1214.0 734 1214.1 720 1214.2 701 1214.3 720 1214.4 720 1214.5 717 1214.6 724 1214.7 697 1214.8 701 1214.9 757 1215.0 743 1215.1 739 1215.2 727 1215.3 710 1215.4 708 1215.5 739 1215.5 699 1215.6 710 1215.7 682 1215.8 718 1215.9 729 1216.0 741 1216.1 737 1216.2 725 1216.3 705 1216.4 722 1216.5 717 1216.6 722 1216.7 709 1216.8 710 1216.9 732 1217.0 710 1217.1 710 1217.1 710 1217.2 730 1217.3 736 1217.4 724 1217.5 715 1217.6 720 1217.7 727 1217.8 705 1217.9 695 1218.0 699 1218.1 720 1218.2 724 1218.3 703 1218.4 720 1218.5 724 1218.6 700 1218.7 685 1218.7 689 1218.8 710 1218.9 692 1219.0 715 1219.1 716 1219.2 727 1219.3 713 1219.4 706 1219.5 715 1219.6 728 1219.7 732 1219.8 728 1219.9 699 1220.0 731 1220.1 745 1220.2 736 1220.3 699 1220.3 732 1220.4 733 1220.5 747 1220.6 740 1220.7 741 1220.8 712 1220.9 724 1221.0 738 1221.1 716 1221.2 715 1221.3 724 1221.4 748 1221.5 725 1221.6 721 1221.7 716 1221.8 750 1221.9 696 1221.9 716 1222.0 664 1222.1 711 1222.2 709 1222.3 726 1222.4 737 1222.5 721 1222.6 742 1222.7 740 1222.8 704 1222.9 720 1223.0 729 1223.1 735 1223.2 723 1223.3 740 1223.4 711 1223.5 726 1223.5 721 1223.6 708 1223.7 737 1223.8 699 1223.9 715 1224.0 707 1224.1 707 1224.2 729 1224.3 707 1224.4 705 1224.5 730 1224.6 712 1224.7 705 1224.8 743 1224.9 736 1225.0 733 1225.1 707 1225.1 739 1225.2 701 1225.3 705 1225.4 696 1225.5 681 1225.6 711 1225.7 687 1225.8 726 1225.9 672 1226.0 709 1226.1 741 1226.2 725 1226.3 726 1226.4 712 1226.5 723 1226.6 725 1226.7 691 1226.7 720 1226.8 704 1226.9 721 1227.0 710 1227.1 734 1227.2 730 1227.3 725 1227.4 726 1227.5 718 1227.6 726 1227.7 735 1227.8 704 1227.9 731 1228.0 725 1228.1 698 1228.2 734 1228.2 702 1228.3 717 1228.4 703 1228.5 710 1228.6 727 1228.7 699 1228.8 725 1228.9 690 1229.0 731 1229.1 706 1229.2 702 1229.3 692 1229.4 718 1229.5 753 1229.6 718 1229.7 745 1229.8 736 1229.8 725 1229.9 715 1230.0 730 1230.1 722 1230.2 724 1230.3 738 1230.4 682 1230.5 690 1230.6 717 1230.7 722 1230.8 734 1230.9 695 1231.0 704 1231.1 731 1231.2 692 1231.3 706 1231.4 730 1231.4 738 1231.5 722 1231.6 710 1231.7 724 1231.8 706 1231.9 708 1232.0 726 1232.1 711 1232.2 692 1232.3 713 1232.4 701 1232.5 753 1232.6 727 1232.7 707 1232.8 719 1232.9 707 1233.0 710 1233.0 696 1233.1 753 1233.2 709 1233.3 717 1233.4 734 1233.5 694 1233.6 741 1233.7 705 1233.8 719 1233.9 703 1234.0 724 1234.1 703 1234.2 715 1234.3 722 1234.4 735 1234.5 740 1234.6 717 1234.6 750 1234.7 705 1234.8 713 1234.9 703 1235.0 733 1235.1 721 1235.2 715 1235.3 707 1235.4 714 1235.5 721 1235.6 723 1235.7 726 1235.8 714 1235.9 709 1236.0 695 1236.1 715 1236.2 719 1236.2 722 1236.3 709 1236.4 710 1236.5 703 1236.6 723 1236.7 730 1236.8 710 1236.9 729 1237.0 721 1237.1 694 1237.2 713 1237.3 728 1237.4 714 1237.5 728 1237.6 701 1237.7 696 1237.8 744 1237.8 703 1237.9 702 1238.0 724 1238.1 730 1238.2 722 1238.3 724 1238.4 717 1238.5 723 1238.6 741 1238.7 733 1238.8 713 1238.9 712 1239.0 701 1239.1 720 1239.2 708 1239.3 721 1239.4 701 1239.4 726 1239.5 696 1239.6 699 1239.7 676 1239.8 708 1239.9 711 1240.0 694 1240.1 728 1240.2 728 1240.3 725 1240.4 704 1240.5 712 1240.6 741 1240.7 701 1240.8 736 1240.9 716 1241.0 698 1241.0 716 1241.1 706 1241.2 698 1241.3 691 1241.4 722 1241.5 728 1241.6 718 1241.7 690 1241.8 704 1241.9 741 1242.0 709 1242.1 732 1242.2 723 1242.3 707 1242.4 737 1242.5 769 1242.6 681 1242.6 707 1242.7 727 1242.8 717 1242.9 734 1243.0 705 1243.1 695 1243.2 720 1243.3 721 1243.4 713 1243.5 737 1243.6 715 1243.7 701 1243.8 737 1243.9 713 1244.0 711 1244.1 730 1244.1 695 1244.2 702 1244.3 731 1244.4 730 1244.5 759 1244.6 732 1244.7 695 1244.8 703 1244.9 700 1245.0 686 1245.1 714 1245.2 716 1245.3 716 1245.4 740 1245.5 744 1245.6 713 1245.7 714 1245.7 704 1245.8 743 1245.9 723 1246.0 731 1246.1 692 1246.2 710 1246.3 731 1246.4 736 1246.5 723 1246.6 724 1246.7 731 1246.8 713 1246.9 744 1247.0 749 1247.1 728 1247.2 722 1247.3 705 1247.3 711 1247.4 708 1247.5 726 1247.6 705 1247.7 734 1247.8 715 1247.9 724 1248.0 731 1248.1 709 1248.2 715 1248.3 723 1248.4 733 1248.5 725 1248.6 734 1248.7 707 1248.8 703 1248.9 703 1248.9 716 1249.0 695 1249.1 735 1249.2 724 1249.3 728 1249.4 736 1249.5 721 1249.6 730 1249.7 710 1249.8 718 1249.9 739 1250.0 717 1250.1 736 1250.2 731 1250.3 712 1250.4 699 1250.5 703 1250.5 712 1250.6 731 1250.7 725 1250.8 706 1250.9 724 1251.0 749 1251.1 732 1251.2 729 1251.3 705 1251.4 722 1251.5 716 1251.6 736 1251.7 717 1251.8 727 1251.9 697 1252.0 732 1252.1 760 1252.1 703 1252.2 728 1252.3 717 1252.4 743 1252.5 746 1252.6 728 1252.7 709 1252.8 713 1252.9 699 1253.0 738 1253.1 727 1253.2 717 1253.3 715 1253.4 729 1253.5 717 1253.6 709 1253.7 736 1253.7 744 1253.8 700 1253.9 728 1254.0 732 1254.1 763 1254.2 718 1254.3 739 1254.4 716 1254.5 730 1254.6 719 1254.7 734 1254.8 723 1254.9 736 1255.0 738 1255.1 727 1255.2 708 1255.3 740 1255.3 692 1255.4 733 1255.5 714 1255.6 708 1255.7 716 1255.8 716 1255.9 718 1256.0 701 1256.1 708 1256.2 724 1256.3 706 1256.4 711 1256.5 727 1256.6 743 1256.7 730 1256.8 724 1256.9 717 1256.9 688 1257.0 741 1257.1 712 1257.2 737 1257.3 713 1257.4 739 1257.5 699 1257.6 707 1257.7 683 1257.8 723 1257.9 706 1258.0 727 1258.1 714 1258.2 725 1258.3 702 1258.4 674 1258.5 735 1258.5 733 1258.6 714 1258.7 726 1258.8 739 1258.9 720 1259.0 719 1259.1 720 1259.2 758 1259.3 704 1259.4 702 1259.5 716 1259.6 699 1259.7 708 1259.8 699 1259.9 727 1260.0 728 1260.0 741 1260.1 726 1260.2 673 1260.3 695 1260.4 727 1260.5 740 1260.6 700 1260.7 733 1260.8 729 1260.9 732 1261.0 711 1261.1 714 1261.2 720 1261.3 730 1261.4 704 1261.5 713 1261.6 709 1261.6 726 1261.7 738 1261.8 734 1261.9 722 1262.0 733 1262.1 733 1262.2 706 1262.3 737 1262.4 707 1262.5 726 1262.6 698 1262.7 717 1262.8 701 1262.9 725 1263.0 741 1263.1 700 1263.2 689 1263.2 734 1263.3 712 1263.4 718 1263.5 744 1263.6 745 1263.7 718 1263.8 718 1263.9 715 1264.0 728 1264.1 725 1264.2 726 1264.3 733 1264.4 714 1264.5 733 1264.6 704 1264.7 680 1264.8 718 1264.8 694 1264.9 728 1265.0 711 1265.1 734 1265.2 718 1265.3 685 1265.4 706 1265.5 765 1265.6 704 1265.7 745 1265.8 727 1265.9 737 1266.0 720 1266.1 723 1266.2 699 1266.3 730 1266.4 726 1266.4 716 1266.5 692 1266.6 704 1266.7 697 1266.8 716 1266.9 674 1267.0 713 1267.1 704 1267.2 694 1267.3 714 1267.4 708 1267.5 718 1267.6 728 1267.7 716 1267.8 714 1267.9 709 1268.0 737 1268.0 717 1268.1 700 1268.2 740 1268.3 707 1268.4 735 1268.5 684 1268.6 704 1268.7 729 1268.8 706 1268.9 747 1269.0 726 1269.1 742 1269.2 739 1269.3 723 1269.4 725 1269.5 735 1269.6 736 1269.6 736 1269.7 708 1269.8 745 1269.9 723 1270.0 711 1270.1 719 1270.2 716 1270.3 713 1270.4 705 1270.5 708 1270.6 712 1270.7 734 1270.8 720 1270.9 695 1271.0 706 1271.1 713 1271.2 743 1271.2 726 1271.3 730 1271.4 702 1271.5 736 1271.6 732 1271.7 731 1271.8 725 1271.9 742 1272.0 728 1272.1 735 1272.2 707 1272.3 720 1272.4 712 1272.5 727 1272.6 711 1272.7 716 1272.8 727 1272.8 712 1272.9 713 1273.0 748 1273.1 703 1273.2 715 1273.3 715 1273.4 721 1273.5 712 1273.6 724 1273.7 724 1273.8 740 1273.9 752 1274.0 697 1274.1 697 1274.2 743 1274.3 713 1274.4 719 1274.4 730 1274.5 726 1274.6 719 1274.7 724 1274.8 711 1274.9 699 1275.0 705 1275.1 728 1275.2 722 1275.3 721 1275.4 715 1275.5 705 1275.6 706 1275.7 691 1275.8 729 1275.9 714 1275.9 720 1276.0 718 1276.1 738 1276.2 712 1276.3 712 1276.4 714 1276.5 692 1276.6 711 1276.7 702 1276.8 725 1276.9 748 1277.0 725 1277.1 734 1277.2 708 1277.3 739 1277.4 723 1277.5 710 1277.5 735 1277.6 721 1277.7 720 1277.8 712 1277.9 727 1278.0 706 1278.1 698 1278.2 719 1278.3 737 1278.4 684 1278.5 740 1278.6 725 1278.7 713 1278.8 741 1278.9 708 1279.0 730 1279.1 744 1279.1 732 1279.2 706 1279.3 722 1279.4 718 1279.5 724 1279.6 714 1279.7 729 1279.8 724 1279.9 727 1280.0 731 1280.1 728 1280.2 706 1280.3 714 1280.4 727 1280.5 740 1280.6 724 1280.7 734 1280.7 726 1280.8 708 1280.9 742 1281.0 715 1281.1 744 1281.2 702 1281.3 729 1281.4 710 1281.5 701 1281.6 729 1281.7 717 1281.8 717 1281.9 722 1282.0 739 1282.1 695 1282.2 696 1282.3 714 1282.3 720 1282.4 736 1282.5 727 1282.6 715 1282.7 715 1282.8 704 1282.9 710 1283.0 737 1283.1 697 1283.2 741 1283.3 729 1283.4 733 1283.5 721 1283.6 706 1283.7 716 1283.8 742 1283.9 755 1283.9 714 1284.0 703 1284.1 708 1284.2 718 1284.3 730 1284.4 737 1284.5 716 1284.6 715 1284.7 743 1284.8 708 1284.9 701 1285.0 734 1285.1 710 1285.2 725 1285.3 731 1285.4 727 1285.5 722 1285.5 706 1285.6 733 1285.7 706 1285.8 723 1285.9 693 1286.0 753 1286.1 688 1286.2 721 1286.3 697 1286.4 743 1286.5 727 1286.6 721 1286.7 717 1286.8 720 1286.9 722 1287.0 711 1287.1 746 1287.1 721 1287.2 764 1287.3 721 1287.4 734 1287.5 720 1287.6 727 1287.7 719 1287.8 728 1287.9 718 1288.0 696 1288.1 703 1288.2 733 1288.3 708 1288.4 725 1288.5 741 1288.6 710 1288.7 732 1288.7 728 1288.8 704 1288.9 693 1289.0 725 1289.1 702 1289.2 703 1289.3 725 1289.4 730 1289.5 718 1289.6 733 1289.7 715 1289.8 711 1289.9 741 1290.0 682 1290.1 707 1290.2 719 1290.3 718 1290.3 758 1290.4 682 1290.5 705 1290.6 702 1290.7 711 1290.8 743 1290.9 733 1291.0 711 1291.1 700 1291.2 704 1291.3 703 1291.4 737 1291.5 726 1291.6 722 1291.7 707 1291.8 712 1291.8 695 1291.9 686 1292.0 735 1292.1 710 1292.2 715 1292.3 704 1292.4 725 1292.5 712 1292.6 707 1292.7 696 1292.8 758 1292.9 700 1293.0 756 1293.1 712 1293.2 721 1293.3 707 1293.4 726 1293.4 751 1293.5 697 1293.6 723 1293.7 695 1293.8 727 1293.9 713 1294.0 707 1294.1 719 1294.2 709 1294.3 710 1294.4 731 1294.5 726 1294.6 748 1294.7 757 1294.8 722 1294.9 701 1295.0 747 1295.0 706 1295.1 726 1295.2 721 1295.3 709 1295.4 712 1295.5 720 1295.6 706 1295.7 727 1295.8 734 1295.9 757 1296.0 713 1296.1 744 1296.2 729 1296.3 746 1296.4 733 1296.5 735 1296.6 691 1296.6 720 1296.7 706 1296.8 716 1296.9 737 1297.0 686 1297.1 721 1297.2 733 1297.3 718 1297.4 706 1297.5 715 1297.6 714 1297.7 717 1297.8 730 1297.9 743 1298.0 726 1298.1 727 1298.2 697 1298.2 733 1298.3 716 1298.4 717 1298.5 715 1298.6 727 1298.7 717 1298.8 747 1298.9 719 1299.0 728 1299.1 723 1299.2 725 1299.3 712 1299.4 732 1299.5 719 1299.6 734 1299.7 732 1299.8 721 1299.8 721 1299.9 687 1300.0 692 1300.1 738 1300.2 736 1300.3 747 1300.4 715 1300.5 693 1300.6 742 1300.7 698 1300.8 720 1300.9 723 1301.0 718 1301.1 728 1301.2 721 1301.3 713 1301.4 727 1301.4 707 1301.5 708 1301.6 739 1301.7 718 1301.8 743 1301.9 720 1302.0 721 1302.1 709 1302.2 712 1302.3 726 1302.4 704 1302.5 728 1302.6 708 1302.7 738 1302.8 749 1302.9 727 1303.0 708 1303.0 722 1303.1 706 1303.2 699 1303.3 689 1303.4 736 1303.5 742 1303.6 724 1303.7 718 1303.8 718 1303.9 744 1304.0 732 1304.1 721 1304.2 721 1304.3 704 1304.4 716 1304.5 722 1304.6 721 1304.6 715 1304.7 701 1304.8 751 1304.9 716 1305.0 715 1305.1 720 1305.2 710 1305.3 722 1305.4 727 1305.5 723 1305.6 722 1305.7 691 1305.8 713 1305.9 708 1306.0 700 1306.1 734 1306.2 728 1306.2 732 1306.3 709 1306.4 706 1306.5 734 1306.6 740 1306.7 713 1306.8 711 1306.9 726 1307.0 740 1307.1 748 1307.2 738 1307.3 707 1307.4 703 1307.5 709 1307.6 726 1307.7 694 1307.7 678 1307.8 722 1307.9 729 1308.0 725 1308.1 707 1308.2 733 1308.3 695 1308.4 741 1308.5 716 1308.6 711 1308.7 713 1308.8 715 1308.9 722 1309.0 749 1309.1 765 1309.2 715 1309.3 721 1309.3 716 1309.4 708 1309.5 759 1309.6 690 1309.7 695 1309.8 729 1309.9 702 1310.0 723 1310.1 738 1310.2 744 1310.3 707 1310.4 720 1310.5 716 1310.6 710 1310.7 719 1310.8 692 1310.9 726 1310.9 720 1311.0 712 1311.1 729 1311.2 702 1311.3 710 1311.4 726 1311.5 698 1311.6 710 1311.7 749 1311.8 727 1311.9 740 1312.0 709 1312.1 712 1312.2 727 1312.3 730 1312.4 693 1312.5 712 1312.5 691 1312.6 738 1312.7 726 1312.8 724 1312.9 720 1313.0 739 1313.1 719 1313.2 745 1313.3 727 1313.4 714 1313.5 728 1313.6 720 1313.7 725 1313.8 707 1313.9 707 1314.0 722 1314.1 715 1314.1 765 1314.2 698 1314.3 729 1314.4 712 1314.5 707 1314.6 736 1314.7 741 1314.8 743 1314.9 716 1315.0 716 1315.1 708 1315.2 727 1315.3 739 1315.4 732 1315.5 734 1315.6 724 1315.7 725 1315.7 744 1315.8 723 1315.9 715 1316.0 714 1316.1 731 1316.2 739 1316.3 739 1316.4 723 1316.5 739 1316.6 703 1316.7 703 1316.8 740 1316.9 715 1317.0 712 1317.1 719 1317.2 707 1317.3 752 1317.3 710 1317.4 709 1317.5 742 1317.6 750 1317.7 721 1317.8 715 1317.9 710 1318.0 733 1318.1 711 1318.2 733 1318.3 726 1318.4 751 1318.5 715 1318.6 697 1318.7 728 1318.8 746 1318.9 731 1318.9 713 1319.0 698 1319.1 729 1319.2 722 1319.3 741 1319.4 722 1319.5 704 1319.6 727 1319.7 709 1319.8 714 1319.9 716 1320.0 706 1320.1 732 1320.2 751 1320.3 716 1320.4 707 1320.5 708 1320.5 735 1320.6 705 1320.7 724 1320.8 702 1320.9 702 1321.0 724 1321.1 718 1321.2 727 1321.3 727 1321.4 735 1321.5 701 1321.6 693 1321.7 714 1321.8 706 1321.9 721 1322.0 714 1322.1 724 1322.1 725 1322.2 702 1322.3 702 1322.4 722 1322.5 744 1322.6 719 1322.7 743 1322.8 743 1322.9 722 1323.0 712 1323.1 709 1323.2 735 1323.3 730 1323.4 709 1323.5 692 1323.6 718 1323.6 730 1323.7 725 1323.8 714 1323.9 718 1324.0 706 1324.1 718 1324.2 708 1324.3 726 1324.4 671 1324.5 720 1324.6 750 1324.7 732 1324.8 711 1324.9 717 1325.0 708 1325.1 727 1325.2 732 1325.2 702 1325.3 703 1325.4 714 1325.5 713 1325.6 721 1325.7 712 1325.8 724 1325.9 697 1326.0 726 1326.1 701 1326.2 729 1326.3 728 1326.4 694 1326.5 733 1326.6 728 1326.7 700 1326.8 723 1326.8 693 1326.9 728 1327.0 709 1327.1 707 1327.2 680 1327.3 730 1327.4 698 1327.5 748 1327.6 697 1327.7 728 1327.8 666 1327.9 740 1328.0 702 1328.1 729 1328.2 728 1328.3 740 1328.4 711 1328.4 756 1328.5 723 1328.6 721 1328.7 721 1328.8 687 1328.9 725 1329.0 731 1329.1 752 1329.2 710 1329.3 722 1329.4 726 1329.5 701 1329.6 742 1329.7 741 1329.8 735 1329.9 722 1330.0 717 1330.0 725 1330.1 696 1330.2 732 1330.3 730 1330.4 733 1330.5 724 1330.6 715 1330.7 709 1330.8 708 1330.9 715 1331.0 741 1331.1 722 1331.2 709 1331.3 751 1331.4 718 1331.5 724 1331.6 698 1331.6 733 1331.7 731 1331.8 755 1331.9 702 1332.0 715 1332.1 693 1332.2 714 1332.3 726 1332.4 714 1332.5 731 1332.6 726 1332.7 725 1332.8 738 1332.9 725 1333.0 726 1333.1 694 1333.2 723 1333.2 714 1333.3 718 1333.4 726 1333.5 714 1333.6 737 1333.7 697 1333.8 741 1333.9 718 1334.0 722 1334.1 727 1334.2 751 1334.3 713 1334.4 729 1334.5 683 1334.6 740 1334.7 712 1334.8 692 1334.8 724 1334.9 718 1335.0 731 1335.1 750 1335.2 735 1335.3 746 1335.4 708 1335.5 711 1335.6 724 1335.7 697 1335.8 703 1335.9 708 1336.0 723 1336.1 712 1336.2 721 1336.3 725 1336.4 707 1336.4 716 1336.5 707 1336.6 714 1336.7 709 1336.8 708 1336.9 716 1337.0 729 1337.1 743 1337.2 704 1337.3 723 1337.4 702 1337.5 741 1337.6 706 1337.7 735 1337.8 713 1337.9 708 1337.9 729 1338.0 737 1338.1 704 1338.2 736 1338.3 726 1338.4 718 1338.5 706 1338.6 727 1338.7 715 1338.8 686 1338.9 714 1339.0 739 1339.1 707 1339.2 714 1339.3 743 1339.4 702 1339.5 724 1339.5 736 1339.6 717 1339.7 701 1339.8 707 1339.9 712 1340.0 725 1340.1 723 1340.2 731 1340.3 760 1340.4 740 1340.5 692 1340.6 727 1340.7 746 1340.8 715 1340.9 722 1341.0 720 1341.1 709 1341.1 711 1341.2 706 1341.3 713 1341.4 736 1341.5 733 1341.6 720 1341.7 726 1341.8 733 1341.9 673 1342.0 714 1342.1 744 1342.2 706 1342.3 722 1342.4 740 1342.5 750 1342.6 689 1342.7 694 1342.7 701 1342.8 709 1342.9 712 1343.0 702 1343.1 695 1343.2 720 1343.3 716 1343.4 728 1343.5 724 1343.6 731 1343.7 730 1343.8 729 1343.9 727 1344.0 725 1344.1 729 1344.2 719 1344.3 727 1344.3 711 1344.4 724 1344.5 692 1344.6 708 1344.7 700 1344.8 701 1344.9 677 1345.0 697 1345.1 729 1345.2 716 1345.3 737 1345.4 712 1345.5 724 1345.6 736 1345.7 720 1345.8 716 1345.9 735 1345.9 725 1346.0 714 1346.1 716 1346.2 704 1346.3 715 1346.4 690 1346.5 706 1346.6 710 1346.7 713 1346.8 717 1346.9 710 1347.0 688 1347.1 712 1347.2 742 1347.3 706 1347.4 719 1347.5 738 1347.5 726 1347.6 751 1347.7 709 1347.8 727 1347.9 686 1348.0 708 1348.1 701 1348.2 709 1348.3 718 1348.4 732 1348.5 708 1348.6 730 1348.7 720 1348.8 730 1348.9 707 1349.0 717 1349.1 701 1349.1 741 1349.2 719 1349.3 711 1349.4 726 1349.5 724 1349.6 720 1349.7 709 1349.8 754 1349.9 731 1350.0 694 1350.1 734 1350.2 686 1350.3 737 1350.4 706 1350.5 724 1350.6 737 1350.7 718 1350.7 727 1350.8 707 1350.9 714 1351.0 701 1351.1 709 1351.2 711 1351.3 732 1351.4 745 1351.5 705 1351.6 686 1351.7 697 1351.8 710 1351.9 704 1352.0 709 1352.1 714 1352.2 720 1352.3 718 1352.3 719 1352.4 722 1352.5 737 1352.6 731 1352.7 724 1352.8 728 1352.9 734 1353.0 705 1353.1 700 1353.2 738 1353.3 745 1353.4 710 1353.5 722 1353.6 721 1353.7 696 1353.8 725 1353.8 695 1353.9 699 1354.0 721 1354.1 694 1354.2 741 1354.3 729 1354.4 700 1354.5 715 1354.6 732 1354.7 722 1354.8 726 1354.9 720 1355.0 711 1355.1 719 1355.2 713 1355.3 713 1355.4 710 1355.4 708 1355.5 724 1355.6 744 1355.7 735 1355.8 712 1355.9 739 1356.0 684 1356.1 721 1356.2 712 1356.3 704 1356.4 713 1356.5 717 1356.6 707 1356.7 716 1356.8 733 1356.9 717 1357.0 710 1357.0 711 1357.1 709 1357.2 721 1357.3 712 1357.4 735 1357.5 709 1357.6 733 1357.7 725 1357.8 720 1357.9 698 1358.0 717 1358.1 705 1358.2 713 1358.3 735 1358.4 712 1358.5 714 1358.6 706 1358.6 691 1358.7 706 1358.8 714 1358.9 717 1359.0 690 1359.1 712 1359.2 682 1359.3 717 1359.4 730 1359.5 725 1359.6 755 1359.7 719 1359.8 719 1359.9 704 1360.0 723 1360.1 718 1360.2 726 1360.2 705 1360.3 691 1360.4 723 1360.5 698 1360.6 701 1360.7 723 1360.8 735 1360.9 711 1361.0 734 1361.1 705 1361.2 694 1361.3 701 1361.4 728 1361.5 709 1361.6 692 1361.7 704 1361.8 728 1361.8 710 1361.9 710 1362.0 689 1362.1 745 1362.2 717 1362.3 712 1362.4 722 1362.5 705 1362.6 704 1362.7 725 1362.8 728 1362.9 706 1363.0 741 1363.1 704 1363.2 724 1363.3 727 1363.4 716 1363.4 713 1363.5 729 1363.6 696 1363.7 753 1363.8 729 1363.9 727 1364.0 690 1364.1 739 1364.2 711 1364.3 723 1364.4 730 1364.5 715 1364.6 708 1364.7 712 1364.8 712 1364.9 729 1365.0 715 1365.0 702 1365.1 739 1365.2 719 1365.3 718 1365.4 713 1365.5 736 1365.6 730 1365.7 714 1365.8 717 1365.9 718 1366.0 697 1366.1 713 1366.2 709 1366.3 711 1366.4 707 1366.5 725 1366.6 738 1366.6 725 1366.7 765 1366.8 702 1366.9 725 1367.0 716 1367.1 718 1367.2 714 1367.3 709 1367.4 722 1367.5 702 1367.6 732 1367.7 693 1367.8 693 1367.9 731 1368.0 697 1368.1 714 1368.2 741 1368.2 708 1368.3 732 1368.4 726 1368.5 693 1368.6 727 1368.7 684 1368.8 699 1368.9 700 1369.0 700 1369.1 705 1369.2 713 1369.3 700 1369.4 697 1369.5 733 1369.6 734 1369.7 732 1369.7 749 1369.8 736 1369.9 700 1370.0 716 1370.1 748 1370.2 708 1370.3 721 1370.4 712 1370.5 723 1370.6 685 1370.7 720 1370.8 679 1370.9 722 1371.0 727 1371.1 707 1371.2 736 1371.3 728 1371.3 749 1371.4 739 1371.5 717 1371.6 722 1371.7 695 1371.8 704 1371.9 752 1372.0 705 1372.1 725 1372.2 709 1372.3 706 1372.4 728 1372.5 682 1372.6 702 1372.7 705 1372.8 741 1372.9 708 1372.9 729 1373.0 710 1373.1 722 1373.2 732 1373.3 704 1373.4 713 1373.5 727 1373.6 719 1373.7 708 1373.8 700 1373.9 709 1374.0 695 1374.1 739 1374.2 710 1374.3 720 1374.4 727 1374.5 702 1374.5 725 1374.6 710 1374.7 717 1374.8 709 1374.9 689 1375.0 698 1375.1 694 1375.2 701 1375.3 707 1375.4 729 1375.5 713 1375.6 699 1375.7 722 1375.8 702 1375.9 707 1376.0 709 1376.1 719 1376.1 732 1376.2 737 1376.3 709 1376.4 717 1376.5 707 1376.6 732 1376.7 721 1376.8 707 1376.9 705 1377.0 695 1377.1 748 1377.2 710 1377.3 750 1377.4 734 1377.5 694 1377.6 732 1377.7 727 1377.7 738 1377.8 731 1377.9 713 1378.0 718 1378.1 716 1378.2 719 1378.3 757 1378.4 707 1378.5 711 1378.6 721 1378.7 719 1378.8 703 1378.9 724 1379.0 706 1379.1 706 1379.2 694 1379.3 689 1379.3 695 1379.4 707 1379.5 720 1379.6 707 1379.7 732 1379.8 714 1379.9 729 1380.0 720 1380.1 725 1380.2 736 1380.3 709 1380.4 741 1380.5 731 1380.6 715 1380.7 723 1380.8 732 1380.9 731 1380.9 740 1381.0 737 1381.1 708 1381.2 736 1381.3 710 1381.4 726 1381.5 698 1381.6 698 1381.7 724 1381.8 734 1381.9 722 1382.0 718 1382.1 748 1382.2 695 1382.3 702 1382.4 729 1382.5 716 1382.5 724 1382.6 713 1382.7 716 1382.8 707 1382.9 713 1383.0 720 1383.1 747 1383.2 710 1383.3 744 1383.4 703 1383.5 710 1383.6 717 1383.7 712 1383.8 731 1383.9 724 1384.0 721 1384.1 700 1384.1 691 1384.2 717 1384.3 717 1384.4 702 1384.5 686 1384.6 739 1384.7 744 1384.8 717 1384.9 715 1385.0 727 1385.1 722 1385.2 711 1385.3 742 1385.4 729 1385.5 701 1385.6 719 1385.6 704 1385.7 699 1385.8 709 1385.9 714 1386.0 721 1386.1 742 1386.2 699 1386.3 738 1386.4 723 1386.5 691 1386.6 705 1386.7 719 1386.8 723 1386.9 722 1387.0 698 1387.1 713 1387.2 707 1387.2 727 1387.3 734 1387.4 690 1387.5 708 1387.6 737 1387.7 723 1387.8 712 1387.9 721 1388.0 706 1388.1 721 1388.2 747 1388.3 714 1388.4 709 1388.5 675 1388.6 746 1388.7 696 1388.8 697 1388.8 709 1388.9 722 1389.0 736 1389.1 729 1389.2 760 1389.3 718 1389.4 746 1389.5 698 1389.6 701 1389.7 719 1389.8 718 1389.9 680 1390.0 700 1390.1 736 1390.2 758 1390.3 716 1390.4 704 1390.4 720 1390.5 753 1390.6 756 1390.7 689 1390.8 715 1390.9 709 1391.0 717 1391.1 710 1391.2 680 1391.3 710 1391.4 715 1391.5 744 1391.6 706 1391.7 721 1391.8 719 1391.9 739 1392.0 719 1392.0 720 1392.1 719 1392.2 703 1392.3 696 1392.4 716 1392.5 721 1392.6 701 1392.7 730 1392.8 719" fill="none" stroke="#da0000" stroke-width="1.25"/>
<text transform="translate(839.32 982.50) scale(0.7158 1)" font-size="30">SNR = 0.44</text>
<line x1="1055.90" y1="940.00" x2="1118.60" y2="940.00" stroke="#000" stroke-width="1.5" stroke-linecap="butt"/>
<line x1="1055.90" y1="974.20" x2="1118.60" y2="974.20" stroke="#da0000" stroke-width="1.5" stroke-linecap="butt"/>
<text transform="translate(1126.20 948.60) scale(0.7019 1)" font-size="30">f-LFS device w/o DNA</text>
<text transform="translate(1125.40 981.90) scale(0.7262 1)" font-size="30">21 pg/mL non-target DNA</text>
<g transform="translate(34.10 954.90) rotate(-90)">
<text transform="translate(-1.20 0.00) scale(0.7653 1)" font-size="31">Count per Second (</text>
<text transform="translate(208.41 0.00) scale(0.9262 1)" font-size="31">×</text>
<text transform="translate(228.71 0.00) scale(0.7991 1)" font-size="31">10</text>
<text transform="translate(256.80 -9.20) scale(0.8316 1)" font-size="21">4</text>
<text transform="translate(276.31 0.00) scale(0.7519 1)" font-size="31">cps)</text>
</g>
<g transform="translate(762.00 954.00) rotate(-90)">
<text transform="translate(-1.20 0.00) scale(0.7653 1)" font-size="31">Count per Second (</text>
<text transform="translate(208.41 0.00) scale(0.9262 1)" font-size="31">×</text>
<text transform="translate(228.71 0.00) scale(0.7991 1)" font-size="31">10</text>
<text transform="translate(256.80 -9.20) scale(0.8316 1)" font-size="21">4</text>
<text transform="translate(276.31 0.00) scale(0.7519 1)" font-size="31">cps)</text>
</g>
</svg></body></html>
